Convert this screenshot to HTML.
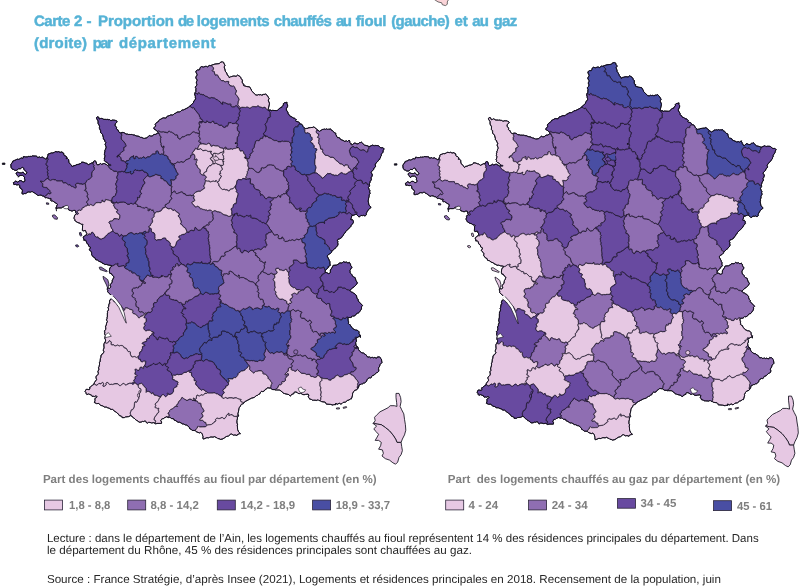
<!DOCTYPE html>
<html lang="fr"><head><meta charset="utf-8"><title>Carte 2</title>
<style>html,body{margin:0;padding:0;background:#fff}svg{display:block}</style></head>
<body>
<svg width="806" height="588" viewBox="0 0 806 588" font-family="'Liberation Sans', Arial, sans-serif" text-rendering="geometricPrecision">
<rect width="806" height="588" fill="#fff"/>
<g transform="translate(0,0)" stroke="#120f1c" stroke-width="0.62" stroke-linejoin="round">
<path d="M222.9,61.9 222.6,62.1 222.4,61.9 221.1,62.1 220.1,62.6 219.4,63.6 214.9,64.1 210.6,65.6 209.9,65.4 209.1,65.6 207.6,66.9 206.4,66.4 205.4,66.4 203.4,67.1 201.4,66.6 200.6,67.1 199.9,68.4 199.9,69.1 199.1,70.1 198.1,69.9 197.9,70.1 197.6,69.9 195.9,71.1 196.1,72.4 197.1,74.4 197.1,75.1 195.9,77.1 195.9,78.1 197.1,79.9 197.1,80.6 196.4,81.9 196.4,83.4 196.9,83.9 196.9,84.6 196.4,85.9 195.4,86.9 195.4,87.6 196.1,88.6 195.9,89.1 195.9,91.6 195.1,92.6 194.6,94.1 195.4,96.4 195.1,97.1 195.6,97.9 195.6,98.9 195.1,99.9 193.9,100.9 193.4,102.9 188.1,107.6 183.6,109.9 181.9,110.1 180.6,111.4 179.6,111.9 176.9,112.1 176.1,113.1 174.4,113.6 172.9,115.1 170.9,114.9 168.1,116.1 167.4,116.1 166.1,118.1 163.1,117.9 160.4,119.4 159.9,119.4 158.9,120.6 158.9,121.1 158.1,121.9 157.1,122.1 155.1,124.4 155.6,124.9 155.6,126.1 154.1,127.6 153.9,128.9 154.4,129.4 154.9,129.4 156.1,130.1 156.6,130.9 157.4,131.1 158.1,132.4 157.1,133.6 155.1,134.6 154.1,134.4 152.1,136.1 150.6,136.1 149.9,135.6 149.1,135.6 146.9,137.9 144.4,138.4 143.9,138.1 143.6,138.4 141.6,137.4 141.1,137.6 140.9,137.1 140.4,137.4 139.9,136.9 139.4,136.9 139.1,136.4 136.1,135.9 134.1,134.9 132.9,135.1 132.4,134.6 131.1,134.4 130.9,134.6 129.9,134.4 128.9,134.6 127.4,134.1 125.9,134.1 124.9,133.1 122.9,132.4 121.1,132.6 120.1,133.1 118.9,131.9 118.1,130.6 118.4,130.4 116.6,129.1 116.4,128.6 116.6,127.6 116.1,126.6 114.9,125.6 115.4,123.6 117.1,121.9 117.1,121.4 115.9,120.4 115.4,120.6 114.9,120.1 113.9,120.4 113.1,119.9 111.1,120.6 110.4,120.4 109.6,119.6 108.9,119.9 108.1,119.4 106.6,119.4 106.4,119.6 106.1,119.4 103.9,119.4 102.6,118.9 101.9,118.1 101.6,118.4 101.1,118.1 100.4,118.9 100.1,118.6 99.4,119.1 98.9,118.1 98.9,117.4 97.9,116.9 97.1,116.9 96.6,117.4 96.6,118.6 98.1,120.9 98.1,123.4 99.6,126.1 99.4,127.4 99.6,128.6 99.4,128.9 100.6,130.1 100.4,130.4 100.6,130.6 100.6,132.6 102.4,134.1 103.4,137.6 103.4,138.9 103.9,139.6 104.6,139.9 104.9,141.4 105.9,142.4 105.1,144.4 106.1,146.9 106.1,147.9 105.4,149.1 105.4,149.9 104.9,150.4 104.9,151.9 104.4,153.1 104.6,153.6 104.4,154.9 104.9,155.4 104.9,156.6 104.1,159.1 104.6,159.6 104.4,160.6 105.6,161.9 107.1,162.4 108.6,164.1 108.6,164.9 108.1,165.4 107.4,165.4 106.6,164.6 106.1,164.6 104.6,163.6 103.6,163.6 101.6,164.4 100.6,163.4 99.1,164.6 97.4,164.9 96.6,163.9 95.9,161.4 95.1,160.9 94.4,160.9 93.6,161.4 93.6,162.1 92.9,162.4 93.1,162.6 92.9,162.9 91.9,162.9 88.6,164.6 88.1,164.6 87.6,163.9 86.1,163.1 85.4,163.1 83.9,162.4 81.6,162.1 81.6,162.6 80.4,163.6 77.9,164.6 77.1,164.4 75.1,165.6 73.6,165.6 72.6,166.9 71.9,166.1 72.1,165.9 70.6,164.6 68.9,162.4 68.6,159.6 67.4,158.4 66.4,158.6 66.1,158.4 66.4,157.9 66.9,157.9 66.6,156.9 65.9,156.1 65.1,155.9 64.9,156.1 63.9,154.9 63.6,153.1 62.9,153.1 62.1,151.9 60.1,152.4 58.6,151.6 57.6,151.9 55.1,151.6 54.4,152.4 52.1,153.1 51.4,152.9 49.9,153.6 48.4,153.9 47.9,154.6 47.9,155.6 46.4,159.1 45.4,159.1 44.4,158.1 43.4,157.9 43.1,157.4 42.4,157.1 40.6,157.6 39.9,156.9 37.6,157.6 36.9,156.4 35.9,155.9 35.4,156.1 32.1,155.9 31.6,156.4 29.6,156.4 29.4,156.6 28.1,156.4 27.4,156.9 25.4,156.9 25.1,157.1 24.4,156.6 23.4,156.6 23.6,157.4 22.9,157.6 23.1,157.9 22.9,158.4 22.4,158.4 21.9,157.9 20.4,158.4 19.4,159.1 18.6,159.4 17.6,159.1 17.1,159.4 16.9,159.1 16.6,159.6 16.1,159.6 14.9,160.6 14.4,160.4 13.6,160.6 13.1,161.6 12.6,161.4 12.6,162.1 10.9,164.4 11.1,167.4 12.6,169.4 13.4,169.4 14.4,170.1 16.1,170.4 17.4,169.9 18.6,168.6 20.4,168.9 21.6,167.6 22.6,167.4 23.9,168.4 23.9,169.4 26.6,172.1 26.9,172.9 25.6,174.4 24.9,174.4 23.1,172.1 21.4,172.9 19.9,172.9 17.6,172.1 16.9,172.4 16.1,173.1 16.1,173.9 17.4,175.1 17.4,175.6 18.4,176.6 18.4,177.1 19.6,175.4 22.6,175.4 24.6,177.1 24.4,179.1 24.9,179.6 24.9,181.1 24.1,181.9 22.6,181.9 21.9,180.9 20.1,180.6 19.1,180.9 18.1,182.1 17.4,182.1 15.6,180.9 14.1,182.6 13.4,182.6 13.9,184.6 15.6,184.4 17.1,185.1 17.9,184.6 18.1,184.9 18.9,184.6 19.6,185.4 19.9,187.9 21.6,188.9 22.6,190.9 22.1,192.1 22.1,193.9 23.6,193.9 24.9,193.4 25.4,193.6 26.6,193.1 27.1,192.4 28.1,191.9 30.6,192.1 31.6,191.6 32.4,191.6 34.1,192.9 34.6,192.9 37.4,195.1 38.9,195.6 39.4,195.1 41.1,195.1 42.4,195.9 43.9,196.1 44.9,197.4 45.9,197.9 46.4,197.6 47.6,197.9 48.1,198.4 48.6,198.1 49.4,198.6 50.9,198.4 51.4,199.1 50.6,199.9 51.1,200.1 50.9,200.6 51.4,201.1 52.6,200.9 57.4,204.1 57.4,204.6 56.9,205.1 56.9,206.1 56.4,206.9 56.1,208.6 58.1,207.9 61.4,207.9 63.4,206.6 65.4,206.4 68.1,208.9 68.9,210.1 70.4,210.4 70.9,210.9 72.9,210.9 73.6,210.4 75.1,210.4 75.4,210.6 75.9,213.1 76.4,213.6 74.6,215.4 74.9,215.6 74.4,216.1 74.6,217.1 74.1,217.6 74.4,218.1 74.1,218.6 74.9,219.6 74.6,219.9 75.4,221.1 77.9,222.6 79.9,223.1 80.6,223.9 81.9,224.4 82.4,224.1 83.1,224.9 82.6,225.4 82.4,230.4 82.9,230.9 85.4,230.4 85.9,231.1 85.9,231.9 86.9,233.4 86.4,234.6 84.6,236.1 84.1,236.1 83.6,236.6 83.9,236.9 83.1,237.6 84.1,239.4 83.6,240.1 84.4,239.9 84.6,240.4 85.4,240.1 86.1,240.9 86.9,243.4 88.4,244.4 88.6,246.1 90.4,247.1 90.4,248.1 89.9,248.4 90.1,248.9 89.4,249.4 89.4,249.9 91.1,251.6 91.1,252.1 91.9,252.9 91.6,253.6 91.9,253.9 91.6,254.4 91.9,255.1 93.4,257.1 95.1,257.9 95.6,259.6 97.6,260.1 99.1,261.4 101.4,262.1 101.9,262.9 104.6,264.1 104.9,264.6 106.4,264.4 108.6,265.1 111.1,265.4 111.9,265.9 110.1,267.6 109.6,269.1 109.4,271.6 109.9,273.4 111.4,273.6 112.4,275.4 113.9,276.6 113.9,277.4 113.4,277.9 113.1,279.1 112.4,279.9 112.1,280.9 112.4,281.1 111.9,282.6 110.4,284.6 110.1,285.9 110.9,286.6 110.4,287.6 109.6,288.4 107.9,287.9 107.4,288.1 107.4,289.6 107.9,290.4 107.6,291.6 109.1,293.4 111.6,295.4 112.4,297.1 112.4,297.9 111.1,299.4 109.9,299.9 109.4,302.1 110.1,303.1 109.1,303.6 108.6,306.9 108.1,307.4 108.6,309.1 108.1,310.9 107.4,311.4 107.6,312.6 107.4,312.9 107.4,316.9 107.1,317.1 107.1,318.6 106.6,319.1 106.9,320.6 107.4,321.4 106.4,323.9 106.4,325.1 105.6,326.1 105.6,327.4 105.9,327.6 105.6,329.6 104.4,331.1 104.9,331.9 104.6,333.9 105.4,335.4 104.9,338.4 105.6,339.9 105.4,341.6 104.6,342.4 104.6,343.1 104.1,343.6 103.9,344.9 104.1,347.9 103.4,349.6 103.4,350.9 103.9,351.4 103.9,352.1 102.6,353.9 101.9,354.1 101.9,354.6 101.1,355.1 100.9,357.4 100.4,358.6 100.1,361.9 99.4,362.4 99.6,364.1 99.1,366.6 98.6,367.1 98.9,369.9 97.9,371.1 98.4,373.4 97.9,374.6 96.4,376.1 95.9,377.1 96.1,377.6 95.9,378.1 96.4,378.6 96.6,379.6 94.4,382.6 93.9,384.4 92.9,385.1 92.4,385.1 90.1,387.4 89.9,387.1 89.6,387.4 89.9,387.6 89.6,387.9 89.9,388.9 89.4,389.6 88.1,389.6 87.9,389.4 86.1,389.4 85.1,391.6 85.9,392.4 86.4,394.1 86.9,394.6 88.4,393.9 91.6,395.1 91.9,395.4 91.6,395.9 92.1,396.4 93.4,396.4 93.6,396.1 94.4,396.6 94.9,396.1 96.4,395.9 96.9,396.4 96.9,397.1 96.1,397.9 95.6,397.9 94.9,398.9 95.1,400.4 94.4,402.6 94.9,402.6 96.4,403.6 96.6,403.4 96.9,403.6 98.9,403.4 100.6,405.4 102.9,405.9 104.1,406.9 105.1,407.1 106.1,406.9 107.9,407.9 109.4,408.1 109.9,408.9 111.1,409.4 112.6,409.4 115.1,411.6 116.1,411.9 117.4,413.4 118.1,413.6 119.4,415.6 121.4,416.1 121.9,416.6 122.1,417.6 124.4,417.6 125.4,416.9 128.6,416.6 130.6,415.6 131.9,416.1 133.6,418.1 134.1,418.1 136.4,420.4 136.6,420.1 139.1,422.1 141.1,422.1 142.4,421.4 143.4,421.6 144.1,421.1 145.4,421.1 146.1,421.6 146.1,422.1 146.9,423.1 147.4,423.1 148.4,422.4 149.9,422.4 151.6,422.9 153.6,422.6 155.9,423.9 156.9,423.4 161.4,423.4 161.6,422.1 160.6,420.4 161.6,419.6 161.9,418.9 162.1,419.1 162.6,418.6 163.1,418.9 164.1,417.9 166.9,416.6 167.6,417.4 168.4,417.6 169.1,417.1 170.4,417.6 171.6,418.6 173.4,418.6 173.9,419.1 173.9,419.9 176.4,420.9 176.6,421.4 177.9,422.1 179.1,422.4 179.6,422.1 182.9,424.1 183.4,423.9 185.4,424.9 186.9,425.1 189.4,427.4 189.6,428.6 190.9,429.1 192.1,430.4 195.4,430.6 196.1,431.6 199.4,432.9 200.1,432.4 200.9,432.4 202.4,434.1 202.6,435.6 203.1,436.4 202.9,436.9 203.1,438.9 203.9,438.9 206.9,437.6 208.9,437.9 209.4,437.4 210.9,436.9 213.1,437.1 214.6,436.6 216.4,437.6 216.9,437.6 217.9,438.6 219.1,438.6 220.4,439.4 222.9,438.9 226.1,436.6 228.6,435.9 230.9,433.9 231.4,433.9 233.4,435.1 234.9,434.9 236.1,435.1 236.9,435.6 236.9,435.1 238.1,434.1 238.9,434.1 239.4,433.6 239.6,433.9 240.4,433.6 238.6,431.9 237.6,429.6 237.4,426.1 237.1,425.9 237.6,424.1 236.9,423.1 236.9,420.4 237.4,418.9 237.4,416.9 238.1,416.6 238.6,415.9 238.4,414.9 237.9,414.4 237.9,413.1 238.4,412.1 238.9,408.6 239.4,407.4 240.6,405.9 240.6,405.1 241.4,404.4 242.4,403.9 243.1,403.9 244.9,401.6 251.6,398.1 254.4,397.4 256.4,395.4 256.6,395.6 257.4,395.4 258.6,394.4 259.6,394.1 260.4,392.4 261.9,391.1 262.6,391.6 264.1,391.1 265.9,388.9 266.4,388.9 267.9,387.6 268.1,387.9 270.6,388.1 272.1,389.4 272.9,389.6 274.9,389.6 275.4,390.1 276.6,389.9 276.9,390.1 277.9,389.9 279.9,390.1 283.9,393.4 284.1,393.1 284.6,393.6 288.9,394.6 290.1,396.1 291.1,395.4 291.6,394.4 293.9,393.6 293.9,392.9 294.6,391.9 295.4,391.9 297.1,392.4 298.1,393.4 299.4,393.6 300.6,393.1 302.9,394.6 305.1,394.6 305.4,394.4 308.1,394.1 308.9,395.1 308.1,396.9 309.4,398.1 309.4,398.9 311.4,399.4 312.1,400.1 313.6,400.1 313.9,400.4 314.6,400.1 316.9,400.4 317.6,399.9 318.4,399.9 319.1,400.6 320.1,400.6 321.6,401.6 325.1,402.1 325.9,402.9 326.1,403.9 326.6,404.1 330.6,404.4 333.1,405.1 333.6,404.6 335.9,404.6 335.6,404.4 335.9,403.1 336.6,404.1 337.9,404.1 339.1,403.1 340.9,404.1 341.9,403.6 343.1,402.4 345.4,402.1 347.9,400.1 348.9,400.1 350.4,398.9 351.4,398.9 352.6,394.9 352.4,393.9 353.4,391.9 354.9,390.1 355.9,390.1 357.1,389.4 358.6,387.1 359.1,384.9 359.9,384.4 360.9,384.4 361.4,383.9 362.4,383.9 363.4,383.1 364.6,383.1 366.6,381.1 366.9,379.9 368.1,378.4 369.9,377.6 370.4,377.9 371.9,376.9 371.6,376.6 372.4,375.6 374.1,375.1 376.6,372.6 377.6,372.4 378.6,371.4 378.9,369.6 378.1,369.1 378.6,368.4 378.6,367.4 379.4,366.9 380.1,364.4 381.9,362.6 381.4,359.1 380.6,358.4 380.6,357.9 379.6,357.1 378.6,357.1 377.9,356.6 376.9,358.1 375.9,358.1 374.9,357.4 373.6,357.9 372.6,357.4 371.6,357.4 370.9,358.1 369.6,356.9 369.4,357.1 367.6,357.1 365.9,354.6 365.1,354.4 363.6,353.1 361.9,352.9 359.6,351.1 358.4,349.4 358.1,347.4 357.1,346.6 356.9,346.9 355.9,345.1 355.6,342.6 356.4,341.4 356.4,339.9 355.9,339.1 356.1,338.1 359.6,336.1 360.1,336.4 360.4,337.4 360.4,335.1 360.1,335.4 359.6,335.1 359.6,334.4 358.9,333.4 359.1,332.6 358.9,331.6 357.9,330.6 356.6,330.1 355.6,330.1 353.1,328.9 351.4,326.9 351.1,326.1 350.6,325.9 350.4,324.9 349.1,324.4 348.4,323.6 348.6,322.9 348.4,321.4 348.6,321.1 348.1,320.4 347.9,317.9 348.9,317.4 350.1,317.6 351.4,317.1 351.1,316.9 351.9,316.6 352.6,315.9 353.4,316.1 355.1,315.6 356.6,313.6 357.1,313.6 357.6,312.9 358.1,313.1 359.1,312.4 361.1,309.6 361.6,308.1 361.4,306.9 361.6,306.4 362.6,305.6 358.1,300.9 358.4,299.9 357.4,298.9 356.6,297.1 356.6,295.9 355.9,294.9 353.9,293.1 353.4,293.1 352.6,292.4 351.9,292.4 349.6,290.4 350.9,289.6 352.9,287.4 353.9,287.1 356.1,284.9 357.4,282.9 355.9,280.4 355.1,277.6 353.6,277.1 352.4,275.9 352.1,274.9 350.6,273.4 349.9,272.1 350.1,271.9 349.9,270.4 351.9,267.4 351.4,266.1 350.6,265.6 350.4,264.9 350.6,264.6 350.1,263.4 349.6,263.1 349.4,262.4 347.9,263.1 346.6,262.1 344.9,262.4 343.6,261.6 342.1,263.1 339.6,262.9 339.4,263.4 336.6,265.1 333.1,265.4 332.4,267.1 330.4,270.1 330.4,271.9 330.1,272.9 329.6,273.4 328.4,273.6 326.6,272.6 325.1,272.6 324.9,271.6 325.4,271.4 325.1,271.1 325.4,270.1 327.6,268.4 328.4,267.1 328.1,266.6 328.4,266.4 328.6,266.6 329.1,265.9 329.4,266.1 330.4,265.1 329.9,264.1 329.9,261.6 329.4,261.1 329.1,259.9 327.4,256.6 327.4,255.6 329.1,254.1 329.9,253.9 331.4,252.4 331.6,251.6 334.6,248.6 335.1,248.6 335.9,247.4 337.4,245.9 337.9,244.9 337.9,243.1 337.6,242.9 337.9,241.6 337.4,240.9 337.4,240.1 338.1,239.6 338.1,239.1 339.4,238.9 341.6,237.6 342.1,236.4 343.6,235.1 343.6,234.1 345.1,232.9 345.6,231.6 349.9,227.6 351.1,226.1 351.1,225.4 351.6,224.6 352.4,224.1 353.4,222.4 353.1,222.1 353.4,221.4 353.1,220.6 352.4,219.6 351.1,219.9 350.6,219.4 351.4,217.6 351.6,215.9 355.6,214.4 356.4,214.4 358.9,216.9 359.9,216.6 360.9,215.4 362.6,215.6 363.6,215.1 363.9,215.6 365.1,215.9 366.1,215.1 366.4,214.6 366.1,213.9 366.6,212.6 368.4,209.6 370.9,207.6 370.6,206.6 368.9,205.1 368.1,200.4 368.6,200.1 368.4,199.1 369.1,196.4 368.9,195.9 369.4,195.1 369.4,194.4 370.1,193.6 369.6,191.9 369.9,190.6 369.1,189.6 368.4,187.4 369.6,185.9 369.4,185.6 369.6,185.4 369.4,183.6 370.1,182.1 369.9,181.4 371.1,180.4 371.4,179.1 370.9,177.9 371.9,176.4 371.9,175.6 372.4,175.4 372.1,174.1 371.1,172.6 371.6,171.4 373.6,169.6 373.9,168.1 375.4,166.9 375.6,166.1 375.1,164.9 375.9,163.1 377.1,162.1 379.6,159.1 379.4,158.9 380.4,158.1 380.6,156.6 381.4,155.4 381.1,154.9 381.9,153.4 383.1,152.1 382.9,151.9 383.4,150.9 383.1,150.6 384.1,148.9 383.4,148.1 382.1,147.6 381.1,147.9 380.1,147.4 378.4,145.6 378.1,145.9 377.1,145.4 376.9,145.6 375.4,145.4 375.1,145.9 374.6,145.9 374.1,145.4 373.6,145.6 373.1,145.1 372.6,145.1 369.9,146.4 368.6,146.6 368.4,146.1 364.4,145.1 361.1,141.9 360.4,142.6 359.6,142.6 358.1,143.9 356.9,143.9 355.1,143.1 354.1,143.1 352.4,144.9 351.6,144.9 350.9,144.1 351.1,143.9 350.9,143.1 350.4,143.1 349.6,142.4 350.1,141.9 349.6,141.4 349.4,140.1 348.9,140.6 348.4,140.6 347.6,141.6 346.6,140.9 344.4,141.4 344.1,140.9 340.4,139.4 339.6,137.9 338.6,137.6 337.9,137.9 336.9,136.9 336.1,134.9 335.6,134.4 335.9,134.1 335.6,133.1 334.1,132.6 333.4,131.9 333.4,131.4 332.4,130.6 331.9,130.6 331.1,129.9 330.6,128.9 328.9,129.4 328.6,129.1 327.6,129.4 326.4,128.9 325.6,129.4 324.4,129.1 323.4,129.4 323.1,129.1 319.4,131.4 313.9,126.9 312.1,127.6 310.9,127.4 310.6,127.6 308.1,127.9 307.9,128.4 306.6,128.4 305.9,128.9 304.9,128.4 302.9,126.4 302.9,125.9 301.9,124.4 300.4,124.1 299.4,123.1 299.4,122.6 298.4,121.9 296.1,121.4 295.6,120.6 296.4,119.9 295.1,118.6 294.1,118.1 293.1,118.1 292.1,116.9 290.4,116.6 289.4,114.9 288.6,114.6 288.1,113.9 288.1,112.9 286.9,110.6 286.4,110.4 286.4,108.6 287.6,106.4 287.6,104.9 286.9,103.9 286.9,102.1 286.1,102.6 284.1,102.9 283.4,103.6 283.4,105.1 282.1,106.4 281.9,107.4 280.1,107.9 277.4,110.4 276.4,110.6 272.4,110.4 271.1,110.9 270.9,110.1 268.6,110.1 268.1,109.6 269.4,104.1 269.4,103.1 268.4,100.9 268.4,99.9 269.1,98.6 267.6,96.1 265.9,94.1 265.4,93.9 264.9,94.4 263.6,94.4 262.1,94.9 261.9,95.4 261.4,94.9 260.1,94.6 259.4,94.9 258.4,94.6 257.6,95.1 255.9,95.1 251.6,90.9 251.4,89.9 249.6,86.9 246.9,86.6 243.6,85.6 243.4,84.9 243.9,84.4 243.6,84.1 243.4,84.4 243.1,83.4 242.1,82.6 242.4,80.1 241.1,78.6 241.1,78.1 240.1,76.6 237.6,75.1 236.1,76.4 234.9,76.1 233.1,76.1 231.6,76.6 230.9,76.4 230.1,77.4 229.1,77.6 228.9,76.4 227.1,74.9 227.1,74.1 226.1,72.1 225.1,71.1 225.1,70.1 224.1,66.9 224.9,65.9 224.9,64.9 224.1,64.1 223.6,62.4Z" fill="#8f6eb2"/>
<path d="M293.4,260.4 293.4,261.6 293.9,262.6 293.6,264.1 290.9,266.4 289.6,266.9 289.1,267.9 290.1,270.4 288.9,271.9 288.6,275.4 289.4,276.1 289.4,276.9 288.6,277.6 288.6,278.4 289.1,279.1 289.1,282.1 289.6,283.6 291.1,286.1 293.6,287.6 294.1,287.4 295.1,287.6 296.6,289.6 298.9,289.6 299.1,289.4 300.9,290.4 302.1,289.9 303.6,290.1 305.4,287.6 307.1,286.9 308.4,286.9 310.9,288.9 311.4,291.1 313.1,292.9 315.4,293.9 317.4,293.4 318.1,292.6 318.6,290.6 318.1,289.9 319.6,288.1 320.1,288.1 321.6,285.9 323.6,286.1 322.9,285.4 322.9,282.9 321.9,281.1 320.9,280.9 320.9,279.9 319.9,277.4 321.6,275.9 321.6,275.1 322.1,274.4 324.4,273.4 325.1,272.6 324.9,271.6 325.4,271.4 325.1,271.1 325.4,270.9 324.4,269.1 324.1,267.6 323.1,267.4 322.4,267.9 319.4,268.1 318.6,267.4 318.1,267.4 315.9,269.1 315.1,269.1 313.9,267.9 311.4,268.1 307.6,267.1 306.9,265.9 307.1,264.4 305.9,262.1 305.1,262.1 304.1,263.1 300.9,263.1 299.6,262.6 298.4,261.1 296.6,260.1 293.9,260.1Z" fill="#684aa0"/>
<path d="M264.9,107.4 262.4,107.9 260.6,107.1 259.9,107.1 258.1,105.9 257.6,105.9 256.6,106.9 252.4,106.6 252.1,107.1 250.1,108.1 249.4,108.1 247.6,107.1 246.4,107.1 245.6,107.6 241.9,107.4 240.4,108.1 239.4,109.1 240.1,110.4 240.1,111.6 239.1,113.4 239.1,114.1 239.9,115.9 238.6,116.9 238.4,117.9 238.9,118.9 238.4,119.9 237.1,120.6 235.9,122.9 236.1,123.6 237.6,123.9 238.4,124.6 238.1,126.4 237.4,127.4 237.6,130.4 237.9,130.9 239.6,131.9 238.9,133.6 238.6,134.9 238.9,135.6 237.9,136.4 237.4,137.9 237.1,141.9 236.9,142.1 237.1,142.6 236.9,142.9 237.4,143.4 237.6,144.4 237.4,144.9 237.6,145.1 236.6,146.4 237.1,147.1 238.6,147.6 239.4,148.4 239.4,149.1 240.1,150.6 240.9,151.1 241.1,150.9 242.6,150.9 243.6,151.6 243.9,153.4 245.4,154.9 245.9,156.9 245.6,157.4 244.6,157.1 244.6,157.9 245.1,158.4 245.6,158.4 245.9,157.4 246.4,158.9 246.9,158.9 247.4,158.4 247.9,158.6 249.1,158.4 249.6,157.9 249.4,156.6 250.4,155.9 249.9,154.4 250.4,153.9 250.9,153.9 253.1,151.1 252.4,150.4 252.4,149.4 254.1,147.4 254.4,144.9 255.1,143.4 255.4,141.4 256.4,140.6 257.6,140.4 259.1,140.6 260.6,138.1 262.6,138.4 263.1,136.4 263.6,135.9 264.6,135.9 265.1,136.4 266.1,136.6 265.9,135.9 263.9,134.9 263.4,134.1 263.4,133.4 264.9,132.1 265.6,130.9 266.1,128.9 266.1,126.9 264.9,124.1 266.9,122.1 266.9,121.4 267.6,119.9 267.9,117.9 268.6,117.4 270.1,117.1 270.4,116.6 270.1,116.1 270.1,113.4 270.4,113.1 270.1,112.9 270.4,112.6 269.4,111.9 269.4,111.4 268.6,110.4 267.6,110.1Z" fill="#684aa0"/>
<path d="M211.9,263.1 212.4,263.6 212.6,263.4 213.9,263.6 214.6,264.4 214.6,265.6 217.4,267.1 218.4,268.1 219.4,269.9 221.4,270.1 221.9,270.6 221.9,271.4 221.4,272.1 221.6,273.1 221.4,274.4 221.6,275.4 222.4,276.4 223.1,276.1 223.4,275.6 223.1,274.4 223.6,273.9 225.4,273.9 226.1,273.4 227.9,274.1 229.4,273.9 228.9,271.9 229.6,271.1 230.4,271.1 232.6,272.1 234.1,274.1 237.6,276.4 238.1,275.9 238.1,275.4 238.9,274.9 239.4,275.6 238.9,277.1 239.4,278.1 239.9,278.1 240.6,277.4 242.9,277.4 243.1,277.6 243.4,277.4 243.9,277.9 246.9,279.1 247.9,280.1 250.1,281.4 251.1,281.4 253.4,282.1 255.6,284.1 255.6,285.1 255.9,285.1 255.9,283.1 258.9,280.4 258.9,279.9 257.9,278.4 258.1,278.1 258.1,275.6 259.4,274.4 260.4,273.9 261.1,271.9 261.9,271.4 262.6,271.4 262.6,270.9 263.4,270.1 263.4,269.6 264.4,268.1 264.1,265.4 264.6,264.4 264.6,263.4 265.6,262.1 265.1,261.9 264.4,262.6 263.6,262.9 261.6,261.4 260.6,261.4 259.6,260.4 259.9,259.4 259.6,258.6 258.9,257.9 257.6,257.4 257.1,255.9 256.4,255.9 255.4,255.4 255.6,254.9 255.4,254.6 255.9,254.1 255.9,253.1 254.4,252.6 253.6,251.9 253.4,250.9 252.9,250.4 251.1,250.4 249.4,251.4 248.4,252.6 246.9,251.1 244.1,250.4 243.9,251.4 243.1,252.4 242.4,252.9 241.6,252.9 240.4,251.4 240.1,249.4 239.4,248.4 238.6,248.4 237.6,249.1 236.9,248.6 236.6,245.6 236.1,246.4 234.6,246.9 230.9,249.9 228.9,250.9 228.1,251.6 227.1,251.6 225.1,252.4 224.6,253.1 225.1,254.4 224.9,255.6 224.1,256.4 222.9,256.1 221.4,256.4 219.9,259.9 217.4,261.9 213.9,261.6Z" fill="#8f6eb2"/>
<path d="M356.6,337.4 355.6,337.1 355.4,337.4 355.4,338.6 354.6,339.4 352.9,339.9 353.4,341.1 352.6,341.9 351.9,341.9 348.4,344.6 347.1,344.4 345.9,344.9 345.1,343.9 342.6,344.4 341.6,343.6 340.1,343.1 339.1,343.1 338.1,343.6 336.4,345.1 335.4,346.6 335.4,347.1 336.4,347.1 336.9,347.6 336.6,348.6 333.9,348.4 333.1,348.9 332.1,348.9 330.9,349.6 329.4,349.4 328.4,350.6 327.6,350.6 327.1,351.1 326.9,352.4 325.9,353.9 324.1,355.4 323.9,357.4 322.4,358.4 320.9,358.1 320.4,358.4 320.6,358.6 319.9,359.6 317.9,359.1 316.1,360.4 315.9,361.9 316.4,362.6 316.9,362.6 317.4,363.1 317.9,364.6 316.4,368.1 316.9,369.1 317.9,369.9 318.4,371.1 318.4,372.6 317.9,373.4 316.9,373.6 316.9,374.4 317.9,375.4 319.4,375.9 320.1,377.1 321.1,377.9 321.9,377.6 322.9,378.4 327.4,378.6 328.9,379.9 330.6,380.1 331.1,379.9 331.1,379.4 331.9,378.6 334.4,377.9 334.9,377.4 335.1,376.4 336.1,375.4 336.4,375.6 337.9,374.9 339.4,376.6 340.9,376.9 342.9,376.1 344.4,374.9 347.6,374.1 348.6,373.4 350.1,373.4 350.4,373.6 350.9,373.1 350.9,371.9 351.4,371.4 352.6,371.9 353.9,371.4 355.9,369.4 356.1,368.4 355.6,367.4 353.9,367.1 353.1,366.4 353.1,364.9 352.6,363.9 352.6,363.1 350.1,359.6 349.9,357.4 350.4,356.6 351.9,355.9 352.4,353.9 351.9,352.6 352.4,351.9 353.6,351.4 354.6,348.6 355.1,348.1 355.9,348.1 356.6,348.6 357.1,348.4 357.4,347.6 356.1,347.4 355.9,347.9 355.1,347.9 353.6,346.6 355.9,344.4 355.6,342.6 356.4,341.4 356.4,339.9 355.9,339.1Z" fill="#684aa0"/>
<path d="M348.1,317.6 346.9,316.9 345.6,318.6 344.1,318.6 343.4,317.9 342.9,317.9 342.9,318.4 341.9,319.9 339.9,319.9 339.6,319.6 339.4,319.9 338.4,318.4 337.1,318.6 335.4,317.9 333.9,317.9 333.6,317.6 333.1,317.9 332.9,318.6 334.1,319.1 335.6,321.6 335.4,323.9 336.4,325.1 336.1,325.4 336.4,325.6 336.1,327.4 335.4,327.9 334.6,327.9 333.6,328.9 333.9,329.9 335.4,331.4 335.4,332.9 334.4,333.1 333.4,332.4 331.9,332.4 330.4,333.1 328.9,332.4 327.4,333.6 325.6,332.9 324.1,333.1 323.6,333.6 323.9,334.4 325.1,334.9 325.4,335.4 324.4,336.1 323.6,336.1 322.6,335.6 321.1,336.4 321.1,337.6 319.6,339.1 318.1,339.4 317.4,339.9 317.6,342.6 316.6,343.6 315.9,343.6 315.6,344.4 316.1,344.9 315.4,345.6 314.6,345.9 313.4,347.4 311.6,347.9 311.1,348.4 311.4,349.6 311.9,349.6 313.4,350.9 314.6,351.4 316.4,352.9 316.6,353.4 316.4,355.4 316.9,356.1 319.4,356.4 319.6,357.6 320.4,358.1 320.9,357.9 322.4,358.1 323.6,357.4 323.9,355.4 325.6,353.9 326.6,352.4 326.9,351.1 327.6,350.4 328.4,350.4 329.4,349.1 330.9,349.4 332.1,348.6 333.1,348.6 333.9,348.1 336.6,348.4 336.6,347.6 335.4,347.4 335.1,346.6 336.1,345.1 338.1,343.4 339.1,342.9 340.1,342.9 341.6,343.4 342.6,344.1 345.1,343.6 345.9,344.6 347.1,344.1 348.4,344.4 351.9,341.6 352.6,341.6 353.1,341.1 352.6,339.9 353.4,339.4 354.6,339.1 355.1,338.6 355.1,337.4 355.6,336.9 356.4,336.9 357.1,337.6 359.9,336.1 360.4,337.4 360.4,335.1 360.1,335.4 359.6,335.1 359.6,334.4 358.9,333.4 359.1,332.6 358.9,331.6 357.4,330.4 355.6,330.1 353.1,328.9 351.4,326.9 351.1,326.1 350.6,325.9 350.4,324.9 349.1,324.4 348.4,323.6 348.6,322.9 348.4,321.4 348.6,321.1 348.1,320.4 348.1,319.1 347.9,318.9Z" fill="#494ea3"/>
<path d="M355.9,344.6 353.9,346.6 355.1,347.6 355.9,347.6 356.1,347.1 356.9,347.1 357.6,347.6 357.4,348.4 356.9,348.9 355.9,348.4 355.1,348.4 354.4,349.6 353.9,351.4 352.9,352.1 352.4,352.1 352.1,352.6 352.6,353.9 352.4,354.1 352.4,355.4 351.9,356.1 350.4,356.9 350.1,358.6 350.9,360.6 352.9,363.1 352.9,363.9 353.4,364.9 353.4,366.4 353.9,366.9 355.6,367.1 356.1,367.6 356.4,368.9 353.9,371.6 352.6,372.1 351.4,371.6 351.1,371.9 351.1,373.1 350.6,373.4 350.6,373.9 351.1,374.6 352.1,374.9 354.1,376.1 355.9,378.9 357.4,380.4 358.4,382.4 357.6,384.1 357.9,385.4 357.4,387.1 357.4,388.1 357.6,387.9 358.1,388.1 359.4,384.6 360.9,384.4 361.4,383.9 362.4,383.9 363.4,383.1 364.6,383.1 366.6,381.1 366.9,379.9 368.1,378.4 369.9,377.6 370.4,377.9 371.9,376.9 371.6,376.6 372.4,375.6 374.1,375.1 376.6,372.6 377.6,372.4 378.6,371.4 378.9,369.6 378.1,369.1 378.6,368.4 378.6,367.4 379.4,366.9 380.1,364.4 381.9,362.6 381.4,359.1 380.6,358.4 380.6,357.9 379.6,357.1 378.6,357.1 377.9,356.6 376.9,358.1 375.9,358.1 374.9,357.4 373.6,357.9 372.6,357.4 371.6,357.4 370.9,358.1 369.6,356.9 369.4,357.1 367.6,357.1 365.9,354.6 365.1,354.4 363.6,353.1 361.9,352.9 359.6,351.1 358.4,349.4 358.1,347.4 357.1,346.6 356.9,346.9Z" fill="#8f6eb2"/>
<path d="M290.1,311.1 286.9,310.9 284.1,313.4 283.6,313.4 283.1,312.6 281.9,312.6 280.6,313.4 280.4,315.1 281.4,316.4 281.4,316.9 279.9,318.9 279.1,322.4 278.6,323.1 277.9,323.1 276.9,322.6 276.4,323.1 276.6,324.1 276.1,324.6 275.6,324.6 275.1,324.1 274.4,324.1 273.6,326.6 273.6,328.6 274.1,329.6 273.1,330.9 270.1,331.1 269.1,330.6 268.4,330.6 267.4,331.6 265.9,332.1 265.4,332.6 264.1,332.6 261.9,333.9 262.1,334.1 261.6,335.1 261.4,336.9 262.1,336.4 262.6,336.4 263.1,336.9 262.6,338.6 263.6,341.4 264.4,341.9 265.4,341.9 266.1,342.6 265.1,344.1 265.9,347.9 267.6,349.9 268.1,351.1 270.4,353.1 271.4,352.6 272.6,352.6 273.4,353.6 274.1,353.6 274.6,352.9 276.6,351.9 277.9,351.9 278.9,352.4 281.9,351.6 283.9,353.6 284.9,353.6 285.9,352.6 286.9,354.1 287.4,354.1 286.6,353.4 287.1,349.6 288.1,348.6 288.1,347.9 287.4,346.9 287.9,345.9 288.9,346.4 289.4,345.9 288.9,345.1 287.9,345.1 287.6,345.6 287.1,345.6 286.1,344.1 288.1,342.6 288.1,340.6 289.6,339.4 290.6,337.4 290.6,335.9 289.6,334.6 289.9,334.1 289.6,330.9 290.4,329.6 289.9,323.6 291.4,321.6 291.1,320.6 291.6,319.4 290.6,317.6 290.9,316.4 290.4,315.9 290.4,311.4Z" fill="#494ea3"/>
<path d="M286.9,102.1 286.1,102.6 284.1,102.9 283.4,103.6 283.4,105.1 282.1,106.4 281.9,107.4 280.1,107.9 277.4,110.4 276.4,110.6 272.4,110.4 271.1,110.9 270.9,110.1 268.9,110.1 269.6,111.9 270.6,112.6 270.4,112.9 270.6,113.1 270.4,113.4 270.4,116.1 270.6,116.6 270.1,117.4 268.1,117.9 267.9,119.9 267.4,120.6 267.1,122.1 265.1,124.1 266.4,126.9 266.4,128.9 265.9,130.9 265.1,132.1 263.6,133.4 263.6,134.1 263.9,134.6 266.4,136.1 267.4,136.1 268.6,137.6 270.6,137.9 271.6,138.9 274.1,140.4 276.9,140.4 278.1,141.6 281.1,141.6 281.9,140.9 283.6,141.4 284.4,141.1 288.6,141.4 289.9,142.6 290.9,143.1 292.6,142.4 292.1,141.4 292.1,139.9 292.4,139.6 292.1,139.4 292.1,137.6 293.1,136.4 294.1,134.1 294.1,133.4 293.6,132.6 293.6,130.6 294.1,128.1 295.9,126.4 296.9,126.9 297.6,126.9 297.9,126.6 297.6,125.9 298.6,124.4 300.6,124.1 298.4,121.9 296.1,121.4 295.6,120.6 296.4,119.9 295.1,118.6 294.1,118.1 293.1,118.1 292.1,116.9 290.4,116.6 289.4,114.9 288.9,114.9 288.1,113.9 288.1,112.9 286.9,110.6 286.4,110.4 286.4,108.6 287.6,106.4 287.6,104.9 286.9,103.9Z" fill="#684aa0"/>
<path d="M168.1,413.1 168.1,413.9 169.1,414.4 169.6,415.1 168.6,416.4 167.4,416.9 167.6,417.4 168.4,417.6 169.1,417.1 170.4,417.6 171.6,418.6 173.4,418.6 173.9,419.1 173.9,419.9 176.4,420.9 176.6,421.4 177.9,422.1 179.1,422.4 179.6,422.1 182.9,424.1 183.4,423.9 185.4,424.9 186.9,425.1 189.4,427.4 189.6,428.6 190.9,429.1 192.1,430.4 194.4,430.4 194.9,430.6 195.6,429.9 195.9,429.1 197.1,428.1 197.4,426.9 198.4,425.9 199.4,426.9 200.6,426.6 203.1,426.9 203.4,426.6 205.6,426.6 207.1,425.1 206.1,424.6 205.9,422.9 205.4,422.4 204.6,422.4 202.4,420.4 200.9,420.4 200.6,420.6 199.9,420.4 199.9,419.6 200.6,418.4 202.6,416.9 202.9,415.6 201.6,413.6 202.1,412.6 203.6,411.6 203.9,411.1 203.9,410.4 203.1,409.4 202.9,408.4 201.4,407.1 200.6,403.4 200.4,403.1 199.4,403.4 198.4,403.1 197.4,401.4 196.9,401.1 194.6,400.9 194.1,400.4 192.1,400.4 191.1,399.1 190.9,399.4 189.9,399.1 187.6,400.4 186.4,400.4 184.6,399.1 184.1,399.1 182.1,397.4 181.6,397.9 181.4,399.1 178.9,401.4 178.1,403.6 176.9,404.6 176.6,405.4 177.6,406.4 177.4,406.6 176.1,406.4 175.1,406.6 172.9,408.6 170.6,409.6 169.6,410.6 169.6,411.6 169.1,412.4Z" fill="#8f6eb2"/>
<path d="M248.6,168.4 248.4,170.4 247.4,171.6 247.6,172.9 246.9,174.4 246.9,175.4 245.9,176.6 246.4,177.1 245.6,178.1 244.6,178.6 245.4,179.1 247.1,179.1 247.4,178.9 249.1,178.9 249.6,178.4 250.1,178.4 250.6,179.1 250.4,183.4 251.1,183.9 253.1,184.1 253.9,185.4 253.9,187.1 254.6,187.6 254.9,188.4 255.6,189.1 259.1,190.1 260.1,191.4 259.9,192.6 261.1,194.4 260.4,195.1 260.9,195.4 261.9,194.4 264.6,196.9 264.6,197.4 265.4,198.4 266.4,198.6 268.1,197.1 270.1,197.1 271.4,197.9 272.4,197.6 272.9,198.1 275.1,197.6 275.9,197.9 277.4,196.9 277.6,196.1 278.4,195.4 279.1,195.6 279.9,197.1 280.6,197.1 280.6,195.6 281.4,194.9 282.4,194.6 283.6,193.6 285.1,193.9 286.4,192.1 286.1,191.4 286.6,190.4 287.4,189.6 288.6,189.1 288.6,187.9 288.4,187.6 288.6,185.6 287.6,184.1 288.4,183.1 288.4,182.4 286.9,181.1 286.4,178.6 284.4,176.9 283.4,175.1 283.6,170.6 282.6,171.1 281.1,170.9 279.4,170.1 278.1,169.1 276.1,168.9 275.4,168.1 275.1,166.9 273.9,165.6 272.6,165.4 271.9,164.9 271.1,165.1 270.9,164.9 267.6,165.1 266.6,166.9 263.9,168.1 263.1,168.1 262.1,167.6 261.4,168.1 261.1,170.6 259.9,171.1 259.1,172.6 257.6,172.6 255.6,171.6 252.9,168.9 251.4,168.4 250.6,168.4 250.1,168.9 248.9,168.1Z" fill="#8f6eb2"/>
<path d="M193.4,398.1 193.4,398.6 194.6,400.1 197.4,401.1 198.4,402.9 198.9,403.1 200.4,402.9 200.9,403.4 201.6,407.1 203.1,408.4 203.1,408.9 204.1,410.4 204.1,411.1 203.6,411.9 202.4,412.6 201.9,413.6 203.1,415.6 202.9,416.9 200.9,418.4 200.1,419.6 200.1,420.4 202.4,420.1 204.6,422.1 205.4,422.1 206.1,422.9 206.1,424.1 206.9,424.9 211.4,424.4 212.6,423.4 213.1,423.4 214.4,421.6 215.4,421.4 215.9,420.9 215.4,419.6 216.9,417.9 218.1,418.4 220.1,418.4 221.1,417.6 222.4,417.4 223.9,418.6 224.4,418.6 226.1,416.6 226.4,415.4 228.6,413.1 229.1,413.4 228.9,415.4 229.6,415.1 229.9,415.4 230.6,414.6 231.9,414.6 232.6,414.9 233.1,415.9 234.9,416.4 237.1,416.1 237.9,414.9 237.9,413.1 238.4,412.1 238.9,408.6 239.4,407.4 240.6,405.9 240.6,405.1 241.4,404.4 242.4,403.9 243.1,403.9 244.1,402.4 243.1,402.6 242.6,402.1 241.1,401.9 240.4,400.4 241.1,399.6 237.6,398.6 236.4,397.9 234.9,397.9 233.6,398.4 232.1,397.9 228.9,397.9 227.9,398.4 227.1,398.4 225.9,397.6 225.1,397.6 224.6,398.1 223.6,398.4 222.6,398.1 222.1,397.6 221.9,396.6 221.1,396.6 220.1,395.4 219.1,395.1 217.1,393.6 216.6,393.9 215.9,393.6 215.1,392.9 213.4,392.9 213.1,393.1 207.4,392.9 206.6,393.4 204.9,393.4 203.4,395.1 202.1,395.1 201.9,394.9 200.6,395.1 199.6,396.1 198.9,396.1 198.1,395.4 197.1,395.1 196.6,396.1 196.4,398.4 195.6,399.4 194.9,399.4 193.9,398.1Z" fill="#e6c8e3"/>
<path d="M222.1,331.1 221.6,331.6 221.6,334.4 221.4,334.9 220.6,335.4 218.9,335.1 218.9,336.4 218.1,337.1 217.4,337.4 217.1,337.1 216.6,337.4 214.4,337.4 214.1,337.1 211.6,338.9 212.1,340.1 211.4,340.9 210.4,339.9 208.6,340.1 208.6,340.6 207.6,341.4 207.4,342.1 205.9,343.4 205.4,342.6 204.1,342.6 203.6,343.1 203.4,344.1 202.9,344.4 201.4,346.6 199.6,348.1 199.9,348.6 199.6,349.9 199.9,350.1 199.9,351.4 201.9,353.6 201.9,354.4 201.4,354.6 201.9,355.4 201.9,357.1 201.4,359.6 203.1,361.1 203.6,361.1 205.4,359.6 206.9,359.4 208.9,360.9 211.1,361.1 213.1,361.9 214.1,362.9 214.1,363.4 214.9,364.1 214.6,364.4 216.4,365.9 216.9,368.1 218.4,369.1 219.9,369.6 220.9,371.9 220.1,373.6 220.4,374.6 222.4,376.4 222.4,376.9 223.1,377.6 224.4,378.4 224.4,378.9 225.9,380.1 226.4,380.1 226.9,381.6 227.9,382.6 228.4,382.6 229.1,381.1 229.1,380.4 228.1,379.6 227.6,378.9 227.9,378.6 232.9,378.9 232.9,378.4 233.6,377.4 234.9,377.4 235.1,377.6 235.9,377.4 237.4,375.6 238.1,374.1 238.1,373.4 238.9,372.6 240.1,372.1 241.1,370.9 242.9,370.9 244.1,370.1 244.9,370.1 245.4,369.1 246.6,368.4 248.9,365.6 246.9,363.1 246.6,362.1 244.9,360.9 244.9,359.9 244.1,359.1 243.9,357.9 242.9,357.1 241.1,356.9 240.1,355.9 240.1,354.9 241.6,353.6 241.4,352.9 240.4,351.9 239.1,351.9 238.6,351.4 238.6,350.6 239.1,349.9 238.6,347.6 238.9,347.1 238.6,346.9 238.9,344.9 237.6,343.4 237.9,341.1 236.9,339.9 236.4,337.9 235.9,337.9 234.4,336.6 234.1,336.9 232.9,336.6 232.4,336.1 232.4,335.4 231.4,334.1 229.9,333.9 229.4,333.1 228.1,332.4 226.1,332.1 225.6,331.6 224.1,331.1Z" fill="#494ea3"/>
<path d="M275.1,389.6 275.4,390.1 276.6,389.9 276.9,390.1 277.9,389.9 279.9,390.1 283.9,393.4 284.1,393.1 284.6,393.6 288.9,394.6 290.1,396.1 291.1,395.4 291.6,394.4 293.9,393.6 293.9,392.9 294.6,391.9 296.6,392.1 298.1,393.4 299.4,393.6 300.6,393.1 302.9,394.6 305.1,394.6 305.4,394.4 308.1,394.1 308.9,395.1 308.1,396.9 309.4,398.1 309.4,398.9 311.4,399.4 312.1,400.1 316.9,400.4 317.6,399.9 318.4,399.9 319.1,400.6 319.6,400.6 320.6,399.4 320.6,397.6 321.1,396.9 321.1,396.1 320.6,395.4 320.6,393.9 321.1,393.1 320.9,390.9 320.1,390.1 320.9,387.9 319.9,385.9 319.9,382.1 320.4,381.4 321.1,381.1 321.9,380.4 321.9,378.6 321.6,378.1 320.6,377.9 319.4,376.1 318.1,375.6 317.4,375.6 316.6,376.9 315.6,377.4 314.4,377.4 312.9,376.6 310.9,376.6 309.6,374.4 306.4,374.6 305.1,373.6 301.6,373.4 299.9,372.1 297.4,369.6 296.6,370.1 296.1,371.1 294.9,371.4 293.6,370.4 291.6,370.1 291.1,369.6 291.4,368.6 290.9,367.9 289.4,367.9 288.4,368.6 288.4,370.9 288.1,371.4 287.4,371.6 285.1,374.1 285.4,374.9 286.4,374.9 286.6,374.1 287.4,373.4 288.6,373.9 288.4,375.4 287.6,376.1 286.9,375.9 286.1,377.6 285.4,378.6 285.6,380.4 283.9,381.9 282.1,381.6 281.6,382.1 282.1,383.1 281.9,383.9 280.6,384.9 279.4,384.6 277.6,387.9 276.6,388.9 276.1,388.9Z" fill="#e6c8e3"/>
<path d="M121.9,132.6 122.1,133.1 121.6,133.6 121.9,135.9 121.1,136.9 121.4,137.1 121.4,139.1 124.1,141.9 125.6,144.1 126.1,146.1 125.4,146.9 123.9,147.4 123.9,150.6 122.9,151.6 122.1,151.6 120.4,153.4 119.9,154.9 117.9,155.4 117.1,156.4 117.1,157.1 117.4,157.1 117.9,155.9 118.9,155.6 120.9,157.6 121.6,160.6 123.4,160.6 125.6,162.1 126.1,160.9 128.9,160.1 129.6,159.4 129.6,158.6 130.1,157.6 131.1,156.9 132.4,156.6 133.1,155.6 133.9,155.9 133.6,156.9 133.9,157.1 133.4,157.9 134.1,158.6 135.4,158.4 134.9,157.1 135.9,156.1 137.4,156.6 138.6,158.4 140.6,157.9 141.9,158.1 143.4,156.6 144.1,156.9 144.6,157.9 145.4,158.1 147.9,156.6 149.6,156.9 151.9,154.4 152.9,153.9 155.4,153.9 155.9,153.4 155.9,151.4 156.4,150.9 157.9,151.1 158.6,152.1 158.4,153.1 159.6,154.1 160.6,154.4 161.6,153.9 162.4,154.1 163.1,153.9 163.6,153.1 163.6,151.4 163.1,150.4 163.1,148.9 163.9,147.4 163.9,146.1 163.1,146.4 162.9,147.6 162.4,147.6 161.6,146.9 160.9,144.1 161.1,143.4 160.4,142.1 160.4,140.9 160.6,140.6 160.4,140.4 160.9,139.9 160.4,139.4 160.4,138.4 161.1,136.9 160.1,136.4 159.1,133.9 159.1,133.1 158.9,133.4 157.4,133.4 155.1,134.6 154.1,134.4 152.1,136.1 150.6,136.1 149.9,135.6 149.1,135.6 146.9,137.9 144.4,138.4 143.9,138.1 143.6,138.4 141.6,137.4 141.1,137.6 140.9,137.1 140.4,137.4 139.9,136.9 139.4,136.9 139.1,136.4 136.1,135.9 134.1,134.9 132.9,135.1 132.4,134.6 131.1,134.4 130.9,134.6 129.9,134.4 128.9,134.6 127.4,134.1 125.9,134.1 123.9,132.6 122.9,132.4Z" fill="#8f6eb2"/>
<path d="M221.1,300.9 220.1,301.9 220.4,303.6 219.9,304.6 220.9,306.6 220.4,307.1 219.4,306.9 216.9,307.6 216.6,309.6 216.1,310.9 215.1,311.9 213.9,312.1 212.6,314.6 213.1,315.4 213.1,316.1 212.1,317.1 212.1,318.6 212.9,319.9 212.9,320.6 212.4,321.1 209.4,320.9 208.6,322.4 208.6,323.4 208.1,324.1 208.1,327.9 208.4,328.1 208.4,329.4 208.9,330.1 209.1,332.6 209.6,333.1 209.9,334.4 209.4,336.6 211.4,338.6 214.1,336.9 214.4,337.1 218.1,336.9 218.6,336.4 218.6,335.1 218.9,334.9 220.1,335.1 221.1,334.9 221.4,334.4 221.4,331.6 222.1,330.9 224.1,330.9 225.1,331.1 226.1,331.9 228.1,332.1 230.4,333.9 231.4,333.9 232.6,335.4 232.9,336.4 233.4,336.6 234.4,336.4 235.1,337.1 236.6,337.9 237.1,337.6 236.9,336.9 236.1,336.9 234.6,336.1 235.4,333.1 236.1,332.1 239.4,332.4 239.9,331.9 240.9,329.4 241.4,329.1 242.4,329.4 245.1,327.6 245.1,326.6 245.6,326.1 245.6,325.6 245.4,325.9 244.1,325.9 243.4,324.9 244.4,323.9 244.6,321.4 243.4,320.9 242.4,319.6 242.6,317.1 242.1,316.1 240.9,315.4 240.6,313.4 239.1,311.9 238.4,310.6 236.9,310.6 236.6,310.9 235.4,310.6 234.1,308.6 233.4,308.6 232.1,307.9 231.4,307.9 228.6,306.6 227.1,305.1 225.9,304.4 224.4,304.4 223.1,303.4 221.9,303.1 220.9,302.4 221.1,302.1Z" fill="#494ea3"/>
<path d="M171.6,273.6 170.6,274.6 169.1,274.6 168.9,274.9 168.6,274.6 168.1,275.1 168.4,275.9 167.6,276.9 164.9,276.9 164.1,276.6 163.1,275.6 162.9,275.9 161.4,275.6 162.4,276.4 162.1,276.6 160.6,276.9 160.4,277.4 158.9,277.9 158.1,277.9 156.9,277.1 156.6,277.4 155.6,277.1 152.9,277.4 151.4,276.1 150.6,276.4 149.6,276.1 149.4,276.4 148.4,275.4 147.4,275.4 146.9,275.6 146.1,277.1 144.4,278.9 143.6,280.6 142.1,280.9 140.6,280.1 140.6,280.6 141.1,281.1 142.1,281.1 142.9,281.6 143.6,281.4 144.6,281.6 145.6,282.9 145.4,283.4 144.1,283.4 143.4,282.9 142.4,282.9 141.4,285.4 140.6,286.1 139.9,286.1 138.4,287.1 138.6,287.6 138.1,288.1 137.6,288.1 137.1,287.6 136.1,287.6 135.1,288.1 133.6,288.1 132.6,288.9 132.1,290.9 133.4,292.6 133.4,293.9 132.1,295.4 132.1,296.4 133.4,297.4 134.1,297.4 135.1,298.4 135.1,299.6 136.4,301.4 136.4,302.4 135.9,303.6 136.1,306.1 137.1,307.1 137.9,307.1 138.9,307.9 138.6,310.6 139.1,311.4 140.9,312.1 141.6,311.6 142.6,311.9 143.4,312.9 144.6,313.6 145.6,312.9 146.9,313.1 148.1,312.1 150.1,312.4 150.9,312.1 152.1,310.6 151.9,308.6 153.4,306.9 153.9,306.9 153.4,305.4 153.4,303.9 153.9,302.9 154.6,302.4 155.1,302.6 156.4,302.4 157.1,301.6 157.1,299.9 158.9,298.4 159.6,297.1 160.6,296.1 162.6,295.9 163.1,294.9 164.6,293.4 165.1,292.1 166.6,291.4 166.9,290.9 166.6,290.1 167.1,289.6 168.1,289.6 168.9,289.1 169.9,287.1 169.6,285.9 169.1,285.4 169.1,284.6 169.6,284.1 171.1,283.9 171.9,282.6 171.9,280.6 170.1,278.6 170.1,277.4 170.6,276.6 170.9,274.9 171.9,274.1Z" fill="#8f6eb2"/>
<path d="M115.4,264.1 113.9,265.4 111.9,266.1 110.1,267.6 109.6,269.1 109.4,271.6 109.9,273.4 111.4,273.6 112.4,275.4 113.9,276.6 113.9,277.4 113.4,277.9 113.1,279.1 112.4,279.9 112.1,280.9 112.4,281.1 111.9,282.6 110.4,284.6 110.1,285.9 110.9,286.6 110.4,287.6 109.6,288.4 107.9,287.9 107.4,288.1 107.4,289.6 107.9,290.4 107.6,291.6 109.1,293.4 111.6,295.4 112.4,297.1 112.4,298.4 113.1,299.1 113.9,301.4 114.9,301.9 116.1,301.9 117.6,302.4 117.9,302.9 117.6,305.4 119.4,306.4 120.4,306.1 120.6,305.4 121.6,306.1 121.6,306.6 123.1,308.4 122.6,310.4 124.4,310.1 124.9,309.1 124.9,308.4 125.9,307.6 126.1,307.9 127.6,307.9 129.6,309.1 131.9,309.6 132.6,310.1 133.1,311.1 132.6,312.1 132.9,312.9 133.6,313.6 135.1,313.9 138.1,316.6 138.4,317.4 139.1,317.9 140.9,316.1 142.6,315.9 144.6,313.9 143.4,313.1 142.6,312.1 141.6,311.9 140.9,312.4 139.1,311.6 138.4,310.6 138.6,307.9 137.9,307.4 137.1,307.4 135.9,306.1 135.6,303.6 136.1,302.4 136.1,301.4 134.9,299.6 134.9,298.4 134.1,297.6 133.4,297.6 131.9,296.4 131.9,295.4 133.1,293.9 133.1,292.6 132.1,291.4 131.9,290.1 132.4,288.9 133.6,287.9 135.1,287.9 136.1,287.4 137.1,287.4 137.6,287.9 138.1,287.9 138.4,287.6 138.1,287.1 138.9,286.4 139.9,285.9 140.6,285.9 141.1,285.4 141.9,283.1 142.4,282.6 143.4,282.6 144.1,283.1 145.4,283.1 145.4,282.9 144.1,281.6 142.9,281.9 142.1,281.4 141.1,281.4 140.4,280.6 139.1,278.1 139.6,276.6 139.4,276.1 138.9,275.9 137.6,276.1 134.9,273.1 134.4,272.9 132.4,273.1 131.6,272.6 131.9,271.6 130.9,270.9 129.6,271.1 127.6,269.4 125.4,268.6 124.4,267.1 124.1,265.6 122.9,265.6 122.1,266.1 120.9,266.1 120.1,266.6 118.4,266.6 117.6,265.6 117.6,264.4 118.1,263.6 117.4,263.6 116.6,264.1Z" fill="#8f6eb2"/>
<path d="M234.4,214.1 234.1,214.1 234.1,214.6 233.4,215.6 232.4,214.9 231.9,214.9 230.1,216.4 228.9,216.6 226.6,215.4 223.4,214.6 220.4,212.1 219.9,212.4 218.4,211.9 217.1,211.9 215.4,210.9 214.1,210.9 212.1,212.1 212.1,212.9 213.1,215.1 212.9,216.9 213.4,218.4 212.6,220.4 211.4,221.6 210.4,222.1 209.4,222.1 208.9,222.6 209.1,224.6 208.4,225.4 207.6,224.9 206.6,224.9 205.4,226.4 203.6,226.9 203.9,228.1 205.6,228.1 206.1,228.6 206.4,230.4 207.9,231.1 208.6,231.9 208.4,233.6 209.1,234.6 208.6,235.9 208.9,236.9 208.1,238.4 208.6,239.1 208.6,240.9 209.1,242.1 208.9,244.1 209.6,245.1 209.6,246.6 209.9,246.9 209.9,248.6 209.6,248.9 209.9,252.9 210.1,253.1 209.9,254.9 210.4,256.4 210.4,257.6 211.1,259.4 210.6,260.4 210.6,262.1 209.9,262.6 209.9,263.6 210.4,264.4 211.6,264.1 211.9,263.4 211.6,263.1 212.9,261.9 213.9,261.4 215.9,261.4 216.1,261.6 217.9,261.4 219.6,259.9 220.4,257.6 221.4,256.1 221.9,255.9 224.1,256.1 224.6,255.6 224.9,254.4 224.4,253.1 225.1,252.1 227.1,251.4 228.1,251.4 228.9,250.6 230.9,249.6 234.6,246.6 236.1,246.1 236.6,245.4 236.9,243.9 236.1,241.9 236.9,240.6 236.9,237.6 236.6,237.1 237.1,235.6 235.4,232.9 234.1,232.9 233.6,232.4 234.4,230.1 232.9,228.4 232.4,227.4 232.1,225.6 231.4,225.1 231.4,224.4 232.4,223.6 231.9,221.6 231.1,220.1 232.1,219.1 232.4,216.9 234.4,215.6Z" fill="#8f6eb2"/>
<path d="M218.6,292.6 218.1,293.4 216.9,293.9 215.6,293.6 213.1,294.1 211.1,293.9 210.4,294.4 209.9,294.4 208.6,293.4 208.1,293.4 206.4,292.4 205.4,292.4 203.4,294.6 202.6,294.6 201.1,293.6 199.6,293.9 198.9,294.6 198.9,295.1 198.1,296.1 197.9,295.9 194.6,296.9 192.6,298.9 191.4,299.6 188.4,300.4 187.9,301.9 187.1,301.9 186.4,301.4 185.6,301.6 185.6,302.9 184.6,304.6 182.1,304.1 182.1,304.6 183.4,306.4 183.4,306.9 184.1,307.4 184.6,307.1 185.9,308.1 185.9,308.6 185.4,309.1 184.1,308.6 182.9,309.4 182.4,311.4 181.4,312.4 181.4,312.9 183.1,313.6 183.9,314.4 182.9,315.4 182.9,315.9 183.9,317.1 184.9,317.4 186.4,319.6 186.6,320.6 186.4,323.1 187.1,322.9 187.4,323.1 189.1,323.1 189.4,322.9 190.1,323.1 191.6,321.9 192.4,321.9 193.4,322.9 194.6,322.9 197.6,326.1 198.9,326.4 199.9,327.4 201.4,327.4 202.1,326.9 202.6,325.9 204.6,325.4 206.9,323.9 208.1,323.9 208.4,322.4 209.4,320.6 212.4,320.9 212.6,319.9 211.9,318.6 211.9,317.1 212.9,316.1 212.9,315.4 212.4,314.6 213.4,312.9 213.4,312.4 213.9,311.9 215.1,311.6 215.9,310.9 216.4,309.6 216.4,308.1 216.9,307.4 219.4,306.6 220.4,306.9 220.6,306.6 219.6,304.6 220.1,303.6 219.9,301.9 220.9,300.9 220.9,300.1 220.1,299.4 218.9,299.4 218.6,299.1 219.6,297.6 219.6,297.1 220.6,296.1 220.6,295.4 219.9,295.1 218.9,293.9Z" fill="#684aa0"/>
<path d="M288.4,189.6 287.9,189.6 286.9,190.4 286.4,191.4 286.6,192.1 285.1,194.1 283.6,193.9 282.4,194.9 281.4,195.1 280.9,195.6 280.9,197.1 280.6,197.4 279.9,197.4 278.9,195.6 278.4,195.6 277.6,196.9 275.9,198.1 275.4,197.9 273.1,198.1 273.1,199.4 271.4,201.1 270.1,201.6 270.1,202.1 270.9,202.9 271.6,204.4 271.6,204.9 270.4,206.9 270.4,207.9 271.1,208.9 269.9,210.4 268.6,211.1 268.6,211.6 270.1,214.1 270.1,214.9 269.6,215.6 268.4,216.1 268.9,218.6 267.9,220.9 266.1,223.6 267.6,225.1 268.1,226.1 268.9,226.6 269.6,228.6 271.9,230.9 271.9,231.9 272.6,232.4 274.1,234.9 275.1,235.1 276.4,234.6 277.6,234.6 278.6,235.6 278.6,236.4 278.1,237.4 278.9,238.6 281.9,238.4 281.6,237.4 282.4,236.9 283.9,238.9 284.1,240.6 284.9,241.4 287.6,241.1 289.4,240.1 290.6,240.4 292.4,239.6 293.9,240.4 294.9,240.4 296.9,238.9 298.1,239.6 299.4,239.6 300.4,238.6 301.4,238.9 303.1,237.9 304.4,237.6 304.6,236.6 304.1,235.4 304.9,234.6 306.1,234.1 306.9,233.1 307.4,231.9 307.6,229.1 308.1,228.6 308.1,227.4 308.6,226.9 309.6,226.9 310.4,225.9 309.1,224.9 308.9,222.9 308.4,222.4 307.9,222.4 307.1,221.4 307.6,219.6 305.9,218.4 306.1,215.9 305.4,213.9 307.1,212.1 306.9,211.9 307.1,210.9 306.6,210.6 305.9,211.4 302.4,211.1 301.4,211.6 300.1,211.6 299.1,209.9 299.6,209.4 300.9,209.4 301.4,208.9 301.4,208.4 300.4,208.1 299.1,208.4 298.4,209.1 297.6,209.4 296.1,209.1 295.6,208.6 295.6,208.1 294.4,206.9 293.4,204.9 291.6,203.6 291.4,202.6 290.6,202.6 289.9,203.1 289.1,202.6 289.9,201.4 289.9,200.6 289.4,199.9 289.6,197.6 289.1,196.6 286.6,194.4 286.6,192.4 288.4,190.1Z" fill="#8f6eb2"/>
<path d="M48.1,154.1 47.9,155.6 47.1,157.1 48.1,158.9 48.1,159.4 47.4,160.6 46.9,162.6 46.1,163.6 46.1,164.9 46.6,165.4 47.1,165.4 47.9,166.4 47.1,168.6 48.1,170.4 48.1,170.9 47.4,171.6 47.4,172.4 48.1,172.9 47.6,175.1 48.6,176.9 48.1,177.6 48.1,178.9 49.9,180.1 50.6,180.4 52.6,179.4 53.6,179.4 53.9,179.6 55.4,179.6 56.9,180.9 60.6,180.9 60.9,180.6 61.4,180.9 61.9,180.4 63.4,182.9 64.6,182.6 66.1,182.9 68.4,184.9 70.1,184.6 71.4,186.4 72.6,186.4 74.1,187.4 75.6,187.9 76.1,187.4 76.1,186.6 75.4,184.9 75.6,184.1 76.4,183.4 78.1,183.1 79.9,183.9 81.6,183.6 81.9,184.4 83.9,183.9 84.6,183.4 85.1,183.6 86.9,180.6 88.1,179.4 89.4,179.1 91.6,177.1 91.9,176.6 91.6,176.1 91.6,173.6 92.1,171.6 94.4,169.4 94.1,169.1 94.4,168.1 93.9,166.9 93.4,166.6 94.1,165.4 92.9,164.1 93.4,162.4 92.9,162.4 93.1,162.6 92.9,162.9 91.9,162.9 88.6,164.6 88.1,164.6 87.6,163.9 86.1,163.1 85.4,163.1 83.9,162.4 81.6,162.1 81.6,162.6 80.4,163.6 77.9,164.6 77.1,164.4 75.1,165.6 73.6,165.6 72.6,166.9 71.9,166.1 72.1,165.9 70.6,164.6 68.9,162.4 68.6,159.6 67.4,158.4 66.4,158.6 66.1,158.4 66.4,157.9 66.9,157.9 66.6,156.9 65.9,156.1 65.1,155.9 64.9,156.1 63.9,154.9 63.6,153.1 62.9,153.1 62.1,151.9 60.1,152.4 58.6,151.6 57.6,151.9 55.1,151.6 54.4,152.4 52.1,153.1 51.4,152.9Z" fill="#684aa0"/>
<path d="M187.1,264.1 186.4,265.4 186.4,266.6 187.9,268.6 187.6,269.9 187.9,270.1 187.4,270.6 186.9,270.6 186.6,271.1 187.1,271.4 187.9,272.6 188.6,272.6 189.1,273.1 189.6,272.9 190.4,273.6 190.4,274.4 189.4,275.4 189.4,276.1 190.6,277.6 191.6,277.9 192.4,278.6 192.9,281.9 193.4,282.4 193.4,284.4 193.1,284.6 193.4,285.1 193.1,285.4 194.6,288.1 196.4,288.4 197.4,287.9 198.1,288.1 199.4,289.4 199.4,290.1 200.4,291.4 200.6,293.1 202.6,294.4 203.4,294.4 205.4,292.1 207.1,292.4 209.9,294.1 211.1,293.6 211.6,293.9 211.9,293.6 213.1,293.9 215.1,293.4 215.4,293.6 215.6,293.4 216.9,293.6 218.4,292.9 218.6,291.9 219.1,291.4 219.1,290.4 218.4,289.6 218.6,287.1 220.1,285.4 221.4,285.1 221.9,284.1 223.6,283.4 223.9,282.9 223.9,282.1 223.4,281.4 223.4,280.1 222.6,278.9 222.6,277.6 222.4,277.4 222.6,276.6 221.6,275.9 221.1,274.4 221.4,274.1 221.1,272.1 221.6,271.4 221.4,270.4 219.4,270.1 217.4,267.4 215.1,266.4 214.4,265.6 214.4,264.4 213.9,263.9 211.9,263.6 211.6,264.4 210.4,264.6 209.6,263.6 209.6,262.6 207.9,263.4 207.6,263.9 206.9,263.9 206.1,263.4 205.4,263.6 202.1,263.4 201.6,261.6 200.9,262.9 199.6,263.1 199.4,262.9 195.9,262.9 193.9,262.1 192.4,264.1 191.9,264.1 190.9,264.9 189.4,264.6 188.1,263.9Z" fill="#494ea3"/>
<path d="M165.1,292.9 162.6,296.1 160.6,296.4 159.1,298.4 157.4,299.9 157.4,301.6 156.4,302.6 154.1,302.9 153.6,303.9 153.6,305.4 154.1,306.9 153.4,307.1 152.1,308.6 152.4,310.6 150.9,312.4 150.1,312.6 148.1,312.4 146.9,313.4 146.6,314.1 145.4,314.6 144.1,317.6 145.4,317.9 146.1,318.6 146.4,321.6 144.4,323.4 144.4,324.1 145.1,325.4 144.9,326.1 143.9,327.1 143.9,328.6 144.9,330.1 145.6,330.6 146.6,330.6 147.6,330.1 149.6,330.1 150.4,330.4 151.4,331.4 153.1,331.6 153.9,332.6 153.9,333.6 153.1,334.9 154.1,336.1 154.9,336.4 156.1,337.6 156.4,338.6 157.1,339.6 157.9,339.6 158.4,337.6 158.9,337.1 159.9,336.9 161.9,338.1 163.9,338.4 164.4,338.9 165.1,338.9 166.4,338.1 167.6,338.1 168.6,340.4 169.6,341.4 171.4,341.6 171.9,342.1 172.9,342.1 173.6,341.1 175.4,341.9 178.1,340.1 178.6,338.9 180.9,336.4 182.4,336.1 183.1,335.4 183.4,334.4 183.1,332.9 184.6,331.6 185.4,329.4 186.1,328.9 186.6,329.1 186.6,326.6 185.9,324.9 185.9,323.6 186.4,322.6 186.1,319.6 184.6,317.4 183.9,317.4 182.6,315.9 182.6,315.4 183.6,314.4 181.1,312.9 181.1,312.4 182.1,311.4 182.6,309.4 183.4,308.6 184.1,308.4 185.4,308.9 185.6,308.1 184.6,307.4 184.1,307.6 183.1,306.9 183.1,306.4 181.9,304.6 181.9,303.6 181.4,302.9 180.6,302.6 179.1,302.9 176.9,300.4 174.6,300.4 174.1,299.9 172.9,299.9 170.4,299.1 169.4,298.1 169.6,296.1 168.4,295.4 167.9,295.6 165.9,295.4Z" fill="#684aa0"/>
<path d="M349.4,212.6 348.6,212.6 347.6,213.9 346.4,213.9 345.6,213.1 343.9,212.4 341.4,212.9 340.4,212.1 339.6,212.1 338.6,212.6 339.1,213.4 338.9,214.4 337.1,216.1 336.1,216.4 335.1,217.4 328.4,218.4 327.1,219.9 324.9,220.6 324.6,221.1 324.6,223.4 324.4,223.6 323.4,222.4 319.9,222.6 318.1,223.4 317.1,224.4 315.6,225.1 316.4,228.4 316.1,228.6 316.1,230.1 317.1,233.1 316.6,234.4 317.1,235.6 319.6,237.4 321.4,237.6 322.4,238.9 324.1,239.4 324.6,239.9 325.1,241.4 324.9,241.6 325.1,242.9 324.4,243.6 325.4,243.6 326.6,244.4 327.6,245.4 327.6,245.9 329.4,247.6 329.6,249.4 330.4,250.1 331.9,250.9 332.4,250.9 334.6,248.6 335.1,248.6 335.9,247.4 337.4,245.9 337.9,244.9 337.9,243.1 337.6,242.9 337.9,241.6 337.4,240.9 337.4,240.1 338.1,239.6 338.1,239.1 339.4,238.9 341.6,237.6 342.1,236.4 343.6,235.1 343.6,234.1 345.1,232.9 345.6,231.6 351.1,226.1 351.1,225.4 352.4,224.1 353.4,222.4 353.1,222.1 353.4,221.4 352.4,219.6 351.1,219.9 350.6,219.4 351.4,217.6 351.6,215.9 353.1,215.4 351.1,214.4Z" fill="#684aa0"/>
<path d="M292.9,309.4 292.1,310.4 290.4,311.1 290.6,311.4 290.6,315.9 291.1,316.4 290.9,317.6 291.9,319.4 291.4,320.6 291.6,321.6 290.1,323.6 290.6,329.6 289.9,330.9 290.1,331.9 290.1,334.1 289.9,334.6 290.9,335.9 290.9,337.4 289.9,339.4 288.4,340.6 288.4,342.6 286.4,344.1 287.1,345.4 287.6,345.4 287.9,344.9 288.9,344.9 289.6,345.9 288.9,346.6 287.9,346.1 287.6,346.9 288.4,347.9 288.4,348.6 287.4,349.6 287.1,352.9 286.9,353.1 287.1,353.9 288.1,354.4 290.1,356.4 290.9,356.6 292.4,356.6 294.1,355.6 295.1,355.6 296.6,354.9 297.4,354.9 297.6,355.4 298.9,355.1 299.1,355.4 299.6,354.9 300.4,354.9 302.1,356.1 303.1,356.1 304.6,355.4 305.6,355.4 307.4,357.9 308.1,358.4 309.4,358.4 309.6,358.1 311.4,358.4 312.1,359.1 312.4,359.9 311.9,360.6 312.4,360.6 312.9,358.9 313.1,359.1 313.9,358.9 315.1,359.4 315.9,360.1 316.4,360.1 317.9,358.9 319.9,359.4 320.4,358.6 319.4,357.6 319.4,356.6 316.9,356.4 316.1,355.4 316.1,354.1 316.4,353.9 316.1,352.9 311.9,349.9 311.4,349.9 310.9,349.4 310.9,348.4 311.6,347.6 313.4,347.1 314.6,345.6 315.9,344.9 315.4,344.4 315.6,343.6 316.6,343.4 317.4,342.6 317.1,339.9 318.1,339.1 319.6,338.9 320.9,337.6 320.9,336.4 321.4,335.9 322.6,335.4 323.6,335.9 324.4,335.9 325.1,335.1 324.1,334.9 323.4,333.9 323.6,333.4 321.9,333.1 320.4,333.6 320.6,335.1 319.9,335.9 318.9,335.1 318.9,334.1 317.1,332.6 316.9,331.9 316.4,331.6 314.6,331.6 313.6,332.1 312.9,331.9 312.1,331.1 311.9,329.4 310.9,328.4 310.9,327.1 309.9,324.6 310.1,323.6 311.4,322.9 311.4,321.9 310.1,320.4 309.4,320.1 309.1,320.9 308.4,321.6 307.6,321.6 307.1,320.9 305.4,319.9 304.4,318.4 301.9,318.4 300.4,317.1 300.4,315.1 301.6,312.1 300.9,311.6 299.9,311.6 298.6,310.4 297.6,310.6 297.4,310.4 295.9,311.4 295.6,311.1 295.1,311.4 293.6,309.6Z" fill="#8f6eb2"/>
<path d="M157.9,131.6 158.1,132.4 157.6,133.1 158.9,133.1 159.1,132.9 160.4,136.4 161.4,136.9 160.6,138.4 160.6,139.4 161.1,139.9 160.6,140.4 160.9,140.6 160.6,140.9 160.6,142.1 161.4,143.4 161.1,144.1 161.9,146.9 162.4,147.4 162.9,147.4 162.9,146.4 163.4,145.9 164.1,146.1 164.1,147.4 163.4,148.9 163.4,150.4 163.9,151.4 163.9,153.1 163.4,154.4 164.1,155.1 165.4,155.1 167.4,156.1 167.9,156.6 168.1,158.9 169.4,159.6 170.4,160.9 170.1,161.9 170.4,162.6 172.9,163.6 173.1,164.1 174.9,163.4 175.9,163.4 177.1,161.9 178.1,161.9 178.9,162.4 180.4,162.1 180.9,161.6 183.4,162.1 184.4,161.6 185.9,159.6 187.1,159.4 189.9,158.1 190.4,157.6 190.6,155.4 191.4,154.9 192.4,154.9 192.9,154.4 192.1,153.4 192.1,152.9 194.6,149.9 195.1,148.6 195.9,148.1 197.1,149.1 198.9,145.6 200.9,143.1 200.9,142.6 200.4,142.4 199.6,142.6 198.9,141.9 198.9,140.6 200.1,139.4 199.9,138.1 198.9,136.4 199.4,134.6 199.1,133.9 196.6,132.9 195.6,132.9 194.6,132.1 193.4,131.9 192.6,132.1 189.9,134.9 187.6,134.9 186.1,135.4 185.4,136.1 183.9,136.9 182.1,136.9 181.4,138.1 179.9,139.4 177.6,137.6 177.6,136.1 177.1,134.9 176.4,135.1 174.9,134.9 173.6,133.4 172.4,132.9 171.6,132.1 170.6,132.1 169.4,131.4 168.6,131.4 167.6,132.9 166.9,132.9 166.1,132.4 164.9,132.4 163.6,131.9 160.9,132.1 158.6,130.9Z" fill="#8f6eb2"/>
<path d="M193.6,154.1 193.1,154.1 192.4,155.1 190.9,155.4 190.6,157.6 189.9,158.4 187.1,159.6 185.9,159.9 185.1,161.1 183.4,162.4 182.4,162.4 181.6,161.9 180.9,161.9 179.6,162.6 177.1,162.1 175.9,163.6 174.9,163.6 173.4,164.4 172.9,163.9 171.9,163.6 171.9,164.4 172.4,164.9 173.4,164.4 174.4,164.9 174.4,166.6 174.1,166.9 175.4,168.6 176.6,171.9 178.4,174.1 177.9,174.9 175.9,176.4 176.1,178.1 174.9,179.6 173.9,180.1 170.6,179.9 171.4,181.6 171.4,182.9 171.6,183.1 170.9,185.9 172.1,186.4 171.4,188.4 171.4,192.1 171.6,192.6 172.6,192.6 174.1,190.9 174.6,190.9 175.1,191.4 175.4,192.6 176.1,193.4 177.4,193.4 181.1,191.9 182.1,191.9 182.9,192.4 183.1,193.4 185.1,193.6 185.6,194.9 187.1,195.4 190.9,195.1 192.1,195.9 195.6,192.1 198.1,191.1 200.4,191.1 201.9,189.9 202.4,189.9 203.4,188.6 204.4,188.4 204.4,187.4 203.9,186.6 203.9,185.4 204.6,184.1 205.4,181.4 205.4,180.4 204.9,179.4 205.1,178.6 205.9,178.1 206.4,177.1 204.4,175.1 203.9,175.6 203.4,175.1 201.9,174.9 200.4,173.6 199.9,172.6 200.1,172.4 200.1,169.9 197.4,167.1 196.9,165.1 196.4,165.1 195.9,164.6 195.9,163.6 196.4,163.1 196.4,161.1 197.4,160.1 196.4,158.9 195.9,159.1 195.6,159.9 194.6,159.9 194.1,159.4 194.9,157.4 194.9,156.1Z" fill="#8f6eb2"/>
<path d="M12.6,161.4 12.6,162.1 10.9,164.4 11.1,167.4 12.6,169.4 13.4,169.4 14.4,170.1 16.1,170.4 17.4,169.9 18.6,168.6 20.4,168.9 21.6,167.6 22.6,167.4 23.9,168.4 23.9,169.4 25.1,170.4 25.9,171.6 26.6,172.1 26.9,172.9 25.6,174.4 24.9,174.4 23.1,172.1 21.4,172.9 19.9,172.9 17.6,172.1 16.9,172.4 16.1,173.1 16.1,173.9 17.4,175.1 17.4,175.6 18.4,176.6 18.4,177.1 19.6,175.4 22.6,175.4 24.6,177.1 24.4,179.1 24.9,179.6 24.9,181.1 24.1,181.9 22.6,181.9 21.9,180.9 20.1,180.6 19.1,180.9 18.1,182.1 17.4,182.1 15.6,180.9 14.1,182.6 13.4,182.6 13.9,184.6 15.6,184.4 17.1,185.1 17.9,184.6 18.1,184.9 18.9,184.6 19.6,185.4 19.9,187.9 21.6,188.9 22.6,190.9 22.1,192.1 22.1,193.9 23.6,193.9 24.9,193.4 25.4,193.6 26.6,193.1 27.1,192.4 28.1,191.9 30.6,192.1 31.6,191.6 32.4,191.6 34.1,192.9 34.6,192.9 37.4,195.1 38.9,195.6 39.4,195.1 41.1,195.1 42.4,195.9 43.4,195.9 44.4,196.6 46.9,194.9 48.1,193.1 48.9,193.1 49.4,193.9 50.1,193.9 50.9,193.1 50.9,192.6 49.9,191.4 49.6,190.4 48.9,189.6 47.6,189.1 46.9,187.6 44.9,187.6 42.4,186.6 42.4,184.9 42.6,184.6 42.4,184.1 42.6,183.6 40.9,182.1 40.4,181.1 41.1,180.9 41.9,181.4 43.6,181.4 45.6,179.9 46.6,178.6 47.6,178.4 48.4,176.9 47.4,175.1 47.9,172.9 47.1,172.4 47.1,171.6 47.9,170.9 47.9,170.4 46.9,168.6 47.6,166.4 47.1,165.6 46.6,165.6 45.9,164.9 45.9,163.6 46.6,162.6 47.1,160.6 47.9,159.4 47.1,157.6 46.4,159.1 45.4,159.1 44.4,158.1 43.4,157.9 43.1,157.4 42.4,157.1 40.6,157.6 39.9,156.9 37.6,157.6 36.9,156.4 35.9,155.9 35.4,156.1 32.1,155.9 31.6,156.4 29.6,156.4 29.4,156.6 28.1,156.4 27.4,156.9 25.4,156.9 25.1,157.1 24.4,156.6 23.4,156.6 23.6,157.4 22.9,157.6 23.1,157.9 22.9,158.4 22.4,158.4 21.9,157.9 18.6,159.4 17.6,159.1 17.1,159.4 16.9,159.1 16.6,159.6 16.1,159.6 14.9,160.6 14.4,160.4 13.6,160.6 13.1,161.6Z" fill="#684aa0"/>
<path d="M266.1,348.4 265.6,349.4 265.4,351.4 264.1,353.6 264.1,354.9 265.1,356.4 265.1,357.6 264.1,358.9 264.1,359.6 263.4,360.6 261.6,360.9 260.6,360.4 259.1,360.4 257.9,361.6 257.1,361.6 256.9,361.4 255.4,361.4 253.6,360.6 253.4,360.9 251.9,360.9 251.6,360.6 249.1,360.9 248.1,360.4 246.4,360.4 245.4,359.9 245.1,360.9 246.9,362.1 247.1,363.1 248.4,364.4 248.9,365.4 249.6,365.9 249.9,367.1 249.6,369.4 251.4,371.1 252.6,371.9 253.6,373.1 255.4,371.4 256.4,371.1 256.6,371.4 258.9,370.6 261.1,370.6 263.1,372.1 262.9,373.4 263.4,373.9 265.6,374.1 268.1,376.9 268.1,378.4 270.4,380.1 270.9,381.6 272.1,382.9 272.1,383.4 271.1,384.9 270.9,387.4 270.4,388.1 271.1,388.4 272.1,389.4 274.9,389.6 277.4,387.9 278.1,386.1 279.4,384.4 280.6,384.6 281.6,383.9 281.9,383.1 281.4,382.1 282.1,381.4 283.9,381.6 285.4,380.4 285.1,378.6 285.9,377.6 286.4,376.1 286.9,375.6 287.6,375.9 288.1,375.4 288.4,373.9 287.4,373.6 286.4,375.1 285.4,375.1 284.9,374.6 284.9,374.1 287.4,371.4 287.9,371.4 288.1,370.9 288.1,368.6 289.4,367.6 291.1,367.6 291.9,366.9 292.1,365.6 291.1,364.6 291.1,363.9 293.1,361.9 293.4,360.6 291.6,359.1 289.1,358.9 288.1,357.6 287.6,355.6 285.4,354.9 284.9,355.1 284.1,354.9 283.4,354.1 283.4,353.4 282.9,353.1 282.9,352.6 281.9,351.9 278.9,352.6 277.9,352.1 276.6,352.1 274.6,353.1 274.1,353.9 273.4,353.9 272.6,352.9 271.4,352.9 270.4,353.4 267.9,351.1 267.9,350.6Z" fill="#8f6eb2"/>
<path d="M191.4,372.6 189.4,372.4 189.1,371.6 188.1,370.9 186.6,372.4 183.9,372.6 182.1,374.4 179.4,374.6 179.1,374.9 177.1,374.4 175.1,375.4 173.6,375.1 172.4,376.1 172.9,376.6 172.9,378.1 172.4,378.9 172.6,379.4 174.1,379.6 175.9,381.1 177.1,381.1 177.9,381.9 178.1,382.6 177.6,383.6 177.9,384.6 176.9,385.6 177.1,386.4 176.1,387.1 174.6,387.6 173.6,388.9 173.6,391.4 172.1,393.6 171.6,393.6 171.4,394.1 168.9,394.6 168.4,394.1 168.4,393.6 167.6,393.1 167.4,393.6 168.1,394.6 165.6,396.9 163.4,394.6 162.4,394.9 161.1,395.9 160.9,397.1 160.4,397.6 159.9,397.6 157.9,401.4 156.4,403.1 155.4,403.6 155.1,404.1 155.9,405.4 155.4,406.4 155.4,407.6 157.4,408.4 158.1,408.1 158.9,408.4 158.9,409.1 158.4,409.6 158.9,411.4 158.6,412.6 157.4,413.4 156.4,415.4 155.1,416.4 154.1,419.1 154.1,419.6 155.4,420.4 155.9,421.6 155.4,421.9 155.4,422.6 154.6,423.1 155.1,423.6 155.9,423.9 156.9,423.4 161.4,423.4 161.6,422.1 160.6,420.4 161.6,419.6 161.9,418.9 162.1,419.1 162.6,418.6 163.1,418.9 164.1,417.9 165.6,417.4 165.9,416.9 166.9,416.6 167.1,416.9 169.1,415.6 169.4,414.9 167.9,413.9 167.9,413.1 169.4,411.6 169.4,410.6 170.6,409.4 172.9,408.4 174.6,406.6 175.9,406.1 177.4,406.4 176.4,405.4 176.6,404.6 177.9,403.6 178.6,401.4 181.1,399.1 181.4,397.9 182.1,397.1 184.1,398.9 184.6,398.9 186.4,400.1 187.6,400.1 189.1,399.1 189.9,398.9 190.9,399.1 191.1,398.9 192.1,400.1 194.1,400.1 194.6,400.6 195.9,400.6 194.6,400.4 193.6,399.4 193.1,398.1 193.9,397.9 194.9,399.1 195.6,399.1 196.1,398.4 196.6,395.4 197.1,394.9 198.1,395.1 198.9,395.9 199.6,395.9 200.6,394.9 201.9,394.6 202.1,394.9 203.4,394.9 204.9,393.1 206.6,393.1 207.4,392.6 206.6,391.6 205.6,391.4 203.9,389.9 202.6,389.6 201.9,390.4 201.1,390.1 200.1,389.1 199.4,388.9 198.6,388.1 198.1,386.9 196.1,385.1 195.4,383.9 196.1,381.1 195.6,380.6 194.4,380.9 193.9,379.9 194.1,379.6 194.1,378.4 192.1,376.4 191.4,375.1Z" fill="#e6c8e3"/>
<path d="M135.1,369.4 135.6,371.6 134.9,374.1 136.1,374.6 137.1,375.6 136.6,376.4 135.1,376.6 134.9,377.1 135.4,378.4 135.1,379.1 133.9,380.1 133.9,381.1 134.6,382.1 134.6,382.6 134.4,382.9 132.6,382.6 131.9,383.1 131.9,383.6 132.4,384.1 133.4,384.1 134.6,382.9 135.1,382.9 137.4,384.6 138.4,384.6 138.9,383.9 141.6,383.1 146.1,388.4 146.4,389.4 146.4,391.4 145.9,391.9 146.1,392.4 147.1,391.4 148.1,391.1 150.4,392.1 151.4,393.6 153.1,392.6 154.1,394.9 156.9,395.4 159.4,396.6 160.6,396.6 161.4,395.4 162.4,394.6 163.4,394.4 165.6,396.6 167.9,394.6 167.1,393.6 167.6,392.9 168.6,393.6 168.9,394.4 171.4,393.9 171.6,393.4 172.1,393.4 173.4,391.4 173.4,388.9 174.6,387.4 176.9,386.4 176.6,385.6 177.6,384.6 177.4,383.9 177.9,382.6 177.6,381.9 177.1,381.4 175.9,381.4 174.1,379.9 173.1,379.9 172.4,379.4 172.1,378.9 172.6,378.1 172.6,376.6 172.1,376.1 172.4,375.9 171.6,375.1 171.4,373.1 169.4,371.4 167.4,370.4 167.1,369.1 168.4,368.1 168.4,367.4 167.1,366.6 166.4,366.6 165.4,365.6 165.6,364.6 165.4,363.6 165.1,363.9 164.9,363.6 163.9,363.9 163.9,364.4 163.1,365.4 162.4,365.4 161.1,364.4 160.1,362.9 158.9,362.9 157.6,364.1 155.9,364.6 154.9,364.6 154.1,363.6 153.1,363.6 151.6,365.1 150.6,365.1 150.4,365.6 149.9,365.6 149.1,366.4 148.6,366.4 147.1,367.4 144.4,365.9 143.9,366.1 143.4,366.9 143.9,368.1 143.4,368.6 142.4,368.1 141.6,367.1 140.6,367.1 139.9,368.1 139.6,369.6 138.9,370.4 137.4,370.1 136.1,369.1Z" fill="#684aa0"/>
<path d="M112.1,298.1 111.1,299.4 109.9,299.9 109.4,302.1 110.1,303.1 109.1,303.6 108.6,306.9 108.1,307.4 108.6,309.1 108.1,310.9 107.4,311.4 107.6,312.6 107.4,312.9 107.4,316.9 107.1,317.1 107.1,318.6 106.6,319.1 106.9,320.6 107.4,321.4 106.4,323.9 106.4,325.1 105.6,326.1 105.6,327.4 105.9,327.6 105.6,329.6 104.4,331.1 104.9,331.9 104.6,333.9 105.4,335.4 104.9,338.4 105.6,339.9 105.6,340.9 104.9,342.4 106.4,343.1 107.4,342.9 108.1,342.4 109.4,340.6 109.9,340.6 111.4,342.1 111.1,344.1 111.6,344.9 113.4,344.6 115.1,345.9 117.9,344.9 119.1,345.9 119.9,345.9 120.6,345.1 120.9,345.4 122.1,345.4 123.9,346.6 124.4,347.9 126.1,348.1 128.1,351.4 128.6,351.6 129.4,351.4 130.6,352.1 130.4,352.6 130.6,354.6 131.9,356.9 133.1,356.9 133.9,356.4 134.6,356.4 136.4,357.4 137.4,356.9 138.1,356.9 139.4,354.6 139.4,353.1 139.9,351.9 140.9,351.6 141.6,350.9 141.6,349.9 142.4,348.4 142.4,346.6 143.4,345.9 144.9,345.6 144.9,345.1 144.1,344.4 142.6,344.1 141.9,343.4 143.1,342.4 146.6,341.1 146.6,340.6 146.1,340.1 146.6,338.9 147.6,338.1 148.9,338.6 149.4,337.9 149.1,337.6 149.4,336.6 151.1,334.9 151.9,334.6 152.1,333.4 153.1,332.4 153.1,331.9 151.4,331.6 150.4,330.6 149.6,330.4 147.6,330.4 146.6,330.9 145.6,330.9 144.6,330.1 143.6,328.6 143.6,327.1 144.6,326.1 144.9,325.4 144.1,324.1 144.1,323.4 146.1,321.6 145.9,318.6 145.4,318.1 144.4,318.1 143.9,317.6 143.9,317.1 144.6,316.1 145.1,314.6 145.6,314.1 146.6,313.9 146.6,313.1 146.4,313.4 145.6,313.1 142.6,316.1 140.9,316.4 139.1,318.1 138.1,317.4 137.9,316.6 135.1,314.1 133.6,313.9 132.6,312.9 132.4,312.1 132.9,311.1 132.4,310.1 129.6,309.4 128.4,308.4 125.9,307.9 125.1,308.4 124.9,309.9 124.4,310.4 122.6,310.6 122.4,309.6 122.9,308.4 121.9,307.4 121.4,306.1 120.6,305.6 120.4,306.4 119.4,306.6 117.4,305.4 117.4,303.4 117.6,303.1 117.4,302.4 114.1,301.9 113.6,301.4 113.1,299.6Z" fill="#e6c8e3"/>
<path d="M271.9,382.9 270.6,381.6 270.1,380.1 269.1,379.6 267.9,378.4 267.9,376.9 265.6,374.4 263.4,374.1 262.6,373.4 262.9,372.1 262.1,371.4 261.1,370.9 258.9,370.9 256.6,371.6 256.4,371.4 255.4,371.6 253.6,373.4 252.6,372.1 251.4,371.4 249.4,369.4 249.6,367.1 249.1,365.6 247.9,366.9 247.4,367.9 245.6,369.1 244.9,370.4 244.1,370.4 242.9,371.1 241.1,371.1 240.1,372.4 238.9,372.9 238.4,373.4 238.4,374.1 237.6,375.6 235.9,377.6 235.1,377.9 234.9,377.6 233.6,377.6 232.9,379.1 227.9,378.9 229.4,380.4 229.4,381.1 228.4,382.9 228.6,384.1 228.4,384.9 227.4,385.9 225.9,386.1 225.9,387.6 223.1,389.9 222.9,390.4 224.4,392.6 223.9,393.4 222.9,393.9 222.1,395.6 222.1,396.9 222.6,397.9 223.6,398.1 224.6,397.9 225.1,397.4 225.9,397.4 227.1,398.1 227.9,398.1 228.9,397.6 232.1,397.6 233.1,398.1 234.9,397.6 236.4,397.6 237.6,398.4 241.1,399.4 241.4,399.6 240.6,400.4 241.1,401.6 243.6,402.4 251.6,398.1 254.4,397.4 256.4,395.4 256.6,395.6 257.4,395.4 258.6,394.4 259.6,394.1 260.4,392.4 261.9,391.1 262.6,391.6 264.1,391.1 265.1,389.6 267.9,387.6 270.1,388.1 270.6,387.4 270.9,384.9 271.4,384.4Z" fill="#e6c8e3"/>
<path d="M110.6,164.6 108.6,164.6 108.1,165.4 107.4,165.4 106.6,164.6 106.1,164.6 104.6,163.6 103.6,163.6 101.6,164.4 100.4,163.4 99.1,164.6 97.4,164.9 96.6,163.9 95.6,161.1 94.4,160.9 93.6,161.4 93.1,164.1 94.4,165.4 93.6,166.6 94.1,166.9 94.6,168.1 94.4,168.9 94.6,169.4 92.4,171.6 91.9,173.6 91.9,176.1 92.1,176.6 89.4,179.4 88.1,179.6 87.1,180.6 85.4,183.4 86.1,189.1 85.1,189.6 84.6,190.4 85.1,190.9 86.4,190.9 87.9,194.4 87.9,194.9 87.1,195.9 87.1,196.9 87.9,197.4 88.6,199.1 88.6,199.9 86.4,202.1 87.6,203.4 88.1,205.1 89.6,205.4 90.4,204.4 90.9,204.4 92.4,205.4 93.9,205.4 94.9,203.6 96.4,202.6 97.4,202.4 100.9,202.6 101.4,202.4 102.1,201.4 101.9,201.1 102.1,199.9 102.6,200.1 103.6,201.6 104.9,201.4 105.4,200.1 105.1,199.9 105.9,199.1 107.1,199.9 108.1,199.9 109.1,200.4 110.4,200.4 110.6,200.6 111.6,200.4 112.4,197.4 113.1,196.6 114.6,196.1 115.4,195.4 115.6,193.9 116.4,192.9 116.4,191.1 116.6,190.9 115.9,188.9 116.6,186.6 115.6,184.4 115.6,183.4 116.6,182.1 116.6,181.1 117.6,179.6 116.6,177.9 116.9,176.4 117.9,174.4 117.6,172.1 116.6,171.4 114.1,171.4 113.1,170.9 111.9,169.6 110.9,169.4 108.9,167.6 108.4,166.6 108.6,165.9 109.1,165.4 110.9,165.4Z" fill="#8f6eb2"/>
<path d="M203.4,227.1 202.6,227.6 200.6,230.1 198.4,230.4 197.4,229.9 196.1,228.1 195.1,227.4 194.6,228.9 194.6,230.1 193.9,230.9 191.4,230.4 190.6,230.6 190.4,230.4 189.1,232.4 187.1,232.1 185.9,233.4 184.4,234.1 184.1,234.6 183.9,234.4 183.6,234.6 182.4,234.6 179.1,236.1 178.9,237.4 180.6,239.1 180.1,239.6 179.4,239.6 178.4,240.1 176.9,241.6 175.4,246.1 174.1,247.1 172.4,247.4 171.6,248.4 171.9,249.6 173.4,251.1 173.1,252.6 173.6,254.1 175.1,254.6 176.6,256.4 177.4,256.4 178.4,257.4 179.4,261.4 181.1,262.9 181.4,263.4 181.1,263.9 183.1,264.6 184.1,264.6 184.4,265.4 185.9,266.6 186.1,266.6 186.1,265.4 187.4,263.6 188.1,263.6 189.4,264.4 190.9,264.6 191.9,263.9 192.4,263.9 192.6,263.1 193.9,261.9 195.9,262.6 199.4,262.6 199.6,262.9 200.9,262.6 201.6,261.4 202.1,261.9 202.1,263.1 202.9,263.4 206.1,263.1 206.9,263.6 207.6,263.6 207.9,263.1 210.4,262.1 210.4,260.4 210.9,259.4 210.1,257.6 210.1,256.4 209.6,254.9 209.6,253.6 209.9,253.4 209.6,250.9 209.4,250.6 209.6,246.9 209.4,246.6 209.4,245.1 208.6,244.1 208.9,242.1 208.4,240.9 208.4,239.1 207.9,238.4 208.6,236.9 208.4,235.9 208.9,235.1 208.9,234.6 208.1,233.6 208.4,231.9 206.1,230.4 205.6,228.4 203.9,228.4Z" fill="#684aa0"/>
<path d="M165.4,207.1 164.1,207.9 162.9,207.9 162.9,208.4 161.1,210.9 158.4,211.9 156.6,211.9 154.6,213.6 153.9,215.1 154.1,215.4 154.1,216.6 151.9,218.9 152.4,219.6 152.1,219.9 152.6,220.4 152.6,221.9 150.9,224.1 150.6,225.4 148.9,226.4 148.9,227.1 149.6,227.9 150.4,227.9 151.4,228.9 151.4,230.9 151.9,231.9 152.6,232.4 153.9,232.6 154.9,234.1 154.9,235.6 155.1,235.9 154.9,236.4 155.1,236.9 154.9,237.1 155.1,237.4 154.9,238.6 156.1,240.1 156.9,240.1 157.9,239.6 161.1,239.6 162.9,238.1 165.1,237.9 165.9,238.4 165.9,239.1 166.4,240.1 168.6,241.1 170.4,243.4 170.4,244.4 169.9,244.9 170.1,245.6 170.9,246.1 171.6,246.1 172.4,247.1 174.1,246.9 175.1,246.1 175.6,245.1 176.6,241.6 178.4,239.9 180.4,239.1 178.6,237.4 178.6,236.4 179.9,235.4 180.6,235.4 181.6,234.6 183.9,234.1 184.1,234.4 184.4,233.9 185.9,233.1 186.9,231.9 185.6,228.4 183.6,227.1 181.9,224.6 181.6,224.9 180.4,223.9 181.1,222.6 181.1,220.9 180.4,219.9 179.9,218.1 178.1,216.1 178.1,215.6 179.1,215.1 179.4,214.1 179.1,213.6 176.4,211.9 174.6,209.9 172.9,210.6 171.9,209.6 171.6,208.9 170.9,208.6 168.1,208.9Z" fill="#e6c8e3"/>
<path d="M291.6,294.6 292.9,296.9 292.1,298.1 291.1,298.4 290.4,299.1 290.1,300.1 290.4,300.9 290.9,300.9 291.6,301.6 291.6,302.6 290.9,303.4 289.6,303.4 289.1,303.9 288.1,304.1 288.6,304.4 289.1,305.9 288.1,307.9 288.1,309.1 287.4,310.6 290.4,310.9 292.1,310.1 293.1,309.1 295.1,311.1 295.6,310.9 295.9,311.1 297.4,310.1 297.6,310.4 298.6,310.1 299.9,311.4 301.4,311.6 301.9,312.1 301.9,312.6 300.9,314.1 300.6,317.1 301.9,318.1 304.4,318.1 305.1,318.9 305.1,319.4 307.1,320.6 307.6,321.4 308.4,321.4 308.9,320.9 308.9,320.4 309.4,319.9 309.9,319.9 311.6,321.9 311.6,322.9 310.4,323.6 310.1,324.6 311.1,327.1 311.1,328.4 312.4,329.9 312.4,331.1 313.4,331.9 314.6,331.4 316.9,331.6 317.4,332.6 319.1,334.1 319.1,335.1 319.9,335.6 320.4,335.1 320.1,333.6 320.6,333.1 321.9,332.9 323.9,333.1 324.6,332.6 325.6,332.6 327.4,333.4 328.9,332.1 330.4,332.9 331.9,332.1 333.4,332.1 334.4,332.9 335.1,332.9 335.1,331.4 333.6,329.9 333.4,328.9 334.6,327.6 335.9,327.4 336.1,326.1 335.9,325.4 336.1,325.1 335.1,323.9 335.4,322.6 335.1,321.1 333.9,319.1 332.6,318.6 333.4,317.4 334.9,317.6 333.6,316.4 331.1,316.4 330.4,315.4 330.4,314.9 331.4,313.9 331.1,313.6 331.6,312.4 331.6,310.9 331.1,309.9 330.4,309.4 329.6,305.6 329.6,303.9 329.4,303.6 327.6,303.6 326.6,304.4 326.1,304.4 325.1,303.1 322.6,301.6 321.6,300.6 321.4,298.9 320.9,298.4 320.1,298.6 319.9,298.4 319.1,298.9 318.6,298.4 317.1,297.9 316.6,297.4 316.6,296.1 316.9,295.9 316.6,295.4 317.6,294.1 317.6,293.6 315.4,294.1 313.1,293.1 311.1,291.1 310.6,288.9 309.6,288.4 308.4,287.1 307.1,287.1 305.4,287.9 303.6,290.4 302.1,290.1 300.9,290.6 300.1,291.4 298.4,291.9 298.1,293.1 297.4,294.1 296.6,294.1 294.4,293.1Z" fill="#8f6eb2"/>
<path d="M310.4,226.1 309.6,227.1 308.4,227.4 308.4,228.6 307.9,229.1 307.6,231.9 307.1,233.1 306.1,234.4 304.4,235.4 304.9,237.4 303.9,238.1 303.1,238.1 301.6,238.9 302.4,242.4 304.6,242.9 305.1,243.6 305.4,245.4 304.1,248.1 305.4,250.1 305.6,252.4 306.4,253.9 306.4,254.6 305.4,255.9 305.4,256.6 306.4,258.1 306.9,262.6 307.4,263.4 307.4,264.9 307.1,265.1 307.4,266.6 311.4,267.9 313.9,267.6 315.1,268.9 315.9,268.9 318.1,267.1 318.6,267.1 319.4,267.9 321.1,267.9 323.6,267.1 324.4,267.6 324.6,269.1 325.4,270.6 325.4,270.1 327.6,268.4 328.4,267.1 328.1,266.6 328.4,266.4 328.6,266.6 329.1,265.9 329.4,266.1 330.4,265.1 329.9,264.1 329.9,261.6 329.4,261.1 329.1,259.9 327.4,256.6 327.4,255.6 329.1,254.1 329.9,253.9 331.4,252.4 332.1,251.1 330.4,250.4 329.4,249.4 329.1,247.6 327.4,245.9 327.4,245.4 326.6,244.6 325.4,243.9 324.1,243.6 324.9,242.9 324.6,241.6 324.9,241.4 324.4,239.9 322.4,239.1 321.4,237.9 319.6,237.6 316.9,235.6 316.4,234.6 316.9,233.1 315.9,230.1 315.9,228.6 316.1,228.4 315.9,228.1 315.6,225.6 315.4,225.4 314.4,226.1 313.4,226.1 312.6,226.6Z" fill="#494ea3"/>
<path d="M104.6,342.4 104.6,343.1 104.1,343.6 103.9,344.9 104.1,347.9 103.4,349.6 103.4,350.9 103.9,351.4 103.9,352.1 102.6,353.9 101.9,354.1 101.9,354.6 101.1,355.1 100.9,357.4 100.4,358.6 100.1,361.9 99.4,362.4 99.6,364.1 99.1,366.6 98.6,367.1 98.9,369.9 97.9,371.1 98.4,373.4 97.9,374.6 96.4,376.1 95.9,377.1 96.1,377.6 95.9,378.1 96.4,378.6 96.6,379.6 94.4,382.6 93.9,383.9 94.9,383.9 95.9,385.1 96.4,385.1 97.9,384.4 99.1,383.1 100.1,383.6 100.9,383.6 102.4,382.4 102.9,382.4 103.6,383.4 103.6,384.4 102.9,385.9 103.1,386.1 104.4,386.1 105.9,385.1 106.1,384.6 105.9,383.1 106.6,382.4 107.9,382.4 109.4,384.4 110.9,384.4 111.1,384.1 112.6,384.4 114.9,383.6 117.1,383.6 117.9,383.9 119.9,385.6 120.6,385.4 123.1,383.4 124.1,383.4 125.4,384.9 126.1,385.1 127.1,384.1 129.6,383.1 131.6,383.1 132.6,382.4 134.4,382.6 134.4,382.1 133.6,381.1 133.6,380.1 134.9,379.1 135.1,377.9 134.6,377.1 135.1,376.4 136.1,376.4 136.9,375.6 136.1,374.9 134.6,374.1 135.4,371.6 134.9,369.4 135.4,368.9 136.1,368.9 137.4,369.9 138.9,370.1 139.4,369.6 139.9,367.6 140.6,366.9 141.6,366.9 142.4,367.9 143.4,368.4 143.6,367.9 143.1,367.4 143.1,366.9 144.9,365.1 145.4,363.9 145.4,362.1 145.6,361.9 145.4,361.1 143.6,361.1 142.1,362.1 141.4,361.9 140.6,361.1 140.4,359.4 139.1,359.4 138.1,358.6 138.1,357.1 137.4,357.1 136.4,357.6 134.6,356.6 133.9,356.6 133.1,357.1 131.9,357.1 130.9,355.9 130.1,353.6 130.4,352.1 129.4,351.6 129.1,351.9 128.1,351.6 127.4,350.9 127.4,350.4 126.1,348.4 124.4,348.1 123.9,347.6 123.6,346.6 122.1,345.6 120.9,345.6 120.6,345.4 119.9,346.1 119.1,346.1 117.9,345.1 115.1,346.1 113.4,344.9 111.6,345.1 110.9,344.1 111.1,342.1 109.9,340.9 109.4,340.9 108.4,342.4 107.4,343.1 106.4,343.4Z" fill="#e6c8e3"/>
<path d="M171.6,192.9 171.4,193.4 171.6,194.4 171.1,194.9 170.6,196.4 171.9,198.1 171.9,198.9 169.9,200.4 169.6,202.1 168.6,203.1 168.1,203.1 167.1,204.1 165.9,204.4 165.4,204.9 165.1,206.1 165.9,207.1 168.1,208.6 170.1,208.6 170.4,208.4 171.6,208.6 172.9,210.4 174.6,209.6 176.4,211.6 177.9,212.4 179.4,213.6 179.6,214.1 179.4,215.1 178.4,215.6 178.4,216.1 180.1,218.1 180.6,219.9 181.4,220.9 181.4,222.6 180.6,223.9 181.6,224.6 181.9,224.4 183.1,226.4 185.9,228.4 187.1,231.9 189.1,232.1 189.1,231.6 190.4,230.1 190.6,230.4 191.4,230.1 193.9,230.6 194.4,230.1 194.4,228.9 195.1,227.1 196.4,228.1 197.4,229.6 198.4,230.1 200.6,229.9 203.1,226.9 203.9,226.4 205.4,226.1 206.6,224.6 207.6,224.6 208.4,225.1 208.9,224.6 208.6,222.6 209.4,221.9 210.4,221.9 211.4,221.4 212.4,220.4 213.1,218.6 212.6,216.9 212.9,215.1 211.9,212.9 211.9,212.1 212.4,211.6 211.4,210.6 210.1,210.1 208.9,210.1 208.1,210.9 207.4,210.9 206.4,209.9 205.4,210.1 204.1,209.6 203.1,209.6 201.1,208.6 200.6,208.9 199.6,208.1 199.6,207.6 199.1,207.1 197.6,206.4 197.1,206.4 196.1,207.1 195.1,206.9 194.4,206.1 194.1,205.4 192.1,203.6 191.9,202.1 192.6,201.4 193.9,201.4 194.6,200.1 194.1,198.9 193.1,197.9 194.1,196.9 193.4,195.1 192.9,195.1 192.1,196.1 190.9,195.4 189.4,195.4 189.1,195.6 186.1,195.4 185.4,194.9 185.1,193.9 183.1,193.6 182.6,192.4 182.1,192.1 181.1,192.1 177.4,193.6 176.1,193.6 175.1,192.6 175.1,191.9 174.6,191.1 174.1,191.1 172.6,192.9Z" fill="#8f6eb2"/>
<path d="M261.4,271.9 260.6,273.9 258.4,275.6 258.4,278.1 258.1,278.4 258.9,279.4 259.1,280.4 258.6,281.1 257.6,281.6 256.1,283.1 256.1,285.1 256.6,285.6 257.6,285.9 257.9,286.6 257.6,287.9 258.4,289.4 258.1,290.6 257.4,291.6 257.9,292.1 258.4,292.1 259.1,293.1 258.9,293.4 259.1,293.6 258.6,294.1 258.6,297.1 258.9,297.6 260.1,298.6 260.6,299.6 261.6,299.1 262.4,299.1 263.1,299.9 263.4,301.9 264.4,303.6 264.4,304.6 263.6,305.1 264.6,306.4 267.6,306.9 268.1,306.4 269.1,306.1 271.4,308.6 272.4,308.9 273.6,308.6 274.6,309.4 275.4,309.4 277.4,308.1 278.4,308.1 278.9,308.6 278.9,309.4 277.9,311.4 278.9,312.4 279.9,312.6 280.4,313.1 281.9,312.4 283.1,312.4 283.6,313.1 284.1,313.1 286.1,311.1 287.4,310.4 287.9,309.1 287.9,307.9 288.9,305.4 288.4,304.4 286.6,303.4 286.6,301.6 286.1,300.9 284.6,300.4 282.6,299.1 281.9,299.4 279.6,299.1 277.4,297.4 276.6,296.1 276.6,295.4 275.6,294.6 275.4,293.1 276.1,292.1 274.4,290.4 274.4,288.9 275.1,287.6 275.1,286.9 274.6,286.1 274.6,281.9 273.1,279.9 273.4,278.9 274.6,277.6 274.6,276.1 274.1,274.6 272.6,274.1 271.4,273.1 268.9,274.6 267.4,274.4 265.9,273.1 264.1,272.6 262.6,271.6Z" fill="#8f6eb2"/>
<path d="M278.6,308.6 277.4,308.4 275.4,309.6 274.6,309.6 273.6,308.9 273.4,309.1 271.4,308.9 269.1,306.4 268.6,306.4 267.6,307.1 265.1,306.9 263.6,305.4 262.9,305.4 262.4,305.9 262.6,306.9 262.4,308.1 261.4,309.1 260.4,309.1 257.4,307.9 254.4,308.6 253.4,309.6 252.4,309.6 252.1,309.4 252.4,308.9 251.6,307.9 251.1,307.9 250.4,307.1 249.4,306.9 247.1,308.4 245.4,309.1 244.6,309.1 243.9,308.6 242.9,308.9 240.6,311.1 239.1,311.4 240.9,313.4 241.1,315.4 241.9,315.6 242.9,317.1 242.6,318.4 242.9,320.1 244.9,321.4 244.6,323.9 243.6,324.9 244.1,325.6 245.4,325.6 245.6,325.4 245.9,326.1 246.9,326.9 246.9,328.1 247.6,329.9 247.6,330.9 247.1,331.4 247.6,332.4 249.1,332.6 250.6,331.6 252.6,331.6 253.6,331.1 254.6,331.1 257.4,332.9 258.9,333.1 259.9,332.6 260.6,332.6 261.9,333.6 264.1,332.4 265.4,332.4 265.9,331.9 267.4,331.4 268.4,330.4 269.1,330.4 270.1,330.9 273.1,330.6 273.9,329.6 273.4,328.6 273.4,326.6 274.1,324.1 275.1,323.9 275.6,324.4 276.1,324.4 276.4,324.1 276.1,323.1 276.9,322.4 277.9,322.9 278.6,322.9 278.9,321.6 279.4,320.9 279.6,318.9 281.1,316.9 281.1,316.4 280.1,315.1 280.4,313.4 279.9,312.9 278.9,312.6 277.6,311.4 278.4,310.1Z" fill="#494ea3"/>
<path d="M111.1,200.6 110.6,200.9 110.4,200.6 109.1,200.6 108.1,200.1 107.1,200.1 105.9,199.4 105.4,199.9 105.6,200.1 105.1,201.4 104.4,201.9 103.6,201.9 102.1,200.1 102.4,201.4 100.9,202.9 99.4,202.9 99.1,202.6 96.4,202.9 95.1,203.6 94.6,204.9 93.9,205.6 92.4,205.6 90.9,204.6 90.4,204.6 89.6,205.6 88.9,205.6 87.9,205.1 86.9,205.9 85.4,206.1 84.1,207.4 82.6,207.9 82.1,208.4 81.9,209.6 80.9,210.6 79.4,210.1 77.1,211.4 76.9,211.9 78.4,213.1 78.4,213.9 77.1,214.6 76.4,214.1 76.4,213.6 74.6,215.4 74.9,215.6 74.4,216.1 74.6,217.1 74.1,217.6 74.4,218.1 74.1,218.6 74.9,219.6 74.6,219.9 75.4,221.1 77.9,222.6 79.9,223.1 80.6,223.9 81.9,224.4 82.4,224.1 83.1,224.9 82.6,225.4 82.4,230.4 82.9,230.9 83.9,230.9 84.9,230.4 85.6,230.6 85.9,231.9 86.9,233.4 86.4,234.9 87.4,235.1 89.1,233.6 89.9,234.1 90.9,234.1 91.4,232.6 91.9,232.1 92.6,232.1 94.6,234.6 94.6,235.6 96.6,237.1 96.9,236.9 98.1,236.9 98.6,237.4 98.9,238.4 100.1,238.6 101.1,239.4 101.4,238.9 104.6,237.6 105.1,236.4 105.9,235.6 106.6,235.4 108.1,233.4 109.6,232.9 111.9,231.4 112.6,231.1 112.9,231.4 112.4,229.1 111.4,228.4 111.6,228.1 110.9,227.1 110.4,224.6 108.9,222.6 108.9,222.1 109.9,221.1 111.9,220.9 112.9,220.4 113.9,218.6 116.4,218.6 116.6,218.9 117.4,218.6 118.1,219.4 119.1,219.1 119.4,217.6 119.9,217.4 119.6,216.9 119.9,215.9 119.4,214.6 118.1,213.9 116.4,211.9 116.6,211.1 117.6,210.6 117.4,209.6 115.1,208.6 114.6,207.6 114.6,206.9 113.4,205.9 113.6,205.4 113.4,205.1 113.9,204.6 114.1,203.6 113.4,203.4 113.1,203.6 112.1,203.1 111.1,202.1Z" fill="#e6c8e3"/>
<path d="M205.9,180.9 205.4,181.6 204.9,184.1 204.1,185.4 204.1,186.6 204.6,187.4 204.6,188.4 203.4,188.9 202.4,190.1 201.9,190.1 200.4,191.4 198.1,191.4 195.6,192.4 193.4,194.6 194.4,196.6 194.1,197.4 193.4,197.6 193.4,197.9 193.9,198.1 194.9,200.1 194.6,200.9 193.9,201.6 192.6,201.6 192.1,202.1 192.4,203.6 194.4,205.4 195.1,206.6 196.1,206.9 196.6,206.4 197.6,206.1 199.1,206.9 199.9,207.6 199.9,208.1 200.6,208.6 201.1,208.4 203.1,209.4 204.1,209.4 205.4,209.9 206.4,209.6 207.4,210.6 208.1,210.6 208.9,209.9 210.1,209.9 211.4,210.4 212.4,211.4 213.1,211.4 214.1,210.6 215.4,210.6 217.1,211.6 218.4,211.6 219.9,212.1 220.4,211.9 221.6,213.1 223.9,214.6 226.6,215.1 228.9,216.4 230.1,216.1 231.9,214.6 231.6,213.9 231.9,210.9 231.1,210.1 231.1,208.9 231.9,207.9 232.4,207.9 232.9,207.4 233.4,204.6 234.6,203.6 236.1,203.4 236.1,201.9 236.6,201.1 236.4,200.9 236.4,198.9 237.1,197.4 237.9,194.6 237.9,193.4 236.1,191.6 236.6,190.4 235.4,188.1 235.6,186.1 235.4,185.9 234.6,187.1 232.9,188.9 230.4,189.1 229.4,190.9 228.4,190.9 227.1,189.9 225.4,189.9 224.6,189.4 222.4,189.6 220.1,187.6 219.9,186.9 219.1,186.1 219.1,185.6 218.6,185.4 218.9,184.1 217.4,182.6 217.4,181.9 216.4,180.6 215.6,180.6 215.4,181.6 214.6,181.6 214.1,181.1 213.1,181.1 210.1,182.1 209.6,181.9 209.1,180.9 208.9,181.1Z" fill="#e6c8e3"/>
<path d="M207.9,324.1 206.9,324.1 204.6,325.6 202.6,326.1 202.4,326.9 201.4,327.6 199.9,327.6 198.9,326.6 197.6,326.4 194.6,323.1 193.4,323.1 192.4,322.1 191.6,322.1 190.1,323.4 189.4,323.1 189.1,323.4 187.4,323.4 187.1,323.1 186.1,323.6 186.1,324.9 186.9,326.6 186.9,329.1 185.6,329.4 184.9,331.6 183.4,332.9 183.6,334.1 183.4,335.4 182.4,336.4 180.9,336.6 178.9,338.9 178.4,340.1 175.6,341.9 175.9,343.9 174.9,344.9 173.9,344.9 173.4,345.4 173.4,347.1 173.9,347.6 173.9,348.4 173.4,349.1 173.4,351.1 172.9,352.6 173.1,352.9 174.9,352.9 175.9,352.1 177.4,352.1 180.6,354.6 180.6,355.1 181.9,357.4 182.9,357.6 183.4,358.4 184.6,358.6 186.1,357.6 187.6,358.1 190.1,355.9 192.6,355.4 193.1,354.9 193.9,354.9 194.9,354.1 196.4,353.6 197.4,353.6 197.9,354.1 199.1,354.4 199.9,354.1 201.6,354.4 201.6,353.6 199.6,351.4 199.6,350.1 199.4,349.9 199.6,348.6 199.4,348.1 201.1,346.6 204.1,342.4 205.4,342.4 205.9,343.1 207.1,342.1 207.4,341.4 208.4,340.6 208.6,339.9 210.4,339.6 211.1,340.6 211.9,340.1 211.6,339.1 209.1,336.6 209.6,334.4 209.4,333.1 208.9,332.6 208.6,330.1 208.1,329.4Z" fill="#494ea3"/>
<path d="M175.4,342.1 173.6,341.4 172.9,342.4 171.9,342.4 171.4,341.9 169.6,341.6 168.4,340.4 167.6,338.4 166.4,338.4 165.1,339.1 164.4,339.1 163.9,338.6 161.9,338.4 159.9,337.1 158.9,337.4 158.4,338.1 158.4,339.4 157.9,339.9 157.1,339.9 156.4,339.1 155.9,337.6 153.1,335.4 152.9,334.9 153.6,333.6 153.4,332.4 152.4,333.4 152.1,334.6 151.1,335.1 149.6,336.6 149.4,338.4 148.9,338.9 148.1,338.4 146.9,338.9 146.4,340.1 146.9,340.6 146.6,341.4 143.1,342.6 142.1,343.4 142.6,343.9 144.1,344.1 145.1,345.1 145.1,345.6 142.6,346.6 142.6,348.4 141.9,349.9 141.9,350.9 140.9,351.9 140.1,351.9 139.9,352.4 139.6,354.6 138.4,356.9 138.4,358.6 139.1,359.1 140.4,359.1 140.9,361.1 142.1,361.9 143.6,360.9 145.4,360.9 145.9,361.6 145.6,363.9 144.6,365.9 146.9,367.1 148.6,366.1 149.1,366.1 149.9,365.4 150.4,365.4 150.6,364.9 151.6,364.9 153.1,363.4 154.1,363.4 154.9,364.4 155.9,364.4 157.6,363.9 158.9,362.6 160.1,362.6 160.9,363.9 162.4,365.1 163.1,365.1 163.6,363.9 164.4,363.4 165.1,363.6 165.4,363.4 165.9,364.4 167.4,362.9 167.9,360.4 167.6,360.1 169.1,359.1 169.9,358.1 169.6,356.6 170.9,355.1 170.6,353.9 169.9,353.1 170.6,352.6 171.6,352.9 172.6,352.6 173.1,351.1 173.1,349.1 173.6,348.4 173.6,347.6 173.1,347.1 173.1,345.4 173.9,344.6 174.9,344.6 175.6,343.9Z" fill="#684aa0"/>
<path d="M236.1,332.4 235.6,333.1 234.9,336.1 236.9,336.6 237.4,337.1 237.4,337.6 236.6,338.1 237.1,339.9 238.1,341.1 237.9,343.4 239.1,344.9 239.1,346.4 238.9,346.6 239.1,347.1 238.9,347.6 239.4,349.9 238.9,350.6 238.9,351.4 239.1,351.6 240.4,351.6 241.6,352.9 241.9,353.6 240.4,354.9 240.4,355.9 241.6,356.9 243.4,357.1 244.1,357.9 244.4,359.1 245.1,359.9 245.4,359.6 246.4,360.1 248.1,360.1 249.1,360.6 250.9,360.6 251.1,360.4 253.4,360.6 253.6,360.4 255.4,361.1 256.9,361.1 257.1,361.4 257.9,361.4 259.1,360.1 260.6,360.1 261.6,360.6 263.4,360.4 263.9,359.6 263.9,358.9 264.9,357.6 264.9,356.4 263.9,354.9 263.9,353.6 265.1,351.4 265.1,350.4 265.9,348.4 264.9,345.1 264.9,344.1 265.9,342.6 265.4,342.1 264.4,342.1 263.4,341.4 262.4,338.6 262.9,336.9 262.6,336.6 261.4,337.1 261.1,336.9 261.4,335.1 261.9,334.1 261.6,333.6 260.6,332.9 259.9,332.9 258.9,333.4 257.4,333.1 254.6,331.4 253.6,331.4 252.6,331.9 250.6,331.9 249.1,332.9 248.1,332.9 247.4,332.4 246.9,331.4 247.4,330.9 247.4,329.9 246.6,328.1 246.6,326.9 245.9,326.4 245.4,326.6 245.4,327.6 244.6,328.4 242.4,329.6 242.1,329.4 240.9,329.6 240.1,331.9 239.4,332.6Z" fill="#494ea3"/>
<path d="M111.4,200.6 111.4,202.1 112.1,202.9 114.4,203.6 114.4,204.1 113.6,205.1 113.9,205.4 113.6,205.9 114.9,206.9 115.1,208.4 117.6,209.6 117.9,210.6 116.9,211.1 116.6,211.9 118.1,213.6 119.6,214.6 120.1,215.9 119.9,216.1 120.1,217.4 119.6,217.6 119.6,218.4 119.1,219.4 118.1,219.6 117.4,218.9 116.6,219.1 116.4,218.9 113.9,218.9 112.9,220.6 111.9,221.1 109.9,221.4 109.1,222.1 109.1,222.6 110.6,224.6 111.1,227.1 111.9,228.1 111.6,228.4 112.6,229.1 113.1,231.1 114.6,232.9 117.6,233.4 118.4,234.1 118.4,234.9 119.4,236.1 120.1,236.1 121.1,234.4 121.6,234.4 122.6,235.6 123.4,235.9 126.4,235.6 128.1,233.6 130.6,232.6 131.9,232.6 133.9,234.1 134.6,234.1 135.9,233.4 136.9,233.4 137.4,233.9 138.1,233.9 139.1,232.9 142.1,232.9 142.4,234.1 143.1,234.4 143.1,233.6 142.6,233.1 142.9,232.9 142.6,232.6 145.1,231.1 145.6,231.1 146.4,232.4 147.6,232.1 148.1,232.4 148.9,231.9 148.9,229.9 149.4,228.9 149.4,227.9 148.6,227.1 148.6,226.4 150.4,225.4 150.6,224.1 152.1,222.4 152.4,220.4 151.9,219.9 152.1,219.6 151.6,218.9 153.9,216.6 153.9,215.4 153.6,215.1 154.4,213.9 154.4,213.1 153.6,211.6 152.9,210.9 153.1,209.9 152.4,210.4 151.6,210.4 150.4,209.4 149.4,209.1 149.6,209.6 149.4,210.6 148.4,210.9 147.9,210.4 148.1,209.4 147.9,208.4 147.1,207.6 145.4,207.6 144.6,208.1 143.9,208.1 142.9,207.6 142.4,208.1 141.1,206.9 140.1,206.9 139.1,206.4 138.1,206.4 137.6,206.9 137.4,206.6 137.6,205.9 137.4,204.9 136.6,204.1 134.6,203.4 133.4,204.1 132.4,204.1 131.9,203.6 130.6,203.4 129.6,204.4 127.4,204.4 125.9,202.9 123.6,202.1 119.9,202.4 118.1,203.1 116.9,202.9 116.6,201.9 115.9,202.9 114.6,202.9 114.1,202.4 112.4,202.6 111.9,202.1 112.1,200.9Z" fill="#8f6eb2"/>
<path d="M97.1,116.9 96.6,117.4 96.6,118.6 98.1,120.9 98.1,123.4 99.6,126.1 99.4,127.4 99.6,128.6 99.4,128.9 100.6,130.1 100.4,130.4 100.6,130.6 100.6,132.6 102.4,134.1 103.4,137.6 103.4,138.9 103.9,139.6 104.6,139.9 104.9,141.4 105.9,142.4 105.1,144.4 106.1,146.9 106.1,147.9 105.4,149.1 105.4,149.9 104.9,150.4 104.9,151.9 104.4,153.1 104.6,153.6 104.4,154.9 104.9,155.4 104.6,158.1 104.1,159.1 104.6,159.6 104.4,160.6 105.6,161.9 107.1,162.4 108.6,164.4 110.6,164.4 111.1,165.1 110.9,165.6 109.1,165.6 108.6,166.6 109.9,168.4 110.9,169.1 111.9,169.4 113.1,170.6 114.1,171.1 116.6,171.1 117.9,172.4 118.9,171.6 119.9,171.9 121.1,171.6 122.1,170.9 123.1,171.9 124.1,171.9 125.1,170.9 125.6,169.4 126.9,167.4 126.6,166.1 126.9,165.1 126.6,164.9 128.1,163.9 127.4,163.6 126.9,164.1 123.9,161.1 121.6,160.9 121.1,160.4 121.1,158.9 120.6,158.4 120.6,157.6 118.9,155.9 118.1,155.9 117.4,157.4 116.9,157.1 116.9,156.4 117.9,155.1 119.9,154.6 120.1,153.4 122.1,151.4 122.9,151.4 123.6,150.6 123.6,147.4 125.4,146.6 125.9,146.1 125.9,145.6 125.4,144.9 125.4,144.1 123.9,141.9 121.1,139.1 121.1,137.1 120.9,136.9 121.6,135.9 121.4,135.1 121.4,133.6 121.9,133.4 121.6,132.6 120.4,133.1 119.4,132.6 118.1,130.6 118.4,130.4 116.6,129.1 116.4,128.6 116.6,127.6 116.1,126.6 114.9,125.6 115.4,123.6 116.9,122.4 117.1,121.4 115.9,120.4 115.4,120.6 114.9,120.1 113.9,120.4 113.1,119.9 111.1,120.6 110.4,120.4 109.6,119.6 108.9,119.9 108.1,119.4 106.6,119.4 106.4,119.6 106.1,119.4 103.9,119.4 102.6,118.9 101.9,118.1 101.6,118.4 101.1,118.1 100.4,118.9 100.1,118.6 99.4,119.1 98.9,118.1 98.9,117.4 97.9,116.9Z" fill="#684aa0"/>
<path d="M247.1,158.9 247.1,160.1 248.1,162.1 247.9,166.1 248.4,166.6 248.6,167.6 250.1,168.6 250.6,168.1 252.9,168.6 253.9,169.4 254.9,170.9 257.6,172.4 259.1,172.4 259.6,171.1 260.9,170.6 261.1,168.1 262.1,167.4 263.1,167.9 264.6,167.6 266.6,166.6 267.6,164.9 268.9,164.9 269.1,164.6 270.1,164.9 270.4,164.6 271.1,164.9 271.9,164.6 272.6,165.1 273.4,165.1 275.4,166.9 275.4,167.6 276.1,168.6 278.1,168.9 279.4,169.9 281.1,170.6 282.4,170.9 283.4,170.6 284.4,169.4 286.9,168.9 286.6,167.4 287.1,166.6 288.9,166.1 290.4,166.9 291.1,166.9 291.9,166.1 291.1,165.4 291.1,163.9 290.9,163.6 291.9,162.6 292.4,161.1 291.1,160.6 290.4,159.9 290.4,159.1 291.4,157.9 291.4,156.6 290.6,155.9 290.4,154.6 291.1,153.4 291.6,153.1 291.4,151.9 291.6,151.6 292.1,151.9 291.1,150.6 291.1,149.6 291.6,148.9 291.6,147.1 290.6,145.9 290.6,143.1 289.9,142.9 288.6,141.6 287.1,141.6 286.9,141.4 283.6,141.6 281.9,141.1 281.1,141.9 278.1,141.9 276.9,140.6 274.1,140.6 271.6,139.1 271.1,138.4 268.6,137.9 267.4,136.4 266.4,136.4 266.1,136.9 265.6,136.9 264.6,136.1 263.6,136.1 263.1,137.1 263.1,138.1 262.6,138.6 260.6,138.4 259.9,140.1 259.1,140.9 257.6,140.6 256.4,140.9 255.6,141.4 255.4,143.4 254.6,144.9 254.4,147.4 252.6,149.4 252.6,150.4 253.4,151.1 250.9,154.1 250.1,154.4 250.6,155.9 249.6,156.6 249.9,157.9 249.1,158.6 248.1,158.9 247.4,158.6Z" fill="#8f6eb2"/>
<path d="M287.1,166.9 286.9,167.4 287.1,168.9 286.6,169.4 284.9,169.4 283.9,170.4 283.6,175.1 284.6,176.9 286.6,178.6 287.1,181.1 288.6,182.4 288.6,183.1 287.9,184.1 288.9,185.6 288.6,186.1 288.9,189.1 288.6,190.1 286.9,192.4 286.9,194.4 289.4,196.6 289.9,197.6 289.6,199.9 290.1,200.6 290.1,201.4 289.4,202.6 289.9,202.9 290.6,202.4 291.4,202.4 291.9,203.6 292.6,203.9 293.6,204.9 294.6,206.9 295.9,208.1 296.1,208.9 297.6,209.1 298.4,208.9 299.1,208.1 300.4,207.9 301.4,208.1 301.6,208.9 300.9,209.6 299.6,209.6 299.4,209.9 300.1,210.9 300.1,211.4 301.4,211.4 302.4,210.9 305.9,211.1 306.9,210.4 307.1,208.9 309.4,207.1 310.1,207.9 311.9,205.9 312.1,203.9 313.1,202.9 313.9,202.6 315.1,201.1 315.6,201.1 316.6,200.4 316.1,198.1 317.1,197.1 317.6,197.1 319.1,195.1 318.1,194.1 316.9,193.6 314.1,190.1 314.4,189.1 314.1,187.4 313.4,186.6 312.1,186.4 311.4,185.6 311.1,184.6 310.4,183.9 309.6,182.4 307.9,180.6 307.6,180.1 307.6,178.9 307.9,178.6 307.6,177.6 305.9,175.1 304.9,174.4 304.1,174.4 303.1,174.9 301.9,174.6 300.6,173.9 298.9,171.6 297.6,171.6 296.4,170.4 295.6,170.1 295.1,169.1 295.4,168.4 294.9,167.6 294.9,166.9 294.1,166.1 292.4,165.9 291.1,167.1 290.4,167.1 288.9,166.4Z" fill="#684aa0"/>
<path d="M147.6,173.6 145.6,172.4 144.1,172.1 142.9,170.9 142.6,170.1 141.9,170.1 141.1,170.6 138.6,170.9 138.1,170.4 136.6,170.6 135.9,169.9 134.9,169.9 134.1,170.6 133.6,171.6 133.9,172.1 133.6,172.9 131.9,174.1 130.9,173.9 130.1,173.1 130.1,172.4 130.9,171.6 130.1,171.6 129.1,172.6 125.9,172.9 124.6,171.9 123.1,172.1 122.1,171.1 121.1,171.9 119.9,172.1 118.9,171.9 117.9,172.6 118.1,174.4 116.9,177.1 116.9,177.9 117.9,179.6 116.9,181.1 116.9,182.1 115.9,183.4 115.9,184.4 116.9,186.6 116.1,188.9 116.9,190.6 116.6,192.9 115.9,193.9 115.6,195.4 114.6,196.4 113.1,196.9 112.4,197.9 111.9,200.4 112.4,200.9 112.1,202.1 112.4,202.4 114.1,202.1 114.6,202.6 115.9,202.6 116.1,201.9 116.6,201.6 116.9,202.6 118.1,202.9 119.9,202.1 123.6,201.9 125.9,202.6 127.4,204.1 129.6,204.1 130.6,203.1 131.9,203.4 132.4,203.9 133.4,203.9 135.4,202.4 135.9,202.4 136.1,201.1 137.6,199.9 137.4,197.4 138.1,197.1 138.6,197.6 139.4,197.6 139.9,195.1 141.4,193.9 141.4,193.1 140.1,192.1 140.1,190.6 141.4,189.4 141.6,187.4 142.4,186.9 142.9,185.9 142.9,184.9 144.6,183.6 144.6,182.1 143.6,180.9 143.4,179.9 146.4,176.4 147.9,175.6Z" fill="#684aa0"/>
<path d="M304.4,128.1 304.1,129.1 304.9,130.1 304.9,131.9 305.4,132.9 306.4,133.1 307.9,132.6 308.4,133.1 309.4,133.4 310.4,134.4 310.6,136.6 311.4,136.9 312.1,137.6 312.1,139.4 312.4,139.6 310.9,141.1 310.6,141.9 311.1,142.6 312.9,143.4 313.1,144.4 314.4,145.9 314.1,147.6 314.9,148.4 316.4,148.6 316.9,149.1 316.9,150.1 315.9,151.4 315.9,152.6 315.1,153.6 315.6,157.4 314.9,159.9 314.9,164.4 315.6,165.6 316.1,168.1 315.6,168.9 314.9,172.9 316.9,172.9 318.6,174.6 319.6,175.1 321.4,176.9 321.9,177.9 322.9,178.1 327.9,173.1 328.6,173.6 330.6,173.4 332.1,174.6 334.1,174.9 334.9,175.6 335.9,174.9 336.9,175.4 337.6,175.4 341.1,172.6 341.9,172.6 343.6,173.9 345.1,173.9 345.4,174.1 347.1,173.6 348.6,171.9 349.4,171.9 350.6,170.9 351.6,171.1 351.9,171.6 352.6,171.4 353.1,169.6 352.4,170.4 351.4,170.4 349.9,168.9 349.9,168.4 348.9,168.1 348.4,167.6 348.1,165.6 347.6,165.1 345.4,164.9 344.6,166.1 343.9,166.1 342.1,164.1 339.9,163.9 337.6,161.4 336.1,160.6 333.9,157.9 332.4,157.4 330.4,157.4 327.9,155.6 325.4,155.4 324.4,154.6 324.1,153.9 322.9,152.6 322.4,151.6 322.6,150.4 322.4,149.9 322.6,149.6 322.1,149.1 321.9,149.4 320.6,149.1 319.9,145.4 318.4,142.9 318.9,141.9 318.6,140.1 319.4,138.6 318.9,138.1 318.1,138.1 317.4,137.4 318.4,135.9 318.6,133.9 317.1,133.6 316.1,132.1 316.4,131.9 316.1,131.6 316.4,130.6 317.6,130.1 313.9,126.9 312.1,127.6 310.9,127.4 310.6,127.6 308.1,127.9 307.9,128.4 306.6,128.4 306.1,128.9Z" fill="#e6c8e3"/>
<path d="M299.4,124.4 298.4,124.9 298.4,125.4 297.9,125.9 298.1,126.6 297.6,127.1 296.9,127.1 295.9,126.6 295.4,126.9 294.1,128.6 293.9,132.6 294.4,133.4 294.4,134.1 293.4,136.4 292.4,137.6 292.4,139.4 292.6,139.6 292.4,139.9 292.4,141.4 292.9,142.4 290.9,143.4 290.9,145.9 291.9,147.1 291.9,148.9 291.4,149.6 291.4,150.6 292.4,151.9 292.1,152.1 291.6,151.9 291.9,153.1 291.4,153.4 290.6,154.6 290.6,155.4 291.6,156.6 291.6,157.9 290.9,158.6 290.6,159.9 292.6,161.1 292.1,162.6 291.1,163.6 291.4,163.9 291.4,165.4 292.1,165.9 293.4,165.6 294.6,166.1 295.6,168.4 295.4,169.1 295.6,169.9 296.4,170.1 297.6,171.4 298.9,171.4 299.9,172.4 299.9,172.9 301.9,174.4 303.1,174.6 304.1,174.1 304.9,174.1 305.6,174.9 309.4,174.6 311.6,173.4 313.1,172.9 314.6,172.9 314.9,172.1 314.9,170.9 315.4,168.9 315.9,168.1 315.6,166.4 314.6,164.4 314.6,159.9 315.4,157.4 314.9,153.6 315.6,152.6 315.6,151.4 316.6,150.1 316.6,149.1 314.9,148.6 313.9,147.6 314.1,145.9 312.9,144.4 312.6,143.4 311.1,142.9 310.4,141.9 310.6,141.1 312.1,139.6 311.9,139.4 311.9,137.6 310.4,136.6 310.1,134.4 309.4,133.6 308.9,133.6 307.9,132.9 305.6,133.4 304.6,131.9 304.6,130.1 303.9,129.1 304.4,127.9 302.9,126.4 302.1,124.6 301.4,124.1Z" fill="#494ea3"/>
<path d="M40.6,181.1 41.1,182.1 42.9,183.6 42.6,184.1 42.9,184.4 42.6,186.6 44.9,187.4 46.9,187.4 47.4,187.9 47.6,188.9 48.9,189.4 49.9,190.4 50.1,191.4 51.1,192.6 51.1,193.1 50.1,194.1 49.4,194.1 48.9,193.4 48.1,193.4 46.9,195.1 44.4,196.9 45.9,197.9 46.4,197.6 47.6,197.9 48.1,198.4 48.6,198.1 49.4,198.6 50.9,198.4 51.4,199.1 50.6,199.9 51.1,200.1 50.9,200.6 51.4,201.1 52.6,200.9 56.1,203.4 56.6,203.4 57.4,204.1 57.4,204.6 56.9,205.1 56.9,206.1 56.4,206.9 56.1,208.6 58.1,207.9 61.4,207.9 63.4,206.6 65.4,206.4 68.1,208.9 68.9,210.1 70.4,210.4 70.9,210.9 72.9,210.9 73.6,210.4 75.1,210.4 75.6,211.1 75.9,213.1 76.6,213.6 76.6,214.1 77.4,214.4 78.1,213.9 78.1,213.1 76.6,211.9 77.6,210.6 79.4,209.9 80.9,210.4 81.6,209.6 81.9,208.4 82.6,207.6 84.1,207.1 85.4,205.9 86.9,205.6 87.6,205.1 87.4,203.4 86.1,202.1 88.4,199.9 88.1,198.4 87.6,197.9 87.6,197.4 86.9,196.9 86.9,195.9 87.6,194.9 87.6,194.4 86.4,191.1 85.1,191.1 84.4,190.4 85.1,189.4 85.9,189.1 85.1,183.9 84.6,183.6 83.9,184.1 81.9,184.6 81.4,184.1 81.6,183.9 79.9,184.1 78.1,183.4 76.4,183.6 75.6,184.9 76.4,186.6 76.4,187.4 75.6,188.1 75.1,188.1 72.6,186.6 71.4,186.6 70.1,184.9 68.4,185.1 66.1,183.1 65.4,182.9 63.4,183.1 62.6,182.4 61.9,180.6 61.4,181.1 61.1,180.9 60.6,181.1 56.9,181.1 55.4,179.9 53.9,179.9 53.6,179.6 52.6,179.6 50.4,180.6 48.6,179.6 47.9,178.9 47.9,178.4 46.6,178.9 45.6,180.1 43.6,181.6 41.9,181.6Z" fill="#8f6eb2"/>
<path d="M316.6,130.6 316.4,131.6 316.6,131.9 316.4,132.1 316.9,133.1 317.6,133.6 318.9,133.9 318.6,135.9 317.6,137.1 318.1,137.9 318.9,137.9 319.6,138.6 318.9,140.1 319.1,141.9 318.6,142.9 320.1,145.4 320.9,149.1 322.1,148.9 322.9,149.6 322.6,149.9 322.9,150.4 322.6,151.6 324.9,154.9 326.6,155.4 327.9,155.4 330.4,157.1 332.4,157.1 333.9,157.6 336.1,160.4 337.6,161.1 339.9,163.6 342.1,163.9 343.9,165.9 344.6,165.9 345.4,164.6 347.6,164.9 348.4,165.6 348.6,167.6 349.9,168.1 350.1,168.9 351.4,170.1 352.4,170.1 353.9,167.6 354.9,167.6 356.4,169.1 356.9,169.1 356.9,168.4 355.6,167.1 355.6,166.1 357.1,164.9 357.1,163.9 358.6,162.6 358.6,161.9 356.6,158.4 354.4,157.1 353.9,157.1 353.4,156.6 352.4,157.1 350.6,155.4 349.4,151.4 349.4,150.1 349.9,149.6 350.4,148.1 352.4,146.6 353.9,146.6 354.9,147.6 355.6,147.6 356.1,147.1 357.4,147.4 358.6,148.9 360.6,150.1 361.9,150.1 363.1,149.6 364.9,150.4 366.1,151.9 366.9,152.1 367.6,151.6 367.9,149.6 368.9,148.1 368.9,147.4 369.9,146.4 368.6,146.6 368.4,146.1 364.4,145.1 361.1,141.9 360.4,142.6 359.6,142.6 358.1,143.9 356.9,143.9 355.1,143.1 354.1,143.1 352.4,144.9 351.6,144.9 350.9,144.1 351.1,143.9 350.9,143.1 350.4,143.1 349.6,142.4 350.1,141.9 349.6,141.4 349.4,140.1 348.9,140.6 348.4,140.6 347.6,141.6 346.6,140.9 344.4,141.4 344.1,140.9 340.4,139.4 339.6,137.9 338.6,137.6 337.9,137.9 336.9,136.9 336.1,134.9 335.6,134.4 335.9,134.1 335.6,133.1 334.1,132.6 333.4,131.9 333.4,131.4 332.4,130.6 331.9,130.6 331.1,129.9 330.6,128.9 328.9,129.4 328.6,129.1 327.6,129.4 326.4,128.9 325.6,129.4 324.4,129.1 323.4,129.4 323.1,129.1 319.4,131.4 318.1,130.4Z" fill="#8f6eb2"/>
<path d="M234.9,213.9 234.6,214.1 234.6,215.6 232.6,216.9 232.4,219.1 231.4,220.1 232.1,221.6 232.6,223.6 231.6,224.4 231.6,225.1 232.4,225.6 232.6,227.4 233.6,229.1 234.6,230.1 233.9,232.4 234.1,232.6 235.4,232.6 236.1,233.4 237.4,235.6 236.9,237.1 237.1,237.6 237.1,240.6 236.4,241.9 237.1,243.9 236.9,244.9 237.1,248.6 237.6,248.9 238.6,248.1 239.4,248.1 240.1,248.9 240.4,250.9 241.6,252.6 242.9,252.4 244.1,250.1 246.9,250.9 248.4,252.4 249.4,251.1 251.1,250.1 252.9,250.1 253.6,250.6 253.9,250.1 255.1,249.4 256.4,249.4 257.6,248.9 259.1,248.9 260.9,249.6 263.6,247.1 264.6,246.9 265.4,247.4 265.6,246.6 266.9,245.1 266.6,244.1 265.9,243.1 265.9,241.9 265.1,240.9 265.1,239.9 266.1,238.9 265.9,234.4 266.6,233.9 267.6,233.9 268.6,232.4 270.1,232.4 271.6,231.6 271.6,230.9 269.9,229.4 268.6,226.6 267.9,226.1 267.4,225.1 265.9,223.6 265.6,223.9 264.9,223.6 264.6,223.1 263.6,222.6 262.1,222.9 261.1,221.6 260.4,221.1 259.4,221.1 257.4,219.1 254.4,218.4 251.6,218.1 250.6,217.1 250.9,216.9 250.9,215.6 250.4,215.4 249.1,216.1 247.9,216.1 247.4,215.6 246.1,215.6 244.9,216.9 243.4,216.9 240.1,215.4 239.4,215.4 238.4,215.9 237.6,215.6 237.1,214.6 237.4,213.4Z" fill="#684aa0"/>
<path d="M211.1,65.4 213.6,67.9 213.6,69.1 212.4,70.4 212.4,70.9 212.6,71.1 213.6,70.9 214.1,71.4 215.4,75.1 216.1,75.1 216.9,74.6 218.1,75.6 218.6,77.4 220.1,78.6 220.1,79.1 221.6,80.6 223.6,80.6 225.1,81.9 226.4,81.4 228.6,81.4 228.9,81.6 228.6,83.6 229.9,84.9 230.1,85.6 232.4,86.1 233.4,85.9 234.4,86.6 235.1,88.1 235.1,88.9 236.4,90.1 236.4,91.9 235.6,93.1 235.6,94.4 237.1,95.6 239.1,99.1 238.9,100.4 238.4,101.1 237.9,104.9 240.4,107.9 241.9,107.1 245.6,107.4 246.4,106.9 247.6,106.9 249.4,107.9 250.1,107.9 252.1,106.9 252.4,106.4 256.6,106.6 257.6,105.6 258.1,105.6 259.9,106.9 260.6,106.9 262.4,107.6 264.9,107.1 265.9,107.9 265.9,108.4 267.6,109.9 268.6,110.1 268.1,109.6 269.4,104.1 269.4,103.1 268.4,100.9 268.4,99.9 269.1,98.6 267.6,96.1 265.6,93.9 264.9,94.4 263.6,94.4 262.1,94.9 261.9,95.4 261.4,94.9 260.1,94.6 259.4,94.9 258.4,94.6 257.6,95.1 255.9,95.1 251.6,90.9 251.4,89.9 249.6,86.9 246.9,86.6 243.6,85.6 243.4,84.9 243.9,84.4 243.6,84.1 243.4,84.4 243.1,83.4 242.1,82.6 242.4,80.1 241.1,78.6 241.1,78.1 240.1,76.6 237.6,75.1 236.1,76.4 234.9,76.1 233.1,76.1 231.6,76.6 230.9,76.4 230.1,77.4 229.1,77.6 228.9,76.4 227.1,74.9 227.1,74.1 226.1,72.1 225.1,71.1 225.1,70.1 224.1,66.9 224.9,65.9 224.9,64.9 224.1,64.1 223.9,62.9 223.4,62.1 222.9,61.9 222.6,62.1 222.4,61.9 221.1,62.1 220.1,62.6 219.4,63.6 214.9,64.1Z" fill="#e6c8e3"/>
<path d="M199.4,121.9 199.1,123.9 199.9,125.1 199.9,127.1 199.6,127.4 199.4,126.9 198.9,127.1 199.4,127.6 198.6,128.9 198.6,130.1 199.6,131.1 199.4,132.4 199.6,134.6 199.1,136.4 200.1,138.1 200.4,139.4 199.1,140.6 199.1,141.9 199.6,142.4 200.4,142.1 201.1,142.6 200.9,143.6 200.4,143.9 202.4,143.9 202.6,143.6 206.4,144.4 208.6,143.1 209.9,143.6 210.6,144.4 210.6,145.1 211.1,146.1 211.9,146.1 213.1,145.1 215.6,145.9 218.4,145.9 219.4,147.1 221.1,147.9 223.1,148.1 223.6,148.6 224.1,148.6 224.4,147.9 225.1,147.1 225.9,147.1 226.1,147.9 225.6,148.4 225.6,149.1 226.4,148.6 227.1,148.6 227.4,149.1 229.4,149.1 230.6,148.6 232.6,149.1 233.9,148.4 235.4,148.4 236.9,147.6 237.9,147.6 237.1,147.4 236.4,146.4 237.4,145.1 236.6,142.1 236.9,141.9 237.1,137.9 237.6,136.4 238.6,135.6 238.4,134.9 239.4,131.9 237.9,131.1 237.4,130.4 237.1,127.4 238.1,125.6 238.1,124.6 237.6,124.1 236.6,124.1 235.6,123.1 234.1,123.6 232.1,123.6 231.1,122.6 229.9,122.9 228.6,122.6 228.6,123.9 228.1,124.6 228.1,125.4 226.9,126.4 226.4,125.9 225.9,126.1 226.1,126.4 225.1,127.6 224.6,127.6 222.9,126.9 222.4,125.9 221.6,125.4 219.4,125.4 218.4,124.9 216.9,123.4 214.6,123.6 213.9,122.9 213.9,121.9 213.4,121.4 212.4,121.4 211.1,122.9 208.4,122.4 206.9,120.9 206.6,121.6 206.9,121.9 206.1,122.6 204.9,122.6 203.1,121.6 202.6,121.6 201.9,122.9 200.9,123.1 200.1,122.4 199.9,121.6Z" fill="#8f6eb2"/>
<path d="M178.1,174.1 176.4,171.9 175.9,170.9 175.9,170.1 173.9,166.9 174.1,166.6 174.1,164.9 173.4,164.6 172.4,165.1 171.6,164.4 171.6,163.4 170.1,162.6 169.9,161.9 170.1,160.9 169.4,159.9 167.9,158.9 167.6,156.6 165.4,155.4 164.1,155.4 163.1,154.1 162.4,154.4 161.6,154.1 160.9,154.6 159.1,154.1 158.1,153.1 158.4,152.9 158.1,151.6 157.4,151.1 156.1,151.4 156.1,153.4 155.4,154.1 152.9,154.1 151.9,154.6 149.6,157.1 147.9,156.9 145.4,158.4 144.6,158.1 144.1,157.1 143.4,156.9 141.9,158.4 140.6,158.1 138.6,158.6 137.4,156.9 135.9,156.4 135.1,157.1 135.6,158.4 135.1,158.9 134.1,158.9 133.1,157.9 133.6,157.1 133.4,156.9 133.6,155.9 133.1,155.9 132.4,156.9 131.1,157.1 130.4,157.6 129.9,158.6 129.9,159.4 128.9,160.4 126.1,161.1 126.1,161.9 125.6,162.4 125.9,163.1 126.6,163.4 126.9,163.9 127.4,163.4 127.9,163.4 128.4,163.9 126.9,164.9 127.1,165.1 126.9,165.4 127.1,167.4 124.9,171.4 124.9,171.9 125.9,172.6 129.1,172.4 130.1,171.4 130.9,171.4 131.1,171.9 130.4,172.4 130.4,173.1 130.9,173.6 131.9,173.9 133.4,172.9 133.6,172.1 133.4,171.6 134.9,169.6 135.9,169.6 136.6,170.4 138.1,170.1 138.6,170.6 141.1,170.4 141.9,169.9 142.6,169.9 144.1,171.9 145.6,172.1 147.1,172.9 148.1,174.1 148.1,175.9 149.9,176.9 154.6,175.1 155.9,174.1 157.9,175.1 160.4,175.4 161.1,176.1 160.9,178.4 161.1,178.6 161.9,178.4 163.1,178.6 163.6,179.1 163.9,180.1 164.6,180.9 165.6,180.9 166.9,181.6 167.4,182.9 168.6,184.1 169.1,185.1 170.6,185.6 171.4,183.9 171.4,183.1 171.1,182.9 171.1,181.6 170.4,179.9 170.6,179.6 173.9,179.9 174.9,179.4 175.9,178.1 175.6,176.4 177.9,174.6Z" fill="#494ea3"/>
<path d="M195.9,71.1 196.1,72.4 197.1,74.4 197.1,75.1 196.1,76.4 195.9,78.1 196.9,79.4 197.1,80.6 196.4,81.9 196.4,83.4 196.9,83.9 196.9,84.6 196.4,85.9 195.4,86.9 195.4,87.6 196.1,88.9 195.9,89.1 195.9,91.6 195.1,92.6 194.9,93.6 195.6,93.1 196.4,93.1 197.6,94.4 197.6,93.6 198.6,92.6 199.1,92.6 200.4,94.4 201.1,94.1 202.6,94.6 203.9,94.6 205.4,96.1 206.9,96.4 208.9,97.9 210.1,98.1 211.4,97.4 213.1,97.9 214.6,97.9 215.9,99.4 217.1,99.4 218.9,101.1 219.9,101.4 221.6,103.9 223.1,104.1 222.1,103.1 222.4,102.1 223.4,101.9 224.4,102.9 225.4,102.9 228.1,104.1 229.6,104.1 229.9,103.9 231.1,104.4 230.9,105.9 231.9,106.6 232.6,106.9 234.6,106.6 235.9,105.6 236.4,105.6 238.4,107.4 239.4,108.9 240.1,108.1 240.1,107.6 237.6,104.9 238.1,101.1 238.6,100.4 238.9,99.1 236.9,95.6 235.4,94.4 235.4,93.1 236.1,91.9 236.1,90.1 234.9,88.9 234.9,88.1 234.1,86.6 233.4,86.1 232.4,86.4 230.1,85.9 229.6,84.9 228.4,83.6 228.6,81.6 226.4,81.6 225.1,82.1 223.6,80.9 221.6,80.9 219.9,79.1 219.9,78.6 218.4,77.4 217.9,75.6 216.9,74.9 216.1,75.4 215.4,75.4 214.9,74.9 213.9,71.4 213.6,71.1 212.6,71.4 212.1,70.9 212.1,70.4 213.4,69.1 213.4,67.9 210.9,65.4 210.6,65.6 209.9,65.4 209.1,65.6 207.6,66.9 206.4,66.4 205.4,66.4 203.4,67.1 201.4,66.6 200.6,67.1 199.9,68.4 199.9,69.1 199.1,70.1 198.1,69.9 197.9,70.1 197.6,69.9Z" fill="#8f6eb2"/>
<path d="M223.4,274.4 223.6,275.6 222.6,276.9 222.6,277.4 222.9,277.6 222.9,278.9 223.6,280.1 223.6,281.4 224.1,282.1 224.1,282.9 223.6,283.6 221.9,284.4 221.9,284.9 221.4,285.4 220.1,285.6 218.6,287.6 218.6,289.6 219.4,290.4 219.4,291.4 218.9,291.9 218.9,293.4 219.9,294.9 220.9,295.4 220.9,296.1 219.9,297.1 219.9,297.6 218.9,299.1 220.1,299.1 221.1,300.1 221.4,300.9 221.4,302.1 221.1,302.4 221.9,302.9 223.1,303.1 224.4,304.1 225.9,304.1 229.6,306.9 231.4,307.6 232.1,307.6 233.4,308.4 234.1,308.4 234.9,309.1 235.4,310.4 236.6,310.6 236.9,310.4 238.4,310.4 239.1,311.1 240.6,310.9 242.9,308.6 243.9,308.4 244.6,308.9 245.4,308.9 247.1,308.1 249.4,306.6 249.9,306.6 251.1,307.6 251.6,307.6 252.6,308.9 252.4,309.4 253.4,309.4 254.4,308.4 257.4,307.6 260.4,308.9 261.9,308.6 262.4,307.4 262.1,305.9 262.9,305.1 264.1,304.6 264.1,303.6 263.4,302.6 262.9,299.9 262.4,299.4 261.6,299.4 260.6,299.9 259.9,298.6 258.4,297.1 258.4,294.1 258.9,293.6 258.6,293.4 258.9,293.1 258.4,292.4 257.9,292.4 257.1,291.6 257.9,290.6 258.1,289.4 257.4,287.9 257.6,286.6 257.4,285.9 256.6,285.9 255.4,285.1 255.4,284.1 252.9,282.1 250.1,281.6 248.6,280.9 246.9,279.4 245.4,278.9 243.4,277.6 243.1,277.9 242.9,277.6 240.6,277.6 239.9,278.4 239.4,278.4 238.6,277.1 239.1,276.1 238.9,275.1 238.4,275.4 238.4,275.9 237.6,276.6 234.1,274.4 232.6,272.4 230.4,271.4 229.6,271.4 229.1,271.9 229.6,273.9 228.9,274.4 227.9,274.4 226.6,273.6 225.4,274.1 223.6,274.1Z" fill="#8f6eb2"/>
<path d="M85.1,391.6 85.9,392.4 86.1,393.6 86.9,394.6 88.6,393.9 91.9,395.4 91.6,395.9 92.1,396.4 93.4,396.4 93.6,396.1 94.4,396.6 95.6,395.9 96.4,395.9 96.9,396.4 96.9,397.1 96.1,397.9 95.6,397.9 94.9,398.9 95.1,400.4 94.4,402.6 94.9,402.6 96.4,403.6 96.6,403.4 96.9,403.6 98.9,403.4 100.6,405.4 102.9,405.9 104.1,406.9 105.1,407.1 106.1,406.9 107.9,407.9 109.4,408.1 109.9,408.9 111.1,409.4 112.6,409.4 115.1,411.6 116.1,411.9 117.4,413.4 118.1,413.6 119.4,415.6 121.4,416.1 121.9,416.6 122.1,417.6 124.4,417.6 125.4,416.9 128.6,416.6 130.6,415.6 130.4,415.1 130.6,414.4 130.1,413.4 130.4,411.9 130.9,411.4 131.1,410.1 131.9,409.6 132.6,409.6 134.1,407.1 134.4,403.4 134.9,401.9 135.6,401.6 136.4,402.1 137.1,401.6 137.1,401.1 138.6,398.6 138.6,397.9 139.4,396.1 139.4,394.4 139.1,394.1 139.4,393.1 140.9,391.1 140.9,389.6 140.4,388.6 139.4,388.4 138.4,387.4 138.1,384.9 137.4,384.9 135.1,383.1 134.6,383.1 133.4,384.4 132.4,384.4 131.6,383.4 129.6,383.4 127.1,384.4 126.1,385.4 125.4,385.1 124.1,383.6 123.1,383.6 120.6,385.6 119.9,385.9 117.9,384.1 117.1,383.9 114.9,383.9 112.6,384.6 111.6,384.4 109.4,384.6 107.9,382.6 106.6,382.6 106.1,383.1 106.4,384.4 106.1,385.1 104.4,386.4 103.1,386.4 102.6,385.6 103.4,384.4 103.4,383.4 102.9,382.6 102.4,382.6 100.9,383.9 100.1,383.9 99.1,383.4 97.9,384.6 96.4,385.4 95.9,385.4 94.9,384.1 93.9,384.1 93.6,384.6 92.4,385.1 90.1,387.4 89.9,387.1 89.6,387.4 89.9,387.6 89.6,387.9 89.9,388.9 89.4,389.6 88.1,389.6 87.9,389.4 86.1,389.4Z" fill="#e6c8e3"/>
<path d="M138.9,384.1 138.4,384.9 138.4,386.6 138.6,387.4 139.4,388.1 140.6,388.6 141.1,389.6 141.1,391.1 139.6,393.1 139.4,393.9 139.6,396.1 138.9,397.9 138.9,398.6 137.9,400.1 137.4,401.6 136.4,402.4 135.1,401.9 134.6,403.4 134.4,407.1 132.9,409.6 131.4,410.1 131.1,411.4 130.6,411.9 130.4,413.4 130.9,414.4 130.6,414.6 130.9,415.9 131.9,416.1 133.6,418.1 134.1,418.1 136.4,420.4 136.6,420.1 139.1,422.1 141.1,422.1 142.4,421.4 143.4,421.6 144.1,421.1 145.4,421.1 146.1,421.6 146.1,422.1 146.9,423.1 147.4,423.1 148.4,422.4 149.9,422.4 151.6,422.9 152.9,422.9 153.1,422.6 154.9,422.9 155.1,421.9 155.6,421.6 155.1,420.4 154.6,420.4 153.9,419.6 153.9,419.1 154.9,416.4 156.1,415.4 157.1,413.4 158.4,412.6 158.6,411.4 158.1,410.1 158.4,409.9 158.1,409.6 158.6,409.1 158.6,408.4 157.4,408.6 156.4,408.1 155.6,408.1 155.1,407.6 155.1,406.4 155.6,405.4 154.9,404.1 158.4,400.4 159.1,398.4 160.6,396.9 159.4,396.9 156.9,395.6 154.6,395.4 153.6,394.6 153.6,393.9 153.1,392.9 151.4,393.9 150.4,392.4 148.1,391.4 147.1,391.6 146.1,392.6 145.6,391.9 146.1,391.4 145.9,388.4 142.9,385.1 142.4,384.1 141.6,383.4Z" fill="#e6c8e3"/>
<path d="M238.1,414.6 237.9,415.6 237.1,416.4 234.9,416.6 233.1,416.1 232.6,415.1 231.9,414.9 230.6,414.9 229.9,415.6 229.6,415.4 228.9,415.6 228.6,415.4 228.9,413.4 228.6,413.4 226.6,415.4 226.4,416.6 224.4,418.9 223.9,418.9 222.4,417.6 221.1,417.9 220.1,418.6 218.1,418.6 216.9,418.1 215.6,419.6 216.1,420.9 215.4,421.6 214.4,421.9 214.1,422.6 213.1,423.6 212.1,423.9 211.4,424.6 207.4,425.1 205.6,426.9 199.4,427.1 198.4,426.1 197.6,426.9 197.4,428.1 196.1,429.1 195.9,429.9 195.1,430.6 196.1,431.6 199.4,432.9 200.1,432.4 200.9,432.4 201.9,433.4 203.1,436.4 202.9,436.9 203.1,438.9 203.9,438.9 206.9,437.6 208.9,437.9 209.4,437.4 210.9,436.9 213.1,437.1 214.6,436.6 216.4,437.6 216.9,437.6 217.9,438.6 219.1,438.6 220.4,439.4 220.6,439.1 221.9,439.1 224.6,437.9 226.1,436.6 228.6,435.9 230.9,433.9 231.4,433.9 233.4,435.1 234.9,434.9 236.1,435.1 236.9,435.6 236.9,435.1 238.1,434.1 238.9,434.1 239.4,433.6 239.6,433.9 240.4,433.6 238.6,431.9 237.6,429.6 237.4,426.1 237.1,425.9 237.6,424.1 236.9,423.1 236.9,420.4 237.4,418.9 237.4,416.9 238.1,416.6 238.6,415.9Z" fill="#e6c8e3"/>
<path d="M352.4,146.9 350.6,148.1 350.4,149.1 349.6,150.1 349.6,151.4 350.4,153.1 350.6,154.9 352.4,156.9 353.4,156.4 353.9,156.9 354.4,156.9 356.6,158.1 358.9,161.9 358.9,162.6 357.4,163.9 357.4,164.9 355.9,166.1 355.9,167.1 357.1,168.4 357.1,169.1 356.4,169.4 354.9,167.9 353.9,167.9 353.1,169.1 353.4,170.1 352.6,171.6 353.1,171.9 353.1,172.6 353.9,174.4 353.6,175.4 353.9,177.9 355.9,178.9 357.4,180.4 360.9,180.1 361.9,180.6 362.4,181.4 362.4,182.9 363.4,183.6 364.4,183.4 365.1,182.6 366.4,182.6 367.1,183.4 367.4,184.4 368.6,184.9 369.4,184.4 369.4,183.6 370.1,182.1 369.9,181.4 371.1,180.4 371.4,179.1 370.9,177.9 371.9,176.4 371.9,175.6 372.4,175.4 372.1,174.1 371.1,172.9 371.4,171.9 373.6,169.6 373.9,168.1 375.4,166.9 375.6,166.1 375.1,164.9 375.9,163.1 377.1,162.1 379.6,159.1 379.4,158.9 380.4,158.1 380.6,156.6 381.4,155.4 381.1,154.9 381.9,153.4 383.1,152.1 382.9,151.9 383.4,150.9 383.1,150.6 384.1,148.9 383.4,148.1 382.1,147.6 381.1,147.9 380.1,147.4 378.4,145.6 378.1,145.9 377.1,145.4 376.9,145.6 375.4,145.4 375.1,145.9 374.6,145.9 374.1,145.4 373.6,145.6 373.1,145.1 372.6,145.1 370.1,146.1 369.1,147.4 369.1,148.1 368.1,149.6 367.9,151.6 366.6,152.4 364.9,150.6 362.9,149.9 361.9,150.4 360.6,150.4 358.6,149.1 357.4,147.6 356.1,147.4 355.6,147.9 354.9,147.9 353.9,146.9Z" fill="#684aa0"/>
<path d="M360.9,180.4 357.1,180.6 355.1,182.6 354.6,184.6 355.4,185.4 355.4,185.9 354.1,187.1 353.1,187.6 351.1,189.6 350.4,190.9 349.6,191.1 349.6,191.6 350.6,192.6 350.6,193.4 350.1,194.4 348.6,195.9 347.9,197.4 347.9,198.4 348.9,199.1 349.1,200.1 348.6,200.6 346.4,200.4 345.9,200.9 345.9,201.4 346.6,201.9 349.4,201.6 352.1,204.4 352.6,205.1 352.6,206.6 352.9,206.9 352.6,208.1 354.1,208.9 354.1,209.6 355.1,211.4 355.1,212.4 355.6,212.6 356.4,211.9 356.9,212.4 356.9,213.6 356.6,213.9 356.9,214.9 358.9,216.9 359.9,216.6 360.9,215.4 362.6,215.6 363.6,215.1 363.9,215.6 364.6,215.9 365.6,215.6 366.4,214.6 366.1,213.9 367.4,211.1 368.1,210.4 368.4,209.6 370.9,207.6 370.6,206.6 368.9,205.1 368.6,202.6 368.1,201.4 368.1,200.4 368.6,200.1 368.4,199.1 369.1,196.4 368.9,195.9 369.4,195.1 369.4,194.4 370.1,193.6 369.6,191.9 369.9,190.6 369.1,189.6 368.9,188.4 368.4,187.6 369.6,185.9 369.4,185.6 369.6,185.1 369.4,184.6 368.6,185.1 367.6,184.9 366.4,182.9 365.1,182.9 363.9,183.9 362.9,183.6 362.1,182.9 361.9,180.9Z" fill="#684aa0"/>
<path d="M276.4,268.4 275.9,268.9 275.9,270.4 277.1,271.9 277.1,272.9 276.1,274.1 274.1,274.4 274.9,276.1 274.9,277.6 273.4,279.4 273.4,279.9 274.9,281.9 274.9,286.1 275.4,286.9 275.4,287.6 274.6,288.9 274.6,290.4 276.4,292.1 275.6,293.1 275.9,294.6 276.9,295.4 276.9,296.1 277.6,297.4 279.6,298.9 280.4,299.1 282.6,298.9 284.6,300.1 286.1,300.6 286.9,301.6 286.9,303.4 287.9,303.9 288.6,303.9 289.6,303.1 290.9,303.1 291.4,302.6 291.4,301.6 290.1,300.9 289.9,300.4 290.1,299.1 291.1,298.1 292.1,297.9 292.6,296.9 291.4,294.6 294.4,292.9 296.6,293.9 297.4,293.9 297.9,293.1 298.1,291.9 300.6,290.9 300.6,290.4 299.1,289.6 298.9,289.9 296.6,289.9 295.1,287.9 294.6,287.6 293.6,287.9 290.9,286.1 289.4,283.6 288.9,282.1 288.9,279.1 288.4,278.4 288.4,277.6 289.1,276.9 289.1,276.1 288.4,275.4 288.6,272.1 288.1,272.4 287.4,271.6 286.9,270.6 286.9,269.9 286.1,269.1 283.9,270.6 282.6,270.6 281.1,269.9 279.6,270.1 279.1,268.9 278.4,268.4Z" fill="#e6c8e3"/>
<path d="M346.4,201.9 345.6,201.4 345.6,200.9 345.4,201.1 344.1,200.1 343.1,200.1 342.1,200.6 341.6,200.4 341.4,199.1 341.9,198.4 341.9,197.6 341.1,197.1 340.1,197.1 339.1,197.6 336.6,197.4 335.6,195.9 334.6,195.6 332.6,195.9 331.4,194.9 330.1,194.9 329.1,193.9 326.6,194.1 326.4,193.6 326.1,193.9 325.4,193.4 325.1,193.6 324.6,193.4 321.9,194.9 319.4,195.1 318.6,196.4 316.4,198.1 316.9,200.4 316.1,201.1 315.1,201.4 313.9,202.9 313.1,203.1 312.4,203.9 312.1,205.9 310.1,208.1 309.4,207.4 307.4,208.9 307.1,209.9 307.4,210.9 307.1,211.9 307.4,212.1 306.4,212.9 305.6,214.1 306.4,215.9 306.1,218.4 307.9,219.6 307.4,221.4 307.6,221.9 308.4,222.1 309.1,222.9 309.1,224.4 309.6,225.1 310.6,225.9 312.6,226.4 313.4,225.9 314.9,225.6 318.1,223.1 319.9,222.4 323.4,222.1 324.4,223.4 324.4,221.1 324.9,220.4 327.1,219.6 328.4,218.1 335.1,217.1 336.1,216.1 337.1,215.9 338.6,214.4 338.9,213.4 338.4,212.6 339.6,211.9 340.4,211.9 341.4,212.6 343.9,212.1 345.4,212.9 346.1,211.4 346.1,210.1 345.6,209.6 345.4,207.9 346.4,206.1 346.4,205.1 345.4,204.4 345.4,203.6 346.4,202.4Z" fill="#494ea3"/>
<path d="M253.6,251.4 254.4,252.4 255.6,252.6 256.1,253.1 256.1,254.1 255.6,254.6 255.9,254.9 255.6,255.4 257.1,255.6 257.9,257.4 258.9,257.6 260.1,259.1 259.9,260.4 260.6,261.1 261.6,261.1 263.6,262.6 264.4,262.4 265.1,261.6 265.9,262.1 264.9,263.4 264.9,264.4 264.4,265.4 264.6,268.1 263.6,269.6 263.6,270.1 262.9,270.9 262.9,271.6 264.1,272.4 265.9,272.9 267.4,274.1 268.9,274.4 269.6,274.1 271.1,272.9 273.4,274.1 276.1,273.9 276.9,272.9 276.9,271.9 275.6,270.4 275.6,268.9 276.4,268.1 278.4,268.1 279.4,268.9 279.6,269.9 281.1,269.6 282.6,270.4 283.9,270.4 286.1,268.9 287.1,269.9 287.1,270.6 287.6,271.6 288.4,272.1 289.9,270.4 289.9,269.9 288.9,268.1 289.4,266.9 290.4,266.1 290.9,266.1 292.1,264.9 293.1,264.4 293.6,263.6 293.1,260.4 293.9,259.9 296.6,259.9 298.4,260.9 299.6,262.4 300.9,262.9 304.1,262.9 305.1,261.9 305.9,261.9 307.1,264.1 307.1,263.4 306.6,262.6 306.6,261.1 306.1,259.9 306.1,258.1 305.1,256.6 305.1,255.9 306.1,254.6 306.1,253.9 305.4,252.4 305.1,250.1 303.9,248.1 305.1,245.4 304.6,243.1 302.9,242.9 302.1,242.4 301.6,240.9 301.6,239.6 301.1,238.9 300.4,238.9 299.4,239.9 298.1,239.9 296.9,239.1 294.9,240.6 293.9,240.6 292.4,239.9 290.6,240.6 289.4,240.4 287.6,241.4 284.9,241.6 283.9,240.6 283.9,239.4 282.6,237.9 282.4,237.1 281.9,237.4 282.1,237.6 281.9,238.6 278.9,238.9 278.1,238.1 277.9,237.4 278.4,236.4 278.4,235.6 277.6,234.9 276.4,234.9 274.6,235.4 273.6,234.6 273.1,233.4 271.6,231.9 270.1,232.6 268.6,232.6 268.4,233.4 267.6,234.1 266.1,234.4 266.4,238.9 265.4,239.9 265.4,240.9 266.1,241.9 266.1,243.1 266.9,244.1 267.1,245.1 265.9,246.6 265.9,247.1 265.4,247.6 264.6,247.1 263.6,247.4 260.9,249.9 259.1,249.1 257.6,249.1 256.4,249.6 255.1,249.6 253.9,250.4Z" fill="#8f6eb2"/>
<path d="M155.9,174.4 154.6,175.4 149.9,177.1 147.6,175.9 146.4,176.6 143.9,179.4 143.6,180.4 144.9,182.1 144.9,183.6 143.1,184.9 143.1,185.9 142.6,186.9 141.9,187.4 141.6,189.4 140.4,190.6 140.4,192.1 141.6,193.1 141.6,193.9 140.1,195.1 139.9,197.1 139.4,197.9 138.6,197.9 138.1,197.4 137.6,197.4 137.9,199.9 136.4,201.1 136.1,202.4 134.9,203.1 134.9,203.4 136.6,203.9 137.6,204.9 137.9,205.6 137.6,206.6 138.1,206.1 141.1,206.6 142.4,207.9 142.9,207.4 143.9,207.9 144.6,207.9 145.4,207.4 147.1,207.4 148.1,208.4 148.4,209.4 148.1,210.4 148.4,210.6 149.1,210.6 149.4,209.6 149.1,209.1 149.4,208.9 150.4,209.1 151.6,210.1 152.4,210.1 153.1,209.6 153.4,209.9 153.1,210.9 153.9,211.6 154.6,213.4 156.6,211.6 158.4,211.6 161.1,210.6 162.9,207.6 164.1,207.6 165.4,206.9 164.9,206.1 165.1,204.9 165.9,204.1 166.6,204.1 168.1,202.9 168.6,202.9 169.4,202.1 169.6,200.4 171.6,198.9 171.6,198.1 170.4,196.4 170.9,194.9 171.4,194.4 171.1,194.1 171.4,193.1 171.1,188.4 171.9,186.4 169.1,185.4 167.1,182.9 166.6,181.6 165.6,181.1 164.6,181.1 163.6,180.1 163.1,178.9 161.9,178.6 161.1,178.9 160.6,178.4 160.9,176.1 160.4,175.6 157.9,175.4Z" fill="#8f6eb2"/>
<path d="M318.4,289.9 318.9,290.6 318.4,292.6 317.6,293.4 317.9,294.1 316.9,295.4 317.1,295.9 316.9,296.1 316.9,297.4 319.1,298.6 319.9,298.1 320.1,298.4 320.9,298.1 321.6,298.9 321.9,300.6 325.1,302.9 326.1,304.1 326.6,304.1 327.6,303.4 329.4,303.4 329.9,303.9 329.9,305.6 330.6,309.4 331.4,309.9 331.9,310.9 331.9,312.4 331.4,313.6 331.6,313.9 330.6,314.9 331.1,316.1 333.6,316.1 335.6,317.9 337.1,318.4 338.4,318.1 339.1,318.9 339.4,319.6 339.6,319.4 339.9,319.6 341.9,319.6 342.9,317.6 343.4,317.6 344.1,318.4 345.6,318.4 346.9,316.6 348.4,317.6 348.9,317.4 350.4,317.6 351.4,317.1 351.1,316.9 351.9,316.6 352.6,315.9 353.6,316.1 355.1,315.6 356.6,313.6 357.1,313.6 357.6,312.9 358.1,313.1 359.1,312.4 361.1,309.6 361.6,308.1 361.4,306.9 362.6,305.4 358.1,300.9 358.4,299.9 357.4,298.9 356.6,297.1 356.6,295.9 354.6,293.6 353.4,293.1 352.6,292.4 351.9,292.4 349.9,290.6 349.4,290.6 348.4,289.9 347.1,289.9 344.9,288.1 342.6,288.1 341.1,287.1 340.1,287.4 338.4,287.1 337.9,287.9 337.9,289.4 335.6,290.9 335.4,291.6 334.1,292.6 333.1,292.6 332.1,291.6 330.4,292.1 329.1,292.1 327.1,290.4 324.6,290.9 323.9,290.1 323.4,287.9 323.9,287.4 323.9,286.6 322.9,286.1 321.6,286.1 320.9,287.6 320.1,288.4 319.6,288.4Z" fill="#684aa0"/>
<path d="M349.4,262.4 347.9,263.1 346.6,262.1 344.9,262.4 343.6,261.6 342.1,263.1 339.6,262.9 339.4,263.4 336.6,265.1 333.1,265.4 332.4,267.1 330.4,270.1 330.4,271.9 330.1,272.9 329.6,273.4 328.4,273.6 326.6,272.6 325.4,272.6 324.4,273.6 322.1,274.6 321.9,275.9 320.1,277.4 320.1,277.9 320.6,278.4 321.1,280.9 321.9,280.9 323.1,282.9 323.1,285.4 324.1,286.6 324.1,287.4 323.6,287.9 323.9,289.6 324.6,290.6 327.1,290.1 329.1,291.9 330.4,291.9 332.1,291.4 333.1,292.4 334.1,292.4 335.1,291.6 335.6,290.6 337.6,289.4 337.6,287.9 338.4,286.9 339.6,287.1 341.1,286.9 342.6,287.9 344.9,287.9 346.6,289.4 348.4,289.6 349.6,290.4 350.9,289.6 352.9,287.4 353.9,287.1 356.1,284.9 357.4,282.9 355.9,280.4 355.1,277.6 353.6,277.1 352.4,275.9 352.1,274.9 350.6,273.4 349.9,272.1 350.1,271.9 349.9,270.4 350.4,269.9 350.4,269.4 350.9,269.1 350.9,268.6 351.9,267.4 351.9,266.9 350.6,265.6 350.4,263.9 349.6,263.1Z" fill="#684aa0"/>
<path d="M223.6,151.4 222.9,152.1 220.4,152.9 218.4,154.1 217.1,154.1 216.6,153.6 213.9,153.4 213.1,154.1 213.1,156.1 213.4,156.4 210.9,157.9 210.6,158.9 211.6,159.9 211.9,160.6 213.1,160.9 213.1,162.4 213.9,163.6 215.9,162.9 216.6,163.6 220.4,165.1 221.6,165.1 221.9,165.4 223.1,165.1 223.4,164.6 223.1,162.6 223.6,161.4 222.6,161.6 222.4,160.6 223.6,159.4 223.6,157.9 223.4,157.6 223.4,156.1 222.6,155.1 222.4,154.1 223.6,152.4Z" fill="#e6c8e3"/>
<path d="M202.4,120.4 201.9,119.4 200.6,119.1 200.1,118.6 200.1,117.4 199.4,116.4 199.1,114.9 196.4,111.6 196.1,110.9 194.1,109.1 194.4,108.9 194.1,108.1 193.4,107.6 192.1,108.1 190.9,106.9 189.1,106.6 188.1,107.6 183.6,109.9 181.9,110.1 180.6,111.4 179.6,111.9 176.9,112.1 176.1,113.1 174.4,113.6 172.9,115.1 170.9,114.9 168.1,116.1 167.4,116.1 166.1,118.1 163.1,117.9 160.4,119.4 159.9,119.4 158.9,120.6 158.9,121.1 158.1,121.9 157.1,122.1 155.1,124.4 155.6,124.9 155.6,126.1 154.1,127.6 153.9,128.9 156.1,130.1 156.6,130.9 157.6,131.4 158.6,130.6 160.9,131.9 163.6,131.6 164.9,132.1 166.1,132.1 166.9,132.6 167.6,132.6 168.6,131.1 169.4,131.1 170.6,131.9 171.6,131.9 172.4,132.6 173.6,133.1 174.9,134.6 175.6,134.9 177.1,134.6 177.9,136.1 177.9,137.6 180.1,139.1 182.1,136.6 183.9,136.6 185.4,135.9 186.1,135.1 187.6,134.6 189.9,134.6 193.1,131.6 194.6,131.9 195.6,132.6 196.6,132.6 199.1,133.6 199.4,131.1 198.4,130.1 198.4,128.9 199.1,127.6 198.6,127.1 199.4,126.6 199.6,127.1 199.6,125.1 198.9,123.9 198.9,122.6 199.6,121.4 200.1,121.6 202.1,121.4Z" fill="#8f6eb2"/>
<path d="M238.6,147.9 236.9,147.9 235.4,148.6 233.9,148.6 232.6,149.4 231.9,149.4 231.4,148.9 229.4,149.4 227.4,149.4 227.1,148.9 226.4,148.9 225.6,149.4 225.4,148.4 225.9,147.9 225.9,147.4 225.1,147.4 224.6,147.9 224.6,148.4 224.1,148.9 223.6,148.9 223.9,152.4 222.6,154.1 222.6,154.6 223.6,156.1 223.6,157.6 223.9,157.9 223.9,159.4 222.6,160.6 222.6,161.4 223.6,161.1 223.9,161.4 223.4,162.6 223.6,164.6 222.9,165.6 220.6,165.4 222.1,168.1 222.4,169.4 221.9,170.1 220.6,170.9 220.4,172.6 220.9,173.4 219.6,173.6 219.6,174.6 221.4,175.9 221.4,176.6 219.4,179.6 219.1,181.1 217.6,182.4 218.6,183.4 218.6,183.9 219.1,184.1 218.9,185.4 219.4,185.6 219.4,186.1 220.1,186.9 220.4,187.6 222.4,189.4 224.6,189.1 225.4,189.6 227.1,189.6 228.4,190.6 229.4,190.6 230.4,188.9 232.9,188.6 234.4,187.1 234.9,186.1 235.6,185.6 236.4,184.1 236.9,180.9 237.6,179.9 238.4,179.4 241.4,179.6 242.9,178.4 244.1,178.4 244.4,178.6 245.6,177.9 246.1,177.1 245.6,176.6 246.6,175.4 246.6,174.4 247.4,172.9 247.1,171.6 248.1,170.4 248.1,169.1 248.6,168.1 248.4,167.1 247.6,166.1 247.9,162.1 247.1,160.9 246.9,159.1 246.4,159.1 245.9,158.6 245.9,157.6 245.6,158.6 245.1,158.6 244.4,157.9 244.6,156.9 245.6,157.1 245.1,154.9 243.6,153.4 243.4,151.6 242.6,151.1 241.1,151.1 240.9,151.4 240.1,150.9 239.4,149.9 239.1,148.4Z" fill="#e6c8e3"/>
<path d="M195.6,148.4 194.9,149.9 192.4,152.9 192.4,153.4 192.9,153.9 193.6,153.9 194.4,154.6 194.4,155.1 194.9,155.4 195.1,157.4 194.4,159.4 195.6,159.6 195.6,159.1 196.4,158.6 197.6,160.1 196.6,161.1 196.6,163.1 196.1,163.6 196.1,164.6 197.1,165.1 197.6,167.1 200.4,169.9 200.4,172.4 200.1,172.6 200.6,173.6 201.9,174.6 203.4,174.9 203.9,175.4 204.1,174.9 203.6,173.9 203.9,172.9 204.6,172.1 206.4,171.6 206.6,169.4 208.4,166.6 209.6,165.6 210.9,165.6 212.1,163.9 213.6,163.6 212.9,162.4 212.9,160.9 212.4,161.1 211.9,160.9 210.4,158.9 210.4,158.1 210.9,157.6 213.1,156.4 210.4,152.6 211.4,152.1 211.4,151.4 208.1,151.6 206.6,150.6 205.4,150.4 202.9,150.9 200.9,148.9 200.1,148.9 199.1,149.4 196.9,149.4 196.4,148.6Z" fill="#e6c8e3"/>
<path d="M145.6,231.4 145.1,231.4 143.6,232.1 143.4,232.6 142.9,232.6 143.1,232.9 142.9,233.1 143.4,233.6 143.1,234.6 142.6,234.6 141.9,233.6 142.1,233.1 139.1,233.1 138.1,234.1 137.4,234.1 136.9,233.6 135.9,233.6 134.6,234.4 133.9,234.4 131.9,232.9 130.6,232.9 128.1,233.9 126.4,235.9 123.6,236.1 122.1,238.9 123.9,241.1 124.4,241.1 125.4,242.4 124.9,243.6 124.9,245.9 126.1,246.9 127.4,248.6 127.6,251.9 128.4,253.4 128.1,254.4 127.1,255.6 127.1,256.1 128.4,256.9 128.1,258.1 129.1,259.1 128.9,262.6 126.6,263.1 125.9,264.1 126.4,265.6 125.6,266.4 124.9,266.6 124.6,267.1 125.4,268.4 127.6,269.1 129.1,270.6 131.4,270.9 132.1,271.6 131.9,272.6 132.4,272.9 134.4,272.6 137.6,275.9 137.9,275.6 139.4,275.9 139.9,276.6 139.4,278.1 140.4,280.1 140.9,279.9 142.1,280.6 143.6,280.4 144.1,278.9 145.9,277.1 146.6,275.6 147.4,275.1 148.4,275.1 149.4,276.1 149.6,275.9 150.1,276.1 150.9,275.9 152.6,276.1 153.1,275.6 152.9,275.4 151.9,275.6 151.4,275.4 150.9,274.4 150.6,272.4 148.9,270.9 149.9,269.6 149.9,268.1 148.9,266.1 148.9,261.6 147.9,260.1 148.1,258.6 147.9,258.1 146.6,257.4 146.6,255.9 145.4,253.4 145.9,251.4 145.6,251.1 145.4,248.4 144.9,247.9 144.9,246.9 146.9,244.4 147.1,241.6 146.6,240.1 144.1,237.6 145.1,236.6 145.1,236.1 144.1,235.1 143.9,234.4 146.1,232.6Z" fill="#494ea3"/>
<path d="M189.4,106.4 190.9,106.6 192.1,107.9 193.4,107.4 194.4,108.1 194.6,108.9 194.4,109.1 196.4,110.9 196.6,111.6 199.4,114.9 199.6,116.4 200.4,117.4 200.4,118.6 201.9,119.1 202.6,120.4 202.6,121.1 202.1,121.6 200.6,121.6 200.4,121.9 200.4,122.4 200.9,122.9 201.9,122.6 202.6,121.4 203.1,121.4 204.9,122.4 206.1,122.4 206.6,121.9 206.4,121.6 206.9,120.6 208.4,122.1 210.9,122.6 212.4,121.1 213.4,121.1 214.1,121.9 214.1,122.9 214.6,123.4 216.9,123.1 218.4,124.6 219.4,125.1 221.6,125.1 222.6,125.9 222.9,126.6 224.6,127.4 225.4,127.1 225.9,125.9 226.4,125.6 226.9,126.1 227.9,125.4 228.6,122.4 229.9,122.6 231.1,122.4 232.1,123.4 234.1,123.4 235.6,122.9 236.9,120.6 238.1,119.9 238.6,118.9 238.1,117.9 238.4,116.9 239.6,115.9 238.9,114.1 238.9,113.4 239.9,111.6 239.9,110.4 238.1,107.4 236.4,105.9 235.9,105.9 234.6,106.9 232.6,107.1 231.4,106.6 230.6,105.9 230.9,104.4 230.4,104.1 228.1,104.4 225.4,103.1 224.4,103.1 223.4,102.1 222.6,102.1 222.4,103.1 223.4,104.1 223.1,104.4 221.6,104.1 219.9,101.6 218.9,101.4 217.1,99.6 215.9,99.6 214.6,98.1 213.1,98.1 211.6,97.6 210.1,98.4 208.9,98.1 206.9,96.6 205.4,96.4 203.9,94.9 202.6,94.9 201.1,94.4 200.4,94.6 199.4,93.6 199.1,92.9 198.6,92.9 197.9,93.6 197.6,94.6 196.4,93.4 195.6,93.4 194.6,94.1 195.4,96.4 195.1,97.1 195.6,97.9 195.6,98.9 195.1,99.9 193.9,100.9 193.4,102.9Z" fill="#684aa0"/>
<path d="M195.1,361.4 194.9,361.9 195.1,363.4 193.4,365.6 193.4,367.6 191.6,368.9 191.1,370.4 189.9,370.4 189.1,371.4 189.4,372.1 191.6,372.6 191.6,375.1 192.4,376.4 194.4,378.4 194.4,379.6 194.1,379.9 194.4,380.6 195.6,380.4 196.4,381.1 196.4,381.9 195.6,383.4 196.4,385.1 198.4,386.9 199.4,388.6 200.1,388.9 201.6,390.1 202.6,389.4 203.9,389.6 205.6,391.1 206.6,391.4 207.6,392.6 208.9,392.9 215.1,392.6 215.9,393.4 216.6,393.6 217.1,393.4 219.1,394.9 220.1,395.1 221.1,396.4 221.9,396.4 221.9,395.6 222.6,393.9 223.9,393.1 224.1,392.6 222.6,390.4 223.1,389.6 225.6,387.6 225.6,386.1 226.4,385.6 227.4,385.6 228.1,384.9 228.4,383.4 226.6,381.6 226.4,380.4 225.9,380.4 224.1,378.9 224.1,378.4 223.1,377.9 222.1,376.9 222.1,376.4 220.1,374.6 219.9,373.6 220.6,371.9 219.6,369.6 218.9,369.6 216.6,368.1 216.1,365.9 214.4,364.4 214.6,364.1 213.1,362.1 211.1,361.4 208.9,361.1 206.9,359.6 205.4,359.9 203.6,361.4 203.1,361.4 201.6,360.1 201.1,360.6 199.1,360.4 198.1,360.9 196.1,360.9Z" fill="#684aa0"/>
<path d="M165.6,365.6 166.4,366.4 167.1,366.4 168.6,367.4 168.6,368.1 167.4,369.1 167.4,369.9 167.6,370.4 169.4,371.1 171.6,373.1 171.9,375.1 172.4,375.6 173.6,374.9 175.1,375.1 177.1,374.1 178.6,374.6 182.1,374.1 183.9,372.4 186.6,372.1 188.1,370.6 189.1,371.1 189.9,370.1 191.1,370.1 191.4,368.9 193.1,367.6 193.1,365.6 194.9,363.4 194.6,361.9 195.1,361.1 196.1,360.6 198.1,360.6 199.1,360.1 201.1,360.4 201.6,355.4 201.1,354.9 201.1,354.4 199.1,354.6 197.9,354.4 197.4,353.9 195.4,354.1 193.9,355.1 193.1,355.1 192.6,355.6 190.1,356.1 187.6,358.4 186.1,357.9 185.1,358.6 184.1,358.9 183.4,358.6 182.9,357.9 181.9,357.6 181.4,357.1 180.4,354.6 177.4,352.4 175.9,352.4 174.9,353.1 170.6,352.9 170.1,353.1 170.9,353.9 171.1,355.1 169.9,356.6 170.1,358.1 169.1,359.4 167.9,360.1 168.1,360.4 167.6,362.9 165.6,364.9Z" fill="#684aa0"/>
<path d="M357.1,380.4 355.6,378.9 354.1,376.4 353.4,376.1 352.6,375.4 351.1,374.9 350.1,373.6 348.6,373.6 347.6,374.4 344.4,375.1 342.9,376.4 340.9,377.1 339.4,376.9 337.9,375.1 336.4,375.9 336.1,375.6 334.4,378.1 331.9,378.9 331.4,379.4 331.4,379.9 330.6,380.4 328.9,380.1 327.4,378.9 322.9,378.6 321.9,377.9 322.1,380.4 321.1,381.4 320.4,381.6 320.1,382.1 320.1,385.9 321.1,387.9 320.4,390.1 321.1,390.9 321.4,393.1 320.9,393.9 320.9,395.4 321.4,396.1 321.4,396.9 320.9,397.6 320.9,399.4 319.9,400.6 321.6,401.6 325.1,402.1 325.9,402.9 326.1,403.9 326.6,404.1 330.6,404.4 333.4,405.1 333.6,404.6 335.9,404.6 335.6,404.4 335.9,403.1 336.6,404.1 337.9,404.1 339.1,403.1 340.9,404.1 341.9,403.6 343.1,402.4 345.4,402.1 347.9,400.1 348.9,400.1 350.4,398.9 351.4,398.9 352.6,394.9 352.4,393.9 353.4,391.9 354.9,390.1 356.6,389.9 357.9,388.4 357.9,388.1 357.4,388.4 357.1,388.1 357.1,387.1 357.6,385.4 357.4,384.1 358.1,382.4Z" fill="#e6c8e3"/>
<path d="M283.6,353.6 283.6,354.1 284.6,354.9 285.4,354.6 287.6,355.4 288.1,356.1 288.4,357.6 289.1,358.6 291.6,358.9 293.6,360.6 293.4,361.9 291.4,363.9 291.4,364.6 292.4,365.6 292.1,366.9 291.1,367.9 291.6,368.6 291.4,369.6 291.6,369.9 293.6,370.1 294.4,370.9 295.4,371.1 296.1,370.9 296.4,370.1 297.4,369.4 299.9,371.9 301.6,373.1 305.1,373.4 306.4,374.4 309.6,374.1 310.9,376.4 312.9,376.4 314.4,377.1 316.4,376.9 316.6,376.1 317.6,375.4 316.6,374.4 316.6,373.6 317.9,373.1 318.1,371.1 317.6,369.9 316.6,369.1 316.1,368.1 317.6,364.6 317.1,363.1 315.9,362.4 315.6,361.9 315.9,360.4 315.1,359.6 313.9,359.1 313.1,359.4 312.9,359.1 312.6,360.6 311.9,360.9 311.6,360.4 312.1,359.9 311.4,358.6 310.6,358.4 308.1,358.6 307.1,357.9 305.6,355.6 304.6,355.6 303.1,356.4 302.1,356.4 300.4,355.1 299.6,355.1 299.1,355.6 298.9,355.4 297.6,355.6 297.4,355.1 296.6,355.1 295.1,355.9 294.1,355.9 292.4,356.9 290.9,356.9 288.9,355.6 288.1,354.6 286.9,354.4 286.1,353.6 285.9,352.9 284.9,353.9Z" fill="#8f6eb2"/>
<path d="M83.6,236.6 83.9,236.9 83.1,237.6 84.1,239.4 83.6,240.1 84.4,239.9 84.6,240.4 85.4,240.1 86.1,240.9 86.9,243.4 88.4,244.4 88.6,246.1 90.4,247.1 90.4,248.1 89.9,248.4 90.1,248.9 89.4,249.4 89.4,249.9 91.1,251.6 91.1,252.1 91.9,252.9 91.6,253.6 91.9,253.9 91.6,254.4 91.9,255.1 93.4,257.1 95.1,257.9 95.6,259.6 97.6,260.1 99.1,261.4 101.4,262.1 101.9,262.9 104.6,264.1 104.9,264.6 106.4,264.4 108.6,265.1 111.1,265.4 111.9,265.9 113.9,265.1 115.4,263.9 116.6,263.9 117.4,263.4 118.1,263.4 118.4,263.9 117.9,264.4 117.9,265.6 118.4,266.4 120.1,266.4 120.9,265.9 124.1,265.4 124.6,266.6 126.1,265.6 125.6,264.1 126.6,262.9 128.6,262.6 128.9,259.1 127.9,258.1 128.1,256.9 126.9,256.1 126.9,255.6 128.1,253.6 127.4,251.9 127.1,248.6 125.9,246.9 124.6,245.9 124.6,243.6 125.1,242.4 124.4,241.4 123.9,241.4 122.6,239.6 121.9,239.1 122.6,237.1 123.4,236.1 122.6,235.9 121.6,234.6 120.9,234.9 120.6,235.9 120.1,236.4 119.4,236.4 118.1,234.9 118.1,234.1 117.6,233.6 115.1,233.4 113.1,231.4 112.9,231.6 112.6,231.4 110.9,232.1 109.6,233.1 108.1,233.6 107.6,234.6 105.4,236.4 105.4,236.9 104.6,237.9 103.6,238.4 102.9,238.4 101.4,239.1 101.1,239.6 100.1,238.9 98.9,238.6 98.4,238.1 98.1,237.1 96.9,237.1 96.6,237.4 94.6,235.9 94.4,234.6 92.6,232.4 91.6,232.6 91.4,233.9 90.9,234.4 89.9,234.4 89.1,233.9 87.9,235.1 86.9,235.4 86.1,234.9Z" fill="#684aa0"/>
<path d="M149.6,228.1 149.6,228.9 149.1,229.9 149.1,231.9 148.1,232.6 147.6,232.4 146.4,232.6 144.1,234.4 144.4,235.1 145.4,236.1 145.4,236.6 144.4,237.6 146.9,240.1 147.4,241.6 147.1,244.4 145.1,246.9 145.1,247.9 145.6,248.4 145.9,251.1 146.1,251.4 145.6,253.4 146.9,255.9 146.9,257.4 147.9,257.9 148.4,258.6 148.1,260.1 149.1,261.6 149.1,266.1 150.1,268.1 150.1,269.6 149.1,270.9 150.9,272.4 151.1,274.4 151.6,275.4 152.9,275.1 153.4,275.6 152.6,276.4 152.1,276.4 152.9,277.1 154.1,277.1 154.4,276.9 156.6,277.1 156.9,276.9 158.1,277.6 158.9,277.6 160.4,277.1 160.6,276.6 162.1,276.4 161.1,275.9 161.4,275.4 162.6,275.6 163.1,275.4 164.1,276.4 164.9,276.6 167.6,276.6 168.1,275.9 167.9,275.1 168.6,274.4 168.9,274.6 169.1,274.4 170.6,274.4 171.1,273.9 171.1,273.1 170.4,272.4 170.4,271.6 170.9,271.1 170.9,270.6 171.4,270.1 172.1,270.1 173.1,269.6 172.6,267.4 173.4,266.6 174.6,267.1 175.6,266.1 175.6,264.6 176.4,263.6 176.9,263.4 177.6,263.6 178.1,264.1 178.1,265.6 178.6,265.9 179.9,265.1 181.1,263.4 179.1,261.4 178.1,257.4 177.4,256.6 176.6,256.6 175.1,254.9 173.9,254.6 173.4,254.1 172.9,252.6 173.1,251.1 171.4,249.1 171.4,248.4 172.1,247.4 172.1,246.9 169.9,245.6 169.6,244.9 170.1,244.4 170.1,243.4 169.4,242.6 169.1,241.9 167.9,240.9 166.6,240.6 165.6,239.1 165.6,238.4 165.1,238.1 162.9,238.4 161.1,239.9 157.9,239.9 156.9,240.4 156.1,240.4 154.6,238.6 154.9,237.6 154.6,237.1 154.9,236.9 154.6,236.6 154.9,236.1 154.6,234.1 153.9,232.9 152.6,232.6 151.6,231.9 151.1,230.9 151.1,228.9 150.4,228.1Z" fill="#684aa0"/>
<path d="M176.9,263.6 175.9,264.6 175.9,266.1 174.6,267.4 173.9,266.9 173.4,266.9 172.9,267.4 173.4,269.6 172.9,270.1 171.4,270.4 170.6,271.6 170.9,272.9 172.1,274.1 171.1,274.9 170.9,276.6 170.4,277.4 170.4,278.6 172.1,280.6 172.1,282.6 171.9,283.4 171.1,284.1 169.4,284.6 169.4,285.4 169.9,285.9 170.1,287.1 168.6,289.6 166.9,290.1 167.1,290.9 166.4,291.9 165.4,292.1 165.4,293.4 165.9,294.4 165.9,295.1 166.6,295.4 168.4,295.1 169.9,296.1 169.6,298.1 170.4,298.9 172.9,299.6 174.1,299.6 174.6,300.1 176.9,300.1 179.1,302.6 180.6,302.4 181.4,302.6 182.1,303.9 184.6,304.4 185.1,303.6 185.6,301.4 186.4,301.1 187.1,301.6 187.9,301.6 188.4,300.1 191.4,299.4 192.6,298.6 194.6,296.6 197.9,295.6 198.1,295.9 198.6,294.6 199.6,293.6 200.6,293.4 200.1,291.4 199.4,290.6 199.1,289.4 198.1,288.4 197.4,288.1 196.4,288.6 195.4,288.6 194.1,287.9 193.9,286.9 192.9,285.4 193.1,285.1 192.9,284.6 193.1,284.4 193.1,282.4 192.6,281.9 192.1,278.6 191.6,278.1 190.6,277.9 189.1,276.1 189.1,275.4 189.9,274.9 190.1,273.6 189.6,273.1 189.1,273.4 188.6,272.9 187.9,272.9 186.9,271.4 186.4,271.1 186.9,270.4 187.6,270.1 187.4,269.9 187.6,268.6 187.1,267.6 186.4,266.9 185.4,266.6 184.1,265.4 184.1,264.9 183.1,264.9 181.4,264.1 180.9,264.1 179.9,265.4 178.6,266.1 177.9,265.6 177.9,264.1Z" fill="#8f6eb2"/>
<path d="M357.1,180.4 355.9,179.1 353.6,177.9 353.6,175.9 353.4,175.6 353.6,174.4 352.9,172.6 352.9,171.9 351.9,171.9 351.6,171.4 350.9,171.1 349.4,172.1 348.6,172.1 347.1,173.9 345.4,174.4 345.1,174.1 343.6,174.1 342.9,173.4 341.9,172.9 341.1,172.9 337.6,175.6 336.9,175.6 335.9,175.1 334.6,175.9 334.1,175.1 332.1,174.9 330.6,173.6 328.6,173.9 327.9,173.4 322.9,178.4 321.9,178.1 321.1,176.9 319.6,175.4 318.6,174.9 317.6,173.6 317.1,173.6 316.9,173.1 313.1,173.1 309.4,174.9 306.4,174.9 306.1,175.1 307.9,177.6 308.1,178.6 307.9,178.9 307.9,180.1 308.1,180.6 309.9,182.4 310.1,183.1 311.4,184.6 311.6,185.6 312.1,186.1 313.4,186.4 314.6,187.9 314.6,189.1 314.4,189.4 314.6,190.6 316.9,193.4 318.1,193.9 319.1,194.9 321.9,194.6 324.6,193.1 325.1,193.4 325.4,193.1 326.1,193.6 326.4,193.4 326.6,193.9 329.1,193.6 330.1,194.6 331.4,194.6 332.6,195.6 333.4,195.4 335.6,195.6 336.6,197.1 339.1,197.4 340.1,196.9 341.1,196.9 342.1,197.6 341.6,200.1 342.1,200.4 343.1,199.9 344.1,199.9 345.4,200.9 346.4,200.1 347.6,200.1 347.9,200.4 348.9,200.1 348.6,199.1 347.6,198.4 347.6,197.4 348.4,195.9 348.9,195.6 350.4,193.4 350.4,192.6 349.4,191.6 349.4,191.1 350.4,190.6 350.9,189.6 355.1,185.9 355.1,185.4 354.4,184.6 354.9,182.6Z" fill="#684aa0"/>
<path d="M238.4,179.6 237.1,180.9 236.6,184.1 235.6,185.9 235.9,186.1 235.6,188.1 236.9,190.4 236.4,191.6 238.1,193.4 238.1,194.6 237.4,197.4 236.6,198.9 236.6,200.9 236.9,201.1 236.4,201.9 236.4,203.4 235.4,203.9 234.6,203.9 233.6,204.6 233.1,207.4 232.4,208.1 231.9,208.1 231.4,208.9 231.4,210.1 232.1,210.9 231.9,212.1 232.1,214.6 233.4,215.4 234.1,213.9 235.6,213.6 236.4,213.1 237.4,213.1 237.6,213.4 237.4,214.1 237.6,215.4 238.4,215.6 239.4,215.1 240.1,215.1 243.4,216.6 244.9,216.6 246.1,215.4 247.4,215.4 247.9,215.9 249.1,215.9 250.4,215.1 251.1,215.6 251.1,216.9 250.9,217.1 251.6,217.9 254.4,218.1 257.4,218.9 259.4,220.9 260.4,220.9 261.1,221.4 262.1,222.6 263.6,222.4 264.6,222.9 264.9,223.4 265.6,223.6 266.1,223.4 268.6,218.6 268.1,216.1 268.6,215.6 269.6,215.4 269.9,214.9 269.9,214.1 268.4,211.6 268.4,211.1 269.9,210.1 270.9,208.9 270.1,207.9 270.1,206.9 270.9,205.9 271.4,204.4 271.1,203.6 269.9,202.1 269.9,201.6 270.4,201.1 271.4,200.9 272.9,199.4 272.9,198.4 272.4,197.9 271.4,198.1 270.1,197.4 268.1,197.4 266.9,198.6 266.1,198.9 265.4,198.6 264.6,197.9 264.4,196.9 261.9,194.6 260.6,195.6 260.1,194.9 260.9,194.4 259.6,192.6 259.9,191.6 259.6,190.9 259.1,190.4 255.6,189.4 254.6,188.4 254.4,187.6 253.6,187.1 253.6,185.4 253.1,184.4 251.1,184.1 250.1,183.4 250.1,181.1 250.4,180.9 250.1,178.6 249.6,178.6 249.1,179.1 247.4,179.1 247.1,179.4 245.4,179.4 244.1,178.6 242.9,178.6 241.4,179.9Z" fill="#684aa0"/>
<path d="M346.6,202.1 345.6,203.6 345.6,204.4 346.6,205.1 346.6,206.1 345.6,207.9 345.9,209.6 346.4,210.1 346.4,211.4 345.6,212.9 346.4,213.6 347.6,213.6 348.6,212.4 349.4,212.4 351.1,214.1 353.1,215.1 353.9,215.1 355.6,214.4 356.6,214.6 356.4,213.9 356.6,213.6 356.6,212.4 356.4,212.1 355.4,212.9 354.9,212.4 354.9,211.4 353.9,209.6 353.9,208.9 352.9,208.6 352.4,208.1 352.6,206.9 352.4,206.6 352.4,205.1 349.4,201.9Z" fill="#684aa0"/>
<path d="M220.1,165.1 216.6,163.9 215.9,163.1 215.4,163.1 214.4,163.9 212.1,164.1 210.9,165.9 209.6,165.9 208.6,166.6 206.9,169.4 206.6,171.6 204.6,172.4 203.9,173.4 204.1,174.6 206.6,177.1 206.1,178.1 205.4,178.6 205.1,179.4 205.6,180.9 205.9,180.6 207.1,180.9 208.9,180.9 209.1,180.6 210.1,181.9 213.1,180.9 214.1,180.9 214.6,181.4 215.4,181.4 215.4,180.6 216.4,180.4 217.6,182.1 218.9,181.1 219.1,179.6 221.1,176.6 221.1,175.9 219.4,174.6 219.4,173.6 220.6,173.4 220.1,172.6 220.1,171.4 222.1,169.4 221.9,168.1Z" fill="#e6c8e3"/>
<path d="M197.4,149.1 199.1,149.1 200.1,148.6 200.9,148.6 202.9,150.6 205.4,150.1 206.6,150.4 208.1,151.4 211.4,151.1 211.6,152.1 211.1,152.6 210.6,152.6 212.9,155.6 212.9,154.1 213.9,153.1 216.6,153.4 217.1,153.9 218.4,153.9 220.4,152.6 222.9,151.9 223.6,151.1 223.6,149.9 223.1,148.4 221.1,148.1 219.4,147.4 218.4,146.1 215.6,146.1 213.1,145.4 211.9,146.4 211.1,146.4 210.6,145.9 210.4,144.4 208.6,143.4 206.4,144.6 202.6,143.9 202.4,144.1 200.4,144.1 199.1,145.6Z" fill="#e6c8e3"/>
<path d="M222.9,61.9 222.6,62.1 222.4,61.9 221.1,62.1 220.1,62.6 219.4,63.6 214.9,64.1 210.6,65.6 209.9,65.4 209.1,65.6 207.6,66.9 206.4,66.4 205.4,66.4 203.4,67.1 201.4,66.6 200.6,67.1 199.9,68.4 199.9,69.1 199.1,70.1 198.1,69.9 197.9,70.1 197.6,69.9 195.9,71.1 196.1,72.4 197.1,74.4 197.1,75.1 195.9,77.1 195.9,78.1 197.1,79.9 197.1,80.6 196.4,81.9 196.4,83.4 196.9,83.9 196.9,84.6 196.4,85.9 195.4,86.9 195.4,87.6 196.1,88.6 195.9,89.1 195.9,91.6 195.1,92.6 194.6,94.1 195.4,96.4 195.1,97.1 195.6,97.9 195.6,98.9 195.1,99.9 193.9,100.9 193.4,102.9 188.1,107.6 183.6,109.9 181.9,110.1 180.6,111.4 179.6,111.9 176.9,112.1 176.1,113.1 174.4,113.6 172.9,115.1 170.9,114.9 168.1,116.1 167.4,116.1 166.1,118.1 163.1,117.9 160.4,119.4 159.9,119.4 158.9,120.6 158.9,121.1 158.1,121.9 157.1,122.1 155.1,124.4 155.6,124.9 155.6,126.1 154.1,127.6 153.9,128.9 154.4,129.4 154.9,129.4 156.1,130.1 156.6,130.9 157.4,131.1 158.1,132.4 157.1,133.6 155.1,134.6 154.1,134.4 152.1,136.1 150.6,136.1 149.9,135.6 149.1,135.6 146.9,137.9 144.4,138.4 143.9,138.1 143.6,138.4 141.6,137.4 141.1,137.6 140.9,137.1 140.4,137.4 139.9,136.9 139.4,136.9 139.1,136.4 136.1,135.9 134.1,134.9 132.9,135.1 132.4,134.6 131.1,134.4 130.9,134.6 129.9,134.4 128.9,134.6 127.4,134.1 125.9,134.1 124.9,133.1 122.9,132.4 121.1,132.6 120.1,133.1 118.9,131.9 118.1,130.6 118.4,130.4 116.6,129.1 116.4,128.6 116.6,127.6 116.1,126.6 114.9,125.6 115.4,123.6 117.1,121.9 117.1,121.4 115.9,120.4 115.4,120.6 114.9,120.1 113.9,120.4 113.1,119.9 111.1,120.6 110.4,120.4 109.6,119.6 108.9,119.9 108.1,119.4 106.6,119.4 106.4,119.6 106.1,119.4 103.9,119.4 102.6,118.9 101.9,118.1 101.6,118.4 101.1,118.1 100.4,118.9 100.1,118.6 99.4,119.1 98.9,118.1 98.9,117.4 97.9,116.9 97.1,116.9 96.6,117.4 96.6,118.6 98.1,120.9 98.1,123.4 99.6,126.1 99.4,127.4 99.6,128.6 99.4,128.9 100.6,130.1 100.4,130.4 100.6,130.6 100.6,132.6 102.4,134.1 103.4,137.6 103.4,138.9 103.9,139.6 104.6,139.9 104.9,141.4 105.9,142.4 105.1,144.4 106.1,146.9 106.1,147.9 105.4,149.1 105.4,149.9 104.9,150.4 104.9,151.9 104.4,153.1 104.6,153.6 104.4,154.9 104.9,155.4 104.9,156.6 104.1,159.1 104.6,159.6 104.4,160.6 105.6,161.9 107.1,162.4 108.6,164.1 108.6,164.9 108.1,165.4 107.4,165.4 106.6,164.6 106.1,164.6 104.6,163.6 103.6,163.6 101.6,164.4 100.6,163.4 99.1,164.6 97.4,164.9 96.6,163.9 95.9,161.4 95.1,160.9 94.4,160.9 93.6,161.4 93.6,162.1 92.9,162.4 93.1,162.6 92.9,162.9 91.9,162.9 88.6,164.6 88.1,164.6 87.6,163.9 86.1,163.1 85.4,163.1 83.9,162.4 81.6,162.1 81.6,162.6 80.4,163.6 77.9,164.6 77.1,164.4 75.1,165.6 73.6,165.6 72.6,166.9 71.9,166.1 72.1,165.9 70.6,164.6 68.9,162.4 68.6,159.6 67.4,158.4 66.4,158.6 66.1,158.4 66.4,157.9 66.9,157.9 66.6,156.9 65.9,156.1 65.1,155.9 64.9,156.1 63.9,154.9 63.6,153.1 62.9,153.1 62.1,151.9 60.1,152.4 58.6,151.6 57.6,151.9 55.1,151.6 54.4,152.4 52.1,153.1 51.4,152.9 49.9,153.6 48.4,153.9 47.9,154.6 47.9,155.6 46.4,159.1 45.4,159.1 44.4,158.1 43.4,157.9 43.1,157.4 42.4,157.1 40.6,157.6 39.9,156.9 37.6,157.6 36.9,156.4 35.9,155.9 35.4,156.1 32.1,155.9 31.6,156.4 29.6,156.4 29.4,156.6 28.1,156.4 27.4,156.9 25.4,156.9 25.1,157.1 24.4,156.6 23.4,156.6 23.6,157.4 22.9,157.6 23.1,157.9 22.9,158.4 22.4,158.4 21.9,157.9 20.4,158.4 19.4,159.1 18.6,159.4 17.6,159.1 17.1,159.4 16.9,159.1 16.6,159.6 16.1,159.6 14.9,160.6 14.4,160.4 13.6,160.6 13.1,161.6 12.6,161.4 12.6,162.1 10.9,164.4 11.1,167.4 12.6,169.4 13.4,169.4 14.4,170.1 16.1,170.4 17.4,169.9 18.6,168.6 20.4,168.9 21.6,167.6 22.6,167.4 23.9,168.4 23.9,169.4 26.6,172.1 26.9,172.9 25.6,174.4 24.9,174.4 23.1,172.1 21.4,172.9 19.9,172.9 17.6,172.1 16.9,172.4 16.1,173.1 16.1,173.9 17.4,175.1 17.4,175.6 18.4,176.6 18.4,177.1 19.6,175.4 22.6,175.4 24.6,177.1 24.4,179.1 24.9,179.6 24.9,181.1 24.1,181.9 22.6,181.9 21.9,180.9 20.1,180.6 19.1,180.9 18.1,182.1 17.4,182.1 15.6,180.9 14.1,182.6 13.4,182.6 13.9,184.6 15.6,184.4 17.1,185.1 17.9,184.6 18.1,184.9 18.9,184.6 19.6,185.4 19.9,187.9 21.6,188.9 22.6,190.9 22.1,192.1 22.1,193.9 23.6,193.9 24.9,193.4 25.4,193.6 26.6,193.1 27.1,192.4 28.1,191.9 30.6,192.1 31.6,191.6 32.4,191.6 34.1,192.9 34.6,192.9 37.4,195.1 38.9,195.6 39.4,195.1 41.1,195.1 42.4,195.9 43.9,196.1 44.9,197.4 45.9,197.9 46.4,197.6 47.6,197.9 48.1,198.4 48.6,198.1 49.4,198.6 50.9,198.4 51.4,199.1 50.6,199.9 51.1,200.1 50.9,200.6 51.4,201.1 52.6,200.9 57.4,204.1 57.4,204.6 56.9,205.1 56.9,206.1 56.4,206.9 56.1,208.6 58.1,207.9 61.4,207.9 63.4,206.6 65.4,206.4 68.1,208.9 68.9,210.1 70.4,210.4 70.9,210.9 72.9,210.9 73.6,210.4 75.1,210.4 75.4,210.6 75.9,213.1 76.4,213.6 74.6,215.4 74.9,215.6 74.4,216.1 74.6,217.1 74.1,217.6 74.4,218.1 74.1,218.6 74.9,219.6 74.6,219.9 75.4,221.1 77.9,222.6 79.9,223.1 80.6,223.9 81.9,224.4 82.4,224.1 83.1,224.9 82.6,225.4 82.4,230.4 82.9,230.9 85.4,230.4 85.9,231.1 85.9,231.9 86.9,233.4 86.4,234.6 84.6,236.1 84.1,236.1 83.6,236.6 83.9,236.9 83.1,237.6 84.1,239.4 83.6,240.1 84.4,239.9 84.6,240.4 85.4,240.1 86.1,240.9 86.9,243.4 88.4,244.4 88.6,246.1 90.4,247.1 90.4,248.1 89.9,248.4 90.1,248.9 89.4,249.4 89.4,249.9 91.1,251.6 91.1,252.1 91.9,252.9 91.6,253.6 91.9,253.9 91.6,254.4 91.9,255.1 93.4,257.1 95.1,257.9 95.6,259.6 97.6,260.1 99.1,261.4 101.4,262.1 101.9,262.9 104.6,264.1 104.9,264.6 106.4,264.4 108.6,265.1 111.1,265.4 111.9,265.9 110.1,267.6 109.6,269.1 109.4,271.6 109.9,273.4 111.4,273.6 112.4,275.4 113.9,276.6 113.9,277.4 113.4,277.9 113.1,279.1 112.4,279.9 112.1,280.9 112.4,281.1 111.9,282.6 110.4,284.6 110.1,285.9 110.9,286.6 110.4,287.6 109.6,288.4 107.9,287.9 107.4,288.1 107.4,289.6 107.9,290.4 107.6,291.6 109.1,293.4 111.6,295.4 112.4,297.1 112.4,297.9 111.1,299.4 109.9,299.9 109.4,302.1 110.1,303.1 109.1,303.6 108.6,306.9 108.1,307.4 108.6,309.1 108.1,310.9 107.4,311.4 107.6,312.6 107.4,312.9 107.4,316.9 107.1,317.1 107.1,318.6 106.6,319.1 106.9,320.6 107.4,321.4 106.4,323.9 106.4,325.1 105.6,326.1 105.6,327.4 105.9,327.6 105.6,329.6 104.4,331.1 104.9,331.9 104.6,333.9 105.4,335.4 104.9,338.4 105.6,339.9 105.4,341.6 104.6,342.4 104.6,343.1 104.1,343.6 103.9,344.9 104.1,347.9 103.4,349.6 103.4,350.9 103.9,351.4 103.9,352.1 102.6,353.9 101.9,354.1 101.9,354.6 101.1,355.1 100.9,357.4 100.4,358.6 100.1,361.9 99.4,362.4 99.6,364.1 99.1,366.6 98.6,367.1 98.9,369.9 97.9,371.1 98.4,373.4 97.9,374.6 96.4,376.1 95.9,377.1 96.1,377.6 95.9,378.1 96.4,378.6 96.6,379.6 94.4,382.6 93.9,384.4 92.9,385.1 92.4,385.1 90.1,387.4 89.9,387.1 89.6,387.4 89.9,387.6 89.6,387.9 89.9,388.9 89.4,389.6 88.1,389.6 87.9,389.4 86.1,389.4 85.1,391.6 85.9,392.4 86.4,394.1 86.9,394.6 88.4,393.9 91.6,395.1 91.9,395.4 91.6,395.9 92.1,396.4 93.4,396.4 93.6,396.1 94.4,396.6 94.9,396.1 96.4,395.9 96.9,396.4 96.9,397.1 96.1,397.9 95.6,397.9 94.9,398.9 95.1,400.4 94.4,402.6 94.9,402.6 96.4,403.6 96.6,403.4 96.9,403.6 98.9,403.4 100.6,405.4 102.9,405.9 104.1,406.9 105.1,407.1 106.1,406.9 107.9,407.9 109.4,408.1 109.9,408.9 111.1,409.4 112.6,409.4 115.1,411.6 116.1,411.9 117.4,413.4 118.1,413.6 119.4,415.6 121.4,416.1 121.9,416.6 122.1,417.6 124.4,417.6 125.4,416.9 128.6,416.6 130.6,415.6 131.9,416.1 133.6,418.1 134.1,418.1 136.4,420.4 136.6,420.1 139.1,422.1 141.1,422.1 142.4,421.4 143.4,421.6 144.1,421.1 145.4,421.1 146.1,421.6 146.1,422.1 146.9,423.1 147.4,423.1 148.4,422.4 149.9,422.4 151.6,422.9 153.6,422.6 155.9,423.9 156.9,423.4 161.4,423.4 161.6,422.1 160.6,420.4 161.6,419.6 161.9,418.9 162.1,419.1 162.6,418.6 163.1,418.9 164.1,417.9 166.9,416.6 167.6,417.4 168.4,417.6 169.1,417.1 170.4,417.6 171.6,418.6 173.4,418.6 173.9,419.1 173.9,419.9 176.4,420.9 176.6,421.4 177.9,422.1 179.1,422.4 179.6,422.1 182.9,424.1 183.4,423.9 185.4,424.9 186.9,425.1 189.4,427.4 189.6,428.6 190.9,429.1 192.1,430.4 195.4,430.6 196.1,431.6 199.4,432.9 200.1,432.4 200.9,432.4 202.4,434.1 202.6,435.6 203.1,436.4 202.9,436.9 203.1,438.9 203.9,438.9 206.9,437.6 208.9,437.9 209.4,437.4 210.9,436.9 213.1,437.1 214.6,436.6 216.4,437.6 216.9,437.6 217.9,438.6 219.1,438.6 220.4,439.4 222.9,438.9 226.1,436.6 228.6,435.9 230.9,433.9 231.4,433.9 233.4,435.1 234.9,434.9 236.1,435.1 236.9,435.6 236.9,435.1 238.1,434.1 238.9,434.1 239.4,433.6 239.6,433.9 240.4,433.6 238.6,431.9 237.6,429.6 237.4,426.1 237.1,425.9 237.6,424.1 236.9,423.1 236.9,420.4 237.4,418.9 237.4,416.9 238.1,416.6 238.6,415.9 238.4,414.9 237.9,414.4 237.9,413.1 238.4,412.1 238.9,408.6 239.4,407.4 240.6,405.9 240.6,405.1 241.4,404.4 242.4,403.9 243.1,403.9 244.9,401.6 251.6,398.1 254.4,397.4 256.4,395.4 256.6,395.6 257.4,395.4 258.6,394.4 259.6,394.1 260.4,392.4 261.9,391.1 262.6,391.6 264.1,391.1 265.9,388.9 266.4,388.9 267.9,387.6 268.1,387.9 270.6,388.1 272.1,389.4 272.9,389.6 274.9,389.6 275.4,390.1 276.6,389.9 276.9,390.1 277.9,389.9 279.9,390.1 283.9,393.4 284.1,393.1 284.6,393.6 288.9,394.6 290.1,396.1 291.1,395.4 291.6,394.4 293.9,393.6 293.9,392.9 294.6,391.9 295.4,391.9 297.1,392.4 298.1,393.4 299.4,393.6 300.6,393.1 302.9,394.6 305.1,394.6 305.4,394.4 308.1,394.1 308.9,395.1 308.1,396.9 309.4,398.1 309.4,398.9 311.4,399.4 312.1,400.1 313.6,400.1 313.9,400.4 314.6,400.1 316.9,400.4 317.6,399.9 318.4,399.9 319.1,400.6 320.1,400.6 321.6,401.6 325.1,402.1 325.9,402.9 326.1,403.9 326.6,404.1 330.6,404.4 333.1,405.1 333.6,404.6 335.9,404.6 335.6,404.4 335.9,403.1 336.6,404.1 337.9,404.1 339.1,403.1 340.9,404.1 341.9,403.6 343.1,402.4 345.4,402.1 347.9,400.1 348.9,400.1 350.4,398.9 351.4,398.9 352.6,394.9 352.4,393.9 353.4,391.9 354.9,390.1 355.9,390.1 357.1,389.4 358.6,387.1 359.1,384.9 359.9,384.4 360.9,384.4 361.4,383.9 362.4,383.9 363.4,383.1 364.6,383.1 366.6,381.1 366.9,379.9 368.1,378.4 369.9,377.6 370.4,377.9 371.9,376.9 371.6,376.6 372.4,375.6 374.1,375.1 376.6,372.6 377.6,372.4 378.6,371.4 378.9,369.6 378.1,369.1 378.6,368.4 378.6,367.4 379.4,366.9 380.1,364.4 381.9,362.6 381.4,359.1 380.6,358.4 380.6,357.9 379.6,357.1 378.6,357.1 377.9,356.6 376.9,358.1 375.9,358.1 374.9,357.4 373.6,357.9 372.6,357.4 371.6,357.4 370.9,358.1 369.6,356.9 369.4,357.1 367.6,357.1 365.9,354.6 365.1,354.4 363.6,353.1 361.9,352.9 359.6,351.1 358.4,349.4 358.1,347.4 357.1,346.6 356.9,346.9 355.9,345.1 355.6,342.6 356.4,341.4 356.4,339.9 355.9,339.1 356.1,338.1 359.6,336.1 360.1,336.4 360.4,337.4 360.4,335.1 360.1,335.4 359.6,335.1 359.6,334.4 358.9,333.4 359.1,332.6 358.9,331.6 357.9,330.6 356.6,330.1 355.6,330.1 353.1,328.9 351.4,326.9 351.1,326.1 350.6,325.9 350.4,324.9 349.1,324.4 348.4,323.6 348.6,322.9 348.4,321.4 348.6,321.1 348.1,320.4 347.9,317.9 348.9,317.4 350.1,317.6 351.4,317.1 351.1,316.9 351.9,316.6 352.6,315.9 353.4,316.1 355.1,315.6 356.6,313.6 357.1,313.6 357.6,312.9 358.1,313.1 359.1,312.4 361.1,309.6 361.6,308.1 361.4,306.9 361.6,306.4 362.6,305.6 358.1,300.9 358.4,299.9 357.4,298.9 356.6,297.1 356.6,295.9 355.9,294.9 353.9,293.1 353.4,293.1 352.6,292.4 351.9,292.4 349.6,290.4 350.9,289.6 352.9,287.4 353.9,287.1 356.1,284.9 357.4,282.9 355.9,280.4 355.1,277.6 353.6,277.1 352.4,275.9 352.1,274.9 350.6,273.4 349.9,272.1 350.1,271.9 349.9,270.4 351.9,267.4 351.4,266.1 350.6,265.6 350.4,264.9 350.6,264.6 350.1,263.4 349.6,263.1 349.4,262.4 347.9,263.1 346.6,262.1 344.9,262.4 343.6,261.6 342.1,263.1 339.6,262.9 339.4,263.4 336.6,265.1 333.1,265.4 332.4,267.1 330.4,270.1 330.4,271.9 330.1,272.9 329.6,273.4 328.4,273.6 326.6,272.6 325.1,272.6 324.9,271.6 325.4,271.4 325.1,271.1 325.4,270.1 327.6,268.4 328.4,267.1 328.1,266.6 328.4,266.4 328.6,266.6 329.1,265.9 329.4,266.1 330.4,265.1 329.9,264.1 329.9,261.6 329.4,261.1 329.1,259.9 327.4,256.6 327.4,255.6 329.1,254.1 329.9,253.9 331.4,252.4 331.6,251.6 334.6,248.6 335.1,248.6 335.9,247.4 337.4,245.9 337.9,244.9 337.9,243.1 337.6,242.9 337.9,241.6 337.4,240.9 337.4,240.1 338.1,239.6 338.1,239.1 339.4,238.9 341.6,237.6 342.1,236.4 343.6,235.1 343.6,234.1 345.1,232.9 345.6,231.6 349.9,227.6 351.1,226.1 351.1,225.4 351.6,224.6 352.4,224.1 353.4,222.4 353.1,222.1 353.4,221.4 353.1,220.6 352.4,219.6 351.1,219.9 350.6,219.4 351.4,217.6 351.6,215.9 355.6,214.4 356.4,214.4 358.9,216.9 359.9,216.6 360.9,215.4 362.6,215.6 363.6,215.1 363.9,215.6 365.1,215.9 366.1,215.1 366.4,214.6 366.1,213.9 366.6,212.6 368.4,209.6 370.9,207.6 370.6,206.6 368.9,205.1 368.1,200.4 368.6,200.1 368.4,199.1 369.1,196.4 368.9,195.9 369.4,195.1 369.4,194.4 370.1,193.6 369.6,191.9 369.9,190.6 369.1,189.6 368.4,187.4 369.6,185.9 369.4,185.6 369.6,185.4 369.4,183.6 370.1,182.1 369.9,181.4 371.1,180.4 371.4,179.1 370.9,177.9 371.9,176.4 371.9,175.6 372.4,175.4 372.1,174.1 371.1,172.6 371.6,171.4 373.6,169.6 373.9,168.1 375.4,166.9 375.6,166.1 375.1,164.9 375.9,163.1 377.1,162.1 379.6,159.1 379.4,158.9 380.4,158.1 380.6,156.6 381.4,155.4 381.1,154.9 381.9,153.4 383.1,152.1 382.9,151.9 383.4,150.9 383.1,150.6 384.1,148.9 383.4,148.1 382.1,147.6 381.1,147.9 380.1,147.4 378.4,145.6 378.1,145.9 377.1,145.4 376.9,145.6 375.4,145.4 375.1,145.9 374.6,145.9 374.1,145.4 373.6,145.6 373.1,145.1 372.6,145.1 369.9,146.4 368.6,146.6 368.4,146.1 364.4,145.1 361.1,141.9 360.4,142.6 359.6,142.6 358.1,143.9 356.9,143.9 355.1,143.1 354.1,143.1 352.4,144.9 351.6,144.9 350.9,144.1 351.1,143.9 350.9,143.1 350.4,143.1 349.6,142.4 350.1,141.9 349.6,141.4 349.4,140.1 348.9,140.6 348.4,140.6 347.6,141.6 346.6,140.9 344.4,141.4 344.1,140.9 340.4,139.4 339.6,137.9 338.6,137.6 337.9,137.9 336.9,136.9 336.1,134.9 335.6,134.4 335.9,134.1 335.6,133.1 334.1,132.6 333.4,131.9 333.4,131.4 332.4,130.6 331.9,130.6 331.1,129.9 330.6,128.9 328.9,129.4 328.6,129.1 327.6,129.4 326.4,128.9 325.6,129.4 324.4,129.1 323.4,129.4 323.1,129.1 319.4,131.4 313.9,126.9 312.1,127.6 310.9,127.4 310.6,127.6 308.1,127.9 307.9,128.4 306.6,128.4 305.9,128.9 304.9,128.4 302.9,126.4 302.9,125.9 301.9,124.4 300.4,124.1 299.4,123.1 299.4,122.6 298.4,121.9 296.1,121.4 295.6,120.6 296.4,119.9 295.1,118.6 294.1,118.1 293.1,118.1 292.1,116.9 290.4,116.6 289.4,114.9 288.6,114.6 288.1,113.9 288.1,112.9 286.9,110.6 286.4,110.4 286.4,108.6 287.6,106.4 287.6,104.9 286.9,103.9 286.9,102.1 286.1,102.6 284.1,102.9 283.4,103.6 283.4,105.1 282.1,106.4 281.9,107.4 280.1,107.9 277.4,110.4 276.4,110.6 272.4,110.4 271.1,110.9 270.9,110.1 268.6,110.1 268.1,109.6 269.4,104.1 269.4,103.1 268.4,100.9 268.4,99.9 269.1,98.6 267.6,96.1 265.9,94.1 265.4,93.9 264.9,94.4 263.6,94.4 262.1,94.9 261.9,95.4 261.4,94.9 260.1,94.6 259.4,94.9 258.4,94.6 257.6,95.1 255.9,95.1 251.6,90.9 251.4,89.9 249.6,86.9 246.9,86.6 243.6,85.6 243.4,84.9 243.9,84.4 243.6,84.1 243.4,84.4 243.1,83.4 242.1,82.6 242.4,80.1 241.1,78.6 241.1,78.1 240.1,76.6 237.6,75.1 236.1,76.4 234.9,76.1 233.1,76.1 231.6,76.6 230.9,76.4 230.1,77.4 229.1,77.6 228.9,76.4 227.1,74.9 227.1,74.1 226.1,72.1 225.1,71.1 225.1,70.1 224.1,66.9 224.9,65.9 224.9,64.9 224.1,64.1 223.6,62.4Z" fill="none" stroke-width="0.9"/>
<path d="M2.3,163.1 4.9,163.0 5.0,164.4 2.4,164.5Z" fill="#120f1c" stroke-width="0.8"/>
<path d="M46.4,202.8 48.6,203.0 48.8,204.3 46.5,204.2Z" fill="#8f6eb2" stroke-width="0.8"/>
<path d="M52.4,215.3 54.6,214.8 57.6,217.8 57.2,219.3 54.6,218.9 52.7,217.1Z" fill="#8f6eb2" stroke-width="0.8"/>
<path d="M79.4,232.7 80.9,232.4 81.8,235.4 80.9,236.3 79.8,235.1Z" fill="#684aa0" stroke-width="0.8"/>
<path d="M75.6,245.1 77.6,244.8 78.8,246.3 77.3,247.1 75.8,246.3Z" fill="#684aa0" stroke-width="0.8"/>
<path d="M99.2,267.3 101.1,267.0 107.4,271.1 106.7,271.8 100.0,269.6Z" fill="#8f6eb2" stroke-width="0.8"/>
<path d="M103.0,276.3 104.8,277.4 107.8,279.7 108.9,283.8 108.6,286.4 107.6,288.0 106.5,285.0 105.0,282.0 103.5,279.0Z" fill="#8f6eb2" stroke-width="0.8"/>
<path d="M336.4,408.0 339.4,407.8 339.5,408.9 336.5,409.0Z" fill="#e6c8e3" stroke-width="0.8"/>
<path d="M343.1,407.4 346.4,406.6 346.7,407.5 343.4,408.4Z" fill="#e6c8e3" stroke-width="0.8"/>
<path d="M109.9,297.7 112.8,295.6 116.7,299.8 121.2,305.8 124.2,312.7 126.3,323.2 124.5,319.9 122.0,314.2 118.8,307.3 114.3,301.3Z" fill="#fff" stroke-width="0.7"/>
<path d="M109.0,298.6 112.5,295.1" stroke="#fff" stroke-width="1.6"/>
<path d="M105.4,334.9 108.4,332.6 111.3,336.3 107.6,337.1 105.1,337.8Z" fill="#fff"/>
<path d="M298.2,388.4 301.2,386.9 302.7,389.1 305.7,389.9 304.2,392.1 300.5,392.8 299.0,390.6Z" fill="#fff"/>
<path d="M63.3,207.6 64.7,205.9 67.3,205.3 68.6,206.8 68.3,208.7 66.2,208.8 64.3,208.5Z" fill="#fff" stroke-width="0.7"/>
<path d="M56.0,207.3 L56.5,211.2" fill="none" stroke-width="1.0"/>
<circle cx="295.8" cy="351.9" r="2.1" fill="#8f6eb2"/>
<ellipse cx="138.4" cy="395.3" rx="1.0" ry="1.8" fill="#e6c8e3" stroke-width="0.6"/>
<ellipse cx="139.6" cy="392" rx="0.8" ry="1.4" fill="#e6c8e3" stroke-width="0.6"/>
<path d="M223.6,151.4 222.9,152.1 220.4,152.9 218.4,154.1 217.1,154.1 216.6,153.6 213.9,153.4 213.1,154.1 213.1,156.1 213.4,156.4 210.9,157.9 210.6,158.9 211.6,159.9 211.9,160.6 213.1,160.9 213.1,162.4 213.9,163.6 215.9,162.9 216.6,163.6 220.4,165.1 221.6,165.1 221.9,165.4 223.1,165.1 223.4,164.6 223.1,162.6 223.6,161.4 222.6,161.6 222.4,160.6 223.6,159.4 223.6,157.9 223.4,157.6 223.4,156.1 222.6,155.1 222.4,154.1 223.6,152.4Z" fill="#e6c8e3"/>
<path d="M215.4,154.6 L216.1,156.4 M215.4,162.6 L214.9,160.2 M219.2,159.4 L223.9,159.7" fill="none" stroke-width="0.7"/>
<path d="M213.1,158.4 214.5,157.0 216.2,156.4 217.8,157.4 219.2,159.3 217.5,160.3 215.5,160.3 214.0,159.6Z" fill="#e6c8e3" stroke-width="0.7"/>
<circle cx="235.7" cy="143.2" r="0.9" fill="#120f1c" stroke="none"/>
</g>
<g transform="translate(0,0)" stroke="#120f1c" stroke-width="0.85" stroke-linejoin="round">
<path d="M396.0,393.4 399.0,393.4 400.6,397.5 401.1,401.6 400.1,406.4 401.7,409.8 403.8,413.9 404.5,419.3 405.4,424.7 405.8,430.2 404.5,434.9 402.4,439.0 401.1,442.4 401.1,442.4 397.0,442.4 395.6,439.0 392.9,434.9 389.5,430.9 385.4,427.5 381.3,424.7 377.2,424.1 373.4,423.1 373.2,423.6 375.2,420.7 374.5,417.3 377.2,414.5 380.0,411.8 384.0,409.8 388.1,407.7 390.2,405.7 394.3,405.7 397.0,406.4 396.6,402.3 396.0,397.5Z" fill="#e6c8e3"/>
<path d="M401.1,442.4 401.7,446.5 402.4,450.6 401.1,454.7 399.0,457.4 397.7,462.1 395.6,464.2 392.9,462.8 389.5,460.1 385.4,458.7 382.0,456.0 383.4,453.3 382.4,449.9 378.6,449.2 380.6,445.8 381.3,442.4 378.6,440.4 375.2,440.4 377.2,437.0 378.6,434.3 375.9,431.5 373.8,428.8 376.6,426.1 373.2,423.6 373.4,423.1 377.2,424.1 381.3,424.7 385.4,427.5 389.5,430.9 392.9,434.9 395.6,439.0 397.0,442.4 401.1,442.4Z" fill="#e6c8e3"/>
</g>
<g transform="translate(392.0,0.7)" stroke="#120f1c" stroke-width="0.62" stroke-linejoin="round">
<path d="M222.9,61.9 222.6,62.1 222.4,61.9 221.1,62.1 220.1,62.6 219.4,63.6 214.9,64.1 210.6,65.6 209.9,65.4 209.1,65.6 207.6,66.9 206.4,66.4 205.4,66.4 203.4,67.1 201.4,66.6 200.6,67.1 199.9,68.4 199.9,69.1 199.1,70.1 198.1,69.9 197.9,70.1 197.6,69.9 195.9,71.1 196.1,72.4 197.1,74.4 197.1,75.1 195.9,77.1 195.9,78.1 197.1,79.9 197.1,80.6 196.4,81.9 196.4,83.4 196.9,83.9 196.9,84.6 196.4,85.9 195.4,86.9 195.4,87.6 196.1,88.6 195.9,89.1 195.9,91.6 195.1,92.6 194.6,94.1 195.4,96.4 195.1,97.1 195.6,97.9 195.6,98.9 195.1,99.9 193.9,100.9 193.4,102.9 188.1,107.6 183.6,109.9 181.9,110.1 180.6,111.4 179.6,111.9 176.9,112.1 176.1,113.1 174.4,113.6 172.9,115.1 170.9,114.9 168.1,116.1 167.4,116.1 166.1,118.1 163.1,117.9 160.4,119.4 159.9,119.4 158.9,120.6 158.9,121.1 158.1,121.9 157.1,122.1 155.1,124.4 155.6,124.9 155.6,126.1 154.1,127.6 153.9,128.9 154.4,129.4 154.9,129.4 156.1,130.1 156.6,130.9 157.4,131.1 158.1,132.4 157.1,133.6 155.1,134.6 154.1,134.4 152.1,136.1 150.6,136.1 149.9,135.6 149.1,135.6 146.9,137.9 144.4,138.4 143.9,138.1 143.6,138.4 141.6,137.4 141.1,137.6 140.9,137.1 140.4,137.4 139.9,136.9 139.4,136.9 139.1,136.4 136.1,135.9 134.1,134.9 132.9,135.1 132.4,134.6 131.1,134.4 130.9,134.6 129.9,134.4 128.9,134.6 127.4,134.1 125.9,134.1 124.9,133.1 122.9,132.4 121.1,132.6 120.1,133.1 118.9,131.9 118.1,130.6 118.4,130.4 116.6,129.1 116.4,128.6 116.6,127.6 116.1,126.6 114.9,125.6 115.4,123.6 117.1,121.9 117.1,121.4 115.9,120.4 115.4,120.6 114.9,120.1 113.9,120.4 113.1,119.9 111.1,120.6 110.4,120.4 109.6,119.6 108.9,119.9 108.1,119.4 106.6,119.4 106.4,119.6 106.1,119.4 103.9,119.4 102.6,118.9 101.9,118.1 101.6,118.4 101.1,118.1 100.4,118.9 100.1,118.6 99.4,119.1 98.9,118.1 98.9,117.4 97.9,116.9 97.1,116.9 96.6,117.4 96.6,118.6 98.1,120.9 98.1,123.4 99.6,126.1 99.4,127.4 99.6,128.6 99.4,128.9 100.6,130.1 100.4,130.4 100.6,130.6 100.6,132.6 102.4,134.1 103.4,137.6 103.4,138.9 103.9,139.6 104.6,139.9 104.9,141.4 105.9,142.4 105.1,144.4 106.1,146.9 106.1,147.9 105.4,149.1 105.4,149.9 104.9,150.4 104.9,151.9 104.4,153.1 104.6,153.6 104.4,154.9 104.9,155.4 104.9,156.6 104.1,159.1 104.6,159.6 104.4,160.6 105.6,161.9 107.1,162.4 108.6,164.1 108.6,164.9 108.1,165.4 107.4,165.4 106.6,164.6 106.1,164.6 104.6,163.6 103.6,163.6 101.6,164.4 100.6,163.4 99.1,164.6 97.4,164.9 96.6,163.9 95.9,161.4 95.1,160.9 94.4,160.9 93.6,161.4 93.6,162.1 92.9,162.4 93.1,162.6 92.9,162.9 91.9,162.9 88.6,164.6 88.1,164.6 87.6,163.9 86.1,163.1 85.4,163.1 83.9,162.4 81.6,162.1 81.6,162.6 80.4,163.6 77.9,164.6 77.1,164.4 75.1,165.6 73.6,165.6 72.6,166.9 71.9,166.1 72.1,165.9 70.6,164.6 68.9,162.4 68.6,159.6 67.4,158.4 66.4,158.6 66.1,158.4 66.4,157.9 66.9,157.9 66.6,156.9 65.9,156.1 65.1,155.9 64.9,156.1 63.9,154.9 63.6,153.1 62.9,153.1 62.1,151.9 60.1,152.4 58.6,151.6 57.6,151.9 55.1,151.6 54.4,152.4 52.1,153.1 51.4,152.9 49.9,153.6 48.4,153.9 47.9,154.6 47.9,155.6 46.4,159.1 45.4,159.1 44.4,158.1 43.4,157.9 43.1,157.4 42.4,157.1 40.6,157.6 39.9,156.9 37.6,157.6 36.9,156.4 35.9,155.9 35.4,156.1 32.1,155.9 31.6,156.4 29.6,156.4 29.4,156.6 28.1,156.4 27.4,156.9 25.4,156.9 25.1,157.1 24.4,156.6 23.4,156.6 23.6,157.4 22.9,157.6 23.1,157.9 22.9,158.4 22.4,158.4 21.9,157.9 20.4,158.4 19.4,159.1 18.6,159.4 17.6,159.1 17.1,159.4 16.9,159.1 16.6,159.6 16.1,159.6 14.9,160.6 14.4,160.4 13.6,160.6 13.1,161.6 12.6,161.4 12.6,162.1 10.9,164.4 11.1,167.4 12.6,169.4 13.4,169.4 14.4,170.1 16.1,170.4 17.4,169.9 18.6,168.6 20.4,168.9 21.6,167.6 22.6,167.4 23.9,168.4 23.9,169.4 26.6,172.1 26.9,172.9 25.6,174.4 24.9,174.4 23.1,172.1 21.4,172.9 19.9,172.9 17.6,172.1 16.9,172.4 16.1,173.1 16.1,173.9 17.4,175.1 17.4,175.6 18.4,176.6 18.4,177.1 19.6,175.4 22.6,175.4 24.6,177.1 24.4,179.1 24.9,179.6 24.9,181.1 24.1,181.9 22.6,181.9 21.9,180.9 20.1,180.6 19.1,180.9 18.1,182.1 17.4,182.1 15.6,180.9 14.1,182.6 13.4,182.6 13.9,184.6 15.6,184.4 17.1,185.1 17.9,184.6 18.1,184.9 18.9,184.6 19.6,185.4 19.9,187.9 21.6,188.9 22.6,190.9 22.1,192.1 22.1,193.9 23.6,193.9 24.9,193.4 25.4,193.6 26.6,193.1 27.1,192.4 28.1,191.9 30.6,192.1 31.6,191.6 32.4,191.6 34.1,192.9 34.6,192.9 37.4,195.1 38.9,195.6 39.4,195.1 41.1,195.1 42.4,195.9 43.9,196.1 44.9,197.4 45.9,197.9 46.4,197.6 47.6,197.9 48.1,198.4 48.6,198.1 49.4,198.6 50.9,198.4 51.4,199.1 50.6,199.9 51.1,200.1 50.9,200.6 51.4,201.1 52.6,200.9 57.4,204.1 57.4,204.6 56.9,205.1 56.9,206.1 56.4,206.9 56.1,208.6 58.1,207.9 61.4,207.9 63.4,206.6 65.4,206.4 68.1,208.9 68.9,210.1 70.4,210.4 70.9,210.9 72.9,210.9 73.6,210.4 75.1,210.4 75.4,210.6 75.9,213.1 76.4,213.6 74.6,215.4 74.9,215.6 74.4,216.1 74.6,217.1 74.1,217.6 74.4,218.1 74.1,218.6 74.9,219.6 74.6,219.9 75.4,221.1 77.9,222.6 79.9,223.1 80.6,223.9 81.9,224.4 82.4,224.1 83.1,224.9 82.6,225.4 82.4,230.4 82.9,230.9 85.4,230.4 85.9,231.1 85.9,231.9 86.9,233.4 86.4,234.6 84.6,236.1 84.1,236.1 83.6,236.6 83.9,236.9 83.1,237.6 84.1,239.4 83.6,240.1 84.4,239.9 84.6,240.4 85.4,240.1 86.1,240.9 86.9,243.4 88.4,244.4 88.6,246.1 90.4,247.1 90.4,248.1 89.9,248.4 90.1,248.9 89.4,249.4 89.4,249.9 91.1,251.6 91.1,252.1 91.9,252.9 91.6,253.6 91.9,253.9 91.6,254.4 91.9,255.1 93.4,257.1 95.1,257.9 95.6,259.6 97.6,260.1 99.1,261.4 101.4,262.1 101.9,262.9 104.6,264.1 104.9,264.6 106.4,264.4 108.6,265.1 111.1,265.4 111.9,265.9 110.1,267.6 109.6,269.1 109.4,271.6 109.9,273.4 111.4,273.6 112.4,275.4 113.9,276.6 113.9,277.4 113.4,277.9 113.1,279.1 112.4,279.9 112.1,280.9 112.4,281.1 111.9,282.6 110.4,284.6 110.1,285.9 110.9,286.6 110.4,287.6 109.6,288.4 107.9,287.9 107.4,288.1 107.4,289.6 107.9,290.4 107.6,291.6 109.1,293.4 111.6,295.4 112.4,297.1 112.4,297.9 111.1,299.4 109.9,299.9 109.4,302.1 110.1,303.1 109.1,303.6 108.6,306.9 108.1,307.4 108.6,309.1 108.1,310.9 107.4,311.4 107.6,312.6 107.4,312.9 107.4,316.9 107.1,317.1 107.1,318.6 106.6,319.1 106.9,320.6 107.4,321.4 106.4,323.9 106.4,325.1 105.6,326.1 105.6,327.4 105.9,327.6 105.6,329.6 104.4,331.1 104.9,331.9 104.6,333.9 105.4,335.4 104.9,338.4 105.6,339.9 105.4,341.6 104.6,342.4 104.6,343.1 104.1,343.6 103.9,344.9 104.1,347.9 103.4,349.6 103.4,350.9 103.9,351.4 103.9,352.1 102.6,353.9 101.9,354.1 101.9,354.6 101.1,355.1 100.9,357.4 100.4,358.6 100.1,361.9 99.4,362.4 99.6,364.1 99.1,366.6 98.6,367.1 98.9,369.9 97.9,371.1 98.4,373.4 97.9,374.6 96.4,376.1 95.9,377.1 96.1,377.6 95.9,378.1 96.4,378.6 96.6,379.6 94.4,382.6 93.9,384.4 92.9,385.1 92.4,385.1 90.1,387.4 89.9,387.1 89.6,387.4 89.9,387.6 89.6,387.9 89.9,388.9 89.4,389.6 88.1,389.6 87.9,389.4 86.1,389.4 85.1,391.6 85.9,392.4 86.4,394.1 86.9,394.6 88.4,393.9 91.6,395.1 91.9,395.4 91.6,395.9 92.1,396.4 93.4,396.4 93.6,396.1 94.4,396.6 94.9,396.1 96.4,395.9 96.9,396.4 96.9,397.1 96.1,397.9 95.6,397.9 94.9,398.9 95.1,400.4 94.4,402.6 94.9,402.6 96.4,403.6 96.6,403.4 96.9,403.6 98.9,403.4 100.6,405.4 102.9,405.9 104.1,406.9 105.1,407.1 106.1,406.9 107.9,407.9 109.4,408.1 109.9,408.9 111.1,409.4 112.6,409.4 115.1,411.6 116.1,411.9 117.4,413.4 118.1,413.6 119.4,415.6 121.4,416.1 121.9,416.6 122.1,417.6 124.4,417.6 125.4,416.9 128.6,416.6 130.6,415.6 131.9,416.1 133.6,418.1 134.1,418.1 136.4,420.4 136.6,420.1 139.1,422.1 141.1,422.1 142.4,421.4 143.4,421.6 144.1,421.1 145.4,421.1 146.1,421.6 146.1,422.1 146.9,423.1 147.4,423.1 148.4,422.4 149.9,422.4 151.6,422.9 153.6,422.6 155.9,423.9 156.9,423.4 161.4,423.4 161.6,422.1 160.6,420.4 161.6,419.6 161.9,418.9 162.1,419.1 162.6,418.6 163.1,418.9 164.1,417.9 166.9,416.6 167.6,417.4 168.4,417.6 169.1,417.1 170.4,417.6 171.6,418.6 173.4,418.6 173.9,419.1 173.9,419.9 176.4,420.9 176.6,421.4 177.9,422.1 179.1,422.4 179.6,422.1 182.9,424.1 183.4,423.9 185.4,424.9 186.9,425.1 189.4,427.4 189.6,428.6 190.9,429.1 192.1,430.4 195.4,430.6 196.1,431.6 199.4,432.9 200.1,432.4 200.9,432.4 202.4,434.1 202.6,435.6 203.1,436.4 202.9,436.9 203.1,438.9 203.9,438.9 206.9,437.6 208.9,437.9 209.4,437.4 210.9,436.9 213.1,437.1 214.6,436.6 216.4,437.6 216.9,437.6 217.9,438.6 219.1,438.6 220.4,439.4 222.9,438.9 226.1,436.6 228.6,435.9 230.9,433.9 231.4,433.9 233.4,435.1 234.9,434.9 236.1,435.1 236.9,435.6 236.9,435.1 238.1,434.1 238.9,434.1 239.4,433.6 239.6,433.9 240.4,433.6 238.6,431.9 237.6,429.6 237.4,426.1 237.1,425.9 237.6,424.1 236.9,423.1 236.9,420.4 237.4,418.9 237.4,416.9 238.1,416.6 238.6,415.9 238.4,414.9 237.9,414.4 237.9,413.1 238.4,412.1 238.9,408.6 239.4,407.4 240.6,405.9 240.6,405.1 241.4,404.4 242.4,403.9 243.1,403.9 244.9,401.6 251.6,398.1 254.4,397.4 256.4,395.4 256.6,395.6 257.4,395.4 258.6,394.4 259.6,394.1 260.4,392.4 261.9,391.1 262.6,391.6 264.1,391.1 265.9,388.9 266.4,388.9 267.9,387.6 268.1,387.9 270.6,388.1 272.1,389.4 272.9,389.6 274.9,389.6 275.4,390.1 276.6,389.9 276.9,390.1 277.9,389.9 279.9,390.1 283.9,393.4 284.1,393.1 284.6,393.6 288.9,394.6 290.1,396.1 291.1,395.4 291.6,394.4 293.9,393.6 293.9,392.9 294.6,391.9 295.4,391.9 297.1,392.4 298.1,393.4 299.4,393.6 300.6,393.1 302.9,394.6 305.1,394.6 305.4,394.4 308.1,394.1 308.9,395.1 308.1,396.9 309.4,398.1 309.4,398.9 311.4,399.4 312.1,400.1 313.6,400.1 313.9,400.4 314.6,400.1 316.9,400.4 317.6,399.9 318.4,399.9 319.1,400.6 320.1,400.6 321.6,401.6 325.1,402.1 325.9,402.9 326.1,403.9 326.6,404.1 330.6,404.4 333.1,405.1 333.6,404.6 335.9,404.6 335.6,404.4 335.9,403.1 336.6,404.1 337.9,404.1 339.1,403.1 340.9,404.1 341.9,403.6 343.1,402.4 345.4,402.1 347.9,400.1 348.9,400.1 350.4,398.9 351.4,398.9 352.6,394.9 352.4,393.9 353.4,391.9 354.9,390.1 355.9,390.1 357.1,389.4 358.6,387.1 359.1,384.9 359.9,384.4 360.9,384.4 361.4,383.9 362.4,383.9 363.4,383.1 364.6,383.1 366.6,381.1 366.9,379.9 368.1,378.4 369.9,377.6 370.4,377.9 371.9,376.9 371.6,376.6 372.4,375.6 374.1,375.1 376.6,372.6 377.6,372.4 378.6,371.4 378.9,369.6 378.1,369.1 378.6,368.4 378.6,367.4 379.4,366.9 380.1,364.4 381.9,362.6 381.4,359.1 380.6,358.4 380.6,357.9 379.6,357.1 378.6,357.1 377.9,356.6 376.9,358.1 375.9,358.1 374.9,357.4 373.6,357.9 372.6,357.4 371.6,357.4 370.9,358.1 369.6,356.9 369.4,357.1 367.6,357.1 365.9,354.6 365.1,354.4 363.6,353.1 361.9,352.9 359.6,351.1 358.4,349.4 358.1,347.4 357.1,346.6 356.9,346.9 355.9,345.1 355.6,342.6 356.4,341.4 356.4,339.9 355.9,339.1 356.1,338.1 359.6,336.1 360.1,336.4 360.4,337.4 360.4,335.1 360.1,335.4 359.6,335.1 359.6,334.4 358.9,333.4 359.1,332.6 358.9,331.6 357.9,330.6 356.6,330.1 355.6,330.1 353.1,328.9 351.4,326.9 351.1,326.1 350.6,325.9 350.4,324.9 349.1,324.4 348.4,323.6 348.6,322.9 348.4,321.4 348.6,321.1 348.1,320.4 347.9,317.9 348.9,317.4 350.1,317.6 351.4,317.1 351.1,316.9 351.9,316.6 352.6,315.9 353.4,316.1 355.1,315.6 356.6,313.6 357.1,313.6 357.6,312.9 358.1,313.1 359.1,312.4 361.1,309.6 361.6,308.1 361.4,306.9 361.6,306.4 362.6,305.6 358.1,300.9 358.4,299.9 357.4,298.9 356.6,297.1 356.6,295.9 355.9,294.9 353.9,293.1 353.4,293.1 352.6,292.4 351.9,292.4 349.6,290.4 350.9,289.6 352.9,287.4 353.9,287.1 356.1,284.9 357.4,282.9 355.9,280.4 355.1,277.6 353.6,277.1 352.4,275.9 352.1,274.9 350.6,273.4 349.9,272.1 350.1,271.9 349.9,270.4 351.9,267.4 351.4,266.1 350.6,265.6 350.4,264.9 350.6,264.6 350.1,263.4 349.6,263.1 349.4,262.4 347.9,263.1 346.6,262.1 344.9,262.4 343.6,261.6 342.1,263.1 339.6,262.9 339.4,263.4 336.6,265.1 333.1,265.4 332.4,267.1 330.4,270.1 330.4,271.9 330.1,272.9 329.6,273.4 328.4,273.6 326.6,272.6 325.1,272.6 324.9,271.6 325.4,271.4 325.1,271.1 325.4,270.1 327.6,268.4 328.4,267.1 328.1,266.6 328.4,266.4 328.6,266.6 329.1,265.9 329.4,266.1 330.4,265.1 329.9,264.1 329.9,261.6 329.4,261.1 329.1,259.9 327.4,256.6 327.4,255.6 329.1,254.1 329.9,253.9 331.4,252.4 331.6,251.6 334.6,248.6 335.1,248.6 335.9,247.4 337.4,245.9 337.9,244.9 337.9,243.1 337.6,242.9 337.9,241.6 337.4,240.9 337.4,240.1 338.1,239.6 338.1,239.1 339.4,238.9 341.6,237.6 342.1,236.4 343.6,235.1 343.6,234.1 345.1,232.9 345.6,231.6 349.9,227.6 351.1,226.1 351.1,225.4 351.6,224.6 352.4,224.1 353.4,222.4 353.1,222.1 353.4,221.4 353.1,220.6 352.4,219.6 351.1,219.9 350.6,219.4 351.4,217.6 351.6,215.9 355.6,214.4 356.4,214.4 358.9,216.9 359.9,216.6 360.9,215.4 362.6,215.6 363.6,215.1 363.9,215.6 365.1,215.9 366.1,215.1 366.4,214.6 366.1,213.9 366.6,212.6 368.4,209.6 370.9,207.6 370.6,206.6 368.9,205.1 368.1,200.4 368.6,200.1 368.4,199.1 369.1,196.4 368.9,195.9 369.4,195.1 369.4,194.4 370.1,193.6 369.6,191.9 369.9,190.6 369.1,189.6 368.4,187.4 369.6,185.9 369.4,185.6 369.6,185.4 369.4,183.6 370.1,182.1 369.9,181.4 371.1,180.4 371.4,179.1 370.9,177.9 371.9,176.4 371.9,175.6 372.4,175.4 372.1,174.1 371.1,172.6 371.6,171.4 373.6,169.6 373.9,168.1 375.4,166.9 375.6,166.1 375.1,164.9 375.9,163.1 377.1,162.1 379.6,159.1 379.4,158.9 380.4,158.1 380.6,156.6 381.4,155.4 381.1,154.9 381.9,153.4 383.1,152.1 382.9,151.9 383.4,150.9 383.1,150.6 384.1,148.9 383.4,148.1 382.1,147.6 381.1,147.9 380.1,147.4 378.4,145.6 378.1,145.9 377.1,145.4 376.9,145.6 375.4,145.4 375.1,145.9 374.6,145.9 374.1,145.4 373.6,145.6 373.1,145.1 372.6,145.1 369.9,146.4 368.6,146.6 368.4,146.1 364.4,145.1 361.1,141.9 360.4,142.6 359.6,142.6 358.1,143.9 356.9,143.9 355.1,143.1 354.1,143.1 352.4,144.9 351.6,144.9 350.9,144.1 351.1,143.9 350.9,143.1 350.4,143.1 349.6,142.4 350.1,141.9 349.6,141.4 349.4,140.1 348.9,140.6 348.4,140.6 347.6,141.6 346.6,140.9 344.4,141.4 344.1,140.9 340.4,139.4 339.6,137.9 338.6,137.6 337.9,137.9 336.9,136.9 336.1,134.9 335.6,134.4 335.9,134.1 335.6,133.1 334.1,132.6 333.4,131.9 333.4,131.4 332.4,130.6 331.9,130.6 331.1,129.9 330.6,128.9 328.9,129.4 328.6,129.1 327.6,129.4 326.4,128.9 325.6,129.4 324.4,129.1 323.4,129.4 323.1,129.1 319.4,131.4 313.9,126.9 312.1,127.6 310.9,127.4 310.6,127.6 308.1,127.9 307.9,128.4 306.6,128.4 305.9,128.9 304.9,128.4 302.9,126.4 302.9,125.9 301.9,124.4 300.4,124.1 299.4,123.1 299.4,122.6 298.4,121.9 296.1,121.4 295.6,120.6 296.4,119.9 295.1,118.6 294.1,118.1 293.1,118.1 292.1,116.9 290.4,116.6 289.4,114.9 288.6,114.6 288.1,113.9 288.1,112.9 286.9,110.6 286.4,110.4 286.4,108.6 287.6,106.4 287.6,104.9 286.9,103.9 286.9,102.1 286.1,102.6 284.1,102.9 283.4,103.6 283.4,105.1 282.1,106.4 281.9,107.4 280.1,107.9 277.4,110.4 276.4,110.6 272.4,110.4 271.1,110.9 270.9,110.1 268.6,110.1 268.1,109.6 269.4,104.1 269.4,103.1 268.4,100.9 268.4,99.9 269.1,98.6 267.6,96.1 265.9,94.1 265.4,93.9 264.9,94.4 263.6,94.4 262.1,94.9 261.9,95.4 261.4,94.9 260.1,94.6 259.4,94.9 258.4,94.6 257.6,95.1 255.9,95.1 251.6,90.9 251.4,89.9 249.6,86.9 246.9,86.6 243.6,85.6 243.4,84.9 243.9,84.4 243.6,84.1 243.4,84.4 243.1,83.4 242.1,82.6 242.4,80.1 241.1,78.6 241.1,78.1 240.1,76.6 237.6,75.1 236.1,76.4 234.9,76.1 233.1,76.1 231.6,76.6 230.9,76.4 230.1,77.4 229.1,77.6 228.9,76.4 227.1,74.9 227.1,74.1 226.1,72.1 225.1,71.1 225.1,70.1 224.1,66.9 224.9,65.9 224.9,64.9 224.1,64.1 223.6,62.4Z" fill="#8f6eb2"/>
<path d="M293.4,260.4 293.4,261.6 293.9,262.6 293.6,264.1 290.9,266.4 289.6,266.9 289.1,267.9 290.1,270.4 288.9,271.9 288.6,275.4 289.4,276.1 289.4,276.9 288.6,277.6 288.6,278.4 289.1,279.1 289.1,282.1 289.6,283.6 291.1,286.1 293.6,287.6 294.1,287.4 295.1,287.6 296.6,289.6 298.9,289.6 299.1,289.4 300.9,290.4 302.1,289.9 303.6,290.1 305.4,287.6 307.1,286.9 308.4,286.9 310.9,288.9 311.4,291.1 313.1,292.9 315.4,293.9 317.4,293.4 318.1,292.6 318.6,290.6 318.1,289.9 319.6,288.1 320.1,288.1 321.6,285.9 323.6,286.1 322.9,285.4 322.9,282.9 321.9,281.1 320.9,280.9 320.9,279.9 319.9,277.4 321.6,275.9 321.6,275.1 322.1,274.4 324.4,273.4 325.1,272.6 324.9,271.6 325.4,271.4 325.1,271.1 325.4,270.9 324.4,269.1 324.1,267.6 323.1,267.4 322.4,267.9 319.4,268.1 318.6,267.4 318.1,267.4 315.9,269.1 315.1,269.1 313.9,267.9 311.4,268.1 307.6,267.1 306.9,265.9 307.1,264.4 305.9,262.1 305.1,262.1 304.1,263.1 300.9,263.1 299.6,262.6 298.4,261.1 296.6,260.1 293.9,260.1Z" fill="#8f6eb2"/>
<path d="M264.9,107.4 262.4,107.9 260.6,107.1 259.9,107.1 258.1,105.9 257.6,105.9 256.6,106.9 252.4,106.6 252.1,107.1 250.1,108.1 249.4,108.1 247.6,107.1 246.4,107.1 245.6,107.6 241.9,107.4 240.4,108.1 239.4,109.1 240.1,110.4 240.1,111.6 239.1,113.4 239.1,114.1 239.9,115.9 238.6,116.9 238.4,117.9 238.9,118.9 238.4,119.9 237.1,120.6 235.9,122.9 236.1,123.6 237.6,123.9 238.4,124.6 238.1,126.4 237.4,127.4 237.6,130.4 237.9,130.9 239.6,131.9 238.9,133.6 238.6,134.9 238.9,135.6 237.9,136.4 237.4,137.9 237.1,141.9 236.9,142.1 237.1,142.6 236.9,142.9 237.4,143.4 237.6,144.4 237.4,144.9 237.6,145.1 236.6,146.4 237.1,147.1 238.6,147.6 239.4,148.4 239.4,149.1 240.1,150.6 240.9,151.1 241.1,150.9 242.6,150.9 243.6,151.6 243.9,153.4 245.4,154.9 245.9,156.9 245.6,157.4 244.6,157.1 244.6,157.9 245.1,158.4 245.6,158.4 245.9,157.4 246.4,158.9 246.9,158.9 247.4,158.4 247.9,158.6 249.1,158.4 249.6,157.9 249.4,156.6 250.4,155.9 249.9,154.4 250.4,153.9 250.9,153.9 253.1,151.1 252.4,150.4 252.4,149.4 254.1,147.4 254.4,144.9 255.1,143.4 255.4,141.4 256.4,140.6 257.6,140.4 259.1,140.6 260.6,138.1 262.6,138.4 263.1,136.4 263.6,135.9 264.6,135.9 265.1,136.4 266.1,136.6 265.9,135.9 263.9,134.9 263.4,134.1 263.4,133.4 264.9,132.1 265.6,130.9 266.1,128.9 266.1,126.9 264.9,124.1 266.9,122.1 266.9,121.4 267.6,119.9 267.9,117.9 268.6,117.4 270.1,117.1 270.4,116.6 270.1,116.1 270.1,113.4 270.4,113.1 270.1,112.9 270.4,112.6 269.4,111.9 269.4,111.4 268.6,110.4 267.6,110.1Z" fill="#684aa0"/>
<path d="M211.9,263.1 212.4,263.6 212.6,263.4 213.9,263.6 214.6,264.4 214.6,265.6 217.4,267.1 218.4,268.1 219.4,269.9 221.4,270.1 221.9,270.6 221.9,271.4 221.4,272.1 221.6,273.1 221.4,274.4 221.6,275.4 222.4,276.4 223.1,276.1 223.4,275.6 223.1,274.4 223.6,273.9 225.4,273.9 226.1,273.4 227.9,274.1 229.4,273.9 228.9,271.9 229.6,271.1 230.4,271.1 232.6,272.1 234.1,274.1 237.6,276.4 238.1,275.9 238.1,275.4 238.9,274.9 239.4,275.6 238.9,277.1 239.4,278.1 239.9,278.1 240.6,277.4 242.9,277.4 243.1,277.6 243.4,277.4 243.9,277.9 246.9,279.1 247.9,280.1 250.1,281.4 251.1,281.4 253.4,282.1 255.6,284.1 255.6,285.1 255.9,285.1 255.9,283.1 258.9,280.4 258.9,279.9 257.9,278.4 258.1,278.1 258.1,275.6 259.4,274.4 260.4,273.9 261.1,271.9 261.9,271.4 262.6,271.4 262.6,270.9 263.4,270.1 263.4,269.6 264.4,268.1 264.1,265.4 264.6,264.4 264.6,263.4 265.6,262.1 265.1,261.9 264.4,262.6 263.6,262.9 261.6,261.4 260.6,261.4 259.6,260.4 259.9,259.4 259.6,258.6 258.9,257.9 257.6,257.4 257.1,255.9 256.4,255.9 255.4,255.4 255.6,254.9 255.4,254.6 255.9,254.1 255.9,253.1 254.4,252.6 253.6,251.9 253.4,250.9 252.9,250.4 251.1,250.4 249.4,251.4 248.4,252.6 246.9,251.1 244.1,250.4 243.9,251.4 243.1,252.4 242.4,252.9 241.6,252.9 240.4,251.4 240.1,249.4 239.4,248.4 238.6,248.4 237.6,249.1 236.9,248.6 236.6,245.6 236.1,246.4 234.6,246.9 230.9,249.9 228.9,250.9 228.1,251.6 227.1,251.6 225.1,252.4 224.6,253.1 225.1,254.4 224.9,255.6 224.1,256.4 222.9,256.1 221.4,256.4 219.9,259.9 217.4,261.9 213.9,261.6Z" fill="#684aa0"/>
<path d="M356.6,337.4 355.6,337.1 355.4,337.4 355.4,338.6 354.6,339.4 352.9,339.9 353.4,341.1 352.6,341.9 351.9,341.9 348.4,344.6 347.1,344.4 345.9,344.9 345.1,343.9 342.6,344.4 341.6,343.6 340.1,343.1 339.1,343.1 338.1,343.6 336.4,345.1 335.4,346.6 335.4,347.1 336.4,347.1 336.9,347.6 336.6,348.6 333.9,348.4 333.1,348.9 332.1,348.9 330.9,349.6 329.4,349.4 328.4,350.6 327.6,350.6 327.1,351.1 326.9,352.4 325.9,353.9 324.1,355.4 323.9,357.4 322.4,358.4 320.9,358.1 320.4,358.4 320.6,358.6 319.9,359.6 317.9,359.1 316.1,360.4 315.9,361.9 316.4,362.6 316.9,362.6 317.4,363.1 317.9,364.6 316.4,368.1 316.9,369.1 317.9,369.9 318.4,371.1 318.4,372.6 317.9,373.4 316.9,373.6 316.9,374.4 317.9,375.4 319.4,375.9 320.1,377.1 321.1,377.9 321.9,377.6 322.9,378.4 327.4,378.6 328.9,379.9 330.6,380.1 331.1,379.9 331.1,379.4 331.9,378.6 334.4,377.9 334.9,377.4 335.1,376.4 336.1,375.4 336.4,375.6 337.9,374.9 339.4,376.6 340.9,376.9 342.9,376.1 344.4,374.9 347.6,374.1 348.6,373.4 350.1,373.4 350.4,373.6 350.9,373.1 350.9,371.9 351.4,371.4 352.6,371.9 353.9,371.4 355.9,369.4 356.1,368.4 355.6,367.4 353.9,367.1 353.1,366.4 353.1,364.9 352.6,363.9 352.6,363.1 350.1,359.6 349.9,357.4 350.4,356.6 351.9,355.9 352.4,353.9 351.9,352.6 352.4,351.9 353.6,351.4 354.6,348.6 355.1,348.1 355.9,348.1 356.6,348.6 357.1,348.4 357.4,347.6 356.1,347.4 355.9,347.9 355.1,347.9 353.6,346.6 355.9,344.4 355.6,342.6 356.4,341.4 356.4,339.9 355.9,339.1Z" fill="#e6c8e3"/>
<path d="M348.1,317.6 346.9,316.9 345.6,318.6 344.1,318.6 343.4,317.9 342.9,317.9 342.9,318.4 341.9,319.9 339.9,319.9 339.6,319.6 339.4,319.9 338.4,318.4 337.1,318.6 335.4,317.9 333.9,317.9 333.6,317.6 333.1,317.9 332.9,318.6 334.1,319.1 335.6,321.6 335.4,323.9 336.4,325.1 336.1,325.4 336.4,325.6 336.1,327.4 335.4,327.9 334.6,327.9 333.6,328.9 333.9,329.9 335.4,331.4 335.4,332.9 334.4,333.1 333.4,332.4 331.9,332.4 330.4,333.1 328.9,332.4 327.4,333.6 325.6,332.9 324.1,333.1 323.6,333.6 323.9,334.4 325.1,334.9 325.4,335.4 324.4,336.1 323.6,336.1 322.6,335.6 321.1,336.4 321.1,337.6 319.6,339.1 318.1,339.4 317.4,339.9 317.6,342.6 316.6,343.6 315.9,343.6 315.6,344.4 316.1,344.9 315.4,345.6 314.6,345.9 313.4,347.4 311.6,347.9 311.1,348.4 311.4,349.6 311.9,349.6 313.4,350.9 314.6,351.4 316.4,352.9 316.6,353.4 316.4,355.4 316.9,356.1 319.4,356.4 319.6,357.6 320.4,358.1 320.9,357.9 322.4,358.1 323.6,357.4 323.9,355.4 325.6,353.9 326.6,352.4 326.9,351.1 327.6,350.4 328.4,350.4 329.4,349.1 330.9,349.4 332.1,348.6 333.1,348.6 333.9,348.1 336.6,348.4 336.6,347.6 335.4,347.4 335.1,346.6 336.1,345.1 338.1,343.4 339.1,342.9 340.1,342.9 341.6,343.4 342.6,344.1 345.1,343.6 345.9,344.6 347.1,344.1 348.4,344.4 351.9,341.6 352.6,341.6 353.1,341.1 352.6,339.9 353.4,339.4 354.6,339.1 355.1,338.6 355.1,337.4 355.6,336.9 356.4,336.9 357.1,337.6 359.9,336.1 360.4,337.4 360.4,335.1 360.1,335.4 359.6,335.1 359.6,334.4 358.9,333.4 359.1,332.6 358.9,331.6 357.4,330.4 355.6,330.1 353.1,328.9 351.4,326.9 351.1,326.1 350.6,325.9 350.4,324.9 349.1,324.4 348.4,323.6 348.6,322.9 348.4,321.4 348.6,321.1 348.1,320.4 348.1,319.1 347.9,318.9Z" fill="#e6c8e3"/>
<path d="M355.9,344.6 353.9,346.6 355.1,347.6 355.9,347.6 356.1,347.1 356.9,347.1 357.6,347.6 357.4,348.4 356.9,348.9 355.9,348.4 355.1,348.4 354.4,349.6 353.9,351.4 352.9,352.1 352.4,352.1 352.1,352.6 352.6,353.9 352.4,354.1 352.4,355.4 351.9,356.1 350.4,356.9 350.1,358.6 350.9,360.6 352.9,363.1 352.9,363.9 353.4,364.9 353.4,366.4 353.9,366.9 355.6,367.1 356.1,367.6 356.4,368.9 353.9,371.6 352.6,372.1 351.4,371.6 351.1,371.9 351.1,373.1 350.6,373.4 350.6,373.9 351.1,374.6 352.1,374.9 354.1,376.1 355.9,378.9 357.4,380.4 358.4,382.4 357.6,384.1 357.9,385.4 357.4,387.1 357.4,388.1 357.6,387.9 358.1,388.1 359.4,384.6 360.9,384.4 361.4,383.9 362.4,383.9 363.4,383.1 364.6,383.1 366.6,381.1 366.9,379.9 368.1,378.4 369.9,377.6 370.4,377.9 371.9,376.9 371.6,376.6 372.4,375.6 374.1,375.1 376.6,372.6 377.6,372.4 378.6,371.4 378.9,369.6 378.1,369.1 378.6,368.4 378.6,367.4 379.4,366.9 380.1,364.4 381.9,362.6 381.4,359.1 380.6,358.4 380.6,357.9 379.6,357.1 378.6,357.1 377.9,356.6 376.9,358.1 375.9,358.1 374.9,357.4 373.6,357.9 372.6,357.4 371.6,357.4 370.9,358.1 369.6,356.9 369.4,357.1 367.6,357.1 365.9,354.6 365.1,354.4 363.6,353.1 361.9,352.9 359.6,351.1 358.4,349.4 358.1,347.4 357.1,346.6 356.9,346.9Z" fill="#8f6eb2"/>
<path d="M290.1,311.1 286.9,310.9 284.1,313.4 283.6,313.4 283.1,312.6 281.9,312.6 280.6,313.4 280.4,315.1 281.4,316.4 281.4,316.9 279.9,318.9 279.1,322.4 278.6,323.1 277.9,323.1 276.9,322.6 276.4,323.1 276.6,324.1 276.1,324.6 275.6,324.6 275.1,324.1 274.4,324.1 273.6,326.6 273.6,328.6 274.1,329.6 273.1,330.9 270.1,331.1 269.1,330.6 268.4,330.6 267.4,331.6 265.9,332.1 265.4,332.6 264.1,332.6 261.9,333.9 262.1,334.1 261.6,335.1 261.4,336.9 262.1,336.4 262.6,336.4 263.1,336.9 262.6,338.6 263.6,341.4 264.4,341.9 265.4,341.9 266.1,342.6 265.1,344.1 265.9,347.9 267.6,349.9 268.1,351.1 270.4,353.1 271.4,352.6 272.6,352.6 273.4,353.6 274.1,353.6 274.6,352.9 276.6,351.9 277.9,351.9 278.9,352.4 281.9,351.6 283.9,353.6 284.9,353.6 285.9,352.6 286.9,354.1 287.4,354.1 286.6,353.4 287.1,349.6 288.1,348.6 288.1,347.9 287.4,346.9 287.9,345.9 288.9,346.4 289.4,345.9 288.9,345.1 287.9,345.1 287.6,345.6 287.1,345.6 286.1,344.1 288.1,342.6 288.1,340.6 289.6,339.4 290.6,337.4 290.6,335.9 289.6,334.6 289.9,334.1 289.6,330.9 290.4,329.6 289.9,323.6 291.4,321.6 291.1,320.6 291.6,319.4 290.6,317.6 290.9,316.4 290.4,315.9 290.4,311.4Z" fill="#e6c8e3"/>
<path d="M286.9,102.1 286.1,102.6 284.1,102.9 283.4,103.6 283.4,105.1 282.1,106.4 281.9,107.4 280.1,107.9 277.4,110.4 276.4,110.6 272.4,110.4 271.1,110.9 270.9,110.1 268.9,110.1 269.6,111.9 270.6,112.6 270.4,112.9 270.6,113.1 270.4,113.4 270.4,116.1 270.6,116.6 270.1,117.4 268.1,117.9 267.9,119.9 267.4,120.6 267.1,122.1 265.1,124.1 266.4,126.9 266.4,128.9 265.9,130.9 265.1,132.1 263.6,133.4 263.6,134.1 263.9,134.6 266.4,136.1 267.4,136.1 268.6,137.6 270.6,137.9 271.6,138.9 274.1,140.4 276.9,140.4 278.1,141.6 281.1,141.6 281.9,140.9 283.6,141.4 284.4,141.1 288.6,141.4 289.9,142.6 290.9,143.1 292.6,142.4 292.1,141.4 292.1,139.9 292.4,139.6 292.1,139.4 292.1,137.6 293.1,136.4 294.1,134.1 294.1,133.4 293.6,132.6 293.6,130.6 294.1,128.1 295.9,126.4 296.9,126.9 297.6,126.9 297.9,126.6 297.6,125.9 298.6,124.4 300.6,124.1 298.4,121.9 296.1,121.4 295.6,120.6 296.4,119.9 295.1,118.6 294.1,118.1 293.1,118.1 292.1,116.9 290.4,116.6 289.4,114.9 288.9,114.9 288.1,113.9 288.1,112.9 286.9,110.6 286.4,110.4 286.4,108.6 287.6,106.4 287.6,104.9 286.9,103.9Z" fill="#684aa0"/>
<path d="M168.1,413.1 168.1,413.9 169.1,414.4 169.6,415.1 168.6,416.4 167.4,416.9 167.6,417.4 168.4,417.6 169.1,417.1 170.4,417.6 171.6,418.6 173.4,418.6 173.9,419.1 173.9,419.9 176.4,420.9 176.6,421.4 177.9,422.1 179.1,422.4 179.6,422.1 182.9,424.1 183.4,423.9 185.4,424.9 186.9,425.1 189.4,427.4 189.6,428.6 190.9,429.1 192.1,430.4 194.4,430.4 194.9,430.6 195.6,429.9 195.9,429.1 197.1,428.1 197.4,426.9 198.4,425.9 199.4,426.9 200.6,426.6 203.1,426.9 203.4,426.6 205.6,426.6 207.1,425.1 206.1,424.6 205.9,422.9 205.4,422.4 204.6,422.4 202.4,420.4 200.9,420.4 200.6,420.6 199.9,420.4 199.9,419.6 200.6,418.4 202.6,416.9 202.9,415.6 201.6,413.6 202.1,412.6 203.6,411.6 203.9,411.1 203.9,410.4 203.1,409.4 202.9,408.4 201.4,407.1 200.6,403.4 200.4,403.1 199.4,403.4 198.4,403.1 197.4,401.4 196.9,401.1 194.6,400.9 194.1,400.4 192.1,400.4 191.1,399.1 190.9,399.4 189.9,399.1 187.6,400.4 186.4,400.4 184.6,399.1 184.1,399.1 182.1,397.4 181.6,397.9 181.4,399.1 178.9,401.4 178.1,403.6 176.9,404.6 176.6,405.4 177.6,406.4 177.4,406.6 176.1,406.4 175.1,406.6 172.9,408.6 170.6,409.6 169.6,410.6 169.6,411.6 169.1,412.4Z" fill="#8f6eb2"/>
<path d="M248.6,168.4 248.4,170.4 247.4,171.6 247.6,172.9 246.9,174.4 246.9,175.4 245.9,176.6 246.4,177.1 245.6,178.1 244.6,178.6 245.4,179.1 247.1,179.1 247.4,178.9 249.1,178.9 249.6,178.4 250.1,178.4 250.6,179.1 250.4,183.4 251.1,183.9 253.1,184.1 253.9,185.4 253.9,187.1 254.6,187.6 254.9,188.4 255.6,189.1 259.1,190.1 260.1,191.4 259.9,192.6 261.1,194.4 260.4,195.1 260.9,195.4 261.9,194.4 264.6,196.9 264.6,197.4 265.4,198.4 266.4,198.6 268.1,197.1 270.1,197.1 271.4,197.9 272.4,197.6 272.9,198.1 275.1,197.6 275.9,197.9 277.4,196.9 277.6,196.1 278.4,195.4 279.1,195.6 279.9,197.1 280.6,197.1 280.6,195.6 281.4,194.9 282.4,194.6 283.6,193.6 285.1,193.9 286.4,192.1 286.1,191.4 286.6,190.4 287.4,189.6 288.6,189.1 288.6,187.9 288.4,187.6 288.6,185.6 287.6,184.1 288.4,183.1 288.4,182.4 286.9,181.1 286.4,178.6 284.4,176.9 283.4,175.1 283.6,170.6 282.6,171.1 281.1,170.9 279.4,170.1 278.1,169.1 276.1,168.9 275.4,168.1 275.1,166.9 273.9,165.6 272.6,165.4 271.9,164.9 271.1,165.1 270.9,164.9 267.6,165.1 266.6,166.9 263.9,168.1 263.1,168.1 262.1,167.6 261.4,168.1 261.1,170.6 259.9,171.1 259.1,172.6 257.6,172.6 255.6,171.6 252.9,168.9 251.4,168.4 250.6,168.4 250.1,168.9 248.9,168.1Z" fill="#684aa0"/>
<path d="M193.4,398.1 193.4,398.6 194.6,400.1 197.4,401.1 198.4,402.9 198.9,403.1 200.4,402.9 200.9,403.4 201.6,407.1 203.1,408.4 203.1,408.9 204.1,410.4 204.1,411.1 203.6,411.9 202.4,412.6 201.9,413.6 203.1,415.6 202.9,416.9 200.9,418.4 200.1,419.6 200.1,420.4 202.4,420.1 204.6,422.1 205.4,422.1 206.1,422.9 206.1,424.1 206.9,424.9 211.4,424.4 212.6,423.4 213.1,423.4 214.4,421.6 215.4,421.4 215.9,420.9 215.4,419.6 216.9,417.9 218.1,418.4 220.1,418.4 221.1,417.6 222.4,417.4 223.9,418.6 224.4,418.6 226.1,416.6 226.4,415.4 228.6,413.1 229.1,413.4 228.9,415.4 229.6,415.1 229.9,415.4 230.6,414.6 231.9,414.6 232.6,414.9 233.1,415.9 234.9,416.4 237.1,416.1 237.9,414.9 237.9,413.1 238.4,412.1 238.9,408.6 239.4,407.4 240.6,405.9 240.6,405.1 241.4,404.4 242.4,403.9 243.1,403.9 244.1,402.4 243.1,402.6 242.6,402.1 241.1,401.9 240.4,400.4 241.1,399.6 237.6,398.6 236.4,397.9 234.9,397.9 233.6,398.4 232.1,397.9 228.9,397.9 227.9,398.4 227.1,398.4 225.9,397.6 225.1,397.6 224.6,398.1 223.6,398.4 222.6,398.1 222.1,397.6 221.9,396.6 221.1,396.6 220.1,395.4 219.1,395.1 217.1,393.6 216.6,393.9 215.9,393.6 215.1,392.9 213.4,392.9 213.1,393.1 207.4,392.9 206.6,393.4 204.9,393.4 203.4,395.1 202.1,395.1 201.9,394.9 200.6,395.1 199.6,396.1 198.9,396.1 198.1,395.4 197.1,395.1 196.6,396.1 196.4,398.4 195.6,399.4 194.9,399.4 193.9,398.1Z" fill="#e6c8e3"/>
<path d="M222.1,331.1 221.6,331.6 221.6,334.4 221.4,334.9 220.6,335.4 218.9,335.1 218.9,336.4 218.1,337.1 217.4,337.4 217.1,337.1 216.6,337.4 214.4,337.4 214.1,337.1 211.6,338.9 212.1,340.1 211.4,340.9 210.4,339.9 208.6,340.1 208.6,340.6 207.6,341.4 207.4,342.1 205.9,343.4 205.4,342.6 204.1,342.6 203.6,343.1 203.4,344.1 202.9,344.4 201.4,346.6 199.6,348.1 199.9,348.6 199.6,349.9 199.9,350.1 199.9,351.4 201.9,353.6 201.9,354.4 201.4,354.6 201.9,355.4 201.9,357.1 201.4,359.6 203.1,361.1 203.6,361.1 205.4,359.6 206.9,359.4 208.9,360.9 211.1,361.1 213.1,361.9 214.1,362.9 214.1,363.4 214.9,364.1 214.6,364.4 216.4,365.9 216.9,368.1 218.4,369.1 219.9,369.6 220.9,371.9 220.1,373.6 220.4,374.6 222.4,376.4 222.4,376.9 223.1,377.6 224.4,378.4 224.4,378.9 225.9,380.1 226.4,380.1 226.9,381.6 227.9,382.6 228.4,382.6 229.1,381.1 229.1,380.4 228.1,379.6 227.6,378.9 227.9,378.6 232.9,378.9 232.9,378.4 233.6,377.4 234.9,377.4 235.1,377.6 235.9,377.4 237.4,375.6 238.1,374.1 238.1,373.4 238.9,372.6 240.1,372.1 241.1,370.9 242.9,370.9 244.1,370.1 244.9,370.1 245.4,369.1 246.6,368.4 248.9,365.6 246.9,363.1 246.6,362.1 244.9,360.9 244.9,359.9 244.1,359.1 243.9,357.9 242.9,357.1 241.1,356.9 240.1,355.9 240.1,354.9 241.6,353.6 241.4,352.9 240.4,351.9 239.1,351.9 238.6,351.4 238.6,350.6 239.1,349.9 238.6,347.6 238.9,347.1 238.6,346.9 238.9,344.9 237.6,343.4 237.9,341.1 236.9,339.9 236.4,337.9 235.9,337.9 234.4,336.6 234.1,336.9 232.9,336.6 232.4,336.1 232.4,335.4 231.4,334.1 229.9,333.9 229.4,333.1 228.1,332.4 226.1,332.1 225.6,331.6 224.1,331.1Z" fill="#8f6eb2"/>
<path d="M275.1,389.6 275.4,390.1 276.6,389.9 276.9,390.1 277.9,389.9 279.9,390.1 283.9,393.4 284.1,393.1 284.6,393.6 288.9,394.6 290.1,396.1 291.1,395.4 291.6,394.4 293.9,393.6 293.9,392.9 294.6,391.9 296.6,392.1 298.1,393.4 299.4,393.6 300.6,393.1 302.9,394.6 305.1,394.6 305.4,394.4 308.1,394.1 308.9,395.1 308.1,396.9 309.4,398.1 309.4,398.9 311.4,399.4 312.1,400.1 316.9,400.4 317.6,399.9 318.4,399.9 319.1,400.6 319.6,400.6 320.6,399.4 320.6,397.6 321.1,396.9 321.1,396.1 320.6,395.4 320.6,393.9 321.1,393.1 320.9,390.9 320.1,390.1 320.9,387.9 319.9,385.9 319.9,382.1 320.4,381.4 321.1,381.1 321.9,380.4 321.9,378.6 321.6,378.1 320.6,377.9 319.4,376.1 318.1,375.6 317.4,375.6 316.6,376.9 315.6,377.4 314.4,377.4 312.9,376.6 310.9,376.6 309.6,374.4 306.4,374.6 305.1,373.6 301.6,373.4 299.9,372.1 297.4,369.6 296.6,370.1 296.1,371.1 294.9,371.4 293.6,370.4 291.6,370.1 291.1,369.6 291.4,368.6 290.9,367.9 289.4,367.9 288.4,368.6 288.4,370.9 288.1,371.4 287.4,371.6 285.1,374.1 285.4,374.9 286.4,374.9 286.6,374.1 287.4,373.4 288.6,373.9 288.4,375.4 287.6,376.1 286.9,375.9 286.1,377.6 285.4,378.6 285.6,380.4 283.9,381.9 282.1,381.6 281.6,382.1 282.1,383.1 281.9,383.9 280.6,384.9 279.4,384.6 277.6,387.9 276.6,388.9 276.1,388.9Z" fill="#8f6eb2"/>
<path d="M121.9,132.6 122.1,133.1 121.6,133.6 121.9,135.9 121.1,136.9 121.4,137.1 121.4,139.1 124.1,141.9 125.6,144.1 126.1,146.1 125.4,146.9 123.9,147.4 123.9,150.6 122.9,151.6 122.1,151.6 120.4,153.4 119.9,154.9 117.9,155.4 117.1,156.4 117.1,157.1 117.4,157.1 117.9,155.9 118.9,155.6 120.9,157.6 121.6,160.6 123.4,160.6 125.6,162.1 126.1,160.9 128.9,160.1 129.6,159.4 129.6,158.6 130.1,157.6 131.1,156.9 132.4,156.6 133.1,155.6 133.9,155.9 133.6,156.9 133.9,157.1 133.4,157.9 134.1,158.6 135.4,158.4 134.9,157.1 135.9,156.1 137.4,156.6 138.6,158.4 140.6,157.9 141.9,158.1 143.4,156.6 144.1,156.9 144.6,157.9 145.4,158.1 147.9,156.6 149.6,156.9 151.9,154.4 152.9,153.9 155.4,153.9 155.9,153.4 155.9,151.4 156.4,150.9 157.9,151.1 158.6,152.1 158.4,153.1 159.6,154.1 160.6,154.4 161.6,153.9 162.4,154.1 163.1,153.9 163.6,153.1 163.6,151.4 163.1,150.4 163.1,148.9 163.9,147.4 163.9,146.1 163.1,146.4 162.9,147.6 162.4,147.6 161.6,146.9 160.9,144.1 161.1,143.4 160.4,142.1 160.4,140.9 160.6,140.6 160.4,140.4 160.9,139.9 160.4,139.4 160.4,138.4 161.1,136.9 160.1,136.4 159.1,133.9 159.1,133.1 158.9,133.4 157.4,133.4 155.1,134.6 154.1,134.4 152.1,136.1 150.6,136.1 149.9,135.6 149.1,135.6 146.9,137.9 144.4,138.4 143.9,138.1 143.6,138.4 141.6,137.4 141.1,137.6 140.9,137.1 140.4,137.4 139.9,136.9 139.4,136.9 139.1,136.4 136.1,135.9 134.1,134.9 132.9,135.1 132.4,134.6 131.1,134.4 130.9,134.6 129.9,134.4 128.9,134.6 127.4,134.1 125.9,134.1 123.9,132.6 122.9,132.4Z" fill="#8f6eb2"/>
<path d="M221.1,300.9 220.1,301.9 220.4,303.6 219.9,304.6 220.9,306.6 220.4,307.1 219.4,306.9 216.9,307.6 216.6,309.6 216.1,310.9 215.1,311.9 213.9,312.1 212.6,314.6 213.1,315.4 213.1,316.1 212.1,317.1 212.1,318.6 212.9,319.9 212.9,320.6 212.4,321.1 209.4,320.9 208.6,322.4 208.6,323.4 208.1,324.1 208.1,327.9 208.4,328.1 208.4,329.4 208.9,330.1 209.1,332.6 209.6,333.1 209.9,334.4 209.4,336.6 211.4,338.6 214.1,336.9 214.4,337.1 218.1,336.9 218.6,336.4 218.6,335.1 218.9,334.9 220.1,335.1 221.1,334.9 221.4,334.4 221.4,331.6 222.1,330.9 224.1,330.9 225.1,331.1 226.1,331.9 228.1,332.1 230.4,333.9 231.4,333.9 232.6,335.4 232.9,336.4 233.4,336.6 234.4,336.4 235.1,337.1 236.6,337.9 237.1,337.6 236.9,336.9 236.1,336.9 234.6,336.1 235.4,333.1 236.1,332.1 239.4,332.4 239.9,331.9 240.9,329.4 241.4,329.1 242.4,329.4 245.1,327.6 245.1,326.6 245.6,326.1 245.6,325.6 245.4,325.9 244.1,325.9 243.4,324.9 244.4,323.9 244.6,321.4 243.4,320.9 242.4,319.6 242.6,317.1 242.1,316.1 240.9,315.4 240.6,313.4 239.1,311.9 238.4,310.6 236.9,310.6 236.6,310.9 235.4,310.6 234.1,308.6 233.4,308.6 232.1,307.9 231.4,307.9 228.6,306.6 227.1,305.1 225.9,304.4 224.4,304.4 223.1,303.4 221.9,303.1 220.9,302.4 221.1,302.1Z" fill="#e6c8e3"/>
<path d="M171.6,273.6 170.6,274.6 169.1,274.6 168.9,274.9 168.6,274.6 168.1,275.1 168.4,275.9 167.6,276.9 164.9,276.9 164.1,276.6 163.1,275.6 162.9,275.9 161.4,275.6 162.4,276.4 162.1,276.6 160.6,276.9 160.4,277.4 158.9,277.9 158.1,277.9 156.9,277.1 156.6,277.4 155.6,277.1 152.9,277.4 151.4,276.1 150.6,276.4 149.6,276.1 149.4,276.4 148.4,275.4 147.4,275.4 146.9,275.6 146.1,277.1 144.4,278.9 143.6,280.6 142.1,280.9 140.6,280.1 140.6,280.6 141.1,281.1 142.1,281.1 142.9,281.6 143.6,281.4 144.6,281.6 145.6,282.9 145.4,283.4 144.1,283.4 143.4,282.9 142.4,282.9 141.4,285.4 140.6,286.1 139.9,286.1 138.4,287.1 138.6,287.6 138.1,288.1 137.6,288.1 137.1,287.6 136.1,287.6 135.1,288.1 133.6,288.1 132.6,288.9 132.1,290.9 133.4,292.6 133.4,293.9 132.1,295.4 132.1,296.4 133.4,297.4 134.1,297.4 135.1,298.4 135.1,299.6 136.4,301.4 136.4,302.4 135.9,303.6 136.1,306.1 137.1,307.1 137.9,307.1 138.9,307.9 138.6,310.6 139.1,311.4 140.9,312.1 141.6,311.6 142.6,311.9 143.4,312.9 144.6,313.6 145.6,312.9 146.9,313.1 148.1,312.1 150.1,312.4 150.9,312.1 152.1,310.6 151.9,308.6 153.4,306.9 153.9,306.9 153.4,305.4 153.4,303.9 153.9,302.9 154.6,302.4 155.1,302.6 156.4,302.4 157.1,301.6 157.1,299.9 158.9,298.4 159.6,297.1 160.6,296.1 162.6,295.9 163.1,294.9 164.6,293.4 165.1,292.1 166.6,291.4 166.9,290.9 166.6,290.1 167.1,289.6 168.1,289.6 168.9,289.1 169.9,287.1 169.6,285.9 169.1,285.4 169.1,284.6 169.6,284.1 171.1,283.9 171.9,282.6 171.9,280.6 170.1,278.6 170.1,277.4 170.6,276.6 170.9,274.9 171.9,274.1Z" fill="#8f6eb2"/>
<path d="M115.4,264.1 113.9,265.4 111.9,266.1 110.1,267.6 109.6,269.1 109.4,271.6 109.9,273.4 111.4,273.6 112.4,275.4 113.9,276.6 113.9,277.4 113.4,277.9 113.1,279.1 112.4,279.9 112.1,280.9 112.4,281.1 111.9,282.6 110.4,284.6 110.1,285.9 110.9,286.6 110.4,287.6 109.6,288.4 107.9,287.9 107.4,288.1 107.4,289.6 107.9,290.4 107.6,291.6 109.1,293.4 111.6,295.4 112.4,297.1 112.4,298.4 113.1,299.1 113.9,301.4 114.9,301.9 116.1,301.9 117.6,302.4 117.9,302.9 117.6,305.4 119.4,306.4 120.4,306.1 120.6,305.4 121.6,306.1 121.6,306.6 123.1,308.4 122.6,310.4 124.4,310.1 124.9,309.1 124.9,308.4 125.9,307.6 126.1,307.9 127.6,307.9 129.6,309.1 131.9,309.6 132.6,310.1 133.1,311.1 132.6,312.1 132.9,312.9 133.6,313.6 135.1,313.9 138.1,316.6 138.4,317.4 139.1,317.9 140.9,316.1 142.6,315.9 144.6,313.9 143.4,313.1 142.6,312.1 141.6,311.9 140.9,312.4 139.1,311.6 138.4,310.6 138.6,307.9 137.9,307.4 137.1,307.4 135.9,306.1 135.6,303.6 136.1,302.4 136.1,301.4 134.9,299.6 134.9,298.4 134.1,297.6 133.4,297.6 131.9,296.4 131.9,295.4 133.1,293.9 133.1,292.6 132.1,291.4 131.9,290.1 132.4,288.9 133.6,287.9 135.1,287.9 136.1,287.4 137.1,287.4 137.6,287.9 138.1,287.9 138.4,287.6 138.1,287.1 138.9,286.4 139.9,285.9 140.6,285.9 141.1,285.4 141.9,283.1 142.4,282.6 143.4,282.6 144.1,283.1 145.4,283.1 145.4,282.9 144.1,281.6 142.9,281.9 142.1,281.4 141.1,281.4 140.4,280.6 139.1,278.1 139.6,276.6 139.4,276.1 138.9,275.9 137.6,276.1 134.9,273.1 134.4,272.9 132.4,273.1 131.6,272.6 131.9,271.6 130.9,270.9 129.6,271.1 127.6,269.4 125.4,268.6 124.4,267.1 124.1,265.6 122.9,265.6 122.1,266.1 120.9,266.1 120.1,266.6 118.4,266.6 117.6,265.6 117.6,264.4 118.1,263.6 117.4,263.6 116.6,264.1Z" fill="#e6c8e3"/>
<path d="M234.4,214.1 234.1,214.1 234.1,214.6 233.4,215.6 232.4,214.9 231.9,214.9 230.1,216.4 228.9,216.6 226.6,215.4 223.4,214.6 220.4,212.1 219.9,212.4 218.4,211.9 217.1,211.9 215.4,210.9 214.1,210.9 212.1,212.1 212.1,212.9 213.1,215.1 212.9,216.9 213.4,218.4 212.6,220.4 211.4,221.6 210.4,222.1 209.4,222.1 208.9,222.6 209.1,224.6 208.4,225.4 207.6,224.9 206.6,224.9 205.4,226.4 203.6,226.9 203.9,228.1 205.6,228.1 206.1,228.6 206.4,230.4 207.9,231.1 208.6,231.9 208.4,233.6 209.1,234.6 208.6,235.9 208.9,236.9 208.1,238.4 208.6,239.1 208.6,240.9 209.1,242.1 208.9,244.1 209.6,245.1 209.6,246.6 209.9,246.9 209.9,248.6 209.6,248.9 209.9,252.9 210.1,253.1 209.9,254.9 210.4,256.4 210.4,257.6 211.1,259.4 210.6,260.4 210.6,262.1 209.9,262.6 209.9,263.6 210.4,264.4 211.6,264.1 211.9,263.4 211.6,263.1 212.9,261.9 213.9,261.4 215.9,261.4 216.1,261.6 217.9,261.4 219.6,259.9 220.4,257.6 221.4,256.1 221.9,255.9 224.1,256.1 224.6,255.6 224.9,254.4 224.4,253.1 225.1,252.1 227.1,251.4 228.1,251.4 228.9,250.6 230.9,249.6 234.6,246.6 236.1,246.1 236.6,245.4 236.9,243.9 236.1,241.9 236.9,240.6 236.9,237.6 236.6,237.1 237.1,235.6 235.4,232.9 234.1,232.9 233.6,232.4 234.4,230.1 232.9,228.4 232.4,227.4 232.1,225.6 231.4,225.1 231.4,224.4 232.4,223.6 231.9,221.6 231.1,220.1 232.1,219.1 232.4,216.9 234.4,215.6Z" fill="#684aa0"/>
<path d="M218.6,292.6 218.1,293.4 216.9,293.9 215.6,293.6 213.1,294.1 211.1,293.9 210.4,294.4 209.9,294.4 208.6,293.4 208.1,293.4 206.4,292.4 205.4,292.4 203.4,294.6 202.6,294.6 201.1,293.6 199.6,293.9 198.9,294.6 198.9,295.1 198.1,296.1 197.9,295.9 194.6,296.9 192.6,298.9 191.4,299.6 188.4,300.4 187.9,301.9 187.1,301.9 186.4,301.4 185.6,301.6 185.6,302.9 184.6,304.6 182.1,304.1 182.1,304.6 183.4,306.4 183.4,306.9 184.1,307.4 184.6,307.1 185.9,308.1 185.9,308.6 185.4,309.1 184.1,308.6 182.9,309.4 182.4,311.4 181.4,312.4 181.4,312.9 183.1,313.6 183.9,314.4 182.9,315.4 182.9,315.9 183.9,317.1 184.9,317.4 186.4,319.6 186.6,320.6 186.4,323.1 187.1,322.9 187.4,323.1 189.1,323.1 189.4,322.9 190.1,323.1 191.6,321.9 192.4,321.9 193.4,322.9 194.6,322.9 197.6,326.1 198.9,326.4 199.9,327.4 201.4,327.4 202.1,326.9 202.6,325.9 204.6,325.4 206.9,323.9 208.1,323.9 208.4,322.4 209.4,320.6 212.4,320.9 212.6,319.9 211.9,318.6 211.9,317.1 212.9,316.1 212.9,315.4 212.4,314.6 213.4,312.9 213.4,312.4 213.9,311.9 215.1,311.6 215.9,310.9 216.4,309.6 216.4,308.1 216.9,307.4 219.4,306.6 220.4,306.9 220.6,306.6 219.6,304.6 220.1,303.6 219.9,301.9 220.9,300.9 220.9,300.1 220.1,299.4 218.9,299.4 218.6,299.1 219.6,297.6 219.6,297.1 220.6,296.1 220.6,295.4 219.9,295.1 218.9,293.9Z" fill="#8f6eb2"/>
<path d="M288.4,189.6 287.9,189.6 286.9,190.4 286.4,191.4 286.6,192.1 285.1,194.1 283.6,193.9 282.4,194.9 281.4,195.1 280.9,195.6 280.9,197.1 280.6,197.4 279.9,197.4 278.9,195.6 278.4,195.6 277.6,196.9 275.9,198.1 275.4,197.9 273.1,198.1 273.1,199.4 271.4,201.1 270.1,201.6 270.1,202.1 270.9,202.9 271.6,204.4 271.6,204.9 270.4,206.9 270.4,207.9 271.1,208.9 269.9,210.4 268.6,211.1 268.6,211.6 270.1,214.1 270.1,214.9 269.6,215.6 268.4,216.1 268.9,218.6 267.9,220.9 266.1,223.6 267.6,225.1 268.1,226.1 268.9,226.6 269.6,228.6 271.9,230.9 271.9,231.9 272.6,232.4 274.1,234.9 275.1,235.1 276.4,234.6 277.6,234.6 278.6,235.6 278.6,236.4 278.1,237.4 278.9,238.6 281.9,238.4 281.6,237.4 282.4,236.9 283.9,238.9 284.1,240.6 284.9,241.4 287.6,241.1 289.4,240.1 290.6,240.4 292.4,239.6 293.9,240.4 294.9,240.4 296.9,238.9 298.1,239.6 299.4,239.6 300.4,238.6 301.4,238.9 303.1,237.9 304.4,237.6 304.6,236.6 304.1,235.4 304.9,234.6 306.1,234.1 306.9,233.1 307.4,231.9 307.6,229.1 308.1,228.6 308.1,227.4 308.6,226.9 309.6,226.9 310.4,225.9 309.1,224.9 308.9,222.9 308.4,222.4 307.9,222.4 307.1,221.4 307.6,219.6 305.9,218.4 306.1,215.9 305.4,213.9 307.1,212.1 306.9,211.9 307.1,210.9 306.6,210.6 305.9,211.4 302.4,211.1 301.4,211.6 300.1,211.6 299.1,209.9 299.6,209.4 300.9,209.4 301.4,208.9 301.4,208.4 300.4,208.1 299.1,208.4 298.4,209.1 297.6,209.4 296.1,209.1 295.6,208.6 295.6,208.1 294.4,206.9 293.4,204.9 291.6,203.6 291.4,202.6 290.6,202.6 289.9,203.1 289.1,202.6 289.9,201.4 289.9,200.6 289.4,199.9 289.6,197.6 289.1,196.6 286.6,194.4 286.6,192.4 288.4,190.1Z" fill="#684aa0"/>
<path d="M48.1,154.1 47.9,155.6 47.1,157.1 48.1,158.9 48.1,159.4 47.4,160.6 46.9,162.6 46.1,163.6 46.1,164.9 46.6,165.4 47.1,165.4 47.9,166.4 47.1,168.6 48.1,170.4 48.1,170.9 47.4,171.6 47.4,172.4 48.1,172.9 47.6,175.1 48.6,176.9 48.1,177.6 48.1,178.9 49.9,180.1 50.6,180.4 52.6,179.4 53.6,179.4 53.9,179.6 55.4,179.6 56.9,180.9 60.6,180.9 60.9,180.6 61.4,180.9 61.9,180.4 63.4,182.9 64.6,182.6 66.1,182.9 68.4,184.9 70.1,184.6 71.4,186.4 72.6,186.4 74.1,187.4 75.6,187.9 76.1,187.4 76.1,186.6 75.4,184.9 75.6,184.1 76.4,183.4 78.1,183.1 79.9,183.9 81.6,183.6 81.9,184.4 83.9,183.9 84.6,183.4 85.1,183.6 86.9,180.6 88.1,179.4 89.4,179.1 91.6,177.1 91.9,176.6 91.6,176.1 91.6,173.6 92.1,171.6 94.4,169.4 94.1,169.1 94.4,168.1 93.9,166.9 93.4,166.6 94.1,165.4 92.9,164.1 93.4,162.4 92.9,162.4 93.1,162.6 92.9,162.9 91.9,162.9 88.6,164.6 88.1,164.6 87.6,163.9 86.1,163.1 85.4,163.1 83.9,162.4 81.6,162.1 81.6,162.6 80.4,163.6 77.9,164.6 77.1,164.4 75.1,165.6 73.6,165.6 72.6,166.9 71.9,166.1 72.1,165.9 70.6,164.6 68.9,162.4 68.6,159.6 67.4,158.4 66.4,158.6 66.1,158.4 66.4,157.9 66.9,157.9 66.6,156.9 65.9,156.1 65.1,155.9 64.9,156.1 63.9,154.9 63.6,153.1 62.9,153.1 62.1,151.9 60.1,152.4 58.6,151.6 57.6,151.9 55.1,151.6 54.4,152.4 52.1,153.1 51.4,152.9Z" fill="#e6c8e3"/>
<path d="M187.1,264.1 186.4,265.4 186.4,266.6 187.9,268.6 187.6,269.9 187.9,270.1 187.4,270.6 186.9,270.6 186.6,271.1 187.1,271.4 187.9,272.6 188.6,272.6 189.1,273.1 189.6,272.9 190.4,273.6 190.4,274.4 189.4,275.4 189.4,276.1 190.6,277.6 191.6,277.9 192.4,278.6 192.9,281.9 193.4,282.4 193.4,284.4 193.1,284.6 193.4,285.1 193.1,285.4 194.6,288.1 196.4,288.4 197.4,287.9 198.1,288.1 199.4,289.4 199.4,290.1 200.4,291.4 200.6,293.1 202.6,294.4 203.4,294.4 205.4,292.1 207.1,292.4 209.9,294.1 211.1,293.6 211.6,293.9 211.9,293.6 213.1,293.9 215.1,293.4 215.4,293.6 215.6,293.4 216.9,293.6 218.4,292.9 218.6,291.9 219.1,291.4 219.1,290.4 218.4,289.6 218.6,287.1 220.1,285.4 221.4,285.1 221.9,284.1 223.6,283.4 223.9,282.9 223.9,282.1 223.4,281.4 223.4,280.1 222.6,278.9 222.6,277.6 222.4,277.4 222.6,276.6 221.6,275.9 221.1,274.4 221.4,274.1 221.1,272.1 221.6,271.4 221.4,270.4 219.4,270.1 217.4,267.4 215.1,266.4 214.4,265.6 214.4,264.4 213.9,263.9 211.9,263.6 211.6,264.4 210.4,264.6 209.6,263.6 209.6,262.6 207.9,263.4 207.6,263.9 206.9,263.9 206.1,263.4 205.4,263.6 202.1,263.4 201.6,261.6 200.9,262.9 199.6,263.1 199.4,262.9 195.9,262.9 193.9,262.1 192.4,264.1 191.9,264.1 190.9,264.9 189.4,264.6 188.1,263.9Z" fill="#e6c8e3"/>
<path d="M165.1,292.9 162.6,296.1 160.6,296.4 159.1,298.4 157.4,299.9 157.4,301.6 156.4,302.6 154.1,302.9 153.6,303.9 153.6,305.4 154.1,306.9 153.4,307.1 152.1,308.6 152.4,310.6 150.9,312.4 150.1,312.6 148.1,312.4 146.9,313.4 146.6,314.1 145.4,314.6 144.1,317.6 145.4,317.9 146.1,318.6 146.4,321.6 144.4,323.4 144.4,324.1 145.1,325.4 144.9,326.1 143.9,327.1 143.9,328.6 144.9,330.1 145.6,330.6 146.6,330.6 147.6,330.1 149.6,330.1 150.4,330.4 151.4,331.4 153.1,331.6 153.9,332.6 153.9,333.6 153.1,334.9 154.1,336.1 154.9,336.4 156.1,337.6 156.4,338.6 157.1,339.6 157.9,339.6 158.4,337.6 158.9,337.1 159.9,336.9 161.9,338.1 163.9,338.4 164.4,338.9 165.1,338.9 166.4,338.1 167.6,338.1 168.6,340.4 169.6,341.4 171.4,341.6 171.9,342.1 172.9,342.1 173.6,341.1 175.4,341.9 178.1,340.1 178.6,338.9 180.9,336.4 182.4,336.1 183.1,335.4 183.4,334.4 183.1,332.9 184.6,331.6 185.4,329.4 186.1,328.9 186.6,329.1 186.6,326.6 185.9,324.9 185.9,323.6 186.4,322.6 186.1,319.6 184.6,317.4 183.9,317.4 182.6,315.9 182.6,315.4 183.6,314.4 181.1,312.9 181.1,312.4 182.1,311.4 182.6,309.4 183.4,308.6 184.1,308.4 185.4,308.9 185.6,308.1 184.6,307.4 184.1,307.6 183.1,306.9 183.1,306.4 181.9,304.6 181.9,303.6 181.4,302.9 180.6,302.6 179.1,302.9 176.9,300.4 174.6,300.4 174.1,299.9 172.9,299.9 170.4,299.1 169.4,298.1 169.6,296.1 168.4,295.4 167.9,295.6 165.9,295.4Z" fill="#e6c8e3"/>
<path d="M349.4,212.6 348.6,212.6 347.6,213.9 346.4,213.9 345.6,213.1 343.9,212.4 341.4,212.9 340.4,212.1 339.6,212.1 338.6,212.6 339.1,213.4 338.9,214.4 337.1,216.1 336.1,216.4 335.1,217.4 328.4,218.4 327.1,219.9 324.9,220.6 324.6,221.1 324.6,223.4 324.4,223.6 323.4,222.4 319.9,222.6 318.1,223.4 317.1,224.4 315.6,225.1 316.4,228.4 316.1,228.6 316.1,230.1 317.1,233.1 316.6,234.4 317.1,235.6 319.6,237.4 321.4,237.6 322.4,238.9 324.1,239.4 324.6,239.9 325.1,241.4 324.9,241.6 325.1,242.9 324.4,243.6 325.4,243.6 326.6,244.4 327.6,245.4 327.6,245.9 329.4,247.6 329.6,249.4 330.4,250.1 331.9,250.9 332.4,250.9 334.6,248.6 335.1,248.6 335.9,247.4 337.4,245.9 337.9,244.9 337.9,243.1 337.6,242.9 337.9,241.6 337.4,240.9 337.4,240.1 338.1,239.6 338.1,239.1 339.4,238.9 341.6,237.6 342.1,236.4 343.6,235.1 343.6,234.1 345.1,232.9 345.6,231.6 351.1,226.1 351.1,225.4 352.4,224.1 353.4,222.4 353.1,222.1 353.4,221.4 352.4,219.6 351.1,219.9 350.6,219.4 351.4,217.6 351.6,215.9 353.1,215.4 351.1,214.4Z" fill="#684aa0"/>
<path d="M292.9,309.4 292.1,310.4 290.4,311.1 290.6,311.4 290.6,315.9 291.1,316.4 290.9,317.6 291.9,319.4 291.4,320.6 291.6,321.6 290.1,323.6 290.6,329.6 289.9,330.9 290.1,331.9 290.1,334.1 289.9,334.6 290.9,335.9 290.9,337.4 289.9,339.4 288.4,340.6 288.4,342.6 286.4,344.1 287.1,345.4 287.6,345.4 287.9,344.9 288.9,344.9 289.6,345.9 288.9,346.6 287.9,346.1 287.6,346.9 288.4,347.9 288.4,348.6 287.4,349.6 287.1,352.9 286.9,353.1 287.1,353.9 288.1,354.4 290.1,356.4 290.9,356.6 292.4,356.6 294.1,355.6 295.1,355.6 296.6,354.9 297.4,354.9 297.6,355.4 298.9,355.1 299.1,355.4 299.6,354.9 300.4,354.9 302.1,356.1 303.1,356.1 304.6,355.4 305.6,355.4 307.4,357.9 308.1,358.4 309.4,358.4 309.6,358.1 311.4,358.4 312.1,359.1 312.4,359.9 311.9,360.6 312.4,360.6 312.9,358.9 313.1,359.1 313.9,358.9 315.1,359.4 315.9,360.1 316.4,360.1 317.9,358.9 319.9,359.4 320.4,358.6 319.4,357.6 319.4,356.6 316.9,356.4 316.1,355.4 316.1,354.1 316.4,353.9 316.1,352.9 311.9,349.9 311.4,349.9 310.9,349.4 310.9,348.4 311.6,347.6 313.4,347.1 314.6,345.6 315.9,344.9 315.4,344.4 315.6,343.6 316.6,343.4 317.4,342.6 317.1,339.9 318.1,339.1 319.6,338.9 320.9,337.6 320.9,336.4 321.4,335.9 322.6,335.4 323.6,335.9 324.4,335.9 325.1,335.1 324.1,334.9 323.4,333.9 323.6,333.4 321.9,333.1 320.4,333.6 320.6,335.1 319.9,335.9 318.9,335.1 318.9,334.1 317.1,332.6 316.9,331.9 316.4,331.6 314.6,331.6 313.6,332.1 312.9,331.9 312.1,331.1 311.9,329.4 310.9,328.4 310.9,327.1 309.9,324.6 310.1,323.6 311.4,322.9 311.4,321.9 310.1,320.4 309.4,320.1 309.1,320.9 308.4,321.6 307.6,321.6 307.1,320.9 305.4,319.9 304.4,318.4 301.9,318.4 300.4,317.1 300.4,315.1 301.6,312.1 300.9,311.6 299.9,311.6 298.6,310.4 297.6,310.6 297.4,310.4 295.9,311.4 295.6,311.1 295.1,311.4 293.6,309.6Z" fill="#8f6eb2"/>
<path d="M157.9,131.6 158.1,132.4 157.6,133.1 158.9,133.1 159.1,132.9 160.4,136.4 161.4,136.9 160.6,138.4 160.6,139.4 161.1,139.9 160.6,140.4 160.9,140.6 160.6,140.9 160.6,142.1 161.4,143.4 161.1,144.1 161.9,146.9 162.4,147.4 162.9,147.4 162.9,146.4 163.4,145.9 164.1,146.1 164.1,147.4 163.4,148.9 163.4,150.4 163.9,151.4 163.9,153.1 163.4,154.4 164.1,155.1 165.4,155.1 167.4,156.1 167.9,156.6 168.1,158.9 169.4,159.6 170.4,160.9 170.1,161.9 170.4,162.6 172.9,163.6 173.1,164.1 174.9,163.4 175.9,163.4 177.1,161.9 178.1,161.9 178.9,162.4 180.4,162.1 180.9,161.6 183.4,162.1 184.4,161.6 185.9,159.6 187.1,159.4 189.9,158.1 190.4,157.6 190.6,155.4 191.4,154.9 192.4,154.9 192.9,154.4 192.1,153.4 192.1,152.9 194.6,149.9 195.1,148.6 195.9,148.1 197.1,149.1 198.9,145.6 200.9,143.1 200.9,142.6 200.4,142.4 199.6,142.6 198.9,141.9 198.9,140.6 200.1,139.4 199.9,138.1 198.9,136.4 199.4,134.6 199.1,133.9 196.6,132.9 195.6,132.9 194.6,132.1 193.4,131.9 192.6,132.1 189.9,134.9 187.6,134.9 186.1,135.4 185.4,136.1 183.9,136.9 182.1,136.9 181.4,138.1 179.9,139.4 177.6,137.6 177.6,136.1 177.1,134.9 176.4,135.1 174.9,134.9 173.6,133.4 172.4,132.9 171.6,132.1 170.6,132.1 169.4,131.4 168.6,131.4 167.6,132.9 166.9,132.9 166.1,132.4 164.9,132.4 163.6,131.9 160.9,132.1 158.6,130.9Z" fill="#8f6eb2"/>
<path d="M193.6,154.1 193.1,154.1 192.4,155.1 190.9,155.4 190.6,157.6 189.9,158.4 187.1,159.6 185.9,159.9 185.1,161.1 183.4,162.4 182.4,162.4 181.6,161.9 180.9,161.9 179.6,162.6 177.1,162.1 175.9,163.6 174.9,163.6 173.4,164.4 172.9,163.9 171.9,163.6 171.9,164.4 172.4,164.9 173.4,164.4 174.4,164.9 174.4,166.6 174.1,166.9 175.4,168.6 176.6,171.9 178.4,174.1 177.9,174.9 175.9,176.4 176.1,178.1 174.9,179.6 173.9,180.1 170.6,179.9 171.4,181.6 171.4,182.9 171.6,183.1 170.9,185.9 172.1,186.4 171.4,188.4 171.4,192.1 171.6,192.6 172.6,192.6 174.1,190.9 174.6,190.9 175.1,191.4 175.4,192.6 176.1,193.4 177.4,193.4 181.1,191.9 182.1,191.9 182.9,192.4 183.1,193.4 185.1,193.6 185.6,194.9 187.1,195.4 190.9,195.1 192.1,195.9 195.6,192.1 198.1,191.1 200.4,191.1 201.9,189.9 202.4,189.9 203.4,188.6 204.4,188.4 204.4,187.4 203.9,186.6 203.9,185.4 204.6,184.1 205.4,181.4 205.4,180.4 204.9,179.4 205.1,178.6 205.9,178.1 206.4,177.1 204.4,175.1 203.9,175.6 203.4,175.1 201.9,174.9 200.4,173.6 199.9,172.6 200.1,172.4 200.1,169.9 197.4,167.1 196.9,165.1 196.4,165.1 195.9,164.6 195.9,163.6 196.4,163.1 196.4,161.1 197.4,160.1 196.4,158.9 195.9,159.1 195.6,159.9 194.6,159.9 194.1,159.4 194.9,157.4 194.9,156.1Z" fill="#8f6eb2"/>
<path d="M12.6,161.4 12.6,162.1 10.9,164.4 11.1,167.4 12.6,169.4 13.4,169.4 14.4,170.1 16.1,170.4 17.4,169.9 18.6,168.6 20.4,168.9 21.6,167.6 22.6,167.4 23.9,168.4 23.9,169.4 25.1,170.4 25.9,171.6 26.6,172.1 26.9,172.9 25.6,174.4 24.9,174.4 23.1,172.1 21.4,172.9 19.9,172.9 17.6,172.1 16.9,172.4 16.1,173.1 16.1,173.9 17.4,175.1 17.4,175.6 18.4,176.6 18.4,177.1 19.6,175.4 22.6,175.4 24.6,177.1 24.4,179.1 24.9,179.6 24.9,181.1 24.1,181.9 22.6,181.9 21.9,180.9 20.1,180.6 19.1,180.9 18.1,182.1 17.4,182.1 15.6,180.9 14.1,182.6 13.4,182.6 13.9,184.6 15.6,184.4 17.1,185.1 17.9,184.6 18.1,184.9 18.9,184.6 19.6,185.4 19.9,187.9 21.6,188.9 22.6,190.9 22.1,192.1 22.1,193.9 23.6,193.9 24.9,193.4 25.4,193.6 26.6,193.1 27.1,192.4 28.1,191.9 30.6,192.1 31.6,191.6 32.4,191.6 34.1,192.9 34.6,192.9 37.4,195.1 38.9,195.6 39.4,195.1 41.1,195.1 42.4,195.9 43.4,195.9 44.4,196.6 46.9,194.9 48.1,193.1 48.9,193.1 49.4,193.9 50.1,193.9 50.9,193.1 50.9,192.6 49.9,191.4 49.6,190.4 48.9,189.6 47.6,189.1 46.9,187.6 44.9,187.6 42.4,186.6 42.4,184.9 42.6,184.6 42.4,184.1 42.6,183.6 40.9,182.1 40.4,181.1 41.1,180.9 41.9,181.4 43.6,181.4 45.6,179.9 46.6,178.6 47.6,178.4 48.4,176.9 47.4,175.1 47.9,172.9 47.1,172.4 47.1,171.6 47.9,170.9 47.9,170.4 46.9,168.6 47.6,166.4 47.1,165.6 46.6,165.6 45.9,164.9 45.9,163.6 46.6,162.6 47.1,160.6 47.9,159.4 47.1,157.6 46.4,159.1 45.4,159.1 44.4,158.1 43.4,157.9 43.1,157.4 42.4,157.1 40.6,157.6 39.9,156.9 37.6,157.6 36.9,156.4 35.9,155.9 35.4,156.1 32.1,155.9 31.6,156.4 29.6,156.4 29.4,156.6 28.1,156.4 27.4,156.9 25.4,156.9 25.1,157.1 24.4,156.6 23.4,156.6 23.6,157.4 22.9,157.6 23.1,157.9 22.9,158.4 22.4,158.4 21.9,157.9 18.6,159.4 17.6,159.1 17.1,159.4 16.9,159.1 16.6,159.6 16.1,159.6 14.9,160.6 14.4,160.4 13.6,160.6 13.1,161.6Z" fill="#8f6eb2"/>
<path d="M266.1,348.4 265.6,349.4 265.4,351.4 264.1,353.6 264.1,354.9 265.1,356.4 265.1,357.6 264.1,358.9 264.1,359.6 263.4,360.6 261.6,360.9 260.6,360.4 259.1,360.4 257.9,361.6 257.1,361.6 256.9,361.4 255.4,361.4 253.6,360.6 253.4,360.9 251.9,360.9 251.6,360.6 249.1,360.9 248.1,360.4 246.4,360.4 245.4,359.9 245.1,360.9 246.9,362.1 247.1,363.1 248.4,364.4 248.9,365.4 249.6,365.9 249.9,367.1 249.6,369.4 251.4,371.1 252.6,371.9 253.6,373.1 255.4,371.4 256.4,371.1 256.6,371.4 258.9,370.6 261.1,370.6 263.1,372.1 262.9,373.4 263.4,373.9 265.6,374.1 268.1,376.9 268.1,378.4 270.4,380.1 270.9,381.6 272.1,382.9 272.1,383.4 271.1,384.9 270.9,387.4 270.4,388.1 271.1,388.4 272.1,389.4 274.9,389.6 277.4,387.9 278.1,386.1 279.4,384.4 280.6,384.6 281.6,383.9 281.9,383.1 281.4,382.1 282.1,381.4 283.9,381.6 285.4,380.4 285.1,378.6 285.9,377.6 286.4,376.1 286.9,375.6 287.6,375.9 288.1,375.4 288.4,373.9 287.4,373.6 286.4,375.1 285.4,375.1 284.9,374.6 284.9,374.1 287.4,371.4 287.9,371.4 288.1,370.9 288.1,368.6 289.4,367.6 291.1,367.6 291.9,366.9 292.1,365.6 291.1,364.6 291.1,363.9 293.1,361.9 293.4,360.6 291.6,359.1 289.1,358.9 288.1,357.6 287.6,355.6 285.4,354.9 284.9,355.1 284.1,354.9 283.4,354.1 283.4,353.4 282.9,353.1 282.9,352.6 281.9,351.9 278.9,352.6 277.9,352.1 276.6,352.1 274.6,353.1 274.1,353.9 273.4,353.9 272.6,352.9 271.4,352.9 270.4,353.4 267.9,351.1 267.9,350.6Z" fill="#8f6eb2"/>
<path d="M191.4,372.6 189.4,372.4 189.1,371.6 188.1,370.9 186.6,372.4 183.9,372.6 182.1,374.4 179.4,374.6 179.1,374.9 177.1,374.4 175.1,375.4 173.6,375.1 172.4,376.1 172.9,376.6 172.9,378.1 172.4,378.9 172.6,379.4 174.1,379.6 175.9,381.1 177.1,381.1 177.9,381.9 178.1,382.6 177.6,383.6 177.9,384.6 176.9,385.6 177.1,386.4 176.1,387.1 174.6,387.6 173.6,388.9 173.6,391.4 172.1,393.6 171.6,393.6 171.4,394.1 168.9,394.6 168.4,394.1 168.4,393.6 167.6,393.1 167.4,393.6 168.1,394.6 165.6,396.9 163.4,394.6 162.4,394.9 161.1,395.9 160.9,397.1 160.4,397.6 159.9,397.6 157.9,401.4 156.4,403.1 155.4,403.6 155.1,404.1 155.9,405.4 155.4,406.4 155.4,407.6 157.4,408.4 158.1,408.1 158.9,408.4 158.9,409.1 158.4,409.6 158.9,411.4 158.6,412.6 157.4,413.4 156.4,415.4 155.1,416.4 154.1,419.1 154.1,419.6 155.4,420.4 155.9,421.6 155.4,421.9 155.4,422.6 154.6,423.1 155.1,423.6 155.9,423.9 156.9,423.4 161.4,423.4 161.6,422.1 160.6,420.4 161.6,419.6 161.9,418.9 162.1,419.1 162.6,418.6 163.1,418.9 164.1,417.9 165.6,417.4 165.9,416.9 166.9,416.6 167.1,416.9 169.1,415.6 169.4,414.9 167.9,413.9 167.9,413.1 169.4,411.6 169.4,410.6 170.6,409.4 172.9,408.4 174.6,406.6 175.9,406.1 177.4,406.4 176.4,405.4 176.6,404.6 177.9,403.6 178.6,401.4 181.1,399.1 181.4,397.9 182.1,397.1 184.1,398.9 184.6,398.9 186.4,400.1 187.6,400.1 189.1,399.1 189.9,398.9 190.9,399.1 191.1,398.9 192.1,400.1 194.1,400.1 194.6,400.6 195.9,400.6 194.6,400.4 193.6,399.4 193.1,398.1 193.9,397.9 194.9,399.1 195.6,399.1 196.1,398.4 196.6,395.4 197.1,394.9 198.1,395.1 198.9,395.9 199.6,395.9 200.6,394.9 201.9,394.6 202.1,394.9 203.4,394.9 204.9,393.1 206.6,393.1 207.4,392.6 206.6,391.6 205.6,391.4 203.9,389.9 202.6,389.6 201.9,390.4 201.1,390.1 200.1,389.1 199.4,388.9 198.6,388.1 198.1,386.9 196.1,385.1 195.4,383.9 196.1,381.1 195.6,380.6 194.4,380.9 193.9,379.9 194.1,379.6 194.1,378.4 192.1,376.4 191.4,375.1Z" fill="#684aa0"/>
<path d="M135.1,369.4 135.6,371.6 134.9,374.1 136.1,374.6 137.1,375.6 136.6,376.4 135.1,376.6 134.9,377.1 135.4,378.4 135.1,379.1 133.9,380.1 133.9,381.1 134.6,382.1 134.6,382.6 134.4,382.9 132.6,382.6 131.9,383.1 131.9,383.6 132.4,384.1 133.4,384.1 134.6,382.9 135.1,382.9 137.4,384.6 138.4,384.6 138.9,383.9 141.6,383.1 146.1,388.4 146.4,389.4 146.4,391.4 145.9,391.9 146.1,392.4 147.1,391.4 148.1,391.1 150.4,392.1 151.4,393.6 153.1,392.6 154.1,394.9 156.9,395.4 159.4,396.6 160.6,396.6 161.4,395.4 162.4,394.6 163.4,394.4 165.6,396.6 167.9,394.6 167.1,393.6 167.6,392.9 168.6,393.6 168.9,394.4 171.4,393.9 171.6,393.4 172.1,393.4 173.4,391.4 173.4,388.9 174.6,387.4 176.9,386.4 176.6,385.6 177.6,384.6 177.4,383.9 177.9,382.6 177.6,381.9 177.1,381.4 175.9,381.4 174.1,379.9 173.1,379.9 172.4,379.4 172.1,378.9 172.6,378.1 172.6,376.6 172.1,376.1 172.4,375.9 171.6,375.1 171.4,373.1 169.4,371.4 167.4,370.4 167.1,369.1 168.4,368.1 168.4,367.4 167.1,366.6 166.4,366.6 165.4,365.6 165.6,364.6 165.4,363.6 165.1,363.9 164.9,363.6 163.9,363.9 163.9,364.4 163.1,365.4 162.4,365.4 161.1,364.4 160.1,362.9 158.9,362.9 157.6,364.1 155.9,364.6 154.9,364.6 154.1,363.6 153.1,363.6 151.6,365.1 150.6,365.1 150.4,365.6 149.9,365.6 149.1,366.4 148.6,366.4 147.1,367.4 144.4,365.9 143.9,366.1 143.4,366.9 143.9,368.1 143.4,368.6 142.4,368.1 141.6,367.1 140.6,367.1 139.9,368.1 139.6,369.6 138.9,370.4 137.4,370.1 136.1,369.1Z" fill="#e6c8e3"/>
<path d="M112.1,298.1 111.1,299.4 109.9,299.9 109.4,302.1 110.1,303.1 109.1,303.6 108.6,306.9 108.1,307.4 108.6,309.1 108.1,310.9 107.4,311.4 107.6,312.6 107.4,312.9 107.4,316.9 107.1,317.1 107.1,318.6 106.6,319.1 106.9,320.6 107.4,321.4 106.4,323.9 106.4,325.1 105.6,326.1 105.6,327.4 105.9,327.6 105.6,329.6 104.4,331.1 104.9,331.9 104.6,333.9 105.4,335.4 104.9,338.4 105.6,339.9 105.6,340.9 104.9,342.4 106.4,343.1 107.4,342.9 108.1,342.4 109.4,340.6 109.9,340.6 111.4,342.1 111.1,344.1 111.6,344.9 113.4,344.6 115.1,345.9 117.9,344.9 119.1,345.9 119.9,345.9 120.6,345.1 120.9,345.4 122.1,345.4 123.9,346.6 124.4,347.9 126.1,348.1 128.1,351.4 128.6,351.6 129.4,351.4 130.6,352.1 130.4,352.6 130.6,354.6 131.9,356.9 133.1,356.9 133.9,356.4 134.6,356.4 136.4,357.4 137.4,356.9 138.1,356.9 139.4,354.6 139.4,353.1 139.9,351.9 140.9,351.6 141.6,350.9 141.6,349.9 142.4,348.4 142.4,346.6 143.4,345.9 144.9,345.6 144.9,345.1 144.1,344.4 142.6,344.1 141.9,343.4 143.1,342.4 146.6,341.1 146.6,340.6 146.1,340.1 146.6,338.9 147.6,338.1 148.9,338.6 149.4,337.9 149.1,337.6 149.4,336.6 151.1,334.9 151.9,334.6 152.1,333.4 153.1,332.4 153.1,331.9 151.4,331.6 150.4,330.6 149.6,330.4 147.6,330.4 146.6,330.9 145.6,330.9 144.6,330.1 143.6,328.6 143.6,327.1 144.6,326.1 144.9,325.4 144.1,324.1 144.1,323.4 146.1,321.6 145.9,318.6 145.4,318.1 144.4,318.1 143.9,317.6 143.9,317.1 144.6,316.1 145.1,314.6 145.6,314.1 146.6,313.9 146.6,313.1 146.4,313.4 145.6,313.1 142.6,316.1 140.9,316.4 139.1,318.1 138.1,317.4 137.9,316.6 135.1,314.1 133.6,313.9 132.6,312.9 132.4,312.1 132.9,311.1 132.4,310.1 129.6,309.4 128.4,308.4 125.9,307.9 125.1,308.4 124.9,309.9 124.4,310.4 122.6,310.6 122.4,309.6 122.9,308.4 121.9,307.4 121.4,306.1 120.6,305.6 120.4,306.4 119.4,306.6 117.4,305.4 117.4,303.4 117.6,303.1 117.4,302.4 114.1,301.9 113.6,301.4 113.1,299.6Z" fill="#684aa0"/>
<path d="M271.9,382.9 270.6,381.6 270.1,380.1 269.1,379.6 267.9,378.4 267.9,376.9 265.6,374.4 263.4,374.1 262.6,373.4 262.9,372.1 262.1,371.4 261.1,370.9 258.9,370.9 256.6,371.6 256.4,371.4 255.4,371.6 253.6,373.4 252.6,372.1 251.4,371.4 249.4,369.4 249.6,367.1 249.1,365.6 247.9,366.9 247.4,367.9 245.6,369.1 244.9,370.4 244.1,370.4 242.9,371.1 241.1,371.1 240.1,372.4 238.9,372.9 238.4,373.4 238.4,374.1 237.6,375.6 235.9,377.6 235.1,377.9 234.9,377.6 233.6,377.6 232.9,379.1 227.9,378.9 229.4,380.4 229.4,381.1 228.4,382.9 228.6,384.1 228.4,384.9 227.4,385.9 225.9,386.1 225.9,387.6 223.1,389.9 222.9,390.4 224.4,392.6 223.9,393.4 222.9,393.9 222.1,395.6 222.1,396.9 222.6,397.9 223.6,398.1 224.6,397.9 225.1,397.4 225.9,397.4 227.1,398.1 227.9,398.1 228.9,397.6 232.1,397.6 233.1,398.1 234.9,397.6 236.4,397.6 237.6,398.4 241.1,399.4 241.4,399.6 240.6,400.4 241.1,401.6 243.6,402.4 251.6,398.1 254.4,397.4 256.4,395.4 256.6,395.6 257.4,395.4 258.6,394.4 259.6,394.1 260.4,392.4 261.9,391.1 262.6,391.6 264.1,391.1 265.1,389.6 267.9,387.6 270.1,388.1 270.6,387.4 270.9,384.9 271.4,384.4Z" fill="#8f6eb2"/>
<path d="M110.6,164.6 108.6,164.6 108.1,165.4 107.4,165.4 106.6,164.6 106.1,164.6 104.6,163.6 103.6,163.6 101.6,164.4 100.4,163.4 99.1,164.6 97.4,164.9 96.6,163.9 95.6,161.1 94.4,160.9 93.6,161.4 93.1,164.1 94.4,165.4 93.6,166.6 94.1,166.9 94.6,168.1 94.4,168.9 94.6,169.4 92.4,171.6 91.9,173.6 91.9,176.1 92.1,176.6 89.4,179.4 88.1,179.6 87.1,180.6 85.4,183.4 86.1,189.1 85.1,189.6 84.6,190.4 85.1,190.9 86.4,190.9 87.9,194.4 87.9,194.9 87.1,195.9 87.1,196.9 87.9,197.4 88.6,199.1 88.6,199.9 86.4,202.1 87.6,203.4 88.1,205.1 89.6,205.4 90.4,204.4 90.9,204.4 92.4,205.4 93.9,205.4 94.9,203.6 96.4,202.6 97.4,202.4 100.9,202.6 101.4,202.4 102.1,201.4 101.9,201.1 102.1,199.9 102.6,200.1 103.6,201.6 104.9,201.4 105.4,200.1 105.1,199.9 105.9,199.1 107.1,199.9 108.1,199.9 109.1,200.4 110.4,200.4 110.6,200.6 111.6,200.4 112.4,197.4 113.1,196.6 114.6,196.1 115.4,195.4 115.6,193.9 116.4,192.9 116.4,191.1 116.6,190.9 115.9,188.9 116.6,186.6 115.6,184.4 115.6,183.4 116.6,182.1 116.6,181.1 117.6,179.6 116.6,177.9 116.9,176.4 117.9,174.4 117.6,172.1 116.6,171.4 114.1,171.4 113.1,170.9 111.9,169.6 110.9,169.4 108.9,167.6 108.4,166.6 108.6,165.9 109.1,165.4 110.9,165.4Z" fill="#684aa0"/>
<path d="M203.4,227.1 202.6,227.6 200.6,230.1 198.4,230.4 197.4,229.9 196.1,228.1 195.1,227.4 194.6,228.9 194.6,230.1 193.9,230.9 191.4,230.4 190.6,230.6 190.4,230.4 189.1,232.4 187.1,232.1 185.9,233.4 184.4,234.1 184.1,234.6 183.9,234.4 183.6,234.6 182.4,234.6 179.1,236.1 178.9,237.4 180.6,239.1 180.1,239.6 179.4,239.6 178.4,240.1 176.9,241.6 175.4,246.1 174.1,247.1 172.4,247.4 171.6,248.4 171.9,249.6 173.4,251.1 173.1,252.6 173.6,254.1 175.1,254.6 176.6,256.4 177.4,256.4 178.4,257.4 179.4,261.4 181.1,262.9 181.4,263.4 181.1,263.9 183.1,264.6 184.1,264.6 184.4,265.4 185.9,266.6 186.1,266.6 186.1,265.4 187.4,263.6 188.1,263.6 189.4,264.4 190.9,264.6 191.9,263.9 192.4,263.9 192.6,263.1 193.9,261.9 195.9,262.6 199.4,262.6 199.6,262.9 200.9,262.6 201.6,261.4 202.1,261.9 202.1,263.1 202.9,263.4 206.1,263.1 206.9,263.6 207.6,263.6 207.9,263.1 210.4,262.1 210.4,260.4 210.9,259.4 210.1,257.6 210.1,256.4 209.6,254.9 209.6,253.6 209.9,253.4 209.6,250.9 209.4,250.6 209.6,246.9 209.4,246.6 209.4,245.1 208.6,244.1 208.9,242.1 208.4,240.9 208.4,239.1 207.9,238.4 208.6,236.9 208.4,235.9 208.9,235.1 208.9,234.6 208.1,233.6 208.4,231.9 206.1,230.4 205.6,228.4 203.9,228.4Z" fill="#8f6eb2"/>
<path d="M165.4,207.1 164.1,207.9 162.9,207.9 162.9,208.4 161.1,210.9 158.4,211.9 156.6,211.9 154.6,213.6 153.9,215.1 154.1,215.4 154.1,216.6 151.9,218.9 152.4,219.6 152.1,219.9 152.6,220.4 152.6,221.9 150.9,224.1 150.6,225.4 148.9,226.4 148.9,227.1 149.6,227.9 150.4,227.9 151.4,228.9 151.4,230.9 151.9,231.9 152.6,232.4 153.9,232.6 154.9,234.1 154.9,235.6 155.1,235.9 154.9,236.4 155.1,236.9 154.9,237.1 155.1,237.4 154.9,238.6 156.1,240.1 156.9,240.1 157.9,239.6 161.1,239.6 162.9,238.1 165.1,237.9 165.9,238.4 165.9,239.1 166.4,240.1 168.6,241.1 170.4,243.4 170.4,244.4 169.9,244.9 170.1,245.6 170.9,246.1 171.6,246.1 172.4,247.1 174.1,246.9 175.1,246.1 175.6,245.1 176.6,241.6 178.4,239.9 180.4,239.1 178.6,237.4 178.6,236.4 179.9,235.4 180.6,235.4 181.6,234.6 183.9,234.1 184.1,234.4 184.4,233.9 185.9,233.1 186.9,231.9 185.6,228.4 183.6,227.1 181.9,224.6 181.6,224.9 180.4,223.9 181.1,222.6 181.1,220.9 180.4,219.9 179.9,218.1 178.1,216.1 178.1,215.6 179.1,215.1 179.4,214.1 179.1,213.6 176.4,211.9 174.6,209.9 172.9,210.6 171.9,209.6 171.6,208.9 170.9,208.6 168.1,208.9Z" fill="#684aa0"/>
<path d="M291.6,294.6 292.9,296.9 292.1,298.1 291.1,298.4 290.4,299.1 290.1,300.1 290.4,300.9 290.9,300.9 291.6,301.6 291.6,302.6 290.9,303.4 289.6,303.4 289.1,303.9 288.1,304.1 288.6,304.4 289.1,305.9 288.1,307.9 288.1,309.1 287.4,310.6 290.4,310.9 292.1,310.1 293.1,309.1 295.1,311.1 295.6,310.9 295.9,311.1 297.4,310.1 297.6,310.4 298.6,310.1 299.9,311.4 301.4,311.6 301.9,312.1 301.9,312.6 300.9,314.1 300.6,317.1 301.9,318.1 304.4,318.1 305.1,318.9 305.1,319.4 307.1,320.6 307.6,321.4 308.4,321.4 308.9,320.9 308.9,320.4 309.4,319.9 309.9,319.9 311.6,321.9 311.6,322.9 310.4,323.6 310.1,324.6 311.1,327.1 311.1,328.4 312.4,329.9 312.4,331.1 313.4,331.9 314.6,331.4 316.9,331.6 317.4,332.6 319.1,334.1 319.1,335.1 319.9,335.6 320.4,335.1 320.1,333.6 320.6,333.1 321.9,332.9 323.9,333.1 324.6,332.6 325.6,332.6 327.4,333.4 328.9,332.1 330.4,332.9 331.9,332.1 333.4,332.1 334.4,332.9 335.1,332.9 335.1,331.4 333.6,329.9 333.4,328.9 334.6,327.6 335.9,327.4 336.1,326.1 335.9,325.4 336.1,325.1 335.1,323.9 335.4,322.6 335.1,321.1 333.9,319.1 332.6,318.6 333.4,317.4 334.9,317.6 333.6,316.4 331.1,316.4 330.4,315.4 330.4,314.9 331.4,313.9 331.1,313.6 331.6,312.4 331.6,310.9 331.1,309.9 330.4,309.4 329.6,305.6 329.6,303.9 329.4,303.6 327.6,303.6 326.6,304.4 326.1,304.4 325.1,303.1 322.6,301.6 321.6,300.6 321.4,298.9 320.9,298.4 320.1,298.6 319.9,298.4 319.1,298.9 318.6,298.4 317.1,297.9 316.6,297.4 316.6,296.1 316.9,295.9 316.6,295.4 317.6,294.1 317.6,293.6 315.4,294.1 313.1,293.1 311.1,291.1 310.6,288.9 309.6,288.4 308.4,287.1 307.1,287.1 305.4,287.9 303.6,290.4 302.1,290.1 300.9,290.6 300.1,291.4 298.4,291.9 298.1,293.1 297.4,294.1 296.6,294.1 294.4,293.1Z" fill="#8f6eb2"/>
<path d="M310.4,226.1 309.6,227.1 308.4,227.4 308.4,228.6 307.9,229.1 307.6,231.9 307.1,233.1 306.1,234.4 304.4,235.4 304.9,237.4 303.9,238.1 303.1,238.1 301.6,238.9 302.4,242.4 304.6,242.9 305.1,243.6 305.4,245.4 304.1,248.1 305.4,250.1 305.6,252.4 306.4,253.9 306.4,254.6 305.4,255.9 305.4,256.6 306.4,258.1 306.9,262.6 307.4,263.4 307.4,264.9 307.1,265.1 307.4,266.6 311.4,267.9 313.9,267.6 315.1,268.9 315.9,268.9 318.1,267.1 318.6,267.1 319.4,267.9 321.1,267.9 323.6,267.1 324.4,267.6 324.6,269.1 325.4,270.6 325.4,270.1 327.6,268.4 328.4,267.1 328.1,266.6 328.4,266.4 328.6,266.6 329.1,265.9 329.4,266.1 330.4,265.1 329.9,264.1 329.9,261.6 329.4,261.1 329.1,259.9 327.4,256.6 327.4,255.6 329.1,254.1 329.9,253.9 331.4,252.4 332.1,251.1 330.4,250.4 329.4,249.4 329.1,247.6 327.4,245.9 327.4,245.4 326.6,244.6 325.4,243.9 324.1,243.6 324.9,242.9 324.6,241.6 324.9,241.4 324.4,239.9 322.4,239.1 321.4,237.9 319.6,237.6 316.9,235.6 316.4,234.6 316.9,233.1 315.9,230.1 315.9,228.6 316.1,228.4 315.9,228.1 315.6,225.6 315.4,225.4 314.4,226.1 313.4,226.1 312.6,226.6Z" fill="#8f6eb2"/>
<path d="M104.6,342.4 104.6,343.1 104.1,343.6 103.9,344.9 104.1,347.9 103.4,349.6 103.4,350.9 103.9,351.4 103.9,352.1 102.6,353.9 101.9,354.1 101.9,354.6 101.1,355.1 100.9,357.4 100.4,358.6 100.1,361.9 99.4,362.4 99.6,364.1 99.1,366.6 98.6,367.1 98.9,369.9 97.9,371.1 98.4,373.4 97.9,374.6 96.4,376.1 95.9,377.1 96.1,377.6 95.9,378.1 96.4,378.6 96.6,379.6 94.4,382.6 93.9,383.9 94.9,383.9 95.9,385.1 96.4,385.1 97.9,384.4 99.1,383.1 100.1,383.6 100.9,383.6 102.4,382.4 102.9,382.4 103.6,383.4 103.6,384.4 102.9,385.9 103.1,386.1 104.4,386.1 105.9,385.1 106.1,384.6 105.9,383.1 106.6,382.4 107.9,382.4 109.4,384.4 110.9,384.4 111.1,384.1 112.6,384.4 114.9,383.6 117.1,383.6 117.9,383.9 119.9,385.6 120.6,385.4 123.1,383.4 124.1,383.4 125.4,384.9 126.1,385.1 127.1,384.1 129.6,383.1 131.6,383.1 132.6,382.4 134.4,382.6 134.4,382.1 133.6,381.1 133.6,380.1 134.9,379.1 135.1,377.9 134.6,377.1 135.1,376.4 136.1,376.4 136.9,375.6 136.1,374.9 134.6,374.1 135.4,371.6 134.9,369.4 135.4,368.9 136.1,368.9 137.4,369.9 138.9,370.1 139.4,369.6 139.9,367.6 140.6,366.9 141.6,366.9 142.4,367.9 143.4,368.4 143.6,367.9 143.1,367.4 143.1,366.9 144.9,365.1 145.4,363.9 145.4,362.1 145.6,361.9 145.4,361.1 143.6,361.1 142.1,362.1 141.4,361.9 140.6,361.1 140.4,359.4 139.1,359.4 138.1,358.6 138.1,357.1 137.4,357.1 136.4,357.6 134.6,356.6 133.9,356.6 133.1,357.1 131.9,357.1 130.9,355.9 130.1,353.6 130.4,352.1 129.4,351.6 129.1,351.9 128.1,351.6 127.4,350.9 127.4,350.4 126.1,348.4 124.4,348.1 123.9,347.6 123.6,346.6 122.1,345.6 120.9,345.6 120.6,345.4 119.9,346.1 119.1,346.1 117.9,345.1 115.1,346.1 113.4,344.9 111.6,345.1 110.9,344.1 111.1,342.1 109.9,340.9 109.4,340.9 108.4,342.4 107.4,343.1 106.4,343.4Z" fill="#e6c8e3"/>
<path d="M171.6,192.9 171.4,193.4 171.6,194.4 171.1,194.9 170.6,196.4 171.9,198.1 171.9,198.9 169.9,200.4 169.6,202.1 168.6,203.1 168.1,203.1 167.1,204.1 165.9,204.4 165.4,204.9 165.1,206.1 165.9,207.1 168.1,208.6 170.1,208.6 170.4,208.4 171.6,208.6 172.9,210.4 174.6,209.6 176.4,211.6 177.9,212.4 179.4,213.6 179.6,214.1 179.4,215.1 178.4,215.6 178.4,216.1 180.1,218.1 180.6,219.9 181.4,220.9 181.4,222.6 180.6,223.9 181.6,224.6 181.9,224.4 183.1,226.4 185.9,228.4 187.1,231.9 189.1,232.1 189.1,231.6 190.4,230.1 190.6,230.4 191.4,230.1 193.9,230.6 194.4,230.1 194.4,228.9 195.1,227.1 196.4,228.1 197.4,229.6 198.4,230.1 200.6,229.9 203.1,226.9 203.9,226.4 205.4,226.1 206.6,224.6 207.6,224.6 208.4,225.1 208.9,224.6 208.6,222.6 209.4,221.9 210.4,221.9 211.4,221.4 212.4,220.4 213.1,218.6 212.6,216.9 212.9,215.1 211.9,212.9 211.9,212.1 212.4,211.6 211.4,210.6 210.1,210.1 208.9,210.1 208.1,210.9 207.4,210.9 206.4,209.9 205.4,210.1 204.1,209.6 203.1,209.6 201.1,208.6 200.6,208.9 199.6,208.1 199.6,207.6 199.1,207.1 197.6,206.4 197.1,206.4 196.1,207.1 195.1,206.9 194.4,206.1 194.1,205.4 192.1,203.6 191.9,202.1 192.6,201.4 193.9,201.4 194.6,200.1 194.1,198.9 193.1,197.9 194.1,196.9 193.4,195.1 192.9,195.1 192.1,196.1 190.9,195.4 189.4,195.4 189.1,195.6 186.1,195.4 185.4,194.9 185.1,193.9 183.1,193.6 182.6,192.4 182.1,192.1 181.1,192.1 177.4,193.6 176.1,193.6 175.1,192.6 175.1,191.9 174.6,191.1 174.1,191.1 172.6,192.9Z" fill="#8f6eb2"/>
<path d="M261.4,271.9 260.6,273.9 258.4,275.6 258.4,278.1 258.1,278.4 258.9,279.4 259.1,280.4 258.6,281.1 257.6,281.6 256.1,283.1 256.1,285.1 256.6,285.6 257.6,285.9 257.9,286.6 257.6,287.9 258.4,289.4 258.1,290.6 257.4,291.6 257.9,292.1 258.4,292.1 259.1,293.1 258.9,293.4 259.1,293.6 258.6,294.1 258.6,297.1 258.9,297.6 260.1,298.6 260.6,299.6 261.6,299.1 262.4,299.1 263.1,299.9 263.4,301.9 264.4,303.6 264.4,304.6 263.6,305.1 264.6,306.4 267.6,306.9 268.1,306.4 269.1,306.1 271.4,308.6 272.4,308.9 273.6,308.6 274.6,309.4 275.4,309.4 277.4,308.1 278.4,308.1 278.9,308.6 278.9,309.4 277.9,311.4 278.9,312.4 279.9,312.6 280.4,313.1 281.9,312.4 283.1,312.4 283.6,313.1 284.1,313.1 286.1,311.1 287.4,310.4 287.9,309.1 287.9,307.9 288.9,305.4 288.4,304.4 286.6,303.4 286.6,301.6 286.1,300.9 284.6,300.4 282.6,299.1 281.9,299.4 279.6,299.1 277.4,297.4 276.6,296.1 276.6,295.4 275.6,294.6 275.4,293.1 276.1,292.1 274.4,290.4 274.4,288.9 275.1,287.6 275.1,286.9 274.6,286.1 274.6,281.9 273.1,279.9 273.4,278.9 274.6,277.6 274.6,276.1 274.1,274.6 272.6,274.1 271.4,273.1 268.9,274.6 267.4,274.4 265.9,273.1 264.1,272.6 262.6,271.6Z" fill="#494ea3"/>
<path d="M278.6,308.6 277.4,308.4 275.4,309.6 274.6,309.6 273.6,308.9 273.4,309.1 271.4,308.9 269.1,306.4 268.6,306.4 267.6,307.1 265.1,306.9 263.6,305.4 262.9,305.4 262.4,305.9 262.6,306.9 262.4,308.1 261.4,309.1 260.4,309.1 257.4,307.9 254.4,308.6 253.4,309.6 252.4,309.6 252.1,309.4 252.4,308.9 251.6,307.9 251.1,307.9 250.4,307.1 249.4,306.9 247.1,308.4 245.4,309.1 244.6,309.1 243.9,308.6 242.9,308.9 240.6,311.1 239.1,311.4 240.9,313.4 241.1,315.4 241.9,315.6 242.9,317.1 242.6,318.4 242.9,320.1 244.9,321.4 244.6,323.9 243.6,324.9 244.1,325.6 245.4,325.6 245.6,325.4 245.9,326.1 246.9,326.9 246.9,328.1 247.6,329.9 247.6,330.9 247.1,331.4 247.6,332.4 249.1,332.6 250.6,331.6 252.6,331.6 253.6,331.1 254.6,331.1 257.4,332.9 258.9,333.1 259.9,332.6 260.6,332.6 261.9,333.6 264.1,332.4 265.4,332.4 265.9,331.9 267.4,331.4 268.4,330.4 269.1,330.4 270.1,330.9 273.1,330.6 273.9,329.6 273.4,328.6 273.4,326.6 274.1,324.1 275.1,323.9 275.6,324.4 276.1,324.4 276.4,324.1 276.1,323.1 276.9,322.4 277.9,322.9 278.6,322.9 278.9,321.6 279.4,320.9 279.6,318.9 281.1,316.9 281.1,316.4 280.1,315.1 280.4,313.4 279.9,312.9 278.9,312.6 277.6,311.4 278.4,310.1Z" fill="#8f6eb2"/>
<path d="M111.1,200.6 110.6,200.9 110.4,200.6 109.1,200.6 108.1,200.1 107.1,200.1 105.9,199.4 105.4,199.9 105.6,200.1 105.1,201.4 104.4,201.9 103.6,201.9 102.1,200.1 102.4,201.4 100.9,202.9 99.4,202.9 99.1,202.6 96.4,202.9 95.1,203.6 94.6,204.9 93.9,205.6 92.4,205.6 90.9,204.6 90.4,204.6 89.6,205.6 88.9,205.6 87.9,205.1 86.9,205.9 85.4,206.1 84.1,207.4 82.6,207.9 82.1,208.4 81.9,209.6 80.9,210.6 79.4,210.1 77.1,211.4 76.9,211.9 78.4,213.1 78.4,213.9 77.1,214.6 76.4,214.1 76.4,213.6 74.6,215.4 74.9,215.6 74.4,216.1 74.6,217.1 74.1,217.6 74.4,218.1 74.1,218.6 74.9,219.6 74.6,219.9 75.4,221.1 77.9,222.6 79.9,223.1 80.6,223.9 81.9,224.4 82.4,224.1 83.1,224.9 82.6,225.4 82.4,230.4 82.9,230.9 83.9,230.9 84.9,230.4 85.6,230.6 85.9,231.9 86.9,233.4 86.4,234.9 87.4,235.1 89.1,233.6 89.9,234.1 90.9,234.1 91.4,232.6 91.9,232.1 92.6,232.1 94.6,234.6 94.6,235.6 96.6,237.1 96.9,236.9 98.1,236.9 98.6,237.4 98.9,238.4 100.1,238.6 101.1,239.4 101.4,238.9 104.6,237.6 105.1,236.4 105.9,235.6 106.6,235.4 108.1,233.4 109.6,232.9 111.9,231.4 112.6,231.1 112.9,231.4 112.4,229.1 111.4,228.4 111.6,228.1 110.9,227.1 110.4,224.6 108.9,222.6 108.9,222.1 109.9,221.1 111.9,220.9 112.9,220.4 113.9,218.6 116.4,218.6 116.6,218.9 117.4,218.6 118.1,219.4 119.1,219.1 119.4,217.6 119.9,217.4 119.6,216.9 119.9,215.9 119.4,214.6 118.1,213.9 116.4,211.9 116.6,211.1 117.6,210.6 117.4,209.6 115.1,208.6 114.6,207.6 114.6,206.9 113.4,205.9 113.6,205.4 113.4,205.1 113.9,204.6 114.1,203.6 113.4,203.4 113.1,203.6 112.1,203.1 111.1,202.1Z" fill="#684aa0"/>
<path d="M205.9,180.9 205.4,181.6 204.9,184.1 204.1,185.4 204.1,186.6 204.6,187.4 204.6,188.4 203.4,188.9 202.4,190.1 201.9,190.1 200.4,191.4 198.1,191.4 195.6,192.4 193.4,194.6 194.4,196.6 194.1,197.4 193.4,197.6 193.4,197.9 193.9,198.1 194.9,200.1 194.6,200.9 193.9,201.6 192.6,201.6 192.1,202.1 192.4,203.6 194.4,205.4 195.1,206.6 196.1,206.9 196.6,206.4 197.6,206.1 199.1,206.9 199.9,207.6 199.9,208.1 200.6,208.6 201.1,208.4 203.1,209.4 204.1,209.4 205.4,209.9 206.4,209.6 207.4,210.6 208.1,210.6 208.9,209.9 210.1,209.9 211.4,210.4 212.4,211.4 213.1,211.4 214.1,210.6 215.4,210.6 217.1,211.6 218.4,211.6 219.9,212.1 220.4,211.9 221.6,213.1 223.9,214.6 226.6,215.1 228.9,216.4 230.1,216.1 231.9,214.6 231.6,213.9 231.9,210.9 231.1,210.1 231.1,208.9 231.9,207.9 232.4,207.9 232.9,207.4 233.4,204.6 234.6,203.6 236.1,203.4 236.1,201.9 236.6,201.1 236.4,200.9 236.4,198.9 237.1,197.4 237.9,194.6 237.9,193.4 236.1,191.6 236.6,190.4 235.4,188.1 235.6,186.1 235.4,185.9 234.6,187.1 232.9,188.9 230.4,189.1 229.4,190.9 228.4,190.9 227.1,189.9 225.4,189.9 224.6,189.4 222.4,189.6 220.1,187.6 219.9,186.9 219.1,186.1 219.1,185.6 218.6,185.4 218.9,184.1 217.4,182.6 217.4,181.9 216.4,180.6 215.6,180.6 215.4,181.6 214.6,181.6 214.1,181.1 213.1,181.1 210.1,182.1 209.6,181.9 209.1,180.9 208.9,181.1Z" fill="#684aa0"/>
<path d="M207.9,324.1 206.9,324.1 204.6,325.6 202.6,326.1 202.4,326.9 201.4,327.6 199.9,327.6 198.9,326.6 197.6,326.4 194.6,323.1 193.4,323.1 192.4,322.1 191.6,322.1 190.1,323.4 189.4,323.1 189.1,323.4 187.4,323.4 187.1,323.1 186.1,323.6 186.1,324.9 186.9,326.6 186.9,329.1 185.6,329.4 184.9,331.6 183.4,332.9 183.6,334.1 183.4,335.4 182.4,336.4 180.9,336.6 178.9,338.9 178.4,340.1 175.6,341.9 175.9,343.9 174.9,344.9 173.9,344.9 173.4,345.4 173.4,347.1 173.9,347.6 173.9,348.4 173.4,349.1 173.4,351.1 172.9,352.6 173.1,352.9 174.9,352.9 175.9,352.1 177.4,352.1 180.6,354.6 180.6,355.1 181.9,357.4 182.9,357.6 183.4,358.4 184.6,358.6 186.1,357.6 187.6,358.1 190.1,355.9 192.6,355.4 193.1,354.9 193.9,354.9 194.9,354.1 196.4,353.6 197.4,353.6 197.9,354.1 199.1,354.4 199.9,354.1 201.6,354.4 201.6,353.6 199.6,351.4 199.6,350.1 199.4,349.9 199.6,348.6 199.4,348.1 201.1,346.6 204.1,342.4 205.4,342.4 205.9,343.1 207.1,342.1 207.4,341.4 208.4,340.6 208.6,339.9 210.4,339.6 211.1,340.6 211.9,340.1 211.6,339.1 209.1,336.6 209.6,334.4 209.4,333.1 208.9,332.6 208.6,330.1 208.1,329.4Z" fill="#e6c8e3"/>
<path d="M175.4,342.1 173.6,341.4 172.9,342.4 171.9,342.4 171.4,341.9 169.6,341.6 168.4,340.4 167.6,338.4 166.4,338.4 165.1,339.1 164.4,339.1 163.9,338.6 161.9,338.4 159.9,337.1 158.9,337.4 158.4,338.1 158.4,339.4 157.9,339.9 157.1,339.9 156.4,339.1 155.9,337.6 153.1,335.4 152.9,334.9 153.6,333.6 153.4,332.4 152.4,333.4 152.1,334.6 151.1,335.1 149.6,336.6 149.4,338.4 148.9,338.9 148.1,338.4 146.9,338.9 146.4,340.1 146.9,340.6 146.6,341.4 143.1,342.6 142.1,343.4 142.6,343.9 144.1,344.1 145.1,345.1 145.1,345.6 142.6,346.6 142.6,348.4 141.9,349.9 141.9,350.9 140.9,351.9 140.1,351.9 139.9,352.4 139.6,354.6 138.4,356.9 138.4,358.6 139.1,359.1 140.4,359.1 140.9,361.1 142.1,361.9 143.6,360.9 145.4,360.9 145.9,361.6 145.6,363.9 144.6,365.9 146.9,367.1 148.6,366.1 149.1,366.1 149.9,365.4 150.4,365.4 150.6,364.9 151.6,364.9 153.1,363.4 154.1,363.4 154.9,364.4 155.9,364.4 157.6,363.9 158.9,362.6 160.1,362.6 160.9,363.9 162.4,365.1 163.1,365.1 163.6,363.9 164.4,363.4 165.1,363.6 165.4,363.4 165.9,364.4 167.4,362.9 167.9,360.4 167.6,360.1 169.1,359.1 169.9,358.1 169.6,356.6 170.9,355.1 170.6,353.9 169.9,353.1 170.6,352.6 171.6,352.9 172.6,352.6 173.1,351.1 173.1,349.1 173.6,348.4 173.6,347.6 173.1,347.1 173.1,345.4 173.9,344.6 174.9,344.6 175.6,343.9Z" fill="#8f6eb2"/>
<path d="M236.1,332.4 235.6,333.1 234.9,336.1 236.9,336.6 237.4,337.1 237.4,337.6 236.6,338.1 237.1,339.9 238.1,341.1 237.9,343.4 239.1,344.9 239.1,346.4 238.9,346.6 239.1,347.1 238.9,347.6 239.4,349.9 238.9,350.6 238.9,351.4 239.1,351.6 240.4,351.6 241.6,352.9 241.9,353.6 240.4,354.9 240.4,355.9 241.6,356.9 243.4,357.1 244.1,357.9 244.4,359.1 245.1,359.9 245.4,359.6 246.4,360.1 248.1,360.1 249.1,360.6 250.9,360.6 251.1,360.4 253.4,360.6 253.6,360.4 255.4,361.1 256.9,361.1 257.1,361.4 257.9,361.4 259.1,360.1 260.6,360.1 261.6,360.6 263.4,360.4 263.9,359.6 263.9,358.9 264.9,357.6 264.9,356.4 263.9,354.9 263.9,353.6 265.1,351.4 265.1,350.4 265.9,348.4 264.9,345.1 264.9,344.1 265.9,342.6 265.4,342.1 264.4,342.1 263.4,341.4 262.4,338.6 262.9,336.9 262.6,336.6 261.4,337.1 261.1,336.9 261.4,335.1 261.9,334.1 261.6,333.6 260.6,332.9 259.9,332.9 258.9,333.4 257.4,333.1 254.6,331.4 253.6,331.4 252.6,331.9 250.6,331.9 249.1,332.9 248.1,332.9 247.4,332.4 246.9,331.4 247.4,330.9 247.4,329.9 246.6,328.1 246.6,326.9 245.9,326.4 245.4,326.6 245.4,327.6 244.6,328.4 242.4,329.6 242.1,329.4 240.9,329.6 240.1,331.9 239.4,332.6Z" fill="#e6c8e3"/>
<path d="M111.4,200.6 111.4,202.1 112.1,202.9 114.4,203.6 114.4,204.1 113.6,205.1 113.9,205.4 113.6,205.9 114.9,206.9 115.1,208.4 117.6,209.6 117.9,210.6 116.9,211.1 116.6,211.9 118.1,213.6 119.6,214.6 120.1,215.9 119.9,216.1 120.1,217.4 119.6,217.6 119.6,218.4 119.1,219.4 118.1,219.6 117.4,218.9 116.6,219.1 116.4,218.9 113.9,218.9 112.9,220.6 111.9,221.1 109.9,221.4 109.1,222.1 109.1,222.6 110.6,224.6 111.1,227.1 111.9,228.1 111.6,228.4 112.6,229.1 113.1,231.1 114.6,232.9 117.6,233.4 118.4,234.1 118.4,234.9 119.4,236.1 120.1,236.1 121.1,234.4 121.6,234.4 122.6,235.6 123.4,235.9 126.4,235.6 128.1,233.6 130.6,232.6 131.9,232.6 133.9,234.1 134.6,234.1 135.9,233.4 136.9,233.4 137.4,233.9 138.1,233.9 139.1,232.9 142.1,232.9 142.4,234.1 143.1,234.4 143.1,233.6 142.6,233.1 142.9,232.9 142.6,232.6 145.1,231.1 145.6,231.1 146.4,232.4 147.6,232.1 148.1,232.4 148.9,231.9 148.9,229.9 149.4,228.9 149.4,227.9 148.6,227.1 148.6,226.4 150.4,225.4 150.6,224.1 152.1,222.4 152.4,220.4 151.9,219.9 152.1,219.6 151.6,218.9 153.9,216.6 153.9,215.4 153.6,215.1 154.4,213.9 154.4,213.1 153.6,211.6 152.9,210.9 153.1,209.9 152.4,210.4 151.6,210.4 150.4,209.4 149.4,209.1 149.6,209.6 149.4,210.6 148.4,210.9 147.9,210.4 148.1,209.4 147.9,208.4 147.1,207.6 145.4,207.6 144.6,208.1 143.9,208.1 142.9,207.6 142.4,208.1 141.1,206.9 140.1,206.9 139.1,206.4 138.1,206.4 137.6,206.9 137.4,206.6 137.6,205.9 137.4,204.9 136.6,204.1 134.6,203.4 133.4,204.1 132.4,204.1 131.9,203.6 130.6,203.4 129.6,204.4 127.4,204.4 125.9,202.9 123.6,202.1 119.9,202.4 118.1,203.1 116.9,202.9 116.6,201.9 115.9,202.9 114.6,202.9 114.1,202.4 112.4,202.6 111.9,202.1 112.1,200.9Z" fill="#8f6eb2"/>
<path d="M97.1,116.9 96.6,117.4 96.6,118.6 98.1,120.9 98.1,123.4 99.6,126.1 99.4,127.4 99.6,128.6 99.4,128.9 100.6,130.1 100.4,130.4 100.6,130.6 100.6,132.6 102.4,134.1 103.4,137.6 103.4,138.9 103.9,139.6 104.6,139.9 104.9,141.4 105.9,142.4 105.1,144.4 106.1,146.9 106.1,147.9 105.4,149.1 105.4,149.9 104.9,150.4 104.9,151.9 104.4,153.1 104.6,153.6 104.4,154.9 104.9,155.4 104.6,158.1 104.1,159.1 104.6,159.6 104.4,160.6 105.6,161.9 107.1,162.4 108.6,164.4 110.6,164.4 111.1,165.1 110.9,165.6 109.1,165.6 108.6,166.6 109.9,168.4 110.9,169.1 111.9,169.4 113.1,170.6 114.1,171.1 116.6,171.1 117.9,172.4 118.9,171.6 119.9,171.9 121.1,171.6 122.1,170.9 123.1,171.9 124.1,171.9 125.1,170.9 125.6,169.4 126.9,167.4 126.6,166.1 126.9,165.1 126.6,164.9 128.1,163.9 127.4,163.6 126.9,164.1 123.9,161.1 121.6,160.9 121.1,160.4 121.1,158.9 120.6,158.4 120.6,157.6 118.9,155.9 118.1,155.9 117.4,157.4 116.9,157.1 116.9,156.4 117.9,155.1 119.9,154.6 120.1,153.4 122.1,151.4 122.9,151.4 123.6,150.6 123.6,147.4 125.4,146.6 125.9,146.1 125.9,145.6 125.4,144.9 125.4,144.1 123.9,141.9 121.1,139.1 121.1,137.1 120.9,136.9 121.6,135.9 121.4,135.1 121.4,133.6 121.9,133.4 121.6,132.6 120.4,133.1 119.4,132.6 118.1,130.6 118.4,130.4 116.6,129.1 116.4,128.6 116.6,127.6 116.1,126.6 114.9,125.6 115.4,123.6 116.9,122.4 117.1,121.4 115.9,120.4 115.4,120.6 114.9,120.1 113.9,120.4 113.1,119.9 111.1,120.6 110.4,120.4 109.6,119.6 108.9,119.9 108.1,119.4 106.6,119.4 106.4,119.6 106.1,119.4 103.9,119.4 102.6,118.9 101.9,118.1 101.6,118.4 101.1,118.1 100.4,118.9 100.1,118.6 99.4,119.1 98.9,118.1 98.9,117.4 97.9,116.9Z" fill="#e6c8e3"/>
<path d="M247.1,158.9 247.1,160.1 248.1,162.1 247.9,166.1 248.4,166.6 248.6,167.6 250.1,168.6 250.6,168.1 252.9,168.6 253.9,169.4 254.9,170.9 257.6,172.4 259.1,172.4 259.6,171.1 260.9,170.6 261.1,168.1 262.1,167.4 263.1,167.9 264.6,167.6 266.6,166.6 267.6,164.9 268.9,164.9 269.1,164.6 270.1,164.9 270.4,164.6 271.1,164.9 271.9,164.6 272.6,165.1 273.4,165.1 275.4,166.9 275.4,167.6 276.1,168.6 278.1,168.9 279.4,169.9 281.1,170.6 282.4,170.9 283.4,170.6 284.4,169.4 286.9,168.9 286.6,167.4 287.1,166.6 288.9,166.1 290.4,166.9 291.1,166.9 291.9,166.1 291.1,165.4 291.1,163.9 290.9,163.6 291.9,162.6 292.4,161.1 291.1,160.6 290.4,159.9 290.4,159.1 291.4,157.9 291.4,156.6 290.6,155.9 290.4,154.6 291.1,153.4 291.6,153.1 291.4,151.9 291.6,151.6 292.1,151.9 291.1,150.6 291.1,149.6 291.6,148.9 291.6,147.1 290.6,145.9 290.6,143.1 289.9,142.9 288.6,141.6 287.1,141.6 286.9,141.4 283.6,141.6 281.9,141.1 281.1,141.9 278.1,141.9 276.9,140.6 274.1,140.6 271.6,139.1 271.1,138.4 268.6,137.9 267.4,136.4 266.4,136.4 266.1,136.9 265.6,136.9 264.6,136.1 263.6,136.1 263.1,137.1 263.1,138.1 262.6,138.6 260.6,138.4 259.9,140.1 259.1,140.9 257.6,140.6 256.4,140.9 255.6,141.4 255.4,143.4 254.6,144.9 254.4,147.4 252.6,149.4 252.6,150.4 253.4,151.1 250.9,154.1 250.1,154.4 250.6,155.9 249.6,156.6 249.9,157.9 249.1,158.6 248.1,158.9 247.4,158.6Z" fill="#684aa0"/>
<path d="M287.1,166.9 286.9,167.4 287.1,168.9 286.6,169.4 284.9,169.4 283.9,170.4 283.6,175.1 284.6,176.9 286.6,178.6 287.1,181.1 288.6,182.4 288.6,183.1 287.9,184.1 288.9,185.6 288.6,186.1 288.9,189.1 288.6,190.1 286.9,192.4 286.9,194.4 289.4,196.6 289.9,197.6 289.6,199.9 290.1,200.6 290.1,201.4 289.4,202.6 289.9,202.9 290.6,202.4 291.4,202.4 291.9,203.6 292.6,203.9 293.6,204.9 294.6,206.9 295.9,208.1 296.1,208.9 297.6,209.1 298.4,208.9 299.1,208.1 300.4,207.9 301.4,208.1 301.6,208.9 300.9,209.6 299.6,209.6 299.4,209.9 300.1,210.9 300.1,211.4 301.4,211.4 302.4,210.9 305.9,211.1 306.9,210.4 307.1,208.9 309.4,207.1 310.1,207.9 311.9,205.9 312.1,203.9 313.1,202.9 313.9,202.6 315.1,201.1 315.6,201.1 316.6,200.4 316.1,198.1 317.1,197.1 317.6,197.1 319.1,195.1 318.1,194.1 316.9,193.6 314.1,190.1 314.4,189.1 314.1,187.4 313.4,186.6 312.1,186.4 311.4,185.6 311.1,184.6 310.4,183.9 309.6,182.4 307.9,180.6 307.6,180.1 307.6,178.9 307.9,178.6 307.6,177.6 305.9,175.1 304.9,174.4 304.1,174.4 303.1,174.9 301.9,174.6 300.6,173.9 298.9,171.6 297.6,171.6 296.4,170.4 295.6,170.1 295.1,169.1 295.4,168.4 294.9,167.6 294.9,166.9 294.1,166.1 292.4,165.9 291.1,167.1 290.4,167.1 288.9,166.4Z" fill="#8f6eb2"/>
<path d="M147.6,173.6 145.6,172.4 144.1,172.1 142.9,170.9 142.6,170.1 141.9,170.1 141.1,170.6 138.6,170.9 138.1,170.4 136.6,170.6 135.9,169.9 134.9,169.9 134.1,170.6 133.6,171.6 133.9,172.1 133.6,172.9 131.9,174.1 130.9,173.9 130.1,173.1 130.1,172.4 130.9,171.6 130.1,171.6 129.1,172.6 125.9,172.9 124.6,171.9 123.1,172.1 122.1,171.1 121.1,171.9 119.9,172.1 118.9,171.9 117.9,172.6 118.1,174.4 116.9,177.1 116.9,177.9 117.9,179.6 116.9,181.1 116.9,182.1 115.9,183.4 115.9,184.4 116.9,186.6 116.1,188.9 116.9,190.6 116.6,192.9 115.9,193.9 115.6,195.4 114.6,196.4 113.1,196.9 112.4,197.9 111.9,200.4 112.4,200.9 112.1,202.1 112.4,202.4 114.1,202.1 114.6,202.6 115.9,202.6 116.1,201.9 116.6,201.6 116.9,202.6 118.1,202.9 119.9,202.1 123.6,201.9 125.9,202.6 127.4,204.1 129.6,204.1 130.6,203.1 131.9,203.4 132.4,203.9 133.4,203.9 135.4,202.4 135.9,202.4 136.1,201.1 137.6,199.9 137.4,197.4 138.1,197.1 138.6,197.6 139.4,197.6 139.9,195.1 141.4,193.9 141.4,193.1 140.1,192.1 140.1,190.6 141.4,189.4 141.6,187.4 142.4,186.9 142.9,185.9 142.9,184.9 144.6,183.6 144.6,182.1 143.6,180.9 143.4,179.9 146.4,176.4 147.9,175.6Z" fill="#8f6eb2"/>
<path d="M304.4,128.1 304.1,129.1 304.9,130.1 304.9,131.9 305.4,132.9 306.4,133.1 307.9,132.6 308.4,133.1 309.4,133.4 310.4,134.4 310.6,136.6 311.4,136.9 312.1,137.6 312.1,139.4 312.4,139.6 310.9,141.1 310.6,141.9 311.1,142.6 312.9,143.4 313.1,144.4 314.4,145.9 314.1,147.6 314.9,148.4 316.4,148.6 316.9,149.1 316.9,150.1 315.9,151.4 315.9,152.6 315.1,153.6 315.6,157.4 314.9,159.9 314.9,164.4 315.6,165.6 316.1,168.1 315.6,168.9 314.9,172.9 316.9,172.9 318.6,174.6 319.6,175.1 321.4,176.9 321.9,177.9 322.9,178.1 327.9,173.1 328.6,173.6 330.6,173.4 332.1,174.6 334.1,174.9 334.9,175.6 335.9,174.9 336.9,175.4 337.6,175.4 341.1,172.6 341.9,172.6 343.6,173.9 345.1,173.9 345.4,174.1 347.1,173.6 348.6,171.9 349.4,171.9 350.6,170.9 351.6,171.1 351.9,171.6 352.6,171.4 353.1,169.6 352.4,170.4 351.4,170.4 349.9,168.9 349.9,168.4 348.9,168.1 348.4,167.6 348.1,165.6 347.6,165.1 345.4,164.9 344.6,166.1 343.9,166.1 342.1,164.1 339.9,163.9 337.6,161.4 336.1,160.6 333.9,157.9 332.4,157.4 330.4,157.4 327.9,155.6 325.4,155.4 324.4,154.6 324.1,153.9 322.9,152.6 322.4,151.6 322.6,150.4 322.4,149.9 322.6,149.6 322.1,149.1 321.9,149.4 320.6,149.1 319.9,145.4 318.4,142.9 318.9,141.9 318.6,140.1 319.4,138.6 318.9,138.1 318.1,138.1 317.4,137.4 318.4,135.9 318.6,133.9 317.1,133.6 316.1,132.1 316.4,131.9 316.1,131.6 316.4,130.6 317.6,130.1 313.9,126.9 312.1,127.6 310.9,127.4 310.6,127.6 308.1,127.9 307.9,128.4 306.6,128.4 306.1,128.9Z" fill="#494ea3"/>
<path d="M299.4,124.4 298.4,124.9 298.4,125.4 297.9,125.9 298.1,126.6 297.6,127.1 296.9,127.1 295.9,126.6 295.4,126.9 294.1,128.6 293.9,132.6 294.4,133.4 294.4,134.1 293.4,136.4 292.4,137.6 292.4,139.4 292.6,139.6 292.4,139.9 292.4,141.4 292.9,142.4 290.9,143.4 290.9,145.9 291.9,147.1 291.9,148.9 291.4,149.6 291.4,150.6 292.4,151.9 292.1,152.1 291.6,151.9 291.9,153.1 291.4,153.4 290.6,154.6 290.6,155.4 291.6,156.6 291.6,157.9 290.9,158.6 290.6,159.9 292.6,161.1 292.1,162.6 291.1,163.6 291.4,163.9 291.4,165.4 292.1,165.9 293.4,165.6 294.6,166.1 295.6,168.4 295.4,169.1 295.6,169.9 296.4,170.1 297.6,171.4 298.9,171.4 299.9,172.4 299.9,172.9 301.9,174.4 303.1,174.6 304.1,174.1 304.9,174.1 305.6,174.9 309.4,174.6 311.6,173.4 313.1,172.9 314.6,172.9 314.9,172.1 314.9,170.9 315.4,168.9 315.9,168.1 315.6,166.4 314.6,164.4 314.6,159.9 315.4,157.4 314.9,153.6 315.6,152.6 315.6,151.4 316.6,150.1 316.6,149.1 314.9,148.6 313.9,147.6 314.1,145.9 312.9,144.4 312.6,143.4 311.1,142.9 310.4,141.9 310.6,141.1 312.1,139.6 311.9,139.4 311.9,137.6 310.4,136.6 310.1,134.4 309.4,133.6 308.9,133.6 307.9,132.9 305.6,133.4 304.6,131.9 304.6,130.1 303.9,129.1 304.4,127.9 302.9,126.4 302.1,124.6 301.4,124.1Z" fill="#8f6eb2"/>
<path d="M40.6,181.1 41.1,182.1 42.9,183.6 42.6,184.1 42.9,184.4 42.6,186.6 44.9,187.4 46.9,187.4 47.4,187.9 47.6,188.9 48.9,189.4 49.9,190.4 50.1,191.4 51.1,192.6 51.1,193.1 50.1,194.1 49.4,194.1 48.9,193.4 48.1,193.4 46.9,195.1 44.4,196.9 45.9,197.9 46.4,197.6 47.6,197.9 48.1,198.4 48.6,198.1 49.4,198.6 50.9,198.4 51.4,199.1 50.6,199.9 51.1,200.1 50.9,200.6 51.4,201.1 52.6,200.9 56.1,203.4 56.6,203.4 57.4,204.1 57.4,204.6 56.9,205.1 56.9,206.1 56.4,206.9 56.1,208.6 58.1,207.9 61.4,207.9 63.4,206.6 65.4,206.4 68.1,208.9 68.9,210.1 70.4,210.4 70.9,210.9 72.9,210.9 73.6,210.4 75.1,210.4 75.6,211.1 75.9,213.1 76.6,213.6 76.6,214.1 77.4,214.4 78.1,213.9 78.1,213.1 76.6,211.9 77.6,210.6 79.4,209.9 80.9,210.4 81.6,209.6 81.9,208.4 82.6,207.6 84.1,207.1 85.4,205.9 86.9,205.6 87.6,205.1 87.4,203.4 86.1,202.1 88.4,199.9 88.1,198.4 87.6,197.9 87.6,197.4 86.9,196.9 86.9,195.9 87.6,194.9 87.6,194.4 86.4,191.1 85.1,191.1 84.4,190.4 85.1,189.4 85.9,189.1 85.1,183.9 84.6,183.6 83.9,184.1 81.9,184.6 81.4,184.1 81.6,183.9 79.9,184.1 78.1,183.4 76.4,183.6 75.6,184.9 76.4,186.6 76.4,187.4 75.6,188.1 75.1,188.1 72.6,186.6 71.4,186.6 70.1,184.9 68.4,185.1 66.1,183.1 65.4,182.9 63.4,183.1 62.6,182.4 61.9,180.6 61.4,181.1 61.1,180.9 60.6,181.1 56.9,181.1 55.4,179.9 53.9,179.9 53.6,179.6 52.6,179.6 50.4,180.6 48.6,179.6 47.9,178.9 47.9,178.4 46.6,178.9 45.6,180.1 43.6,181.6 41.9,181.6Z" fill="#8f6eb2"/>
<path d="M316.6,130.6 316.4,131.6 316.6,131.9 316.4,132.1 316.9,133.1 317.6,133.6 318.9,133.9 318.6,135.9 317.6,137.1 318.1,137.9 318.9,137.9 319.6,138.6 318.9,140.1 319.1,141.9 318.6,142.9 320.1,145.4 320.9,149.1 322.1,148.9 322.9,149.6 322.6,149.9 322.9,150.4 322.6,151.6 324.9,154.9 326.6,155.4 327.9,155.4 330.4,157.1 332.4,157.1 333.9,157.6 336.1,160.4 337.6,161.1 339.9,163.6 342.1,163.9 343.9,165.9 344.6,165.9 345.4,164.6 347.6,164.9 348.4,165.6 348.6,167.6 349.9,168.1 350.1,168.9 351.4,170.1 352.4,170.1 353.9,167.6 354.9,167.6 356.4,169.1 356.9,169.1 356.9,168.4 355.6,167.1 355.6,166.1 357.1,164.9 357.1,163.9 358.6,162.6 358.6,161.9 356.6,158.4 354.4,157.1 353.9,157.1 353.4,156.6 352.4,157.1 350.6,155.4 349.4,151.4 349.4,150.1 349.9,149.6 350.4,148.1 352.4,146.6 353.9,146.6 354.9,147.6 355.6,147.6 356.1,147.1 357.4,147.4 358.6,148.9 360.6,150.1 361.9,150.1 363.1,149.6 364.9,150.4 366.1,151.9 366.9,152.1 367.6,151.6 367.9,149.6 368.9,148.1 368.9,147.4 369.9,146.4 368.6,146.6 368.4,146.1 364.4,145.1 361.1,141.9 360.4,142.6 359.6,142.6 358.1,143.9 356.9,143.9 355.1,143.1 354.1,143.1 352.4,144.9 351.6,144.9 350.9,144.1 351.1,143.9 350.9,143.1 350.4,143.1 349.6,142.4 350.1,141.9 349.6,141.4 349.4,140.1 348.9,140.6 348.4,140.6 347.6,141.6 346.6,140.9 344.4,141.4 344.1,140.9 340.4,139.4 339.6,137.9 338.6,137.6 337.9,137.9 336.9,136.9 336.1,134.9 335.6,134.4 335.9,134.1 335.6,133.1 334.1,132.6 333.4,131.9 333.4,131.4 332.4,130.6 331.9,130.6 331.1,129.9 330.6,128.9 328.9,129.4 328.6,129.1 327.6,129.4 326.4,128.9 325.6,129.4 324.4,129.1 323.4,129.4 323.1,129.1 319.4,131.4 318.1,130.4Z" fill="#494ea3"/>
<path d="M234.9,213.9 234.6,214.1 234.6,215.6 232.6,216.9 232.4,219.1 231.4,220.1 232.1,221.6 232.6,223.6 231.6,224.4 231.6,225.1 232.4,225.6 232.6,227.4 233.6,229.1 234.6,230.1 233.9,232.4 234.1,232.6 235.4,232.6 236.1,233.4 237.4,235.6 236.9,237.1 237.1,237.6 237.1,240.6 236.4,241.9 237.1,243.9 236.9,244.9 237.1,248.6 237.6,248.9 238.6,248.1 239.4,248.1 240.1,248.9 240.4,250.9 241.6,252.6 242.9,252.4 244.1,250.1 246.9,250.9 248.4,252.4 249.4,251.1 251.1,250.1 252.9,250.1 253.6,250.6 253.9,250.1 255.1,249.4 256.4,249.4 257.6,248.9 259.1,248.9 260.9,249.6 263.6,247.1 264.6,246.9 265.4,247.4 265.6,246.6 266.9,245.1 266.6,244.1 265.9,243.1 265.9,241.9 265.1,240.9 265.1,239.9 266.1,238.9 265.9,234.4 266.6,233.9 267.6,233.9 268.6,232.4 270.1,232.4 271.6,231.6 271.6,230.9 269.9,229.4 268.6,226.6 267.9,226.1 267.4,225.1 265.9,223.6 265.6,223.9 264.9,223.6 264.6,223.1 263.6,222.6 262.1,222.9 261.1,221.6 260.4,221.1 259.4,221.1 257.4,219.1 254.4,218.4 251.6,218.1 250.6,217.1 250.9,216.9 250.9,215.6 250.4,215.4 249.1,216.1 247.9,216.1 247.4,215.6 246.1,215.6 244.9,216.9 243.4,216.9 240.1,215.4 239.4,215.4 238.4,215.9 237.6,215.6 237.1,214.6 237.4,213.4Z" fill="#8f6eb2"/>
<path d="M211.1,65.4 213.6,67.9 213.6,69.1 212.4,70.4 212.4,70.9 212.6,71.1 213.6,70.9 214.1,71.4 215.4,75.1 216.1,75.1 216.9,74.6 218.1,75.6 218.6,77.4 220.1,78.6 220.1,79.1 221.6,80.6 223.6,80.6 225.1,81.9 226.4,81.4 228.6,81.4 228.9,81.6 228.6,83.6 229.9,84.9 230.1,85.6 232.4,86.1 233.4,85.9 234.4,86.6 235.1,88.1 235.1,88.9 236.4,90.1 236.4,91.9 235.6,93.1 235.6,94.4 237.1,95.6 239.1,99.1 238.9,100.4 238.4,101.1 237.9,104.9 240.4,107.9 241.9,107.1 245.6,107.4 246.4,106.9 247.6,106.9 249.4,107.9 250.1,107.9 252.1,106.9 252.4,106.4 256.6,106.6 257.6,105.6 258.1,105.6 259.9,106.9 260.6,106.9 262.4,107.6 264.9,107.1 265.9,107.9 265.9,108.4 267.6,109.9 268.6,110.1 268.1,109.6 269.4,104.1 269.4,103.1 268.4,100.9 268.4,99.9 269.1,98.6 267.6,96.1 265.6,93.9 264.9,94.4 263.6,94.4 262.1,94.9 261.9,95.4 261.4,94.9 260.1,94.6 259.4,94.9 258.4,94.6 257.6,95.1 255.9,95.1 251.6,90.9 251.4,89.9 249.6,86.9 246.9,86.6 243.6,85.6 243.4,84.9 243.9,84.4 243.6,84.1 243.4,84.4 243.1,83.4 242.1,82.6 242.4,80.1 241.1,78.6 241.1,78.1 240.1,76.6 237.6,75.1 236.1,76.4 234.9,76.1 233.1,76.1 231.6,76.6 230.9,76.4 230.1,77.4 229.1,77.6 228.9,76.4 227.1,74.9 227.1,74.1 226.1,72.1 225.1,71.1 225.1,70.1 224.1,66.9 224.9,65.9 224.9,64.9 224.1,64.1 223.9,62.9 223.4,62.1 222.9,61.9 222.6,62.1 222.4,61.9 221.1,62.1 220.1,62.6 219.4,63.6 214.9,64.1Z" fill="#494ea3"/>
<path d="M199.4,121.9 199.1,123.9 199.9,125.1 199.9,127.1 199.6,127.4 199.4,126.9 198.9,127.1 199.4,127.6 198.6,128.9 198.6,130.1 199.6,131.1 199.4,132.4 199.6,134.6 199.1,136.4 200.1,138.1 200.4,139.4 199.1,140.6 199.1,141.9 199.6,142.4 200.4,142.1 201.1,142.6 200.9,143.6 200.4,143.9 202.4,143.9 202.6,143.6 206.4,144.4 208.6,143.1 209.9,143.6 210.6,144.4 210.6,145.1 211.1,146.1 211.9,146.1 213.1,145.1 215.6,145.9 218.4,145.9 219.4,147.1 221.1,147.9 223.1,148.1 223.6,148.6 224.1,148.6 224.4,147.9 225.1,147.1 225.9,147.1 226.1,147.9 225.6,148.4 225.6,149.1 226.4,148.6 227.1,148.6 227.4,149.1 229.4,149.1 230.6,148.6 232.6,149.1 233.9,148.4 235.4,148.4 236.9,147.6 237.9,147.6 237.1,147.4 236.4,146.4 237.4,145.1 236.6,142.1 236.9,141.9 237.1,137.9 237.6,136.4 238.6,135.6 238.4,134.9 239.4,131.9 237.9,131.1 237.4,130.4 237.1,127.4 238.1,125.6 238.1,124.6 237.6,124.1 236.6,124.1 235.6,123.1 234.1,123.6 232.1,123.6 231.1,122.6 229.9,122.9 228.6,122.6 228.6,123.9 228.1,124.6 228.1,125.4 226.9,126.4 226.4,125.9 225.9,126.1 226.1,126.4 225.1,127.6 224.6,127.6 222.9,126.9 222.4,125.9 221.6,125.4 219.4,125.4 218.4,124.9 216.9,123.4 214.6,123.6 213.9,122.9 213.9,121.9 213.4,121.4 212.4,121.4 211.1,122.9 208.4,122.4 206.9,120.9 206.6,121.6 206.9,121.9 206.1,122.6 204.9,122.6 203.1,121.6 202.6,121.6 201.9,122.9 200.9,123.1 200.1,122.4 199.9,121.6Z" fill="#684aa0"/>
<path d="M178.1,174.1 176.4,171.9 175.9,170.9 175.9,170.1 173.9,166.9 174.1,166.6 174.1,164.9 173.4,164.6 172.4,165.1 171.6,164.4 171.6,163.4 170.1,162.6 169.9,161.9 170.1,160.9 169.4,159.9 167.9,158.9 167.6,156.6 165.4,155.4 164.1,155.4 163.1,154.1 162.4,154.4 161.6,154.1 160.9,154.6 159.1,154.1 158.1,153.1 158.4,152.9 158.1,151.6 157.4,151.1 156.1,151.4 156.1,153.4 155.4,154.1 152.9,154.1 151.9,154.6 149.6,157.1 147.9,156.9 145.4,158.4 144.6,158.1 144.1,157.1 143.4,156.9 141.9,158.4 140.6,158.1 138.6,158.6 137.4,156.9 135.9,156.4 135.1,157.1 135.6,158.4 135.1,158.9 134.1,158.9 133.1,157.9 133.6,157.1 133.4,156.9 133.6,155.9 133.1,155.9 132.4,156.9 131.1,157.1 130.4,157.6 129.9,158.6 129.9,159.4 128.9,160.4 126.1,161.1 126.1,161.9 125.6,162.4 125.9,163.1 126.6,163.4 126.9,163.9 127.4,163.4 127.9,163.4 128.4,163.9 126.9,164.9 127.1,165.1 126.9,165.4 127.1,167.4 124.9,171.4 124.9,171.9 125.9,172.6 129.1,172.4 130.1,171.4 130.9,171.4 131.1,171.9 130.4,172.4 130.4,173.1 130.9,173.6 131.9,173.9 133.4,172.9 133.6,172.1 133.4,171.6 134.9,169.6 135.9,169.6 136.6,170.4 138.1,170.1 138.6,170.6 141.1,170.4 141.9,169.9 142.6,169.9 144.1,171.9 145.6,172.1 147.1,172.9 148.1,174.1 148.1,175.9 149.9,176.9 154.6,175.1 155.9,174.1 157.9,175.1 160.4,175.4 161.1,176.1 160.9,178.4 161.1,178.6 161.9,178.4 163.1,178.6 163.6,179.1 163.9,180.1 164.6,180.9 165.6,180.9 166.9,181.6 167.4,182.9 168.6,184.1 169.1,185.1 170.6,185.6 171.4,183.9 171.4,183.1 171.1,182.9 171.1,181.6 170.4,179.9 170.6,179.6 173.9,179.9 174.9,179.4 175.9,178.1 175.6,176.4 177.9,174.6Z" fill="#e6c8e3"/>
<path d="M195.9,71.1 196.1,72.4 197.1,74.4 197.1,75.1 196.1,76.4 195.9,78.1 196.9,79.4 197.1,80.6 196.4,81.9 196.4,83.4 196.9,83.9 196.9,84.6 196.4,85.9 195.4,86.9 195.4,87.6 196.1,88.9 195.9,89.1 195.9,91.6 195.1,92.6 194.9,93.6 195.6,93.1 196.4,93.1 197.6,94.4 197.6,93.6 198.6,92.6 199.1,92.6 200.4,94.4 201.1,94.1 202.6,94.6 203.9,94.6 205.4,96.1 206.9,96.4 208.9,97.9 210.1,98.1 211.4,97.4 213.1,97.9 214.6,97.9 215.9,99.4 217.1,99.4 218.9,101.1 219.9,101.4 221.6,103.9 223.1,104.1 222.1,103.1 222.4,102.1 223.4,101.9 224.4,102.9 225.4,102.9 228.1,104.1 229.6,104.1 229.9,103.9 231.1,104.4 230.9,105.9 231.9,106.6 232.6,106.9 234.6,106.6 235.9,105.6 236.4,105.6 238.4,107.4 239.4,108.9 240.1,108.1 240.1,107.6 237.6,104.9 238.1,101.1 238.6,100.4 238.9,99.1 236.9,95.6 235.4,94.4 235.4,93.1 236.1,91.9 236.1,90.1 234.9,88.9 234.9,88.1 234.1,86.6 233.4,86.1 232.4,86.4 230.1,85.9 229.6,84.9 228.4,83.6 228.6,81.6 226.4,81.6 225.1,82.1 223.6,80.9 221.6,80.9 219.9,79.1 219.9,78.6 218.4,77.4 217.9,75.6 216.9,74.9 216.1,75.4 215.4,75.4 214.9,74.9 213.9,71.4 213.6,71.1 212.6,71.4 212.1,70.9 212.1,70.4 213.4,69.1 213.4,67.9 210.9,65.4 210.6,65.6 209.9,65.4 209.1,65.6 207.6,66.9 206.4,66.4 205.4,66.4 203.4,67.1 201.4,66.6 200.6,67.1 199.9,68.4 199.9,69.1 199.1,70.1 198.1,69.9 197.9,70.1 197.6,69.9Z" fill="#494ea3"/>
<path d="M223.4,274.4 223.6,275.6 222.6,276.9 222.6,277.4 222.9,277.6 222.9,278.9 223.6,280.1 223.6,281.4 224.1,282.1 224.1,282.9 223.6,283.6 221.9,284.4 221.9,284.9 221.4,285.4 220.1,285.6 218.6,287.6 218.6,289.6 219.4,290.4 219.4,291.4 218.9,291.9 218.9,293.4 219.9,294.9 220.9,295.4 220.9,296.1 219.9,297.1 219.9,297.6 218.9,299.1 220.1,299.1 221.1,300.1 221.4,300.9 221.4,302.1 221.1,302.4 221.9,302.9 223.1,303.1 224.4,304.1 225.9,304.1 229.6,306.9 231.4,307.6 232.1,307.6 233.4,308.4 234.1,308.4 234.9,309.1 235.4,310.4 236.6,310.6 236.9,310.4 238.4,310.4 239.1,311.1 240.6,310.9 242.9,308.6 243.9,308.4 244.6,308.9 245.4,308.9 247.1,308.1 249.4,306.6 249.9,306.6 251.1,307.6 251.6,307.6 252.6,308.9 252.4,309.4 253.4,309.4 254.4,308.4 257.4,307.6 260.4,308.9 261.9,308.6 262.4,307.4 262.1,305.9 262.9,305.1 264.1,304.6 264.1,303.6 263.4,302.6 262.9,299.9 262.4,299.4 261.6,299.4 260.6,299.9 259.9,298.6 258.4,297.1 258.4,294.1 258.9,293.6 258.6,293.4 258.9,293.1 258.4,292.4 257.9,292.4 257.1,291.6 257.9,290.6 258.1,289.4 257.4,287.9 257.6,286.6 257.4,285.9 256.6,285.9 255.4,285.1 255.4,284.1 252.9,282.1 250.1,281.6 248.6,280.9 246.9,279.4 245.4,278.9 243.4,277.6 243.1,277.9 242.9,277.6 240.6,277.6 239.9,278.4 239.4,278.4 238.6,277.1 239.1,276.1 238.9,275.1 238.4,275.4 238.4,275.9 237.6,276.6 234.1,274.4 232.6,272.4 230.4,271.4 229.6,271.4 229.1,271.9 229.6,273.9 228.9,274.4 227.9,274.4 226.6,273.6 225.4,274.1 223.6,274.1Z" fill="#684aa0"/>
<path d="M85.1,391.6 85.9,392.4 86.1,393.6 86.9,394.6 88.6,393.9 91.9,395.4 91.6,395.9 92.1,396.4 93.4,396.4 93.6,396.1 94.4,396.6 95.6,395.9 96.4,395.9 96.9,396.4 96.9,397.1 96.1,397.9 95.6,397.9 94.9,398.9 95.1,400.4 94.4,402.6 94.9,402.6 96.4,403.6 96.6,403.4 96.9,403.6 98.9,403.4 100.6,405.4 102.9,405.9 104.1,406.9 105.1,407.1 106.1,406.9 107.9,407.9 109.4,408.1 109.9,408.9 111.1,409.4 112.6,409.4 115.1,411.6 116.1,411.9 117.4,413.4 118.1,413.6 119.4,415.6 121.4,416.1 121.9,416.6 122.1,417.6 124.4,417.6 125.4,416.9 128.6,416.6 130.6,415.6 130.4,415.1 130.6,414.4 130.1,413.4 130.4,411.9 130.9,411.4 131.1,410.1 131.9,409.6 132.6,409.6 134.1,407.1 134.4,403.4 134.9,401.9 135.6,401.6 136.4,402.1 137.1,401.6 137.1,401.1 138.6,398.6 138.6,397.9 139.4,396.1 139.4,394.4 139.1,394.1 139.4,393.1 140.9,391.1 140.9,389.6 140.4,388.6 139.4,388.4 138.4,387.4 138.1,384.9 137.4,384.9 135.1,383.1 134.6,383.1 133.4,384.4 132.4,384.4 131.6,383.4 129.6,383.4 127.1,384.4 126.1,385.4 125.4,385.1 124.1,383.6 123.1,383.6 120.6,385.6 119.9,385.9 117.9,384.1 117.1,383.9 114.9,383.9 112.6,384.6 111.6,384.4 109.4,384.6 107.9,382.6 106.6,382.6 106.1,383.1 106.4,384.4 106.1,385.1 104.4,386.4 103.1,386.4 102.6,385.6 103.4,384.4 103.4,383.4 102.9,382.6 102.4,382.6 100.9,383.9 100.1,383.9 99.1,383.4 97.9,384.6 96.4,385.4 95.9,385.4 94.9,384.1 93.9,384.1 93.6,384.6 92.4,385.1 90.1,387.4 89.9,387.1 89.6,387.4 89.9,387.6 89.6,387.9 89.9,388.9 89.4,389.6 88.1,389.6 87.9,389.4 86.1,389.4Z" fill="#684aa0"/>
<path d="M138.9,384.1 138.4,384.9 138.4,386.6 138.6,387.4 139.4,388.1 140.6,388.6 141.1,389.6 141.1,391.1 139.6,393.1 139.4,393.9 139.6,396.1 138.9,397.9 138.9,398.6 137.9,400.1 137.4,401.6 136.4,402.4 135.1,401.9 134.6,403.4 134.4,407.1 132.9,409.6 131.4,410.1 131.1,411.4 130.6,411.9 130.4,413.4 130.9,414.4 130.6,414.6 130.9,415.9 131.9,416.1 133.6,418.1 134.1,418.1 136.4,420.4 136.6,420.1 139.1,422.1 141.1,422.1 142.4,421.4 143.4,421.6 144.1,421.1 145.4,421.1 146.1,421.6 146.1,422.1 146.9,423.1 147.4,423.1 148.4,422.4 149.9,422.4 151.6,422.9 152.9,422.9 153.1,422.6 154.9,422.9 155.1,421.9 155.6,421.6 155.1,420.4 154.6,420.4 153.9,419.6 153.9,419.1 154.9,416.4 156.1,415.4 157.1,413.4 158.4,412.6 158.6,411.4 158.1,410.1 158.4,409.9 158.1,409.6 158.6,409.1 158.6,408.4 157.4,408.6 156.4,408.1 155.6,408.1 155.1,407.6 155.1,406.4 155.6,405.4 154.9,404.1 158.4,400.4 159.1,398.4 160.6,396.9 159.4,396.9 156.9,395.6 154.6,395.4 153.6,394.6 153.6,393.9 153.1,392.9 151.4,393.9 150.4,392.4 148.1,391.4 147.1,391.6 146.1,392.6 145.6,391.9 146.1,391.4 145.9,388.4 142.9,385.1 142.4,384.1 141.6,383.4Z" fill="#684aa0"/>
<path d="M238.1,414.6 237.9,415.6 237.1,416.4 234.9,416.6 233.1,416.1 232.6,415.1 231.9,414.9 230.6,414.9 229.9,415.6 229.6,415.4 228.9,415.6 228.6,415.4 228.9,413.4 228.6,413.4 226.6,415.4 226.4,416.6 224.4,418.9 223.9,418.9 222.4,417.6 221.1,417.9 220.1,418.6 218.1,418.6 216.9,418.1 215.6,419.6 216.1,420.9 215.4,421.6 214.4,421.9 214.1,422.6 213.1,423.6 212.1,423.9 211.4,424.6 207.4,425.1 205.6,426.9 199.4,427.1 198.4,426.1 197.6,426.9 197.4,428.1 196.1,429.1 195.9,429.9 195.1,430.6 196.1,431.6 199.4,432.9 200.1,432.4 200.9,432.4 201.9,433.4 203.1,436.4 202.9,436.9 203.1,438.9 203.9,438.9 206.9,437.6 208.9,437.9 209.4,437.4 210.9,436.9 213.1,437.1 214.6,436.6 216.4,437.6 216.9,437.6 217.9,438.6 219.1,438.6 220.4,439.4 220.6,439.1 221.9,439.1 224.6,437.9 226.1,436.6 228.6,435.9 230.9,433.9 231.4,433.9 233.4,435.1 234.9,434.9 236.1,435.1 236.9,435.6 236.9,435.1 238.1,434.1 238.9,434.1 239.4,433.6 239.6,433.9 240.4,433.6 238.6,431.9 237.6,429.6 237.4,426.1 237.1,425.9 237.6,424.1 236.9,423.1 236.9,420.4 237.4,418.9 237.4,416.9 238.1,416.6 238.6,415.9Z" fill="#e6c8e3"/>
<path d="M352.4,146.9 350.6,148.1 350.4,149.1 349.6,150.1 349.6,151.4 350.4,153.1 350.6,154.9 352.4,156.9 353.4,156.4 353.9,156.9 354.4,156.9 356.6,158.1 358.9,161.9 358.9,162.6 357.4,163.9 357.4,164.9 355.9,166.1 355.9,167.1 357.1,168.4 357.1,169.1 356.4,169.4 354.9,167.9 353.9,167.9 353.1,169.1 353.4,170.1 352.6,171.6 353.1,171.9 353.1,172.6 353.9,174.4 353.6,175.4 353.9,177.9 355.9,178.9 357.4,180.4 360.9,180.1 361.9,180.6 362.4,181.4 362.4,182.9 363.4,183.6 364.4,183.4 365.1,182.6 366.4,182.6 367.1,183.4 367.4,184.4 368.6,184.9 369.4,184.4 369.4,183.6 370.1,182.1 369.9,181.4 371.1,180.4 371.4,179.1 370.9,177.9 371.9,176.4 371.9,175.6 372.4,175.4 372.1,174.1 371.1,172.9 371.4,171.9 373.6,169.6 373.9,168.1 375.4,166.9 375.6,166.1 375.1,164.9 375.9,163.1 377.1,162.1 379.6,159.1 379.4,158.9 380.4,158.1 380.6,156.6 381.4,155.4 381.1,154.9 381.9,153.4 383.1,152.1 382.9,151.9 383.4,150.9 383.1,150.6 384.1,148.9 383.4,148.1 382.1,147.6 381.1,147.9 380.1,147.4 378.4,145.6 378.1,145.9 377.1,145.4 376.9,145.6 375.4,145.4 375.1,145.9 374.6,145.9 374.1,145.4 373.6,145.6 373.1,145.1 372.6,145.1 370.1,146.1 369.1,147.4 369.1,148.1 368.1,149.6 367.9,151.6 366.6,152.4 364.9,150.6 362.9,149.9 361.9,150.4 360.6,150.4 358.6,149.1 357.4,147.6 356.1,147.4 355.6,147.9 354.9,147.9 353.9,146.9Z" fill="#684aa0"/>
<path d="M360.9,180.4 357.1,180.6 355.1,182.6 354.6,184.6 355.4,185.4 355.4,185.9 354.1,187.1 353.1,187.6 351.1,189.6 350.4,190.9 349.6,191.1 349.6,191.6 350.6,192.6 350.6,193.4 350.1,194.4 348.6,195.9 347.9,197.4 347.9,198.4 348.9,199.1 349.1,200.1 348.6,200.6 346.4,200.4 345.9,200.9 345.9,201.4 346.6,201.9 349.4,201.6 352.1,204.4 352.6,205.1 352.6,206.6 352.9,206.9 352.6,208.1 354.1,208.9 354.1,209.6 355.1,211.4 355.1,212.4 355.6,212.6 356.4,211.9 356.9,212.4 356.9,213.6 356.6,213.9 356.9,214.9 358.9,216.9 359.9,216.6 360.9,215.4 362.6,215.6 363.6,215.1 363.9,215.6 364.6,215.9 365.6,215.6 366.4,214.6 366.1,213.9 367.4,211.1 368.1,210.4 368.4,209.6 370.9,207.6 370.6,206.6 368.9,205.1 368.6,202.6 368.1,201.4 368.1,200.4 368.6,200.1 368.4,199.1 369.1,196.4 368.9,195.9 369.4,195.1 369.4,194.4 370.1,193.6 369.6,191.9 369.9,190.6 369.1,189.6 368.9,188.4 368.4,187.6 369.6,185.9 369.4,185.6 369.6,185.1 369.4,184.6 368.6,185.1 367.6,184.9 366.4,182.9 365.1,182.9 363.9,183.9 362.9,183.6 362.1,182.9 361.9,180.9Z" fill="#494ea3"/>
<path d="M276.4,268.4 275.9,268.9 275.9,270.4 277.1,271.9 277.1,272.9 276.1,274.1 274.1,274.4 274.9,276.1 274.9,277.6 273.4,279.4 273.4,279.9 274.9,281.9 274.9,286.1 275.4,286.9 275.4,287.6 274.6,288.9 274.6,290.4 276.4,292.1 275.6,293.1 275.9,294.6 276.9,295.4 276.9,296.1 277.6,297.4 279.6,298.9 280.4,299.1 282.6,298.9 284.6,300.1 286.1,300.6 286.9,301.6 286.9,303.4 287.9,303.9 288.6,303.9 289.6,303.1 290.9,303.1 291.4,302.6 291.4,301.6 290.1,300.9 289.9,300.4 290.1,299.1 291.1,298.1 292.1,297.9 292.6,296.9 291.4,294.6 294.4,292.9 296.6,293.9 297.4,293.9 297.9,293.1 298.1,291.9 300.6,290.9 300.6,290.4 299.1,289.6 298.9,289.9 296.6,289.9 295.1,287.9 294.6,287.6 293.6,287.9 290.9,286.1 289.4,283.6 288.9,282.1 288.9,279.1 288.4,278.4 288.4,277.6 289.1,276.9 289.1,276.1 288.4,275.4 288.6,272.1 288.1,272.4 287.4,271.6 286.9,270.6 286.9,269.9 286.1,269.1 283.9,270.6 282.6,270.6 281.1,269.9 279.6,270.1 279.1,268.9 278.4,268.4Z" fill="#494ea3"/>
<path d="M346.4,201.9 345.6,201.4 345.6,200.9 345.4,201.1 344.1,200.1 343.1,200.1 342.1,200.6 341.6,200.4 341.4,199.1 341.9,198.4 341.9,197.6 341.1,197.1 340.1,197.1 339.1,197.6 336.6,197.4 335.6,195.9 334.6,195.6 332.6,195.9 331.4,194.9 330.1,194.9 329.1,193.9 326.6,194.1 326.4,193.6 326.1,193.9 325.4,193.4 325.1,193.6 324.6,193.4 321.9,194.9 319.4,195.1 318.6,196.4 316.4,198.1 316.9,200.4 316.1,201.1 315.1,201.4 313.9,202.9 313.1,203.1 312.4,203.9 312.1,205.9 310.1,208.1 309.4,207.4 307.4,208.9 307.1,209.9 307.4,210.9 307.1,211.9 307.4,212.1 306.4,212.9 305.6,214.1 306.4,215.9 306.1,218.4 307.9,219.6 307.4,221.4 307.6,221.9 308.4,222.1 309.1,222.9 309.1,224.4 309.6,225.1 310.6,225.9 312.6,226.4 313.4,225.9 314.9,225.6 318.1,223.1 319.9,222.4 323.4,222.1 324.4,223.4 324.4,221.1 324.9,220.4 327.1,219.6 328.4,218.1 335.1,217.1 336.1,216.1 337.1,215.9 338.6,214.4 338.9,213.4 338.4,212.6 339.6,211.9 340.4,211.9 341.4,212.6 343.9,212.1 345.4,212.9 346.1,211.4 346.1,210.1 345.6,209.6 345.4,207.9 346.4,206.1 346.4,205.1 345.4,204.4 345.4,203.6 346.4,202.4Z" fill="#e6c8e3"/>
<path d="M253.6,251.4 254.4,252.4 255.6,252.6 256.1,253.1 256.1,254.1 255.6,254.6 255.9,254.9 255.6,255.4 257.1,255.6 257.9,257.4 258.9,257.6 260.1,259.1 259.9,260.4 260.6,261.1 261.6,261.1 263.6,262.6 264.4,262.4 265.1,261.6 265.9,262.1 264.9,263.4 264.9,264.4 264.4,265.4 264.6,268.1 263.6,269.6 263.6,270.1 262.9,270.9 262.9,271.6 264.1,272.4 265.9,272.9 267.4,274.1 268.9,274.4 269.6,274.1 271.1,272.9 273.4,274.1 276.1,273.9 276.9,272.9 276.9,271.9 275.6,270.4 275.6,268.9 276.4,268.1 278.4,268.1 279.4,268.9 279.6,269.9 281.1,269.6 282.6,270.4 283.9,270.4 286.1,268.9 287.1,269.9 287.1,270.6 287.6,271.6 288.4,272.1 289.9,270.4 289.9,269.9 288.9,268.1 289.4,266.9 290.4,266.1 290.9,266.1 292.1,264.9 293.1,264.4 293.6,263.6 293.1,260.4 293.9,259.9 296.6,259.9 298.4,260.9 299.6,262.4 300.9,262.9 304.1,262.9 305.1,261.9 305.9,261.9 307.1,264.1 307.1,263.4 306.6,262.6 306.6,261.1 306.1,259.9 306.1,258.1 305.1,256.6 305.1,255.9 306.1,254.6 306.1,253.9 305.4,252.4 305.1,250.1 303.9,248.1 305.1,245.4 304.6,243.1 302.9,242.9 302.1,242.4 301.6,240.9 301.6,239.6 301.1,238.9 300.4,238.9 299.4,239.9 298.1,239.9 296.9,239.1 294.9,240.6 293.9,240.6 292.4,239.9 290.6,240.6 289.4,240.4 287.6,241.4 284.9,241.6 283.9,240.6 283.9,239.4 282.6,237.9 282.4,237.1 281.9,237.4 282.1,237.6 281.9,238.6 278.9,238.9 278.1,238.1 277.9,237.4 278.4,236.4 278.4,235.6 277.6,234.9 276.4,234.9 274.6,235.4 273.6,234.6 273.1,233.4 271.6,231.9 270.1,232.6 268.6,232.6 268.4,233.4 267.6,234.1 266.1,234.4 266.4,238.9 265.4,239.9 265.4,240.9 266.1,241.9 266.1,243.1 266.9,244.1 267.1,245.1 265.9,246.6 265.9,247.1 265.4,247.6 264.6,247.1 263.6,247.4 260.9,249.9 259.1,249.1 257.6,249.1 256.4,249.6 255.1,249.6 253.9,250.4Z" fill="#684aa0"/>
<path d="M155.9,174.4 154.6,175.4 149.9,177.1 147.6,175.9 146.4,176.6 143.9,179.4 143.6,180.4 144.9,182.1 144.9,183.6 143.1,184.9 143.1,185.9 142.6,186.9 141.9,187.4 141.6,189.4 140.4,190.6 140.4,192.1 141.6,193.1 141.6,193.9 140.1,195.1 139.9,197.1 139.4,197.9 138.6,197.9 138.1,197.4 137.6,197.4 137.9,199.9 136.4,201.1 136.1,202.4 134.9,203.1 134.9,203.4 136.6,203.9 137.6,204.9 137.9,205.6 137.6,206.6 138.1,206.1 141.1,206.6 142.4,207.9 142.9,207.4 143.9,207.9 144.6,207.9 145.4,207.4 147.1,207.4 148.1,208.4 148.4,209.4 148.1,210.4 148.4,210.6 149.1,210.6 149.4,209.6 149.1,209.1 149.4,208.9 150.4,209.1 151.6,210.1 152.4,210.1 153.1,209.6 153.4,209.9 153.1,210.9 153.9,211.6 154.6,213.4 156.6,211.6 158.4,211.6 161.1,210.6 162.9,207.6 164.1,207.6 165.4,206.9 164.9,206.1 165.1,204.9 165.9,204.1 166.6,204.1 168.1,202.9 168.6,202.9 169.4,202.1 169.6,200.4 171.6,198.9 171.6,198.1 170.4,196.4 170.9,194.9 171.4,194.4 171.1,194.1 171.4,193.1 171.1,188.4 171.9,186.4 169.1,185.4 167.1,182.9 166.6,181.6 165.6,181.1 164.6,181.1 163.6,180.1 163.1,178.9 161.9,178.6 161.1,178.9 160.6,178.4 160.9,176.1 160.4,175.6 157.9,175.4Z" fill="#684aa0"/>
<path d="M318.4,289.9 318.9,290.6 318.4,292.6 317.6,293.4 317.9,294.1 316.9,295.4 317.1,295.9 316.9,296.1 316.9,297.4 319.1,298.6 319.9,298.1 320.1,298.4 320.9,298.1 321.6,298.9 321.9,300.6 325.1,302.9 326.1,304.1 326.6,304.1 327.6,303.4 329.4,303.4 329.9,303.9 329.9,305.6 330.6,309.4 331.4,309.9 331.9,310.9 331.9,312.4 331.4,313.6 331.6,313.9 330.6,314.9 331.1,316.1 333.6,316.1 335.6,317.9 337.1,318.4 338.4,318.1 339.1,318.9 339.4,319.6 339.6,319.4 339.9,319.6 341.9,319.6 342.9,317.6 343.4,317.6 344.1,318.4 345.6,318.4 346.9,316.6 348.4,317.6 348.9,317.4 350.4,317.6 351.4,317.1 351.1,316.9 351.9,316.6 352.6,315.9 353.6,316.1 355.1,315.6 356.6,313.6 357.1,313.6 357.6,312.9 358.1,313.1 359.1,312.4 361.1,309.6 361.6,308.1 361.4,306.9 362.6,305.4 358.1,300.9 358.4,299.9 357.4,298.9 356.6,297.1 356.6,295.9 354.6,293.6 353.4,293.1 352.6,292.4 351.9,292.4 349.9,290.6 349.4,290.6 348.4,289.9 347.1,289.9 344.9,288.1 342.6,288.1 341.1,287.1 340.1,287.4 338.4,287.1 337.9,287.9 337.9,289.4 335.6,290.9 335.4,291.6 334.1,292.6 333.1,292.6 332.1,291.6 330.4,292.1 329.1,292.1 327.1,290.4 324.6,290.9 323.9,290.1 323.4,287.9 323.9,287.4 323.9,286.6 322.9,286.1 321.6,286.1 320.9,287.6 320.1,288.4 319.6,288.4Z" fill="#8f6eb2"/>
<path d="M349.4,262.4 347.9,263.1 346.6,262.1 344.9,262.4 343.6,261.6 342.1,263.1 339.6,262.9 339.4,263.4 336.6,265.1 333.1,265.4 332.4,267.1 330.4,270.1 330.4,271.9 330.1,272.9 329.6,273.4 328.4,273.6 326.6,272.6 325.4,272.6 324.4,273.6 322.1,274.6 321.9,275.9 320.1,277.4 320.1,277.9 320.6,278.4 321.1,280.9 321.9,280.9 323.1,282.9 323.1,285.4 324.1,286.6 324.1,287.4 323.6,287.9 323.9,289.6 324.6,290.6 327.1,290.1 329.1,291.9 330.4,291.9 332.1,291.4 333.1,292.4 334.1,292.4 335.1,291.6 335.6,290.6 337.6,289.4 337.6,287.9 338.4,286.9 339.6,287.1 341.1,286.9 342.6,287.9 344.9,287.9 346.6,289.4 348.4,289.6 349.6,290.4 350.9,289.6 352.9,287.4 353.9,287.1 356.1,284.9 357.4,282.9 355.9,280.4 355.1,277.6 353.6,277.1 352.4,275.9 352.1,274.9 350.6,273.4 349.9,272.1 350.1,271.9 349.9,270.4 350.4,269.9 350.4,269.4 350.9,269.1 350.9,268.6 351.9,267.4 351.9,266.9 350.6,265.6 350.4,263.9 349.6,263.1Z" fill="#8f6eb2"/>
<path d="M223.6,151.4 222.9,152.1 220.4,152.9 218.4,154.1 217.1,154.1 216.6,153.6 213.9,153.4 213.1,154.1 213.1,156.1 213.4,156.4 210.9,157.9 210.6,158.9 211.6,159.9 211.9,160.6 213.1,160.9 213.1,162.4 213.9,163.6 215.9,162.9 216.6,163.6 220.4,165.1 221.6,165.1 221.9,165.4 223.1,165.1 223.4,164.6 223.1,162.6 223.6,161.4 222.6,161.6 222.4,160.6 223.6,159.4 223.6,157.9 223.4,157.6 223.4,156.1 222.6,155.1 222.4,154.1 223.6,152.4Z" fill="#684aa0"/>
<path d="M202.4,120.4 201.9,119.4 200.6,119.1 200.1,118.6 200.1,117.4 199.4,116.4 199.1,114.9 196.4,111.6 196.1,110.9 194.1,109.1 194.4,108.9 194.1,108.1 193.4,107.6 192.1,108.1 190.9,106.9 189.1,106.6 188.1,107.6 183.6,109.9 181.9,110.1 180.6,111.4 179.6,111.9 176.9,112.1 176.1,113.1 174.4,113.6 172.9,115.1 170.9,114.9 168.1,116.1 167.4,116.1 166.1,118.1 163.1,117.9 160.4,119.4 159.9,119.4 158.9,120.6 158.9,121.1 158.1,121.9 157.1,122.1 155.1,124.4 155.6,124.9 155.6,126.1 154.1,127.6 153.9,128.9 156.1,130.1 156.6,130.9 157.6,131.4 158.6,130.6 160.9,131.9 163.6,131.6 164.9,132.1 166.1,132.1 166.9,132.6 167.6,132.6 168.6,131.1 169.4,131.1 170.6,131.9 171.6,131.9 172.4,132.6 173.6,133.1 174.9,134.6 175.6,134.9 177.1,134.6 177.9,136.1 177.9,137.6 180.1,139.1 182.1,136.6 183.9,136.6 185.4,135.9 186.1,135.1 187.6,134.6 189.9,134.6 193.1,131.6 194.6,131.9 195.6,132.6 196.6,132.6 199.1,133.6 199.4,131.1 198.4,130.1 198.4,128.9 199.1,127.6 198.6,127.1 199.4,126.6 199.6,127.1 199.6,125.1 198.9,123.9 198.9,122.6 199.6,121.4 200.1,121.6 202.1,121.4Z" fill="#684aa0"/>
<path d="M238.6,147.9 236.9,147.9 235.4,148.6 233.9,148.6 232.6,149.4 231.9,149.4 231.4,148.9 229.4,149.4 227.4,149.4 227.1,148.9 226.4,148.9 225.6,149.4 225.4,148.4 225.9,147.9 225.9,147.4 225.1,147.4 224.6,147.9 224.6,148.4 224.1,148.9 223.6,148.9 223.9,152.4 222.6,154.1 222.6,154.6 223.6,156.1 223.6,157.6 223.9,157.9 223.9,159.4 222.6,160.6 222.6,161.4 223.6,161.1 223.9,161.4 223.4,162.6 223.6,164.6 222.9,165.6 220.6,165.4 222.1,168.1 222.4,169.4 221.9,170.1 220.6,170.9 220.4,172.6 220.9,173.4 219.6,173.6 219.6,174.6 221.4,175.9 221.4,176.6 219.4,179.6 219.1,181.1 217.6,182.4 218.6,183.4 218.6,183.9 219.1,184.1 218.9,185.4 219.4,185.6 219.4,186.1 220.1,186.9 220.4,187.6 222.4,189.4 224.6,189.1 225.4,189.6 227.1,189.6 228.4,190.6 229.4,190.6 230.4,188.9 232.9,188.6 234.4,187.1 234.9,186.1 235.6,185.6 236.4,184.1 236.9,180.9 237.6,179.9 238.4,179.4 241.4,179.6 242.9,178.4 244.1,178.4 244.4,178.6 245.6,177.9 246.1,177.1 245.6,176.6 246.6,175.4 246.6,174.4 247.4,172.9 247.1,171.6 248.1,170.4 248.1,169.1 248.6,168.1 248.4,167.1 247.6,166.1 247.9,162.1 247.1,160.9 246.9,159.1 246.4,159.1 245.9,158.6 245.9,157.6 245.6,158.6 245.1,158.6 244.4,157.9 244.6,156.9 245.6,157.1 245.1,154.9 243.6,153.4 243.4,151.6 242.6,151.1 241.1,151.1 240.9,151.4 240.1,150.9 239.4,149.9 239.1,148.4Z" fill="#684aa0"/>
<path d="M195.6,148.4 194.9,149.9 192.4,152.9 192.4,153.4 192.9,153.9 193.6,153.9 194.4,154.6 194.4,155.1 194.9,155.4 195.1,157.4 194.4,159.4 195.6,159.6 195.6,159.1 196.4,158.6 197.6,160.1 196.6,161.1 196.6,163.1 196.1,163.6 196.1,164.6 197.1,165.1 197.6,167.1 200.4,169.9 200.4,172.4 200.1,172.6 200.6,173.6 201.9,174.6 203.4,174.9 203.9,175.4 204.1,174.9 203.6,173.9 203.9,172.9 204.6,172.1 206.4,171.6 206.6,169.4 208.4,166.6 209.6,165.6 210.9,165.6 212.1,163.9 213.6,163.6 212.9,162.4 212.9,160.9 212.4,161.1 211.9,160.9 210.4,158.9 210.4,158.1 210.9,157.6 213.1,156.4 210.4,152.6 211.4,152.1 211.4,151.4 208.1,151.6 206.6,150.6 205.4,150.4 202.9,150.9 200.9,148.9 200.1,148.9 199.1,149.4 196.9,149.4 196.4,148.6Z" fill="#494ea3"/>
<path d="M145.6,231.4 145.1,231.4 143.6,232.1 143.4,232.6 142.9,232.6 143.1,232.9 142.9,233.1 143.4,233.6 143.1,234.6 142.6,234.6 141.9,233.6 142.1,233.1 139.1,233.1 138.1,234.1 137.4,234.1 136.9,233.6 135.9,233.6 134.6,234.4 133.9,234.4 131.9,232.9 130.6,232.9 128.1,233.9 126.4,235.9 123.6,236.1 122.1,238.9 123.9,241.1 124.4,241.1 125.4,242.4 124.9,243.6 124.9,245.9 126.1,246.9 127.4,248.6 127.6,251.9 128.4,253.4 128.1,254.4 127.1,255.6 127.1,256.1 128.4,256.9 128.1,258.1 129.1,259.1 128.9,262.6 126.6,263.1 125.9,264.1 126.4,265.6 125.6,266.4 124.9,266.6 124.6,267.1 125.4,268.4 127.6,269.1 129.1,270.6 131.4,270.9 132.1,271.6 131.9,272.6 132.4,272.9 134.4,272.6 137.6,275.9 137.9,275.6 139.4,275.9 139.9,276.6 139.4,278.1 140.4,280.1 140.9,279.9 142.1,280.6 143.6,280.4 144.1,278.9 145.9,277.1 146.6,275.6 147.4,275.1 148.4,275.1 149.4,276.1 149.6,275.9 150.1,276.1 150.9,275.9 152.6,276.1 153.1,275.6 152.9,275.4 151.9,275.6 151.4,275.4 150.9,274.4 150.6,272.4 148.9,270.9 149.9,269.6 149.9,268.1 148.9,266.1 148.9,261.6 147.9,260.1 148.1,258.6 147.9,258.1 146.6,257.4 146.6,255.9 145.4,253.4 145.9,251.4 145.6,251.1 145.4,248.4 144.9,247.9 144.9,246.9 146.9,244.4 147.1,241.6 146.6,240.1 144.1,237.6 145.1,236.6 145.1,236.1 144.1,235.1 143.9,234.4 146.1,232.6Z" fill="#e6c8e3"/>
<path d="M189.4,106.4 190.9,106.6 192.1,107.9 193.4,107.4 194.4,108.1 194.6,108.9 194.4,109.1 196.4,110.9 196.6,111.6 199.4,114.9 199.6,116.4 200.4,117.4 200.4,118.6 201.9,119.1 202.6,120.4 202.6,121.1 202.1,121.6 200.6,121.6 200.4,121.9 200.4,122.4 200.9,122.9 201.9,122.6 202.6,121.4 203.1,121.4 204.9,122.4 206.1,122.4 206.6,121.9 206.4,121.6 206.9,120.6 208.4,122.1 210.9,122.6 212.4,121.1 213.4,121.1 214.1,121.9 214.1,122.9 214.6,123.4 216.9,123.1 218.4,124.6 219.4,125.1 221.6,125.1 222.6,125.9 222.9,126.6 224.6,127.4 225.4,127.1 225.9,125.9 226.4,125.6 226.9,126.1 227.9,125.4 228.6,122.4 229.9,122.6 231.1,122.4 232.1,123.4 234.1,123.4 235.6,122.9 236.9,120.6 238.1,119.9 238.6,118.9 238.1,117.9 238.4,116.9 239.6,115.9 238.9,114.1 238.9,113.4 239.9,111.6 239.9,110.4 238.1,107.4 236.4,105.9 235.9,105.9 234.6,106.9 232.6,107.1 231.4,106.6 230.6,105.9 230.9,104.4 230.4,104.1 228.1,104.4 225.4,103.1 224.4,103.1 223.4,102.1 222.6,102.1 222.4,103.1 223.4,104.1 223.1,104.4 221.6,104.1 219.9,101.6 218.9,101.4 217.1,99.6 215.9,99.6 214.6,98.1 213.1,98.1 211.6,97.6 210.1,98.4 208.9,98.1 206.9,96.6 205.4,96.4 203.9,94.9 202.6,94.9 201.1,94.4 200.4,94.6 199.4,93.6 199.1,92.9 198.6,92.9 197.9,93.6 197.6,94.6 196.4,93.4 195.6,93.4 194.6,94.1 195.4,96.4 195.1,97.1 195.6,97.9 195.6,98.9 195.1,99.9 193.9,100.9 193.4,102.9Z" fill="#684aa0"/>
<path d="M195.1,361.4 194.9,361.9 195.1,363.4 193.4,365.6 193.4,367.6 191.6,368.9 191.1,370.4 189.9,370.4 189.1,371.4 189.4,372.1 191.6,372.6 191.6,375.1 192.4,376.4 194.4,378.4 194.4,379.6 194.1,379.9 194.4,380.6 195.6,380.4 196.4,381.1 196.4,381.9 195.6,383.4 196.4,385.1 198.4,386.9 199.4,388.6 200.1,388.9 201.6,390.1 202.6,389.4 203.9,389.6 205.6,391.1 206.6,391.4 207.6,392.6 208.9,392.9 215.1,392.6 215.9,393.4 216.6,393.6 217.1,393.4 219.1,394.9 220.1,395.1 221.1,396.4 221.9,396.4 221.9,395.6 222.6,393.9 223.9,393.1 224.1,392.6 222.6,390.4 223.1,389.6 225.6,387.6 225.6,386.1 226.4,385.6 227.4,385.6 228.1,384.9 228.4,383.4 226.6,381.6 226.4,380.4 225.9,380.4 224.1,378.9 224.1,378.4 223.1,377.9 222.1,376.9 222.1,376.4 220.1,374.6 219.9,373.6 220.6,371.9 219.6,369.6 218.9,369.6 216.6,368.1 216.1,365.9 214.4,364.4 214.6,364.1 213.1,362.1 211.1,361.4 208.9,361.1 206.9,359.6 205.4,359.9 203.6,361.4 203.1,361.4 201.6,360.1 201.1,360.6 199.1,360.4 198.1,360.9 196.1,360.9Z" fill="#8f6eb2"/>
<path d="M165.6,365.6 166.4,366.4 167.1,366.4 168.6,367.4 168.6,368.1 167.4,369.1 167.4,369.9 167.6,370.4 169.4,371.1 171.6,373.1 171.9,375.1 172.4,375.6 173.6,374.9 175.1,375.1 177.1,374.1 178.6,374.6 182.1,374.1 183.9,372.4 186.6,372.1 188.1,370.6 189.1,371.1 189.9,370.1 191.1,370.1 191.4,368.9 193.1,367.6 193.1,365.6 194.9,363.4 194.6,361.9 195.1,361.1 196.1,360.6 198.1,360.6 199.1,360.1 201.1,360.4 201.6,355.4 201.1,354.9 201.1,354.4 199.1,354.6 197.9,354.4 197.4,353.9 195.4,354.1 193.9,355.1 193.1,355.1 192.6,355.6 190.1,356.1 187.6,358.4 186.1,357.9 185.1,358.6 184.1,358.9 183.4,358.6 182.9,357.9 181.9,357.6 181.4,357.1 180.4,354.6 177.4,352.4 175.9,352.4 174.9,353.1 170.6,352.9 170.1,353.1 170.9,353.9 171.1,355.1 169.9,356.6 170.1,358.1 169.1,359.4 167.9,360.1 168.1,360.4 167.6,362.9 165.6,364.9Z" fill="#e6c8e3"/>
<path d="M357.1,380.4 355.6,378.9 354.1,376.4 353.4,376.1 352.6,375.4 351.1,374.9 350.1,373.6 348.6,373.6 347.6,374.4 344.4,375.1 342.9,376.4 340.9,377.1 339.4,376.9 337.9,375.1 336.4,375.9 336.1,375.6 334.4,378.1 331.9,378.9 331.4,379.4 331.4,379.9 330.6,380.4 328.9,380.1 327.4,378.9 322.9,378.6 321.9,377.9 322.1,380.4 321.1,381.4 320.4,381.6 320.1,382.1 320.1,385.9 321.1,387.9 320.4,390.1 321.1,390.9 321.4,393.1 320.9,393.9 320.9,395.4 321.4,396.1 321.4,396.9 320.9,397.6 320.9,399.4 319.9,400.6 321.6,401.6 325.1,402.1 325.9,402.9 326.1,403.9 326.6,404.1 330.6,404.4 333.4,405.1 333.6,404.6 335.9,404.6 335.6,404.4 335.9,403.1 336.6,404.1 337.9,404.1 339.1,403.1 340.9,404.1 341.9,403.6 343.1,402.4 345.4,402.1 347.9,400.1 348.9,400.1 350.4,398.9 351.4,398.9 352.6,394.9 352.4,393.9 353.4,391.9 354.9,390.1 356.6,389.9 357.9,388.4 357.9,388.1 357.4,388.4 357.1,388.1 357.1,387.1 357.6,385.4 357.4,384.1 358.1,382.4Z" fill="#e6c8e3"/>
<path d="M283.6,353.6 283.6,354.1 284.6,354.9 285.4,354.6 287.6,355.4 288.1,356.1 288.4,357.6 289.1,358.6 291.6,358.9 293.6,360.6 293.4,361.9 291.4,363.9 291.4,364.6 292.4,365.6 292.1,366.9 291.1,367.9 291.6,368.6 291.4,369.6 291.6,369.9 293.6,370.1 294.4,370.9 295.4,371.1 296.1,370.9 296.4,370.1 297.4,369.4 299.9,371.9 301.6,373.1 305.1,373.4 306.4,374.4 309.6,374.1 310.9,376.4 312.9,376.4 314.4,377.1 316.4,376.9 316.6,376.1 317.6,375.4 316.6,374.4 316.6,373.6 317.9,373.1 318.1,371.1 317.6,369.9 316.6,369.1 316.1,368.1 317.6,364.6 317.1,363.1 315.9,362.4 315.6,361.9 315.9,360.4 315.1,359.6 313.9,359.1 313.1,359.4 312.9,359.1 312.6,360.6 311.9,360.9 311.6,360.4 312.1,359.9 311.4,358.6 310.6,358.4 308.1,358.6 307.1,357.9 305.6,355.6 304.6,355.6 303.1,356.4 302.1,356.4 300.4,355.1 299.6,355.1 299.1,355.6 298.9,355.4 297.6,355.6 297.4,355.1 296.6,355.1 295.1,355.9 294.1,355.9 292.4,356.9 290.9,356.9 288.9,355.6 288.1,354.6 286.9,354.4 286.1,353.6 285.9,352.9 284.9,353.9Z" fill="#e6c8e3"/>
<path d="M83.6,236.6 83.9,236.9 83.1,237.6 84.1,239.4 83.6,240.1 84.4,239.9 84.6,240.4 85.4,240.1 86.1,240.9 86.9,243.4 88.4,244.4 88.6,246.1 90.4,247.1 90.4,248.1 89.9,248.4 90.1,248.9 89.4,249.4 89.4,249.9 91.1,251.6 91.1,252.1 91.9,252.9 91.6,253.6 91.9,253.9 91.6,254.4 91.9,255.1 93.4,257.1 95.1,257.9 95.6,259.6 97.6,260.1 99.1,261.4 101.4,262.1 101.9,262.9 104.6,264.1 104.9,264.6 106.4,264.4 108.6,265.1 111.1,265.4 111.9,265.9 113.9,265.1 115.4,263.9 116.6,263.9 117.4,263.4 118.1,263.4 118.4,263.9 117.9,264.4 117.9,265.6 118.4,266.4 120.1,266.4 120.9,265.9 124.1,265.4 124.6,266.6 126.1,265.6 125.6,264.1 126.6,262.9 128.6,262.6 128.9,259.1 127.9,258.1 128.1,256.9 126.9,256.1 126.9,255.6 128.1,253.6 127.4,251.9 127.1,248.6 125.9,246.9 124.6,245.9 124.6,243.6 125.1,242.4 124.4,241.4 123.9,241.4 122.6,239.6 121.9,239.1 122.6,237.1 123.4,236.1 122.6,235.9 121.6,234.6 120.9,234.9 120.6,235.9 120.1,236.4 119.4,236.4 118.1,234.9 118.1,234.1 117.6,233.6 115.1,233.4 113.1,231.4 112.9,231.6 112.6,231.4 110.9,232.1 109.6,233.1 108.1,233.6 107.6,234.6 105.4,236.4 105.4,236.9 104.6,237.9 103.6,238.4 102.9,238.4 101.4,239.1 101.1,239.6 100.1,238.9 98.9,238.6 98.4,238.1 98.1,237.1 96.9,237.1 96.6,237.4 94.6,235.9 94.4,234.6 92.6,232.4 91.6,232.6 91.4,233.9 90.9,234.4 89.9,234.4 89.1,233.9 87.9,235.1 86.9,235.4 86.1,234.9Z" fill="#e6c8e3"/>
<path d="M149.6,228.1 149.6,228.9 149.1,229.9 149.1,231.9 148.1,232.6 147.6,232.4 146.4,232.6 144.1,234.4 144.4,235.1 145.4,236.1 145.4,236.6 144.4,237.6 146.9,240.1 147.4,241.6 147.1,244.4 145.1,246.9 145.1,247.9 145.6,248.4 145.9,251.1 146.1,251.4 145.6,253.4 146.9,255.9 146.9,257.4 147.9,257.9 148.4,258.6 148.1,260.1 149.1,261.6 149.1,266.1 150.1,268.1 150.1,269.6 149.1,270.9 150.9,272.4 151.1,274.4 151.6,275.4 152.9,275.1 153.4,275.6 152.6,276.4 152.1,276.4 152.9,277.1 154.1,277.1 154.4,276.9 156.6,277.1 156.9,276.9 158.1,277.6 158.9,277.6 160.4,277.1 160.6,276.6 162.1,276.4 161.1,275.9 161.4,275.4 162.6,275.6 163.1,275.4 164.1,276.4 164.9,276.6 167.6,276.6 168.1,275.9 167.9,275.1 168.6,274.4 168.9,274.6 169.1,274.4 170.6,274.4 171.1,273.9 171.1,273.1 170.4,272.4 170.4,271.6 170.9,271.1 170.9,270.6 171.4,270.1 172.1,270.1 173.1,269.6 172.6,267.4 173.4,266.6 174.6,267.1 175.6,266.1 175.6,264.6 176.4,263.6 176.9,263.4 177.6,263.6 178.1,264.1 178.1,265.6 178.6,265.9 179.9,265.1 181.1,263.4 179.1,261.4 178.1,257.4 177.4,256.6 176.6,256.6 175.1,254.9 173.9,254.6 173.4,254.1 172.9,252.6 173.1,251.1 171.4,249.1 171.4,248.4 172.1,247.4 172.1,246.9 169.9,245.6 169.6,244.9 170.1,244.4 170.1,243.4 169.4,242.6 169.1,241.9 167.9,240.9 166.6,240.6 165.6,239.1 165.6,238.4 165.1,238.1 162.9,238.4 161.1,239.9 157.9,239.9 156.9,240.4 156.1,240.4 154.6,238.6 154.9,237.6 154.6,237.1 154.9,236.9 154.6,236.6 154.9,236.1 154.6,234.1 153.9,232.9 152.6,232.6 151.6,231.9 151.1,230.9 151.1,228.9 150.4,228.1Z" fill="#8f6eb2"/>
<path d="M176.9,263.6 175.9,264.6 175.9,266.1 174.6,267.4 173.9,266.9 173.4,266.9 172.9,267.4 173.4,269.6 172.9,270.1 171.4,270.4 170.6,271.6 170.9,272.9 172.1,274.1 171.1,274.9 170.9,276.6 170.4,277.4 170.4,278.6 172.1,280.6 172.1,282.6 171.9,283.4 171.1,284.1 169.4,284.6 169.4,285.4 169.9,285.9 170.1,287.1 168.6,289.6 166.9,290.1 167.1,290.9 166.4,291.9 165.4,292.1 165.4,293.4 165.9,294.4 165.9,295.1 166.6,295.4 168.4,295.1 169.9,296.1 169.6,298.1 170.4,298.9 172.9,299.6 174.1,299.6 174.6,300.1 176.9,300.1 179.1,302.6 180.6,302.4 181.4,302.6 182.1,303.9 184.6,304.4 185.1,303.6 185.6,301.4 186.4,301.1 187.1,301.6 187.9,301.6 188.4,300.1 191.4,299.4 192.6,298.6 194.6,296.6 197.9,295.6 198.1,295.9 198.6,294.6 199.6,293.6 200.6,293.4 200.1,291.4 199.4,290.6 199.1,289.4 198.1,288.4 197.4,288.1 196.4,288.6 195.4,288.6 194.1,287.9 193.9,286.9 192.9,285.4 193.1,285.1 192.9,284.6 193.1,284.4 193.1,282.4 192.6,281.9 192.1,278.6 191.6,278.1 190.6,277.9 189.1,276.1 189.1,275.4 189.9,274.9 190.1,273.6 189.6,273.1 189.1,273.4 188.6,272.9 187.9,272.9 186.9,271.4 186.4,271.1 186.9,270.4 187.6,270.1 187.4,269.9 187.6,268.6 187.1,267.6 186.4,266.9 185.4,266.6 184.1,265.4 184.1,264.9 183.1,264.9 181.4,264.1 180.9,264.1 179.9,265.4 178.6,266.1 177.9,265.6 177.9,264.1Z" fill="#684aa0"/>
<path d="M357.1,180.4 355.9,179.1 353.6,177.9 353.6,175.9 353.4,175.6 353.6,174.4 352.9,172.6 352.9,171.9 351.9,171.9 351.6,171.4 350.9,171.1 349.4,172.1 348.6,172.1 347.1,173.9 345.4,174.4 345.1,174.1 343.6,174.1 342.9,173.4 341.9,172.9 341.1,172.9 337.6,175.6 336.9,175.6 335.9,175.1 334.6,175.9 334.1,175.1 332.1,174.9 330.6,173.6 328.6,173.9 327.9,173.4 322.9,178.4 321.9,178.1 321.1,176.9 319.6,175.4 318.6,174.9 317.6,173.6 317.1,173.6 316.9,173.1 313.1,173.1 309.4,174.9 306.4,174.9 306.1,175.1 307.9,177.6 308.1,178.6 307.9,178.9 307.9,180.1 308.1,180.6 309.9,182.4 310.1,183.1 311.4,184.6 311.6,185.6 312.1,186.1 313.4,186.4 314.6,187.9 314.6,189.1 314.4,189.4 314.6,190.6 316.9,193.4 318.1,193.9 319.1,194.9 321.9,194.6 324.6,193.1 325.1,193.4 325.4,193.1 326.1,193.6 326.4,193.4 326.6,193.9 329.1,193.6 330.1,194.6 331.4,194.6 332.6,195.6 333.4,195.4 335.6,195.6 336.6,197.1 339.1,197.4 340.1,196.9 341.1,196.9 342.1,197.6 341.6,200.1 342.1,200.4 343.1,199.9 344.1,199.9 345.4,200.9 346.4,200.1 347.6,200.1 347.9,200.4 348.9,200.1 348.6,199.1 347.6,198.4 347.6,197.4 348.4,195.9 348.9,195.6 350.4,193.4 350.4,192.6 349.4,191.6 349.4,191.1 350.4,190.6 350.9,189.6 355.1,185.9 355.1,185.4 354.4,184.6 354.9,182.6Z" fill="#8f6eb2"/>
<path d="M238.4,179.6 237.1,180.9 236.6,184.1 235.6,185.9 235.9,186.1 235.6,188.1 236.9,190.4 236.4,191.6 238.1,193.4 238.1,194.6 237.4,197.4 236.6,198.9 236.6,200.9 236.9,201.1 236.4,201.9 236.4,203.4 235.4,203.9 234.6,203.9 233.6,204.6 233.1,207.4 232.4,208.1 231.9,208.1 231.4,208.9 231.4,210.1 232.1,210.9 231.9,212.1 232.1,214.6 233.4,215.4 234.1,213.9 235.6,213.6 236.4,213.1 237.4,213.1 237.6,213.4 237.4,214.1 237.6,215.4 238.4,215.6 239.4,215.1 240.1,215.1 243.4,216.6 244.9,216.6 246.1,215.4 247.4,215.4 247.9,215.9 249.1,215.9 250.4,215.1 251.1,215.6 251.1,216.9 250.9,217.1 251.6,217.9 254.4,218.1 257.4,218.9 259.4,220.9 260.4,220.9 261.1,221.4 262.1,222.6 263.6,222.4 264.6,222.9 264.9,223.4 265.6,223.6 266.1,223.4 268.6,218.6 268.1,216.1 268.6,215.6 269.6,215.4 269.9,214.9 269.9,214.1 268.4,211.6 268.4,211.1 269.9,210.1 270.9,208.9 270.1,207.9 270.1,206.9 270.9,205.9 271.4,204.4 271.1,203.6 269.9,202.1 269.9,201.6 270.4,201.1 271.4,200.9 272.9,199.4 272.9,198.4 272.4,197.9 271.4,198.1 270.1,197.4 268.1,197.4 266.9,198.6 266.1,198.9 265.4,198.6 264.6,197.9 264.4,196.9 261.9,194.6 260.6,195.6 260.1,194.9 260.9,194.4 259.6,192.6 259.9,191.6 259.6,190.9 259.1,190.4 255.6,189.4 254.6,188.4 254.4,187.6 253.6,187.1 253.6,185.4 253.1,184.4 251.1,184.1 250.1,183.4 250.1,181.1 250.4,180.9 250.1,178.6 249.6,178.6 249.1,179.1 247.4,179.1 247.1,179.4 245.4,179.4 244.1,178.6 242.9,178.6 241.4,179.9Z" fill="#8f6eb2"/>
<path d="M346.6,202.1 345.6,203.6 345.6,204.4 346.6,205.1 346.6,206.1 345.6,207.9 345.9,209.6 346.4,210.1 346.4,211.4 345.6,212.9 346.4,213.6 347.6,213.6 348.6,212.4 349.4,212.4 351.1,214.1 353.1,215.1 353.9,215.1 355.6,214.4 356.6,214.6 356.4,213.9 356.6,213.6 356.6,212.4 356.4,212.1 355.4,212.9 354.9,212.4 354.9,211.4 353.9,209.6 353.9,208.9 352.9,208.6 352.4,208.1 352.6,206.9 352.4,206.6 352.4,205.1 349.4,201.9Z" fill="#494ea3"/>
<path d="M220.1,165.1 216.6,163.9 215.9,163.1 215.4,163.1 214.4,163.9 212.1,164.1 210.9,165.9 209.6,165.9 208.6,166.6 206.9,169.4 206.6,171.6 204.6,172.4 203.9,173.4 204.1,174.6 206.6,177.1 206.1,178.1 205.4,178.6 205.1,179.4 205.6,180.9 205.9,180.6 207.1,180.9 208.9,180.9 209.1,180.6 210.1,181.9 213.1,180.9 214.1,180.9 214.6,181.4 215.4,181.4 215.4,180.6 216.4,180.4 217.6,182.1 218.9,181.1 219.1,179.6 221.1,176.6 221.1,175.9 219.4,174.6 219.4,173.6 220.6,173.4 220.1,172.6 220.1,171.4 222.1,169.4 221.9,168.1Z" fill="#684aa0"/>
<path d="M197.4,149.1 199.1,149.1 200.1,148.6 200.9,148.6 202.9,150.6 205.4,150.1 206.6,150.4 208.1,151.4 211.4,151.1 211.6,152.1 211.1,152.6 210.6,152.6 212.9,155.6 212.9,154.1 213.9,153.1 216.6,153.4 217.1,153.9 218.4,153.9 220.4,152.6 222.9,151.9 223.6,151.1 223.6,149.9 223.1,148.4 221.1,148.1 219.4,147.4 218.4,146.1 215.6,146.1 213.1,145.4 211.9,146.4 211.1,146.4 210.6,145.9 210.4,144.4 208.6,143.4 206.4,144.6 202.6,143.9 202.4,144.1 200.4,144.1 199.1,145.6Z" fill="#684aa0"/>
<path d="M222.9,61.9 222.6,62.1 222.4,61.9 221.1,62.1 220.1,62.6 219.4,63.6 214.9,64.1 210.6,65.6 209.9,65.4 209.1,65.6 207.6,66.9 206.4,66.4 205.4,66.4 203.4,67.1 201.4,66.6 200.6,67.1 199.9,68.4 199.9,69.1 199.1,70.1 198.1,69.9 197.9,70.1 197.6,69.9 195.9,71.1 196.1,72.4 197.1,74.4 197.1,75.1 195.9,77.1 195.9,78.1 197.1,79.9 197.1,80.6 196.4,81.9 196.4,83.4 196.9,83.9 196.9,84.6 196.4,85.9 195.4,86.9 195.4,87.6 196.1,88.6 195.9,89.1 195.9,91.6 195.1,92.6 194.6,94.1 195.4,96.4 195.1,97.1 195.6,97.9 195.6,98.9 195.1,99.9 193.9,100.9 193.4,102.9 188.1,107.6 183.6,109.9 181.9,110.1 180.6,111.4 179.6,111.9 176.9,112.1 176.1,113.1 174.4,113.6 172.9,115.1 170.9,114.9 168.1,116.1 167.4,116.1 166.1,118.1 163.1,117.9 160.4,119.4 159.9,119.4 158.9,120.6 158.9,121.1 158.1,121.9 157.1,122.1 155.1,124.4 155.6,124.9 155.6,126.1 154.1,127.6 153.9,128.9 154.4,129.4 154.9,129.4 156.1,130.1 156.6,130.9 157.4,131.1 158.1,132.4 157.1,133.6 155.1,134.6 154.1,134.4 152.1,136.1 150.6,136.1 149.9,135.6 149.1,135.6 146.9,137.9 144.4,138.4 143.9,138.1 143.6,138.4 141.6,137.4 141.1,137.6 140.9,137.1 140.4,137.4 139.9,136.9 139.4,136.9 139.1,136.4 136.1,135.9 134.1,134.9 132.9,135.1 132.4,134.6 131.1,134.4 130.9,134.6 129.9,134.4 128.9,134.6 127.4,134.1 125.9,134.1 124.9,133.1 122.9,132.4 121.1,132.6 120.1,133.1 118.9,131.9 118.1,130.6 118.4,130.4 116.6,129.1 116.4,128.6 116.6,127.6 116.1,126.6 114.9,125.6 115.4,123.6 117.1,121.9 117.1,121.4 115.9,120.4 115.4,120.6 114.9,120.1 113.9,120.4 113.1,119.9 111.1,120.6 110.4,120.4 109.6,119.6 108.9,119.9 108.1,119.4 106.6,119.4 106.4,119.6 106.1,119.4 103.9,119.4 102.6,118.9 101.9,118.1 101.6,118.4 101.1,118.1 100.4,118.9 100.1,118.6 99.4,119.1 98.9,118.1 98.9,117.4 97.9,116.9 97.1,116.9 96.6,117.4 96.6,118.6 98.1,120.9 98.1,123.4 99.6,126.1 99.4,127.4 99.6,128.6 99.4,128.9 100.6,130.1 100.4,130.4 100.6,130.6 100.6,132.6 102.4,134.1 103.4,137.6 103.4,138.9 103.9,139.6 104.6,139.9 104.9,141.4 105.9,142.4 105.1,144.4 106.1,146.9 106.1,147.9 105.4,149.1 105.4,149.9 104.9,150.4 104.9,151.9 104.4,153.1 104.6,153.6 104.4,154.9 104.9,155.4 104.9,156.6 104.1,159.1 104.6,159.6 104.4,160.6 105.6,161.9 107.1,162.4 108.6,164.1 108.6,164.9 108.1,165.4 107.4,165.4 106.6,164.6 106.1,164.6 104.6,163.6 103.6,163.6 101.6,164.4 100.6,163.4 99.1,164.6 97.4,164.9 96.6,163.9 95.9,161.4 95.1,160.9 94.4,160.9 93.6,161.4 93.6,162.1 92.9,162.4 93.1,162.6 92.9,162.9 91.9,162.9 88.6,164.6 88.1,164.6 87.6,163.9 86.1,163.1 85.4,163.1 83.9,162.4 81.6,162.1 81.6,162.6 80.4,163.6 77.9,164.6 77.1,164.4 75.1,165.6 73.6,165.6 72.6,166.9 71.9,166.1 72.1,165.9 70.6,164.6 68.9,162.4 68.6,159.6 67.4,158.4 66.4,158.6 66.1,158.4 66.4,157.9 66.9,157.9 66.6,156.9 65.9,156.1 65.1,155.9 64.9,156.1 63.9,154.9 63.6,153.1 62.9,153.1 62.1,151.9 60.1,152.4 58.6,151.6 57.6,151.9 55.1,151.6 54.4,152.4 52.1,153.1 51.4,152.9 49.9,153.6 48.4,153.9 47.9,154.6 47.9,155.6 46.4,159.1 45.4,159.1 44.4,158.1 43.4,157.9 43.1,157.4 42.4,157.1 40.6,157.6 39.9,156.9 37.6,157.6 36.9,156.4 35.9,155.9 35.4,156.1 32.1,155.9 31.6,156.4 29.6,156.4 29.4,156.6 28.1,156.4 27.4,156.9 25.4,156.9 25.1,157.1 24.4,156.6 23.4,156.6 23.6,157.4 22.9,157.6 23.1,157.9 22.9,158.4 22.4,158.4 21.9,157.9 20.4,158.4 19.4,159.1 18.6,159.4 17.6,159.1 17.1,159.4 16.9,159.1 16.6,159.6 16.1,159.6 14.9,160.6 14.4,160.4 13.6,160.6 13.1,161.6 12.6,161.4 12.6,162.1 10.9,164.4 11.1,167.4 12.6,169.4 13.4,169.4 14.4,170.1 16.1,170.4 17.4,169.9 18.6,168.6 20.4,168.9 21.6,167.6 22.6,167.4 23.9,168.4 23.9,169.4 26.6,172.1 26.9,172.9 25.6,174.4 24.9,174.4 23.1,172.1 21.4,172.9 19.9,172.9 17.6,172.1 16.9,172.4 16.1,173.1 16.1,173.9 17.4,175.1 17.4,175.6 18.4,176.6 18.4,177.1 19.6,175.4 22.6,175.4 24.6,177.1 24.4,179.1 24.9,179.6 24.9,181.1 24.1,181.9 22.6,181.9 21.9,180.9 20.1,180.6 19.1,180.9 18.1,182.1 17.4,182.1 15.6,180.9 14.1,182.6 13.4,182.6 13.9,184.6 15.6,184.4 17.1,185.1 17.9,184.6 18.1,184.9 18.9,184.6 19.6,185.4 19.9,187.9 21.6,188.9 22.6,190.9 22.1,192.1 22.1,193.9 23.6,193.9 24.9,193.4 25.4,193.6 26.6,193.1 27.1,192.4 28.1,191.9 30.6,192.1 31.6,191.6 32.4,191.6 34.1,192.9 34.6,192.9 37.4,195.1 38.9,195.6 39.4,195.1 41.1,195.1 42.4,195.9 43.9,196.1 44.9,197.4 45.9,197.9 46.4,197.6 47.6,197.9 48.1,198.4 48.6,198.1 49.4,198.6 50.9,198.4 51.4,199.1 50.6,199.9 51.1,200.1 50.9,200.6 51.4,201.1 52.6,200.9 57.4,204.1 57.4,204.6 56.9,205.1 56.9,206.1 56.4,206.9 56.1,208.6 58.1,207.9 61.4,207.9 63.4,206.6 65.4,206.4 68.1,208.9 68.9,210.1 70.4,210.4 70.9,210.9 72.9,210.9 73.6,210.4 75.1,210.4 75.4,210.6 75.9,213.1 76.4,213.6 74.6,215.4 74.9,215.6 74.4,216.1 74.6,217.1 74.1,217.6 74.4,218.1 74.1,218.6 74.9,219.6 74.6,219.9 75.4,221.1 77.9,222.6 79.9,223.1 80.6,223.9 81.9,224.4 82.4,224.1 83.1,224.9 82.6,225.4 82.4,230.4 82.9,230.9 85.4,230.4 85.9,231.1 85.9,231.9 86.9,233.4 86.4,234.6 84.6,236.1 84.1,236.1 83.6,236.6 83.9,236.9 83.1,237.6 84.1,239.4 83.6,240.1 84.4,239.9 84.6,240.4 85.4,240.1 86.1,240.9 86.9,243.4 88.4,244.4 88.6,246.1 90.4,247.1 90.4,248.1 89.9,248.4 90.1,248.9 89.4,249.4 89.4,249.9 91.1,251.6 91.1,252.1 91.9,252.9 91.6,253.6 91.9,253.9 91.6,254.4 91.9,255.1 93.4,257.1 95.1,257.9 95.6,259.6 97.6,260.1 99.1,261.4 101.4,262.1 101.9,262.9 104.6,264.1 104.9,264.6 106.4,264.4 108.6,265.1 111.1,265.4 111.9,265.9 110.1,267.6 109.6,269.1 109.4,271.6 109.9,273.4 111.4,273.6 112.4,275.4 113.9,276.6 113.9,277.4 113.4,277.9 113.1,279.1 112.4,279.9 112.1,280.9 112.4,281.1 111.9,282.6 110.4,284.6 110.1,285.9 110.9,286.6 110.4,287.6 109.6,288.4 107.9,287.9 107.4,288.1 107.4,289.6 107.9,290.4 107.6,291.6 109.1,293.4 111.6,295.4 112.4,297.1 112.4,297.9 111.1,299.4 109.9,299.9 109.4,302.1 110.1,303.1 109.1,303.6 108.6,306.9 108.1,307.4 108.6,309.1 108.1,310.9 107.4,311.4 107.6,312.6 107.4,312.9 107.4,316.9 107.1,317.1 107.1,318.6 106.6,319.1 106.9,320.6 107.4,321.4 106.4,323.9 106.4,325.1 105.6,326.1 105.6,327.4 105.9,327.6 105.6,329.6 104.4,331.1 104.9,331.9 104.6,333.9 105.4,335.4 104.9,338.4 105.6,339.9 105.4,341.6 104.6,342.4 104.6,343.1 104.1,343.6 103.9,344.9 104.1,347.9 103.4,349.6 103.4,350.9 103.9,351.4 103.9,352.1 102.6,353.9 101.9,354.1 101.9,354.6 101.1,355.1 100.9,357.4 100.4,358.6 100.1,361.9 99.4,362.4 99.6,364.1 99.1,366.6 98.6,367.1 98.9,369.9 97.9,371.1 98.4,373.4 97.9,374.6 96.4,376.1 95.9,377.1 96.1,377.6 95.9,378.1 96.4,378.6 96.6,379.6 94.4,382.6 93.9,384.4 92.9,385.1 92.4,385.1 90.1,387.4 89.9,387.1 89.6,387.4 89.9,387.6 89.6,387.9 89.9,388.9 89.4,389.6 88.1,389.6 87.9,389.4 86.1,389.4 85.1,391.6 85.9,392.4 86.4,394.1 86.9,394.6 88.4,393.9 91.6,395.1 91.9,395.4 91.6,395.9 92.1,396.4 93.4,396.4 93.6,396.1 94.4,396.6 94.9,396.1 96.4,395.9 96.9,396.4 96.9,397.1 96.1,397.9 95.6,397.9 94.9,398.9 95.1,400.4 94.4,402.6 94.9,402.6 96.4,403.6 96.6,403.4 96.9,403.6 98.9,403.4 100.6,405.4 102.9,405.9 104.1,406.9 105.1,407.1 106.1,406.9 107.9,407.9 109.4,408.1 109.9,408.9 111.1,409.4 112.6,409.4 115.1,411.6 116.1,411.9 117.4,413.4 118.1,413.6 119.4,415.6 121.4,416.1 121.9,416.6 122.1,417.6 124.4,417.6 125.4,416.9 128.6,416.6 130.6,415.6 131.9,416.1 133.6,418.1 134.1,418.1 136.4,420.4 136.6,420.1 139.1,422.1 141.1,422.1 142.4,421.4 143.4,421.6 144.1,421.1 145.4,421.1 146.1,421.6 146.1,422.1 146.9,423.1 147.4,423.1 148.4,422.4 149.9,422.4 151.6,422.9 153.6,422.6 155.9,423.9 156.9,423.4 161.4,423.4 161.6,422.1 160.6,420.4 161.6,419.6 161.9,418.9 162.1,419.1 162.6,418.6 163.1,418.9 164.1,417.9 166.9,416.6 167.6,417.4 168.4,417.6 169.1,417.1 170.4,417.6 171.6,418.6 173.4,418.6 173.9,419.1 173.9,419.9 176.4,420.9 176.6,421.4 177.9,422.1 179.1,422.4 179.6,422.1 182.9,424.1 183.4,423.9 185.4,424.9 186.9,425.1 189.4,427.4 189.6,428.6 190.9,429.1 192.1,430.4 195.4,430.6 196.1,431.6 199.4,432.9 200.1,432.4 200.9,432.4 202.4,434.1 202.6,435.6 203.1,436.4 202.9,436.9 203.1,438.9 203.9,438.9 206.9,437.6 208.9,437.9 209.4,437.4 210.9,436.9 213.1,437.1 214.6,436.6 216.4,437.6 216.9,437.6 217.9,438.6 219.1,438.6 220.4,439.4 222.9,438.9 226.1,436.6 228.6,435.9 230.9,433.9 231.4,433.9 233.4,435.1 234.9,434.9 236.1,435.1 236.9,435.6 236.9,435.1 238.1,434.1 238.9,434.1 239.4,433.6 239.6,433.9 240.4,433.6 238.6,431.9 237.6,429.6 237.4,426.1 237.1,425.9 237.6,424.1 236.9,423.1 236.9,420.4 237.4,418.9 237.4,416.9 238.1,416.6 238.6,415.9 238.4,414.9 237.9,414.4 237.9,413.1 238.4,412.1 238.9,408.6 239.4,407.4 240.6,405.9 240.6,405.1 241.4,404.4 242.4,403.9 243.1,403.9 244.9,401.6 251.6,398.1 254.4,397.4 256.4,395.4 256.6,395.6 257.4,395.4 258.6,394.4 259.6,394.1 260.4,392.4 261.9,391.1 262.6,391.6 264.1,391.1 265.9,388.9 266.4,388.9 267.9,387.6 268.1,387.9 270.6,388.1 272.1,389.4 272.9,389.6 274.9,389.6 275.4,390.1 276.6,389.9 276.9,390.1 277.9,389.9 279.9,390.1 283.9,393.4 284.1,393.1 284.6,393.6 288.9,394.6 290.1,396.1 291.1,395.4 291.6,394.4 293.9,393.6 293.9,392.9 294.6,391.9 295.4,391.9 297.1,392.4 298.1,393.4 299.4,393.6 300.6,393.1 302.9,394.6 305.1,394.6 305.4,394.4 308.1,394.1 308.9,395.1 308.1,396.9 309.4,398.1 309.4,398.9 311.4,399.4 312.1,400.1 313.6,400.1 313.9,400.4 314.6,400.1 316.9,400.4 317.6,399.9 318.4,399.9 319.1,400.6 320.1,400.6 321.6,401.6 325.1,402.1 325.9,402.9 326.1,403.9 326.6,404.1 330.6,404.4 333.1,405.1 333.6,404.6 335.9,404.6 335.6,404.4 335.9,403.1 336.6,404.1 337.9,404.1 339.1,403.1 340.9,404.1 341.9,403.6 343.1,402.4 345.4,402.1 347.9,400.1 348.9,400.1 350.4,398.9 351.4,398.9 352.6,394.9 352.4,393.9 353.4,391.9 354.9,390.1 355.9,390.1 357.1,389.4 358.6,387.1 359.1,384.9 359.9,384.4 360.9,384.4 361.4,383.9 362.4,383.9 363.4,383.1 364.6,383.1 366.6,381.1 366.9,379.9 368.1,378.4 369.9,377.6 370.4,377.9 371.9,376.9 371.6,376.6 372.4,375.6 374.1,375.1 376.6,372.6 377.6,372.4 378.6,371.4 378.9,369.6 378.1,369.1 378.6,368.4 378.6,367.4 379.4,366.9 380.1,364.4 381.9,362.6 381.4,359.1 380.6,358.4 380.6,357.9 379.6,357.1 378.6,357.1 377.9,356.6 376.9,358.1 375.9,358.1 374.9,357.4 373.6,357.9 372.6,357.4 371.6,357.4 370.9,358.1 369.6,356.9 369.4,357.1 367.6,357.1 365.9,354.6 365.1,354.4 363.6,353.1 361.9,352.9 359.6,351.1 358.4,349.4 358.1,347.4 357.1,346.6 356.9,346.9 355.9,345.1 355.6,342.6 356.4,341.4 356.4,339.9 355.9,339.1 356.1,338.1 359.6,336.1 360.1,336.4 360.4,337.4 360.4,335.1 360.1,335.4 359.6,335.1 359.6,334.4 358.9,333.4 359.1,332.6 358.9,331.6 357.9,330.6 356.6,330.1 355.6,330.1 353.1,328.9 351.4,326.9 351.1,326.1 350.6,325.9 350.4,324.9 349.1,324.4 348.4,323.6 348.6,322.9 348.4,321.4 348.6,321.1 348.1,320.4 347.9,317.9 348.9,317.4 350.1,317.6 351.4,317.1 351.1,316.9 351.9,316.6 352.6,315.9 353.4,316.1 355.1,315.6 356.6,313.6 357.1,313.6 357.6,312.9 358.1,313.1 359.1,312.4 361.1,309.6 361.6,308.1 361.4,306.9 361.6,306.4 362.6,305.6 358.1,300.9 358.4,299.9 357.4,298.9 356.6,297.1 356.6,295.9 355.9,294.9 353.9,293.1 353.4,293.1 352.6,292.4 351.9,292.4 349.6,290.4 350.9,289.6 352.9,287.4 353.9,287.1 356.1,284.9 357.4,282.9 355.9,280.4 355.1,277.6 353.6,277.1 352.4,275.9 352.1,274.9 350.6,273.4 349.9,272.1 350.1,271.9 349.9,270.4 351.9,267.4 351.4,266.1 350.6,265.6 350.4,264.9 350.6,264.6 350.1,263.4 349.6,263.1 349.4,262.4 347.9,263.1 346.6,262.1 344.9,262.4 343.6,261.6 342.1,263.1 339.6,262.9 339.4,263.4 336.6,265.1 333.1,265.4 332.4,267.1 330.4,270.1 330.4,271.9 330.1,272.9 329.6,273.4 328.4,273.6 326.6,272.6 325.1,272.6 324.9,271.6 325.4,271.4 325.1,271.1 325.4,270.1 327.6,268.4 328.4,267.1 328.1,266.6 328.4,266.4 328.6,266.6 329.1,265.9 329.4,266.1 330.4,265.1 329.9,264.1 329.9,261.6 329.4,261.1 329.1,259.9 327.4,256.6 327.4,255.6 329.1,254.1 329.9,253.9 331.4,252.4 331.6,251.6 334.6,248.6 335.1,248.6 335.9,247.4 337.4,245.9 337.9,244.9 337.9,243.1 337.6,242.9 337.9,241.6 337.4,240.9 337.4,240.1 338.1,239.6 338.1,239.1 339.4,238.9 341.6,237.6 342.1,236.4 343.6,235.1 343.6,234.1 345.1,232.9 345.6,231.6 349.9,227.6 351.1,226.1 351.1,225.4 351.6,224.6 352.4,224.1 353.4,222.4 353.1,222.1 353.4,221.4 353.1,220.6 352.4,219.6 351.1,219.9 350.6,219.4 351.4,217.6 351.6,215.9 355.6,214.4 356.4,214.4 358.9,216.9 359.9,216.6 360.9,215.4 362.6,215.6 363.6,215.1 363.9,215.6 365.1,215.9 366.1,215.1 366.4,214.6 366.1,213.9 366.6,212.6 368.4,209.6 370.9,207.6 370.6,206.6 368.9,205.1 368.1,200.4 368.6,200.1 368.4,199.1 369.1,196.4 368.9,195.9 369.4,195.1 369.4,194.4 370.1,193.6 369.6,191.9 369.9,190.6 369.1,189.6 368.4,187.4 369.6,185.9 369.4,185.6 369.6,185.4 369.4,183.6 370.1,182.1 369.9,181.4 371.1,180.4 371.4,179.1 370.9,177.9 371.9,176.4 371.9,175.6 372.4,175.4 372.1,174.1 371.1,172.6 371.6,171.4 373.6,169.6 373.9,168.1 375.4,166.9 375.6,166.1 375.1,164.9 375.9,163.1 377.1,162.1 379.6,159.1 379.4,158.9 380.4,158.1 380.6,156.6 381.4,155.4 381.1,154.9 381.9,153.4 383.1,152.1 382.9,151.9 383.4,150.9 383.1,150.6 384.1,148.9 383.4,148.1 382.1,147.6 381.1,147.9 380.1,147.4 378.4,145.6 378.1,145.9 377.1,145.4 376.9,145.6 375.4,145.4 375.1,145.9 374.6,145.9 374.1,145.4 373.6,145.6 373.1,145.1 372.6,145.1 369.9,146.4 368.6,146.6 368.4,146.1 364.4,145.1 361.1,141.9 360.4,142.6 359.6,142.6 358.1,143.9 356.9,143.9 355.1,143.1 354.1,143.1 352.4,144.9 351.6,144.9 350.9,144.1 351.1,143.9 350.9,143.1 350.4,143.1 349.6,142.4 350.1,141.9 349.6,141.4 349.4,140.1 348.9,140.6 348.4,140.6 347.6,141.6 346.6,140.9 344.4,141.4 344.1,140.9 340.4,139.4 339.6,137.9 338.6,137.6 337.9,137.9 336.9,136.9 336.1,134.9 335.6,134.4 335.9,134.1 335.6,133.1 334.1,132.6 333.4,131.9 333.4,131.4 332.4,130.6 331.9,130.6 331.1,129.9 330.6,128.9 328.9,129.4 328.6,129.1 327.6,129.4 326.4,128.9 325.6,129.4 324.4,129.1 323.4,129.4 323.1,129.1 319.4,131.4 313.9,126.9 312.1,127.6 310.9,127.4 310.6,127.6 308.1,127.9 307.9,128.4 306.6,128.4 305.9,128.9 304.9,128.4 302.9,126.4 302.9,125.9 301.9,124.4 300.4,124.1 299.4,123.1 299.4,122.6 298.4,121.9 296.1,121.4 295.6,120.6 296.4,119.9 295.1,118.6 294.1,118.1 293.1,118.1 292.1,116.9 290.4,116.6 289.4,114.9 288.6,114.6 288.1,113.9 288.1,112.9 286.9,110.6 286.4,110.4 286.4,108.6 287.6,106.4 287.6,104.9 286.9,103.9 286.9,102.1 286.1,102.6 284.1,102.9 283.4,103.6 283.4,105.1 282.1,106.4 281.9,107.4 280.1,107.9 277.4,110.4 276.4,110.6 272.4,110.4 271.1,110.9 270.9,110.1 268.6,110.1 268.1,109.6 269.4,104.1 269.4,103.1 268.4,100.9 268.4,99.9 269.1,98.6 267.6,96.1 265.9,94.1 265.4,93.9 264.9,94.4 263.6,94.4 262.1,94.9 261.9,95.4 261.4,94.9 260.1,94.6 259.4,94.9 258.4,94.6 257.6,95.1 255.9,95.1 251.6,90.9 251.4,89.9 249.6,86.9 246.9,86.6 243.6,85.6 243.4,84.9 243.9,84.4 243.6,84.1 243.4,84.4 243.1,83.4 242.1,82.6 242.4,80.1 241.1,78.6 241.1,78.1 240.1,76.6 237.6,75.1 236.1,76.4 234.9,76.1 233.1,76.1 231.6,76.6 230.9,76.4 230.1,77.4 229.1,77.6 228.9,76.4 227.1,74.9 227.1,74.1 226.1,72.1 225.1,71.1 225.1,70.1 224.1,66.9 224.9,65.9 224.9,64.9 224.1,64.1 223.6,62.4Z" fill="none" stroke-width="0.9"/>
<path d="M2.3,163.1 4.9,163.0 5.0,164.4 2.4,164.5Z" fill="#120f1c" stroke-width="0.8"/>
<path d="M46.4,202.8 48.6,203.0 48.8,204.3 46.5,204.2Z" fill="#8f6eb2" stroke-width="0.8"/>
<path d="M52.4,215.3 54.6,214.8 57.6,217.8 57.2,219.3 54.6,218.9 52.7,217.1Z" fill="#8f6eb2" stroke-width="0.8"/>
<path d="M79.4,232.7 80.9,232.4 81.8,235.4 80.9,236.3 79.8,235.1Z" fill="#e6c8e3" stroke-width="0.8"/>
<path d="M75.6,245.1 77.6,244.8 78.8,246.3 77.3,247.1 75.8,246.3Z" fill="#e6c8e3" stroke-width="0.8"/>
<path d="M99.2,267.3 101.1,267.0 107.4,271.1 106.7,271.8 100.0,269.6Z" fill="#e6c8e3" stroke-width="0.8"/>
<path d="M103.0,276.3 104.8,277.4 107.8,279.7 108.9,283.8 108.6,286.4 107.6,288.0 106.5,285.0 105.0,282.0 103.5,279.0Z" fill="#e6c8e3" stroke-width="0.8"/>
<path d="M336.4,408.0 339.4,407.8 339.5,408.9 336.5,409.0Z" fill="#e6c8e3" stroke-width="0.8"/>
<path d="M343.1,407.4 346.4,406.6 346.7,407.5 343.4,408.4Z" fill="#e6c8e3" stroke-width="0.8"/>
<path d="M109.9,297.7 112.8,295.6 116.7,299.8 121.2,305.8 124.2,312.7 126.3,323.2 124.5,319.9 122.0,314.2 118.8,307.3 114.3,301.3Z" fill="#fff" stroke-width="0.7"/>
<path d="M109.0,298.6 112.5,295.1" stroke="#fff" stroke-width="1.6"/>
<path d="M105.4,334.9 108.4,332.6 111.3,336.3 107.6,337.1 105.1,337.8Z" fill="#fff"/>
<path d="M298.2,388.4 301.2,386.9 302.7,389.1 305.7,389.9 304.2,392.1 300.5,392.8 299.0,390.6Z" fill="#fff"/>
<path d="M63.3,207.6 64.7,205.9 67.3,205.3 68.6,206.8 68.3,208.7 66.2,208.8 64.3,208.5Z" fill="#fff" stroke-width="0.7"/>
<path d="M56.0,207.3 L56.5,211.2" fill="none" stroke-width="1.0"/>
<circle cx="295.8" cy="351.9" r="2.1" fill="#e6c8e3"/>
<ellipse cx="138.4" cy="395.3" rx="1.0" ry="1.8" fill="#684aa0" stroke-width="0.6"/>
<ellipse cx="139.6" cy="392" rx="0.8" ry="1.4" fill="#684aa0" stroke-width="0.6"/>
<path d="M223.6,151.4 222.9,152.1 220.4,152.9 218.4,154.1 217.1,154.1 216.6,153.6 213.9,153.4 213.1,154.1 213.1,156.1 213.4,156.4 210.9,157.9 210.6,158.9 211.6,159.9 211.9,160.6 213.1,160.9 213.1,162.4 213.9,163.6 215.9,162.9 216.6,163.6 220.4,165.1 221.6,165.1 221.9,165.4 223.1,165.1 223.4,164.6 223.1,162.6 223.6,161.4 222.6,161.6 222.4,160.6 223.6,159.4 223.6,157.9 223.4,157.6 223.4,156.1 222.6,155.1 222.4,154.1 223.6,152.4Z" fill="#684aa0"/>
<path d="M215.6,154.9 220.2,153.9 223.0,152.8 223.5,159.6 219.3,159.3 217.8,157.3 216.1,156.4Z" fill="#494ea3" stroke="none"/>
<path d="M215.4,154.6 L216.1,156.4 M215.4,162.6 L214.9,160.2 M219.2,159.4 L223.9,159.7" fill="none" stroke-width="0.7"/>
<path d="M213.1,158.4 214.5,157.0 216.2,156.4 217.8,157.4 219.2,159.3 217.5,160.3 215.5,160.3 214.0,159.6Z" fill="#684aa0" stroke-width="0.7"/>
<circle cx="235.7" cy="143.2" r="0.9" fill="#120f1c" stroke="none"/>
</g>
<g transform="translate(392.5,2.7)" stroke="#120f1c" stroke-width="0.85" stroke-linejoin="round">
<path d="M396.0,393.4 399.0,393.4 400.6,397.5 401.1,401.6 400.1,406.4 401.7,409.8 403.8,413.9 404.5,419.3 405.4,424.7 405.8,430.2 404.5,434.9 402.4,439.0 401.1,442.4 401.1,442.4 397.0,442.4 395.6,439.0 392.9,434.9 389.5,430.9 385.4,427.5 381.3,424.7 377.2,424.1 373.4,423.1 373.2,423.6 375.2,420.7 374.5,417.3 377.2,414.5 380.0,411.8 384.0,409.8 388.1,407.7 390.2,405.7 394.3,405.7 397.0,406.4 396.6,402.3 396.0,397.5Z" fill="#e6c8e3"/>
<path d="M401.1,442.4 401.7,446.5 402.4,450.6 401.1,454.7 399.0,457.4 397.7,462.1 395.6,464.2 392.9,462.8 389.5,460.1 385.4,458.7 382.0,456.0 383.4,453.3 382.4,449.9 378.6,449.2 380.6,445.8 381.3,442.4 378.6,440.4 375.2,440.4 377.2,437.0 378.6,434.3 375.9,431.5 373.8,428.8 376.6,426.1 373.2,423.6 373.4,423.1 377.2,424.1 381.3,424.7 385.4,427.5 389.5,430.9 392.9,434.9 395.6,439.0 397.0,442.4 401.1,442.4Z" fill="#e6c8e3"/>
</g>
<text y="25.9" font-size="15" font-weight="bold" fill="#56b3d6" stroke="#56b3d6" stroke-width="0.45"><tspan x="34.0" textLength="36.3" lengthAdjust="spacing">Carte</tspan> <tspan x="74.1" textLength="8.6" lengthAdjust="spacing">2</tspan> <tspan x="86.4" textLength="5.4" lengthAdjust="spacing">-</tspan> <tspan x="98.0" textLength="76.0" lengthAdjust="spacing">Proportion</tspan> <tspan x="178.1" textLength="16.0" lengthAdjust="spacing">de</tspan> <tspan x="196.8" textLength="72.9" lengthAdjust="spacing">logements</tspan> <tspan x="273.8" textLength="58.1" lengthAdjust="spacing">chauffés</tspan> <tspan x="336.0" textLength="16.0" lengthAdjust="spacing">au</tspan> <tspan x="355.7" textLength="30.8" lengthAdjust="spacing">fioul</tspan> <tspan x="391.2" textLength="58.5" lengthAdjust="spacing">(gauche)</tspan> <tspan x="454.4" textLength="13.3" lengthAdjust="spacing">et</tspan> <tspan x="472.2" textLength="16.6" lengthAdjust="spacing">au</tspan> <tspan x="493.5" textLength="23.7" lengthAdjust="spacing">gaz</tspan></text>
<text y="47.7" font-size="15" font-weight="bold" fill="#56b3d6" stroke="#56b3d6" stroke-width="0.45"><tspan x="34.0" textLength="53.1" lengthAdjust="spacing">(droite)</tspan> <tspan x="92.7" textLength="20.2" lengthAdjust="spacing">par</tspan> <tspan x="119.0" textLength="96.5" lengthAdjust="spacing">département</tspan></text>
<text x="42.9" y="482.9" font-size="11.6" font-weight="bold" fill="#7f7f7f" textLength="333.8" lengthAdjust="spacingAndGlyphs" xml:space="preserve">Part des logements chauffés au fioul par département (en %)</text>
<text x="447.8" y="482.9" font-size="11.6" font-weight="bold" fill="#7f7f7f" textLength="332.4" lengthAdjust="spacingAndGlyphs" xml:space="preserve">Part  des logements chauffés au gaz par département (en %)</text>
<rect x="44.5" y="500.1" width="18.0" height="9.8" fill="#e6c8e3" stroke="#2a2438" stroke-width="0.8"/>
<text x="69.0" y="509.3" font-size="11.6" font-weight="bold" fill="#7f7f7f" textLength="41.4" lengthAdjust="spacingAndGlyphs" xml:space="preserve">1,8 - 8,8</text>
<rect x="127.7" y="500.1" width="18.0" height="9.8" fill="#8f6eb2" stroke="#2a2438" stroke-width="0.8"/>
<text x="150.5" y="509.3" font-size="11.6" font-weight="bold" fill="#7f7f7f" textLength="48.4" lengthAdjust="spacingAndGlyphs" xml:space="preserve">8,8 - 14,2</text>
<rect x="217.3" y="500.1" width="18.0" height="9.8" fill="#684aa0" stroke="#2a2438" stroke-width="0.8"/>
<text x="240.6" y="509.3" font-size="11.6" font-weight="bold" fill="#7f7f7f" textLength="54.6" lengthAdjust="spacingAndGlyphs" xml:space="preserve">14,2 - 18,9</text>
<rect x="312.6" y="500.1" width="18.0" height="9.8" fill="#494ea3" stroke="#2a2438" stroke-width="0.8"/>
<text x="335.7" y="509.3" font-size="11.6" font-weight="bold" fill="#7f7f7f" textLength="54.4" lengthAdjust="spacingAndGlyphs" xml:space="preserve">18,9 - 33,7</text>
<rect x="445.7" y="500.1" width="18.0" height="9.8" fill="#e6c8e3" stroke="#2a2438" stroke-width="0.8"/>
<text x="468.6" y="509.3" font-size="11.6" font-weight="bold" fill="#7f7f7f" textLength="29.5" lengthAdjust="spacingAndGlyphs" xml:space="preserve">4 - 24</text>
<rect x="528.6" y="500.1" width="18.0" height="9.8" fill="#8f6eb2" stroke="#2a2438" stroke-width="0.8"/>
<text x="551.7" y="509.3" font-size="11.6" font-weight="bold" fill="#7f7f7f" textLength="36.0" lengthAdjust="spacingAndGlyphs" xml:space="preserve">24 - 34</text>
<rect x="617.5" y="498.6" width="18.0" height="9.6" fill="#684aa0" stroke="#2a2438" stroke-width="0.8"/>
<text x="640.6" y="507.3" font-size="11.6" font-weight="bold" fill="#7f7f7f" textLength="35.8" lengthAdjust="spacingAndGlyphs" xml:space="preserve">34 - 45</text>
<rect x="713.6" y="500.7" width="18.0" height="9.9" fill="#494ea3" stroke="#2a2438" stroke-width="0.8"/>
<text x="736.9" y="510.0" font-size="11.6" font-weight="bold" fill="#7f7f7f" textLength="35.0" lengthAdjust="spacingAndGlyphs" xml:space="preserve">45 - 61</text>
<text x="46.9" y="541.9" font-size="11.55" font-weight="normal" fill="#262626" textLength="711.8" lengthAdjust="spacingAndGlyphs" xml:space="preserve">Lecture : dans le département de l’Ain, les logements chauffés au fioul représentent 14 % des résidences principales du département. Dans</text>
<text x="46.9" y="554.3" font-size="11.55" font-weight="normal" fill="#262626" textLength="425.1" lengthAdjust="spacingAndGlyphs" xml:space="preserve">le département du Rhône, 45 % des résidences principales sont chauffées au gaz.</text>
<text x="46.9" y="582.6" font-size="11.55" font-weight="normal" fill="#262626" textLength="674.0" lengthAdjust="spacingAndGlyphs" xml:space="preserve">Source : France Stratégie, d’après Insee (2021), Logements et résidences principales en 2018. Recensement de la population, juin</text>
<path d="M433.6,-1 L438,1.9 L441.7,2.8 L442.3,4.7 L445.4,5.6 L447.3,4.3 L447.3,1.9 L448.8,-1 Z" fill="#fad4d8" stroke="#333" stroke-width="0.7"/>
</svg>
</body></html>
